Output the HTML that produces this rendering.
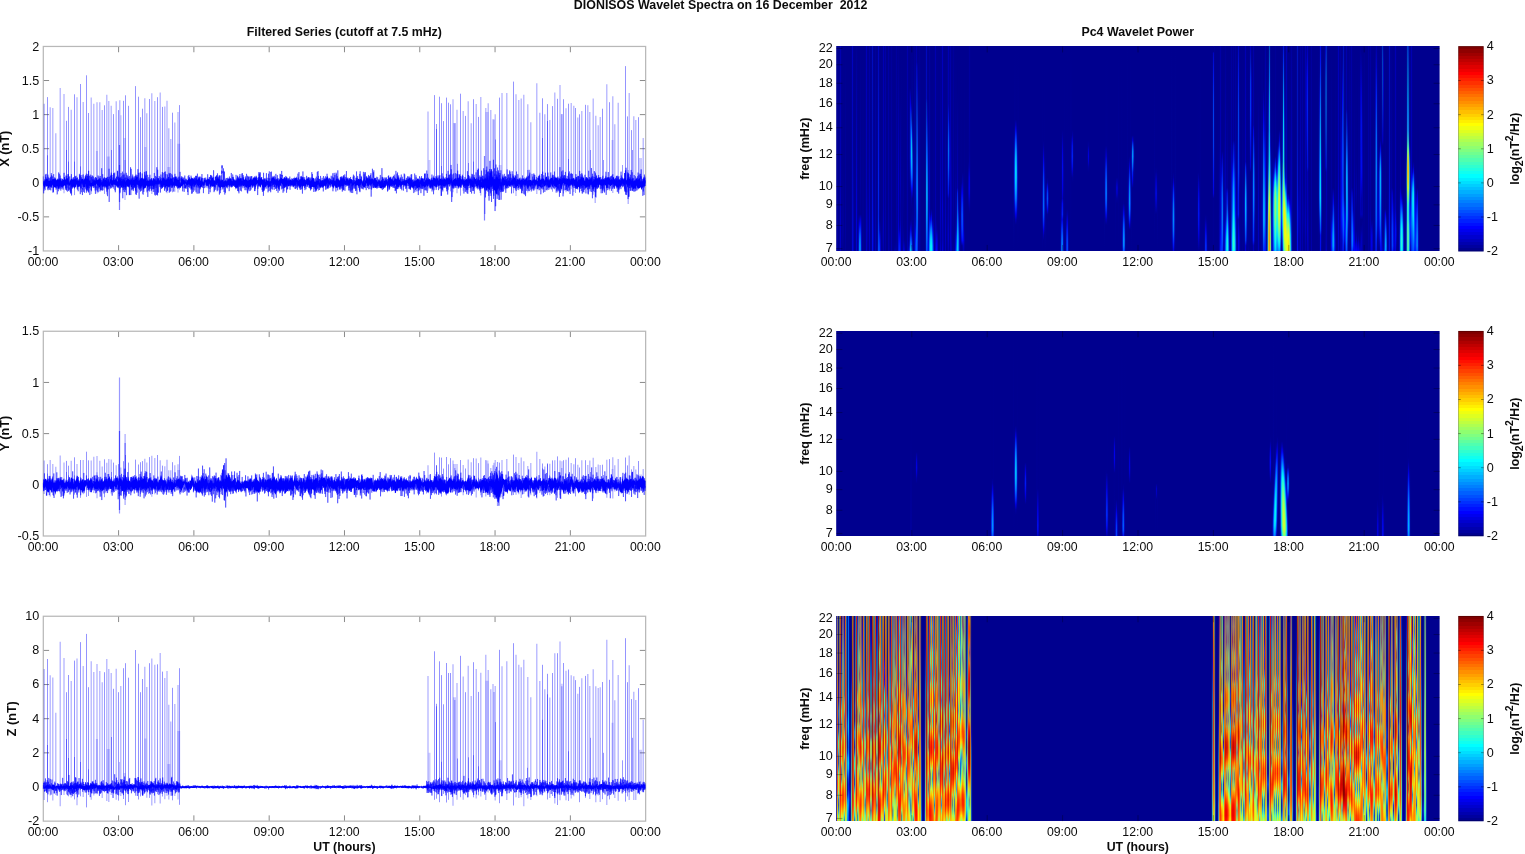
<!DOCTYPE html>
<html lang="en"><head><meta charset="utf-8"><title>DIONISOS Wavelet Spectra on 16 December 2012</title>
<style>html,body{margin:0;padding:0;background:#fff}body{width:1525px;height:854px;position:relative;overflow:hidden}</style></head>
<body>
<style>.sp{position:absolute;left:836px;width:604px;height:205px;overflow:hidden}.sp i{position:absolute;top:0;width:1px;height:205px}</style><svg width="1525" height="854" style="position:absolute;left:0;top:0"><rect x="836.2" y="46" width="603.4" height="205" fill="#00008f"/><rect x="836.2" y="331" width="603.4" height="205" fill="#00008f"/><rect x="836.2" y="616" width="603.4" height="205" fill="#00008f"/></svg><div class="sp" style="top:46px"><i style="left:1px;background:linear-gradient(#000092,#0000a6)"></i><i style="left:3px;background:linear-gradient(#000093,#000094 79.5%,#00009e)"></i><i style="left:4px;background:linear-gradient(#0000b0,#0000b4 69.2%,#0000c9 92.3%,#0000c2)"></i><i style="left:5px;background:linear-gradient(#000093,#000095)"></i><i style="left:6px;background:linear-gradient(#00008f,#000090 59%,#00009d 92.3%,#000094)"></i><i style="left:7px;background:linear-gradient(#00008f,#000090 59%,#00009c 89.7%,#000090)"></i><i style="left:9px;background:linear-gradient(#00008f,#00009f 89.7%,#009)"></i><i style="left:15px;background:linear-gradient(#000094,#000197)"></i><i style="left:16px;background:linear-gradient(#0003bd,#0008c0 74.4%,#0008d8)"></i><i style="left:17px;background:linear-gradient(#000094,#000194 48.7%,#0001bc)"></i><i style="left:18px;background:linear-gradient(#00008f,#000093)"></i><i style="left:19px;background:linear-gradient(#000090,#000096)"></i><i style="left:20px;background:linear-gradient(#000094,#0000d7 84.6%,#00c)"></i><i style="left:21px;background:linear-gradient(#000090,#00019b)"></i><i style="left:22px;background:linear-gradient(#00008f,#00008f 82.1%,#0000b1 87.2%,#0009c6 92.3%,#0019c7)"></i><i style="left:23px;background:linear-gradient(#00008f,#000090 82.1%,#0000b9 84.6%,#0001f3 87.2%,#0057fa 92.3%,#0075fa 94.9%,#0086fa 97.4%,#0088fa)"></i><i style="left:24px;background:linear-gradient(#00008f,#00009d 66.7%,#000094 82.1%,#0000d3 84.6%,#000af7 87.2%,#0056f9 92.3%,#006ffa 94.9%,#007ffa 97.4%,#0081fa)"></i><i style="left:25px;background:linear-gradient(#00008f,#000090 82.1%,#0000a5 84.6%,#0008c2 92.3%,#0011c7)"></i><i style="left:26px;background:linear-gradient(#00008f,#000095)"></i><i style="left:27px;background:linear-gradient(#00008f,#000096)"></i><i style="left:29px;background:linear-gradient(#000094,#000095)"></i><i style="left:30px;background:linear-gradient(#0000b8,#0000ba 76.9%,#0000c6)"></i><i style="left:31px;background:linear-gradient(#000094,#000095 66.7%,#0000ad 89.7%,#00009e)"></i><i style="left:32px;background:linear-gradient(#000092,#00009b 89.7%,#000096)"></i><i style="left:33px;background:linear-gradient(#0000a3,#0000af 53.8%,#0000c9 89.7%,#0000c1)"></i><i style="left:34px;background:linear-gradient(#000092,#000095)"></i><i style="left:35px;background:linear-gradient(#000194,#000299)"></i><i style="left:36px;background:linear-gradient(#000cbd,#000fbd 46.2%,#0010e5 87.2%,#000eea)"></i><i style="left:37px;background:linear-gradient(#000194,#000297 66.7%,#0002a3 79.5%,#0002bb 92.3%,#0002b3)"></i><i style="left:38px;background:linear-gradient(#000091,#000096)"></i><i style="left:39px;background:linear-gradient(#00009a,#0000b4)"></i><i style="left:40px;background:linear-gradient(#000091,#000095)"></i><i style="left:41px;background:linear-gradient(#000094,#000799 94.9%,#0008a9)"></i><i style="left:42px;background:linear-gradient(#0004bd,#000cbd 15.4%,#0018eb 56.4%,#0023ec 66.7%,#0021eb 82.1%,#0051f7)"></i><i style="left:43px;background:linear-gradient(#000094,#00049f 66.7%,#000499 84.6%,#0005c4 89.7%,#0013e7 92.3%,#0023fa 94.9%,#0037fb 97.4%,#0040fb)"></i><i style="left:44px;background:linear-gradient(#00008f,#00008f 84.6%,#00009d 89.7%,#0003c8 94.9%,#0006d3)"></i><i style="left:45px;background:linear-gradient(#00008f,#000090 82.1%,#000097)"></i><i style="left:46px;background:linear-gradient(#000093,#000093 79.5%,#0000a2 92.3%,#009)"></i><i style="left:47px;background:linear-gradient(#0000b3,#0000b3 76.9%,#0000c0 87.2%,#0000ad)"></i><i style="left:48px;background:linear-gradient(#000096,#000094)"></i><i style="left:49px;background:linear-gradient(#0000a5,#00a 87.2%,#0000a1)"></i><i style="left:52px;background:linear-gradient(#0000a3,#0000ac)"></i><i style="left:53px;background:linear-gradient(#000092,#000092 82.1%,#00009e)"></i><i style="left:54px;background:linear-gradient(#000091,#000094)"></i><i style="left:55px;background:linear-gradient(#00009a,#0000af)"></i><i style="left:56px;background:linear-gradient(#000091,#000093)"></i><i style="left:57px;background:linear-gradient(#00008f,#000091)"></i><i style="left:58px;background:linear-gradient(#00008f,#00008f 94.9%,#000094 97.4%,#0000a3)"></i><i style="left:59px;background:linear-gradient(#000091,#000090 94.9%,#000097 97.4%,#0000a9)"></i><i style="left:60px;background:linear-gradient(#00009d,#0000a4 79.5%,#009 94.9%,#0000a3)"></i><i style="left:61px;background:linear-gradient(#000091,#00029a)"></i><i style="left:62px;background:linear-gradient(#000093,#0000a8 33.3%,#0000c8 64.1%,#0000c7 82.1%,#0000d7 89.7%,#0015e8)"></i><i style="left:63px;background:linear-gradient(#000090,#00009b 87.2%,#0000af 89.7%,#0000df 92.3%,#0008fb 94.9%,#001dfb 97.4%,#0026fb)"></i><i style="left:64px;background:linear-gradient(#00008f,#000090 25.6%,#0000b5 66.7%,#0000a5 79.5%,#0000af 84.6%,#0003e2 94.9%,#000de2)"></i><i style="left:65px;background:linear-gradient(#00008f,#000198)"></i><i style="left:66px;background:linear-gradient(#00008f,#000090 51.3%,#00009e)"></i><i style="left:67px;background:linear-gradient(#00008f,#000090 51.3%,#00009a 71.8%,#000091 87.2%,#0000a4 94.9%,#0000d2)"></i><i style="left:68px;background:linear-gradient(#00008f,#000091 92.3%,#000094 94.9%,#0000c3)"></i><i style="left:69px;background:linear-gradient(#00008f,#00008f 92.3%,#009)"></i><i style="left:70px;background:linear-gradient(#000092,#000094)"></i><i style="left:71px;background:linear-gradient(#0000ab,#0000a7 87.2%,#0000b5)"></i><i style="left:72px;background:linear-gradient(#000092,#000092 89.7%,#000096 94.9%,#0001a3 97.4%,#0004be)"></i><i style="left:73px;background:linear-gradient(#00008f,#00008f 20.5%,#00009c 23.1%,#0000a0 28.2%,#00059c 38.5%,#0005a4 53.8%,#000091 69.2%,#00008f 84.6%,#000097 89.7%,#0009ba 94.9%,#0018c8 97.4%,#0033e7)"></i><i style="left:74px;background:linear-gradient(#00008f,#00008f 20.5%,#0000df 28.2%,#0022e5 33.3%,#0033e6 38.5%,#003ceb 43.6%,#003df6 53.8%,#0036f6 56.4%,#0022e1 61.5%,#0006bb 66.7%,#000095 71.8%,#000090 84.6%,#00a 87.2%,#0004db 89.7%,#0026f4 92.3%,#00bdfd)"></i><i style="left:75px;background:linear-gradient(#00008f,#000095 25.6%,#0000a1 28.2%,#0002c2 30.8%,#0035c6 35.9%,#0048e4 38.5%,#0069f6 41%,#00a9f9 46.2%,#00bffa 51.3%,#00bdfc 53.8%,#00a1fd 59%,#0066fb 64.1%,#0010f2 69.2%,#0000c8 71.8%,#0000a4 74.4%,#000090 79.5%,#000096 84.6%,#0000c2 89.7%,#0018e0 92.3%,#0042f7 94.9%,#00b0fa)"></i><i style="left:76px;background:linear-gradient(#00008f,#000594 35.9%,#000bb1 41%,#000fc6 43.6%,#0049c7 51.3%,#0055e5 56.4%,#0048f3 61.5%,#0038f3 64.1%,#0008e4 69.2%,#000092 74.4%,#000297 92.3%,#000ec7 97.4%,#0028cc)"></i><i style="left:77px;background:linear-gradient(#000090,#000092 35.9%,#00069c 61.5%,#000092 74.4%,#000399)"></i><i style="left:78px;background:linear-gradient(#000097,#0000ab 66.7%,#0000a7 82.1%,#0000bd 92.3%,#0005c0)"></i><i style="left:79px;background:linear-gradient(#000093,#000799 53.8%,#0009ac 66.7%,#00079d 82.1%,#0008b5 87.2%,#000cf8 92.3%,#0031f9 97.4%,#0035f9)"></i><i style="left:80px;background:linear-gradient(#0000ab,#0000ad 7.69%,#0006bf 10.3%,#003ec7 46.2%,#0045d0 51.3%,#0051f6 61.5%,#005ff7 66.7%,#005df6 71.8%,#004ef1 79.5%,#0049f6 84.6%,#0065ff 94.9%,#0063ff)"></i><i style="left:81px;background:linear-gradient(#000092,#000093 7.69%,#0001a7 10.3%,#0005c2 20.5%,#0020c3 30.8%,#0044f0 48.7%,#0062f4 59%,#0077f6 71.8%,#0070f6 79.5%,#0030f5)"></i><i style="left:82px;background:linear-gradient(#000090,#000b9b 64.1%,#000cab 76.9%,#00099b 87.2%,#0004a0)"></i><i style="left:83px;background:linear-gradient(#000095,#0000a6)"></i><i style="left:84px;background:linear-gradient(#000090,#000097)"></i><i style="left:89px;background:linear-gradient(#000194,#000194 25.6%,#001099 71.8%,#000ea4 84.6%,#0008a1)"></i><i style="left:90px;background:linear-gradient(#0009bd,#000abd 25.6%,#0024be 28.2%,#002dc3 33.3%,#0049f0 46.2%,#0088f5 61.5%,#009ef5 71.8%,#0094f6 82.1%,#004ef6)"></i><i style="left:91px;background:linear-gradient(#000194,#000194 25.6%,#0005c0 35.9%,#0022c6 43.6%,#004cf5 56.4%,#0074f5 66.7%,#0080f6 74.4%,#0077f5 79.5%,#002cfb)"></i><i style="left:92px;background:linear-gradient(#000091,#000092 25.6%,#000ca6 74.4%,#000ba4 87.2%,#0011da 94.9%,#0012e5 97.4%,#0011e3)"></i><i style="left:93px;background:linear-gradient(#00009c,#0000ac 46.2%,#0000c4 69.2%,#0000c1 79.5%,#00d 82.1%,#000beb 84.6%,#0021f5 87.2%,#0079fb 94.9%,#008afc 97.4%,#008ffb)"></i><i style="left:94px;background:linear-gradient(#000091,#000095 79.5%,#00009e 82.1%,#0002e0 84.6%,#03f 87.2%,#0078ff 89.7%,#00afff 92.3%,#00d6ff 94.9%,#02ebfd 97.4%,#05eefa)"></i><i style="left:95px;background:linear-gradient(#00008f,#00008f 79.5%,#0000c2 82.1%,#000bf2 84.6%,#0082fe 89.7%,#00b5ff 92.3%,#00dcff 94.9%,#05effa 97.4%,#07f2f8)"></i><i style="left:96px;background:linear-gradient(#00008f,#000090 79.5%,#00019c 84.6%,#0007cb 87.2%,#0023f4 89.7%,#007dfc 94.9%,#0096fd 97.4%,#019efe)"></i><i style="left:97px;background:linear-gradient(#00008f,#000096 82.1%,#00009d 84.6%,#0002c3 89.7%,#0009d4 92.3%,#0024e4 97.4%,#0029ed)"></i><i style="left:98px;background:linear-gradient(#000093,#000093 82.1%,#00039f)"></i><i style="left:99px;background:linear-gradient(#0000af,#0000ad 84.6%,#0000b7 92.3%,#0001c4 97.4%,#0004d4)"></i><i style="left:100px;background:linear-gradient(#000093,#000093 84.6%,#0000a8 89.7%,#0000e3 94.9%,#000af8)"></i><i style="left:101px;background:linear-gradient(#000091,#000091 87.2%,#009 89.7%,#0000c5 94.9%,#0001d6)"></i><i style="left:102px;background:linear-gradient(#000090,#000090 87.2%,#000096)"></i><i style="left:103px;background:linear-gradient(#00008f,#000095)"></i><i style="left:104px;background:linear-gradient(#00008f,#0000a1 41%,#0000c1 76.9%,#0000b3 94.9%,#0000c1)"></i><i style="left:105px;background:linear-gradient(#000094,#00009c)"></i><i style="left:106px;background:linear-gradient(#00b,#00b 66.7%,#0000cf 79.5%,#0000ba 89.7%,#0000ba 94.9%,#0000d5)"></i><i style="left:107px;background:linear-gradient(#000094,#000094 69.2%,#0000ac)"></i><i style="left:108px;background:linear-gradient(#00008f,#000097)"></i><i style="left:109px;background:linear-gradient(#00008f,#000091 25.6%,#0000c2 92.3%,#00b)"></i><i style="left:110px;background:linear-gradient(#00008f,#000095)"></i><i style="left:111px;background:linear-gradient(#000093,#000799 41%,#000baf 51.3%,#000ab6 59%,#0002aa 71.8%,#000093 74.4%,#0000a9 92.3%,#00009e)"></i><i style="left:112px;background:linear-gradient(#0000b2,#0000b3 28.2%,#0017e4 35.9%,#0027ec 38.5%,#005bf1 46.2%,#0069f2 51.3%,#005af3 59%,#001bed 69.2%,#0011e5 71.8%,#0000b3 74.4%,#0000b5 84.6%,#0000c6 92.3%,#0000c5 94.9%,#0000b4)"></i><i style="left:113px;background:linear-gradient(#000096,#00039d 35.9%,#0008c7 43.6%,#0019cc 51.3%,#000dcc 59%,#0007bb 64.1%,#00039e 69.2%,#000098 74.4%,#000098)"></i><i style="left:114px;background:linear-gradient(#0000a7,#0000c0 59%,#0000be 87.2%,#0000c6 92.3%,#0000bc)"></i><i style="left:115px;background:linear-gradient(#000092,#000094 41%,#0000b3 76.9%,#0000a7 92.3%,#0000b5)"></i><i style="left:116px;background:linear-gradient(#000091,#000095)"></i><i style="left:117px;background:linear-gradient(#00009a,#0000a1 79.5%,#000091 94.9%,#00009d)"></i><i style="left:118px;background:linear-gradient(#000091,#000091 87.2%,#000199)"></i><i style="left:119px;background:linear-gradient(#00008f,#000097 61.5%,#0000a4 74.4%,#00009b 84.6%,#0001a4 89.7%,#0008d7 97.4%,#0012e2)"></i><i style="left:120px;background:linear-gradient(#00008f,#000095 69.2%,#000aa5 82.1%,#000ebf 87.2%,#0018ca 89.7%,#003ffa 94.9%,#0072fd)"></i><i style="left:121px;background:linear-gradient(#00008f,#00008f 23.1%,#0000b2 69.2%,#001ceb 71.8%,#004af0 79.5%,#00adfd 92.3%,#00c8ff 97.4%,#0cf)"></i><i style="left:122px;background:linear-gradient(#00008f,#000093 69.2%,#00059d 74.4%,#0008c1 79.5%,#0041f6 87.2%,#0074f9 92.3%,#0081fa 94.9%,#0082fa)"></i><i style="left:123px;background:linear-gradient(#00008f,#000090 74.4%,#000398 84.6%,#000ccb 94.9%,#000cc4)"></i><i style="left:124px;background:linear-gradient(#00008f,#000090 66.7%,#000499 84.6%,#0002a3 89.7%,#000094)"></i><i style="left:125px;background:linear-gradient(#00008f,#000091 64.1%,#000097 66.7%,#0000d6 71.8%,#000be8 74.4%,#002ef5 82.1%,#0028f5 87.2%,#000feb 92.3%,#0002d9 94.9%,#000091 97.4%,#000090)"></i><i style="left:126px;background:linear-gradient(#00008f,#00008f 61.5%,#0000b0 66.7%,#00e 71.8%,#002cf7 76.9%,#0047f9 82.1%,#004af9 84.6%,#003bfc 89.7%,#000ffa 94.9%,#0000a4 97.4%,#000098)"></i><i style="left:127px;background:linear-gradient(#00008f,#00008f 61.5%,#0008c3 84.6%,#0007e2 92.3%,#0002e5 94.9%,#0000c0 97.4%,#0000ae)"></i><i style="left:128px;background:linear-gradient(#00008f,#000094 84.6%,#000097 89.7%,#0000ab 94.9%,#000098)"></i><i style="left:131px;background:linear-gradient(#00008f,#00008f)"></i><i style="left:132px;background:linear-gradient(#000091,#000092 56.4%,#0000b5 64.1%,#0000be 69.2%,#0000b9 71.8%,#000091 79.5%,#00008f)"></i><i style="left:133px;background:linear-gradient(#00009d,#0000a2 33.3%,#00009a 51.3%,#0000ab 59%,#0000da 64.1%,#0000e4 69.2%,#0000db 71.8%,#0000ac 76.9%,#00008f 82.1%,#00008f)"></i><i style="left:134px;background:linear-gradient(#000091,#000091 51.3%,#000098 69.2%,#00008f 82.1%,#00008f)"></i><i style="left:177px;background:linear-gradient(#00008f,#00008f 41%,#000599 64.1%,#00008f)"></i><i style="left:178px;background:linear-gradient(#00008f,#000093 38.5%,#0004a2 43.6%,#000ec7 48.7%,#0021c7 51.3%,#003ce0 56.4%,#0046f1 64.1%,#003aec 69.2%,#001fdb 74.4%,#000cce 76.9%,#0004b9 79.5%,#000093 84.6%,#00008f)"></i><i style="left:179px;background:linear-gradient(#00008f,#000091 35.9%,#0000b4 38.5%,#0006e2 41%,#0027f4 43.6%,#0077fa 48.7%,#00b2fb 53.8%,#00d0fe 59%,#00d4fe 61.5%,#00c5fe 66.7%,#0099fd 71.8%,#0079fc 74.4%,#0025f8 79.5%,#0000e9 82.1%,#0000b2 84.6%,#00008f 87.2%,#00008f)"></i><i style="left:180px;background:linear-gradient(#00008f,#000090 35.9%,#0000a5 38.5%,#0001c7 41%,#0032f5 46.2%,#0079f8 51.3%,#0093f9 53.8%,#00b2fa 59%,#00b7fa 61.5%,#00b5fa 64.1%,#009afa 69.2%,#0063f9 74.4%,#0016f3 79.5%,#0000d7 82.1%,#0000a4 84.6%,#00008f 87.2%,#00008f)"></i><i style="left:181px;background:linear-gradient(#00008f,#000091 38.5%,#000599 46.2%,#0014c7 56.4%,#0023c7 64.1%,#000fc7 71.8%,#0002a0 79.5%,#000091 84.6%,#00008f)"></i><i style="left:182px;background:linear-gradient(#00008f,#000094 56.4%,#00008f)"></i><i style="left:205px;background:linear-gradient(#00008f,#00008f)"></i><i style="left:206px;background:linear-gradient(#00008f,#000091 48.7%,#000499 61.5%,#000aba 71.8%,#000bc3 79.5%,#0007b5 84.6%,#000098 89.7%,#00008f)"></i><i style="left:207px;background:linear-gradient(#00008f,#00008f 46.2%,#00009b 48.7%,#0000cf 53.8%,#0006e4 56.4%,#0014ee 59%,#003af1 64.1%,#0056f3 69.2%,#0067f6 76.9%,#0064f6 79.5%,#0056f5 82.1%,#001df1 87.2%,#0000e2 89.7%,#0000af 92.3%,#00008f 94.9%,#00008f)"></i><i style="left:208px;background:linear-gradient(#00008f,#000091 48.7%,#00009b 53.8%,#0004c2 61.5%,#0022cb 71.8%,#0027d6 79.5%,#0003c4 87.2%,#000093 92.3%,#00008f)"></i><i style="left:209px;background:linear-gradient(#00008f,#00008f 51.3%,#00039b 76.9%,#00008f)"></i><i style="left:210px;background:linear-gradient(#00008f,#00008f 64.1%,#000092 66.7%,#0007c5 71.8%,#000ec7 74.4%,#0006c5 76.9%,#000091 82.1%,#00008f)"></i><i style="left:211px;background:linear-gradient(#00008f,#00008f 64.1%,#0000a7 66.7%,#000dee 69.2%,#003ef3 71.8%,#004ef4 74.4%,#003af3 76.9%,#0004ee 79.5%,#00009b 82.1%,#00008f 84.6%,#00008f)"></i><i style="left:212px;background:linear-gradient(#00008f,#00008f 64.1%,#000092 66.7%,#00019f 69.2%,#0007b8 71.8%,#0008c1 74.4%,#0006b9 76.9%,#000091 82.1%,#00008f)"></i><i style="left:213px;background:linear-gradient(#00008f,#00008f)"></i><i style="left:224px;background:linear-gradient(#00008f,#00008f 74.4%,#00089b 94.9%,#000aa6)"></i><i style="left:225px;background:linear-gradient(#00008f,#00008f 41%,#000199 59%,#000095 74.4%,#0001b3 76.9%,#0008c9 82.1%,#0001c9 84.6%,#0029f1 89.7%,#0056f5 94.9%,#0062f6 97.4%,#0064f6)"></i><i style="left:226px;background:linear-gradient(#00008f,#00008f 41%,#00009c 43.6%,#0000d9 51.3%,#000aec 59%,#0000e2 69.2%,#0000bf 74.4%,#000aef 76.9%,#0022f2 82.1%,#0006dd 84.6%,#001cf3 87.2%,#0059f7 92.3%,#006df9 94.9%,#0079f9 97.4%,#007afa)"></i><i style="left:227px;background:linear-gradient(#00008f,#00008f 41%,#000096 48.7%,#0001af 61.5%,#0000a7 69.2%,#000095 74.4%,#0001a5 76.9%,#0004a7 82.1%,#000197 84.6%,#0006a2 89.7%,#000bba 94.9%,#000cc3)"></i><i style="left:228px;background:linear-gradient(#00008f,#000094)"></i><i style="left:229px;background:linear-gradient(#00008f,#00008f 79.5%,#000399)"></i><i style="left:230px;background:linear-gradient(#00008f,#000090 79.5%,#00009c 82.1%,#0001c7 87.2%,#000ed7 89.7%,#0023eb 94.9%,#0026f0)"></i><i style="left:231px;background:linear-gradient(#00008f,#000090 79.5%,#0000a6 82.1%,#00c 84.6%,#0009e4 87.2%,#0018f2 89.7%,#003df6 94.9%,#0046f7 97.4%,#0043f7)"></i><i style="left:232px;background:linear-gradient(#00008f,#000090 79.5%,#000399 89.7%,#0006aa 94.9%,#0007b0)"></i><i style="left:234px;background:linear-gradient(#00008f,#000094 51.3%,#00008f)"></i><i style="left:235px;background:linear-gradient(#00008f,#000092 43.6%,#0002bf 48.7%,#000ac7 53.8%,#0005c7 56.4%,#0001bb 59%,#000090 64.1%,#00008f)"></i><i style="left:236px;background:linear-gradient(#00008f,#00008f 41%,#0000a7 43.6%,#0002cf 46.2%,#0013e3 48.7%,#0021f0 53.8%,#0019ed 56.4%,#000be0 59%,#0000c0 61.5%,#000098 64.1%,#00008f 66.7%,#00008f)"></i><i style="left:237px;background:linear-gradient(#00008f,#00008f 41%,#000499 53.8%,#00008f 66.7%,#00008f)"></i><i style="left:251px;background:linear-gradient(#00008f,#00008f 46.2%,#00009a 53.8%,#00008f 61.5%,#00008f)"></i><i style="left:252px;background:linear-gradient(#00008f,#00008f 46.2%,#00009e 48.7%,#00c 51.3%,#00d 53.8%,#0000cd 56.4%,#00009e 59%,#00008f 61.5%,#00008f)"></i><i style="left:253px;background:linear-gradient(#00008f,#00008f 46.2%,#000098 53.8%,#00008f 61.5%,#00008f)"></i><i style="left:268px;background:linear-gradient(#00008f,#00008f 48.7%,#000699 66.7%,#00008f)"></i><i style="left:269px;background:linear-gradient(#00008f,#000090 48.7%,#0000b7 53.8%,#0009c5 56.4%,#002ae0 61.5%,#0040f5 66.7%,#004ff5 71.8%,#0047f5 74.4%,#0034f3 76.9%,#0006cf 82.1%,#00a 84.6%,#00008f 87.2%,#00008f)"></i><i style="left:270px;background:linear-gradient(#00008f,#000091 48.7%,#0000c6 53.8%,#0024ec 59%,#0061f5 66.7%,#006ef6 71.8%,#0065f6 74.4%,#004ef5 76.9%,#002cf3 79.5%,#000ce2 82.1%,#0000b4 84.6%,#00008f 87.2%,#00008f)"></i><i style="left:271px;background:linear-gradient(#00008f,#000090 48.7%,#000a99 66.7%,#000ba4 71.8%,#00008f 87.2%,#00008f)"></i><i style="left:279px;background:linear-gradient(#00008f,#00008f 64.1%,#000095 69.2%,#00008f)"></i><i style="left:280px;background:linear-gradient(#00008f,#00008f 64.1%,#0001cb 69.2%,#0000c0 71.8%,#00009a 74.4%,#00008f 76.9%,#00008f)"></i><i style="left:281px;background:linear-gradient(#00008f,#00008f 64.1%,#0000c6 69.2%,#00b 71.8%,#009 74.4%,#00008f 76.9%,#00008f)"></i><i style="left:282px;background:linear-gradient(#00008f,#000095 69.2%,#00008f)"></i><i style="left:285px;background:linear-gradient(#00008f,#000093)"></i><i style="left:286px;background:linear-gradient(#00008f,#000090 76.9%,#0005a1 84.6%,#000cc0 89.7%,#0011c7 92.3%,#0017c7 94.9%,#0015c7 97.4%,#0009ba)"></i><i style="left:287px;background:linear-gradient(#00008f,#00008f 74.4%,#000096 76.9%,#0000c2 79.5%,#000de8 82.1%,#0056f7 87.2%,#0072f9 89.7%,#008ffa 94.9%,#0086fa 97.4%,#0054f8)"></i><i style="left:288px;background:linear-gradient(#00008f,#000090 76.9%,#0002c6 82.1%,#002fee 87.2%,#005af5 92.3%,#0064f5 94.9%,#005df5 97.4%,#002ef4)"></i><i style="left:289px;background:linear-gradient(#00008f,#00008f 76.9%,#000999 94.9%,#000499)"></i><i style="left:291px;background:linear-gradient(#00008f,#000194 71.8%,#00008f)"></i><i style="left:292px;background:linear-gradient(#00008f,#00008f 53.8%,#000399 61.5%,#000dc6 69.2%,#0017c7 71.8%,#0020c7 76.9%,#000ac5 82.1%,#000097 87.2%,#00008f 89.7%,#00008f)"></i><i style="left:293px;background:linear-gradient(#00008f,#00008f 53.8%,#0000ac 56.4%,#0000dc 59%,#001aee 61.5%,#005df3 66.7%,#0075f6 69.2%,#0091f7 74.4%,#0092f8 76.9%,#0082f7 79.5%,#005ef6 82.1%,#002af2 84.6%,#0000d6 87.2%,#00008f 89.7%,#00008f)"></i><i style="left:294px;background:linear-gradient(#00008f,#000093 53.8%,#0000a3 59%,#0009c8 64.1%,#001cc7 66.7%,#0035d8 71.8%,#003ce0 76.9%,#0034dd 79.5%,#0005c7 84.6%,#0000a6 87.2%,#00008f 89.7%,#00008f)"></i><i style="left:295px;background:linear-gradient(#00008f,#00008f 43.6%,#000899 48.7%,#0010ba 53.8%,#000ebc 56.4%,#0002a6 64.1%,#000396 69.2%,#00008f)"></i><i style="left:296px;background:linear-gradient(#00008f,#00008f 43.6%,#0003d5 46.2%,#004cf0 48.7%,#0085f4 51.3%,#0093f6 53.8%,#0081f5 56.4%,#005df3 59%,#0028ef 61.5%,#000ded 64.1%,#0000cd 66.7%,#000094 69.2%,#00008f 71.8%,#00008f)"></i><i style="left:297px;background:linear-gradient(#00008f,#00008f 43.6%,#0000ad 46.2%,#0043de 51.3%,#0047e1 53.8%,#0035d0 56.4%,#0019c7 59%,#0004b1 61.5%,#000090 69.2%,#00008f)"></i><i style="left:298px;background:linear-gradient(#00008f,#00008f 43.6%,#000697 53.8%,#00008f 66.7%,#00008f)"></i><i style="left:318px;background:linear-gradient(#00008f,#000195 71.8%,#00008f)"></i><i style="left:319px;background:linear-gradient(#00008f,#00008f 59%,#000094 61.5%,#0000be 66.7%,#0006cd 71.8%,#0001ca 74.4%,#00008f 82.1%,#00008f)"></i><i style="left:320px;background:linear-gradient(#00008f,#00008f 59%,#000098 61.5%,#0000c7 66.7%,#0009d6 71.8%,#0004d2 74.4%,#00008f 82.1%,#00008f)"></i><i style="left:321px;background:linear-gradient(#00008f,#00008f 59%,#000197 71.8%,#00008f)"></i><i style="left:335px;background:linear-gradient(#00008f,#000396 84.6%,#000090)"></i><i style="left:336px;background:linear-gradient(#00008f,#000091 64.1%,#000096 66.7%,#000cc7 74.4%,#0026c9 79.5%,#002ed3 84.6%,#0023cf 89.7%,#0006c7 94.9%,#0000a1)"></i><i style="left:337px;background:linear-gradient(#00008f,#00008f 61.5%,#00009e 64.1%,#0000ce 66.7%,#000fee 69.2%,#0034f2 71.8%,#006df5 76.9%,#0087f6 82.1%,#0088f7 84.6%,#0071f6 89.7%,#0059f5 92.3%,#0015f1 97.4%,#0000d7)"></i><i style="left:338px;background:linear-gradient(#00008f,#000091 64.1%,#000096 66.7%,#000ac7 74.4%,#0024c7 79.5%,#002bd0 84.6%,#0021cc 89.7%,#0006c5 94.9%,#00009f)"></i><i style="left:339px;background:linear-gradient(#00008f,#000395 84.6%,#000090)"></i><i style="left:361px;background:linear-gradient(#00008f,#000090 61.5%,#000299 82.1%,#000090)"></i><i style="left:362px;background:linear-gradient(#00008f,#000090 61.5%,#0004dd 71.8%,#0010eb 76.9%,#0013ef 82.1%,#000cea 87.2%,#0000d6 92.3%,#000092)"></i><i style="left:363px;background:linear-gradient(#00008f,#000091 64.1%,#0001c0 74.4%,#0005c8 82.1%,#0001bd 89.7%,#000090)"></i><i style="left:364px;background:linear-gradient(#00008f,#000095 84.6%,#00008f)"></i><i style="left:368px;background:linear-gradient(#00008f,#00008f 82.1%,#0004a3)"></i><i style="left:369px;background:linear-gradient(#00008f,#00008f 82.1%,#00009e 84.6%,#0003dd 89.7%,#0010ec 92.3%,#0029f4 97.4%,#0027f4)"></i><i style="left:370px;background:linear-gradient(#00008f,#00008f 82.1%,#000096 84.6%,#0000c1 89.7%,#0009d5 92.3%,#0019e6 97.4%,#0018e6)"></i><i style="left:371px;background:linear-gradient(#00008f,#00008f 82.1%,#000298)"></i><i style="left:376px;background:linear-gradient(#000094,#000799 35.9%,#000299 64.1%,#000098 71.8%,#000090 74.4%,#000090)"></i><i style="left:377px;background:linear-gradient(#0000ba,#0018e8 15.4%,#0035eb 25.6%,#0042eb 35.9%,#0039ec 48.7%,#0010eb 64.1%,#0003dc 71.8%,#000094 74.4%,#000094)"></i><i style="left:378px;background:linear-gradient(#000094,#0005a0 53.8%,#000098 71.8%,#000090 74.4%,#000090)"></i><i style="left:382px;background:linear-gradient(#00008f,#000093)"></i><i style="left:383px;background:linear-gradient(#000092,#000093 46.2%,#0003bc)"></i><i style="left:384px;background:linear-gradient(#0000a4,#0000b3 53.8%,#0004cb 74.4%,#0005c3 82.1%,#0005ce 87.2%,#0004ea 92.3%,#0009f6 94.9%,#001ef9)"></i><i style="left:385px;background:linear-gradient(#000092,#000093 51.3%,#009 53.8%,#0003c4 61.5%,#002be3 71.8%,#0037e4 84.6%,#0030fc 92.3%,#0031ff)"></i><i style="left:386px;background:linear-gradient(#00008f,#00008f 51.3%,#0000b7 53.8%,#0025f0 64.1%,#004cf2 69.2%,#0068f5 74.4%,#007af6 82.1%,#006df8 89.7%,#0051f9 94.9%,#0029f7)"></i><i style="left:387px;background:linear-gradient(#00008f,#000090 51.3%,#00089d 69.2%,#000cb8 76.9%,#000cc2 87.2%,#0008bf 94.9%,#0004ae)"></i><i style="left:388px;background:linear-gradient(#000090,#000094 43.6%,#0000af 84.6%,#0008ca)"></i><i style="left:389px;background:linear-gradient(#000097,#0000b6 71.8%,#0003b1 79.5%,#0006bc 84.6%,#0014f8 89.7%,#004cf9 94.9%,#005bf9 97.4%,#0060fa)"></i><i style="left:390px;background:linear-gradient(#000090,#000094 53.8%,#0000a0 69.2%,#0003c7 71.8%,#0026ca 79.5%,#0036d4 82.1%,#0048ef 84.6%,#006afc 87.2%,#01b2fe 92.3%,#01cafe 94.9%,#04d6fb)"></i><i style="left:391px;background:linear-gradient(#00008f,#000090 25.6%,#0000a2 69.2%,#0011d2 71.8%,#0029ec 76.9%,#0cf 89.7%,#0deff2 94.9%,#16f1e9 97.4%,#11f1ee)"></i><i style="left:392px;background:linear-gradient(#00008f,#000091 69.2%,#0007a0 79.5%,#0013dc 84.6%,#0045f5 89.7%,#0177f6 94.9%,#0284f5 97.4%,#0284f6)"></i><i style="left:393px;background:linear-gradient(#00008f,#000090 79.5%,#000398 87.2%,#000cb5)"></i><i style="left:394px;background:linear-gradient(#000091,#000395 82.1%,#00059c)"></i><i style="left:395px;background:linear-gradient(#00009d,#0000ab 46.2%,#0000c2 61.5%,#0022c9 82.1%,#0044ec 94.9%,#0045f1)"></i><i style="left:396px;background:linear-gradient(#000092,#000095 46.2%,#0004ba 56.4%,#000af3 61.5%,#003efa 69.2%,#0069fa 79.5%,#04cbf9 92.3%,#07d7f7 94.9%,#04d6fb)"></i><i style="left:397px;background:linear-gradient(#00009b,#0000a4 46.2%,#0010c1 48.7%,#002af1 56.4%,#005afc 61.5%,#009aff 69.2%,#00ceff 79.5%,#0ef3f1 87.2%,#30fccf 94.9%,#33fccc 97.4%,#23fbdc)"></i><i style="left:398px;background:linear-gradient(#000092,#000094 46.2%,#0002b2 48.7%,#0005c8 53.8%,#001fce 59%,#0039f3 64.1%,#0048fb 66.7%,#0087ff 79.5%,#08d4f7 89.7%,#15eaea 94.9%,#17eee8 97.4%,#0ee8f1)"></i><i style="left:399px;background:linear-gradient(#00009e,#0000a3 46.2%,#0003b0 59%,#0006d4 66.7%,#000df3 79.5%,#0018f7 82.1%,#0278f5 94.9%,#0280f6 97.4%,#017cf7)"></i><i style="left:400px;background:linear-gradient(#000091,#000096 61.5%,#00009a 71.8%,#0001b0 82.1%,#0009ad 92.3%,#000bb4)"></i><i style="left:401px;background:linear-gradient(#000094,#00079b 41%,#0007af 56.4%,#0002bf 82.1%,#0000a0 84.6%,#00009e)"></i><i style="left:402px;background:linear-gradient(#0005bd,#001deb 17.9%,#003bec 30.8%,#0041ed 41%,#003cf2 61.5%,#001cee 71.8%,#0016e8 76.9%,#0014ee 82.1%,#0000b8 84.6%,#0000e6 92.3%,#0000eb 94.9%,#0000e3)"></i><i style="left:403px;background:linear-gradient(#000094,#000599 25.6%,#0007aa 35.9%,#0007aa 48.7%,#0007bf 61.5%,#000399 71.8%,#00029d 82.1%,#000094 84.6%,#000096 87.2%,#0000c1 94.9%,#0000b7)"></i><i style="left:404px;background:linear-gradient(#00008f,#000093)"></i><i style="left:406px;background:linear-gradient(#00008f,#009 79.5%,#000091 94.9%,#000097)"></i><i style="left:407px;background:linear-gradient(#00008f,#000095 79.5%,#000090)"></i><i style="left:408px;background:linear-gradient(#000093,#000094 56.4%,#000c99 66.7%,#0012bc 74.4%,#0012c5 79.5%,#000eba 87.2%,#000699 94.9%,#000097)"></i><i style="left:409px;background:linear-gradient(#0000b3,#0000b9 56.4%,#0020e9 59%,#0087f3 69.2%,#00a7f8 74.4%,#00adf9 76.9%,#00abf9 79.5%,#0095f9 84.6%,#0038f1 94.9%,#0000d4 97.4%,#0000d3)"></i><i style="left:410px;background:linear-gradient(#000093,#000094 56.4%,#0006c2 61.5%,#002bc7 66.7%,#0048e3 71.8%,#0054f2 79.5%,#0048f1 84.6%,#02d 92.3%,#0012ce 94.9%,#0000a1 97.4%,#00009c)"></i><i style="left:411px;background:linear-gradient(#00008f,#000090 56.4%,#00079a 79.5%,#000092)"></i><i style="left:412px;background:linear-gradient(#00008f,#000094 89.7%,#000096 97.4%,#0000a0)"></i><i style="left:413px;background:linear-gradient(#000093,#00049a 41%,#000096 59%,#000090 61.5%,#000092)"></i><i style="left:414px;background:linear-gradient(#0000b2,#0001bd 2.56%,#0017be 7.69%,#0031e3 17.9%,#0033f0 30.8%,#0028ef 38.5%,#0000d6 56.4%,#0000cb 59%,#00008f 61.5%,#000092)"></i><i style="left:415px;background:linear-gradient(#000093,#000298 7.69%,#0005bb 15.4%,#0006c6 20.5%,#0006c7 33.3%,#000091 61.5%,#000090)"></i><i style="left:416px;background:linear-gradient(#000092,#000097 38.5%,#00099a 53.8%,#000eb8 66.7%,#000dc0 74.4%,#0003b5 94.9%,#000097 97.4%,#000095)"></i><i style="left:417px;background:linear-gradient(#0000a7,#00a 38.5%,#0006dc 41%,#000ce9 43.6%,#006cf2 59%,#007df5 64.1%,#0084f7 69.2%,#007ff8 74.4%,#006ef6 79.5%,#001ff1 94.9%,#00b 97.4%,#0000ba)"></i><i style="left:418px;background:linear-gradient(#000092,#000092 38.5%,#000199 43.6%,#000ec7 53.8%,#001ac7 56.4%,#002bd7 61.5%,#0036e7 71.8%,#0027dc 79.5%,#000ac7 87.2%,#0003b5 94.9%,#000094 97.4%,#000094)"></i><i style="left:419px;background:linear-gradient(#00008f,#00008f 43.6%,#000498 71.8%,#00008f)"></i><i style="left:421px;background:linear-gradient(#00008f,#000094)"></i><i style="left:422px;background:linear-gradient(#00008f,#000090 23.1%,#0000bf 79.5%,#0000b9)"></i><i style="left:423px;background:linear-gradient(#00008f,#000094)"></i><i style="left:424px;background:linear-gradient(#00008f,#000091 64.1%,#00009e 87.2%,#000093)"></i><i style="left:425px;background:linear-gradient(#00008f,#00009e 64.1%,#0000a9 79.5%,#00009e 94.9%,#0000a2)"></i><i style="left:426px;background:linear-gradient(#00008f,#009 35.9%,#000d9c 64.1%,#0010be 74.4%,#0011c9 82.1%,#0009af 94.9%,#0005ad)"></i><i style="left:427px;background:linear-gradient(#00008f,#00008f 20.5%,#0004e0 35.9%,#001ff0 43.6%,#0071f5 61.5%,#0095f8 71.8%,#00a5fa 79.5%,#00a4fa 84.6%,#009bf9 87.2%,#0075f8 92.3%,#002cf7)"></i><i style="left:428px;background:linear-gradient(#000092,#000097 28.2%,#0003cb 41%,#000ccc 43.6%,#0036fd 56.4%,#008eff 74.4%,#009cff 79.5%,#0097ff 84.6%,#008aff 87.2%,#002eff 97.4%,#0020ff)"></i><i style="left:429px;background:linear-gradient(#0000a5,#0000b3 38.5%,#0007ee 61.5%,#002ff5 76.9%,#0038f5 84.6%,#0010f6)"></i><i style="left:430px;background:linear-gradient(#000092,#000299 71.8%,#000aa7)"></i><i style="left:431px;background:linear-gradient(#00008f,#000394 41%,#061394 71.8%,#081599 74.4%,#0c17ba 79.5%,#124cb5 89.7%,#1363ba)"></i><i style="left:432px;background:linear-gradient(#000894,#000c99 15.4%,#0214c5 28.2%,#0227c5 35.9%,#0129c6 41%,#0238c6 43.6%,#0147c6 51.3%,#025bc5 56.4%,#0778e3 61.5%,#128ae3 64.1%,#6be78d 76.9%,#9de35d 82.1%,#a9da51 84.6%,#c1c939 92.3%,#c7ca33)"></i><i style="left:433px;background:linear-gradient(#0047bd,#0055c2 5.13%,#0066e6 12.8%,#1098e0 25.6%,#13a4de 33.3%,#0aa0e7 41%,#0ecde8 53.8%,#14dae3 56.4%,#3de3bf 61.5%,#87ef78 69.2%,#c5f63a 74.4%,#d6ee29 76.9%,#e3e21c 79.5%,#e9bf16 84.6%,#eca713 89.7%,#f0990f 94.9%,#f19e0e)"></i><i style="left:434px;background:linear-gradient(#000894,#0111a3 41%,#0114c5 48.7%,#0c78e9 66.7%,#0e8ce7 69.2%,#1c9ad9 71.8%,#46bbaf 79.5%,#65d694 87.2%,#6cde8d 89.7%,#84dd76 94.9%,#8ddf6d)"></i><i style="left:435px;background:linear-gradient(#00008f,#000095 48.7%,#000d9e 69.2%,#051499 79.5%,#0919be 89.7%,#0d1fbf)"></i><i style="left:436px;background:linear-gradient(#00008f,#00008f 28.2%,#00009a 53.8%,#0000a6 61.5%,#000bc7 71.8%,#001ac7 76.9%,#0021d0 84.6%,#0007c9)"></i><i style="left:437px;background:linear-gradient(#00008f,#000094 53.8%,#0004b4 61.5%,#000bdf 64.1%,#0028f8 66.7%,#0579f5 71.8%,#0791f3 74.4%,#08a1f2 79.5%,#07a0f3 82.1%,#048ff7 87.2%,#0047fa)"></i><i style="left:438px;background:linear-gradient(#000090,#000091 53.8%,#0001a7 56.4%,#0009c9 59%,#0034e7 61.5%,#0074fc 64.1%,#03bbfc 66.7%,#1fdde0 69.2%,#36f3c9 71.8%,#4df5b2 74.4%,#53f7ac 79.5%,#4bf7b4 82.1%,#2bf5d4 87.2%,#02cefd 94.9%,#009fff)"></i><i style="left:439px;background:linear-gradient(#000098,#000098 53.8%,#000bd4 56.4%,#0032f1 59%,#00c7ff 64.1%,#1df1e2 66.7%,#4efab1 69.2%,#72fe8d 71.8%,#8f7 74.4%,#8dff72 76.9%,#8aff75 79.5%,#73ff8c 84.6%,#4afcb5 89.7%,#16f6e9 94.9%,#02ebfd 97.4%,#00ceff)"></i><i style="left:440px;background:linear-gradient(#000090,#000090 48.7%,#000093 53.8%,#0007a9 59%,#0017e7 61.5%,#0058ff 64.1%,#03a3fc 66.7%,#0bdbf4 69.2%,#23f2dc 71.8%,#33fecc 74.4%,#3effc1 76.9%,#3affc5 82.1%,#1efbe1 87.2%,#11f1ee 89.7%,#05e1fa 92.3%,#0090ff)"></i><i style="left:441px;background:linear-gradient(#00008f,#00008f 46.2%,#000093 48.7%,#0002a1 51.3%,#000dcb 56.4%,#033cf9 61.5%,#056ffa 64.1%,#0cccf3 69.2%,#16e9e9 71.8%,#2efed1 76.9%,#35ffca 82.1%,#11f2ee 89.7%,#06def9 92.3%,#07f)"></i><i style="left:442px;background:linear-gradient(#00008f,#00008f 41%,#000198 46.2%,#0004bb 48.7%,#001fe0 51.3%,#004af8 53.8%,#03bff9 59%,#38f1c7 64.1%,#5ff6a0 66.7%,#9bfd64 71.8%,#aefe51 74.4%,#beff41 79.5%,#b8ff47 82.1%,#8cff73 87.2%,#3cfcc3 92.3%,#11f2ee 94.9%,#0cf 97.4%,#0096ff)"></i><i style="left:443px;background:linear-gradient(#00008f,#00008f 41%,#0006dd 46.2%,#0029ef 48.7%,#00cefa 56.4%,#1ae9e1 59%,#6cf393 64.1%,#aff950 69.2%,#d7fb28 74.4%,#def921 79.5%,#dafd25 82.1%,#aefc51 87.2%,#89fb76 89.7%,#2bf5d4 94.9%,#00e5ff 97.4%,#00aafe)"></i><i style="left:444px;background:linear-gradient(#00008f,#00008f 41%,#0004a0 48.7%,#000ab6 51.3%,#0016c7 53.8%,#034dc8 59%,#0b7dea 64.1%,#169bdf 66.7%,#28add1 69.2%,#40c7bf 74.4%,#48d7b7 79.5%,#3fd5c0 84.6%,#0eb1ec 92.3%,#0066f5 97.4%,#003dec)"></i><i style="left:445px;background:linear-gradient(#00008f,#000298 51.3%,#011ba3 66.7%,#0523e1 71.8%,#0726f8 74.4%,#0843f7 79.5%,#0844f7 82.1%,#042df7 87.2%,#0220eb 89.7%,#0014b2 94.9%,#000da1 97.4%,#00079e)"></i><i style="left:446px;background:linear-gradient(#000296,#001399 30.8%,#0117c5 43.6%,#0333c4 56.4%,#064ec1 59%,#0968e8 64.1%,#0b85ea 66.7%,#0da2ec 69.2%,#19b0e3 71.8%,#2bc5d4 79.5%,#28c3d7 82.1%,#10aaef 87.2%,#0b6eef 92.3%,#0750e9 94.9%,#0225c5)"></i><i style="left:447px;background:linear-gradient(#0011ce,#002beb 7.69%,#007bec 20.5%,#00c2f2 35.9%,#0dd5e7 46.2%,#1ddad8 56.4%,#36dfbf 59%,#51e7ad 64.1%,#63ef9c 66.7%,#bcfb43 76.9%,#c7fb38 79.5%,#c8f937 82.1%,#93f56c 89.7%,#34e5c8 97.4%,#1ccfdd)"></i><i style="left:448px;background:linear-gradient(#000296,#000a99 15.4%,#0013c6 30.8%,#0137c6 43.6%,#034fc4 56.4%,#0662c1 59%,#076fdd 61.5%,#0991ed 64.1%,#34e5cb 69.2%,#63f99c 71.8%,#caff35 76.9%,#ecfc13 79.5%,#f7f008 82.1%,#f7ee08 87.2%,#f4f90b 89.7%,#e3ff1c 92.3%,#c4ff3b 94.9%,#74fc8b)"></i><i style="left:449px;background:linear-gradient(#000094,#000899 59%,#000ea9 64.1%,#0213ee 66.7%,#0460f9 69.2%,#09b7f6 71.8%,#26efd9 74.4%,#9efd61 79.5%,#c8fd37 82.1%,#e4fc1b 84.6%,#f5fb0a 89.7%,#f3ff0c 92.3%,#e4ff1b 94.9%,#afff50)"></i><i style="left:450px;background:linear-gradient(#0000b8,#00b 56.4%,#0006c7 64.1%,#000fd6 66.7%,#0025e2 69.2%,#004bf5 71.8%,#09c1f6 76.9%,#28e8d7 79.5%,#51fdae 82.1%,#82ff7d 84.6%,#c6ff39 89.7%,#daff25 92.3%,#e3ff1c 94.9%,#d9fe26)"></i><i style="left:451px;background:linear-gradient(#000094,#000095 61.5%,#000699 71.8%,#000cd1 74.4%,#0042ff 76.9%,#039dfc 79.5%,#08eef7 82.1%,#41ffbe 84.6%,#80ff7f 87.2%,#b2ff4d 89.7%,#d9ff26 92.3%,#f1fc0e 94.9%,#f9f106)"></i><i style="left:452px;background:linear-gradient(#00008f,#00008f 71.8%,#0000e1 74.4%,#004afc 76.9%,#00a8ff 79.5%,#0af5f5 82.1%,#8dff72 87.2%,#c3ff3c 89.7%,#ecff13 92.3%,#fade05 97.4%,#fbda04)"></i><i style="left:453px;background:linear-gradient(#00008f,#000093 71.8%,#0000ac 74.4%,#0014e1 76.9%,#0052fd 79.5%,#01a2fe 82.1%,#16d7e9 84.6%,#3af4c5 87.2%,#6cf793 89.7%,#93fb6c 92.3%,#aefa51 94.9%,#bff940 97.4%,#c5f93a)"></i><i style="left:454px;background:linear-gradient(#000091,#000094 35.9%,#0000ac 69.2%,#0000b8 74.4%,#0001c9 76.9%,#000bec 79.5%,#002bfa 82.1%,#0581f5 87.2%,#0ec4ee 92.3%,#28d9d5 97.4%,#2dded0)"></i><i style="left:455px;background:linear-gradient(#00009f,#0000b9 69.2%,#0001c6 79.5%,#001bc7 87.2%,#0031d4 92.3%,#0344e4)"></i><i style="left:456px;background:linear-gradient(#000091,#000598)"></i><i style="left:460px;background:linear-gradient(#000294,#000299)"></i><i style="left:461px;background:linear-gradient(#0011bd,#0013bd 46.2%,#0015e3 79.5%,#000eec)"></i><i style="left:462px;background:linear-gradient(#000294,#000299 66.7%,#0002bc 82.1%,#0002b7 87.2%,#0002a3 94.9%,#0002ad)"></i><i style="left:463px;background:linear-gradient(#000091,#000093 38.5%,#0000a8 69.2%,#0000b8 82.1%,#0000a4 94.9%,#0000a8)"></i><i style="left:464px;background:linear-gradient(#00009c,#0000b2 51.3%,#0000b9)"></i><i style="left:465px;background:linear-gradient(#000093,#000097)"></i><i style="left:466px;background:linear-gradient(#0000a0,#0000ae 82.1%,#00a)"></i><i style="left:467px;background:linear-gradient(#000091,#000092 66.7%,#0000a4 82.1%,#000093 94.9%,#000096)"></i><i style="left:468px;background:linear-gradient(#000093,#000094 71.8%,#00009e 84.6%,#000092)"></i><i style="left:469px;background:linear-gradient(#0000b1,#0000b6 28.2%,#0000b1 74.4%,#0000be 87.2%,#0000a8)"></i><i style="left:470px;background:linear-gradient(#000097,#00009e 5.13%,#0001c4 15.4%,#0003cb 28.2%,#0003bb 41%,#00029c 53.8%,#000096)"></i><i style="left:471px;background:linear-gradient(#0000b7,#0000b9 2.56%,#000bed 15.4%,#001ff0 28.2%,#0017ee 43.6%,#000ed8 59%,#0000b7 61.5%,#0000ba 82.1%,#0000c7 89.7%,#0000b5)"></i><i style="left:472px;background:linear-gradient(#000094,#000299 46.2%,#0002a2 59%,#000096 61.5%,#0000ab)"></i><i style="left:475px;background:linear-gradient(#00009e,#0000a4 84.6%,#0000ac)"></i><i style="left:482px;background:linear-gradient(#00008f,#000899 64.1%,#00008f)"></i><i style="left:483px;background:linear-gradient(#000197,#000599 12.8%,#000dc7 28.2%,#0038c9 43.6%,#0057f3 61.5%,#006cf5 71.8%,#0068f5 74.4%,#0047ee 79.5%,#0021ca 84.6%,#000cc7 87.2%,#0008b7 89.7%,#000299 92.3%,#000199)"></i><i style="left:484px;background:linear-gradient(#000bd2,#0015eb 7.69%,#0075f0 30.8%,#00a8f2 46.2%,#00c9fa 61.5%,#02d3f8 71.8%,#00d1fa 74.4%,#00c3fa 76.9%,#0098f7 82.1%,#0049f3 89.7%,#0010ed 92.3%,#000ceb)"></i><i style="left:485px;background:linear-gradient(#000197,#019 43.6%,#0019c7 61.5%,#002cc7 74.4%,#0027c7 79.5%,#000ec7 87.2%,#0008c1 89.7%,#0002a8 92.3%,#00019c)"></i><i style="left:486px;background:linear-gradient(#00008f,#000090)"></i><i style="left:488px;background:linear-gradient(#000094,#000594 25.6%,#000091)"></i><i style="left:489px;background:linear-gradient(#0004bc,#0009c2 2.56%,#0030c2 15.4%,#003ac2 25.6%,#002dc2 38.5%,#0003c0 56.4%,#0002ba 59%,#000093 61.5%,#00009b 92.3%,#0000a5)"></i><i style="left:490px;background:linear-gradient(#0024c1,#0045c2 15.4%,#004bc2 28.2%,#003cc2 41%,#0015c1 59%,#0000b1 61.5%,#0000ad 94.9%,#00b)"></i><i style="left:491px;background:linear-gradient(#000494,#000094)"></i><i style="left:494px;background:linear-gradient(#00008f,#000093 74.4%,#0001ad 92.3%,#0000a5)"></i><i style="left:495px;background:linear-gradient(#00008f,#0000a1 61.5%,#00009d 76.9%,#0002a7 82.1%,#0003b5 84.6%,#0008ec 89.7%,#0010f6 92.3%,#0016f7 97.4%,#000bf2)"></i><i style="left:496px;background:linear-gradient(#00008f,#000091 69.2%,#0008c9 79.5%,#001aca 82.1%,#003afb 87.2%,#0069ff 92.3%,#0074ff 94.9%,#0071ff 97.4%,#0052fe)"></i><i style="left:497px;background:linear-gradient(#00008f,#00008f 69.2%,#0001d8 74.4%,#000fed 76.9%,#002df2 79.5%,#007bfb 87.2%,#009dfd 92.3%,#00a6fe 94.9%,#00a2ff 97.4%,#007dfe)"></i><i style="left:498px;background:linear-gradient(#00008f,#000091 69.2%,#00029d 76.9%,#000dc9 84.6%,#0038f3 94.9%,#0038f8 97.4%,#0026ee)"></i><i style="left:499px;background:linear-gradient(#00008f,#00009d 74.4%,#0003ac 89.7%,#0004c3 97.4%,#0003c0)"></i><i style="left:500px;background:linear-gradient(#00008f,#000091 71.8%,#00009c 82.1%,#000094)"></i><i style="left:501px;background:linear-gradient(#000094,#000096 74.4%,#0000a3 82.1%,#000095)"></i><i style="left:502px;background:linear-gradient(#0000b9,#0000bd 59%,#0001da 87.2%,#0000d5 92.3%,#0000c2)"></i><i style="left:503px;background:linear-gradient(#000095,#000098)"></i><i style="left:504px;background:linear-gradient(#00009b,#0001c4 84.6%,#0000b2)"></i><i style="left:505px;background:linear-gradient(#000091,#00039c 33.3%,#0006db 53.8%,#0005e7 69.2%,#0009f9 76.9%,#0010f9 82.1%,#000bf9 84.6%,#0006f0 87.2%,#0002ba 94.9%,#0001b8 97.4%,#0001c1)"></i><i style="left:506px;background:linear-gradient(#000294,#000295 5.13%,#0002a3 10.3%,#0003f0 25.6%,#0024f1 35.9%,#0033f4 43.6%,#0040fa 56.4%,#0033fa 69.2%,#0048ff 79.5%,#0049ff 82.1%,#0033fe 87.2%,#0015d6 94.9%,#000eda)"></i><i style="left:507px;background:linear-gradient(#000fbd,#002fc7 43.6%,#0032d9 48.7%,#0035df 53.8%,#0033d0 64.1%,#0032d3 66.7%,#0033e9 71.8%,#0039f5 74.4%,#0057fc 79.5%,#0065ff 84.6%,#0057fe 89.7%,#0033f7 94.9%,#001def 97.4%,#0016dd)"></i><i style="left:508px;background:linear-gradient(#000294,#000599 71.8%,#00069d 74.4%,#0009dc 79.5%,#0010ef 82.1%,#0019fe 87.2%,#000bf4 92.3%,#0008d5 94.9%,#0005a8 97.4%,#00039f)"></i><i style="left:509px;background:linear-gradient(#000093,#000093 30.8%,#000e99 56.4%,#0011b1 64.1%,#0011a3 74.4%,#0010aa 76.9%,#0013ef 84.6%,#0029ff 89.7%,#002efe 92.3%,#0029fa 94.9%,#0012de)"></i><i style="left:510px;background:linear-gradient(#0000ad,#0000af 30.8%,#0014be 33.3%,#002dc9 41%,#004aef 48.7%,#0095f6 59%,#00abf7 66.7%,#0090ff 89.7%,#007cfc 94.9%,#0057f9)"></i><i style="left:511px;background:linear-gradient(#000093,#000093 30.8%,#0004bb 38.5%,#0032ca 48.7%,#0054f2 56.4%,#0078f5 64.1%,#0089f7 74.4%,#0081f9 82.1%,#0075f9 84.6%,#004ef6 89.7%,#002ad5 97.4%,#0021d4)"></i><i style="left:512px;background:linear-gradient(#000090,#000095 38.5%,#000d9c 71.8%,#000db7 76.9%,#000cc4 82.1%,#000bc0 84.6%,#0007a1 89.7%,#00059a 92.3%,#000397)"></i><i style="left:513px;background:linear-gradient(#000097,#00009d 69.2%,#0000a5 84.6%,#000095)"></i><i style="left:514px;background:linear-gradient(#000093,#000399)"></i><i style="left:515px;background:linear-gradient(#0000a6,#0000a6 69.2%,#0005c2 71.8%,#0034f2 87.2%,#0042f5 92.3%,#0043f5 94.9%,#003af5 97.4%,#0024e6)"></i><i style="left:516px;background:linear-gradient(#000092,#000092 69.2%,#0001bc 71.8%,#001cec 79.5%,#0059fd 87.2%,#0073ff 92.3%,#0075ff 94.9%,#0068ff 97.4%,#0034fa)"></i><i style="left:517px;background:linear-gradient(#00008f,#000093 69.2%,#00039c 79.5%,#000ce8 87.2%,#001ff9 92.3%,#0020fd 94.9%,#0018fb 97.4%,#0006db)"></i><i style="left:518px;background:linear-gradient(#00008f,#000090 20.5%,#00009e 56.4%,#0000b2 71.8%,#0000ae 82.1%,#0000bc 87.2%,#0001f5 97.4%,#0001f6)"></i><i style="left:519px;background:linear-gradient(#00008f,#000095 89.7%,#0000a3 94.9%,#0000d2 97.4%,#0000f3)"></i><i style="left:520px;background:linear-gradient(#00008f,#000093 56.4%,#0000a6 71.8%,#000092 79.5%,#00008f 87.2%,#000092 89.7%,#0000a6 92.3%,#0000fb)"></i><i style="left:521px;background:linear-gradient(#00008f,#000090 89.7%,#009 94.9%,#0000e8)"></i><i style="left:522px;background:linear-gradient(#00008f,#00009b 71.8%,#00008f 87.2%,#00009b 92.3%,#0000eb)"></i><i style="left:523px;background:linear-gradient(#000090,#000096 69.2%,#000090 89.7%,#000095 94.9%,#0000ac 97.4%,#00c)"></i><i style="left:524px;background:linear-gradient(#000091,#0001c3 25.6%,#000bc6 43.6%,#0004c9 66.7%,#0000b4 76.9%,#0000b2 82.1%,#00008f 84.6%,#00008f 87.2%,#0000a6 94.9%,#0000c4)"></i><i style="left:525px;background:linear-gradient(#000090,#000090 2.56%,#0000b5 15.4%,#0002d2 23.1%,#000ee6 38.5%,#000be5 48.7%,#000cee 59%,#0005e9 64.1%,#0000df 66.7%,#00a 74.4%,#0000a8 79.5%,#0000b7 82.1%,#00008f 84.6%,#000090 87.2%,#00009b 89.7%,#0000b2 92.3%,#0000be 94.9%,#0000c1 97.4%,#0000b7)"></i><i style="left:526px;background:linear-gradient(#00008f,#000198 28.2%,#0001a8 38.5%,#0001bc 61.5%,#0000ab 74.4%,#0000b0 82.1%,#00008f 84.6%,#0000a4 92.3%,#0000a9)"></i><i style="left:527px;background:linear-gradient(#000090,#000093)"></i><i style="left:528px;background:linear-gradient(#000094,#000097 79.5%,#000090 94.9%,#000095)"></i><i style="left:532px;background:linear-gradient(#0000a0,#0000a6 82.1%,#00009f)"></i><i style="left:533px;background:linear-gradient(#000093,#000095)"></i><i style="left:534px;background:linear-gradient(#0000a0,#0000a4 61.5%,#00009c 76.9%,#0000b9 92.3%,#0000b6)"></i><i style="left:535px;background:linear-gradient(#000091,#000092 84.6%,#0000a3 87.2%,#0000c7 89.7%,#0000de 92.3%,#0000e8 94.9%,#0000e6 97.4%,#0000d9)"></i><i style="left:536px;background:linear-gradient(#00008f,#00008f 82.1%,#000091 84.6%,#0000c1 92.3%,#0000c7 97.4%,#0000bf)"></i><i style="left:537px;background:linear-gradient(#00008f,#000094)"></i><i style="left:538px;background:linear-gradient(#00008f,#000296)"></i><i style="left:539px;background:linear-gradient(#000092,#0008c7 28.2%,#002ac7 46.2%,#003ac7 64.1%,#0031d6 82.1%,#0011d2)"></i><i style="left:540px;background:linear-gradient(#0000a4,#0003c7 10.3%,#0020ed 23.1%,#0064f2 43.6%,#007ef5 61.5%,#0077f5 69.2%,#005bf8 84.6%,#0045f6 89.7%,#0023f2 94.9%,#0015df)"></i><i style="left:541px;background:linear-gradient(#000092,#000899 35.9%,#000dc2 59%,#000cc3 74.4%,#000ad7 84.6%,#0009d0 87.2%,#00049c 94.9%,#000298)"></i><i style="left:542px;background:linear-gradient(#00008f,#000092 48.7%,#00049b 59%,#0006b0 66.7%,#0004ca 84.6%,#0002c1 89.7%,#000092)"></i><i style="left:543px;background:linear-gradient(#00008f,#000091 46.2%,#000096 48.7%,#0003a9 51.3%,#0008c6 53.8%,#0023c7 56.4%,#0044e6 61.5%,#0048f0 66.7%,#0039f9 79.5%,#0024f2 87.2%,#0007e0 92.3%,#0001a9 97.4%,#000098)"></i><i style="left:544px;background:linear-gradient(#00008f,#00008f 43.6%,#00009e 46.2%,#0000cd 48.7%,#0019ed 51.3%,#0076f5 56.4%,#0096f7 59%,#00aaf8 61.5%,#00b0f9 64.1%,#00a7fa 71.8%,#0081fa 82.1%,#0063f9 87.2%,#0023f7 94.9%,#000df4 97.4%,#0003e5)"></i><i style="left:545px;background:linear-gradient(#000594,#000096 48.7%,#0003a0 51.3%,#000dc5 56.4%,#0028c7 61.5%,#0030c7 69.2%,#0015c7 87.2%,#000ae1 94.9%,#0000e5)"></i><i style="left:546px;background:linear-gradient(#002fbe,#003ec1 7.69%,#003bc2 17.9%,#002bc2 28.2%,#0003bf 43.6%,#0000ba 46.2%,#00008f 48.7%,#000196 92.3%,#0000c2)"></i><i style="left:547px;background:linear-gradient(#000598,#0007b6 7.69%,#0007c2 15.4%,#0004bd 30.8%,#00009f 46.2%,#00008f 48.7%,#000294 92.3%,#00049b 97.4%,#0004ae)"></i><i style="left:548px;background:linear-gradient(#000090,#000090 79.5%,#0000ac 82.1%,#0007c1 87.2%,#002cca 94.9%,#0037ef)"></i><i style="left:549px;background:linear-gradient(#00008f,#000097 79.5%,#0004e1 82.1%,#001ef1 84.6%,#0066f8 89.7%,#0099fa 94.9%,#00a4fd 97.4%,#009afe)"></i><i style="left:550px;background:linear-gradient(#00008f,#000090 79.5%,#000098 82.1%,#000fd0 87.2%,#003df5 92.3%,#0055f5 94.9%,#0062f5 97.4%,#0056f5)"></i><i style="left:551px;background:linear-gradient(#00008f,#000091 82.1%,#00089e)"></i><i style="left:552px;background:linear-gradient(#000194,#000297 69.2%,#0001b7)"></i><i style="left:553px;background:linear-gradient(#000bbd,#000ebd 46.2%,#0010eb 89.7%,#000ce0)"></i><i style="left:554px;background:linear-gradient(#000195,#00029d)"></i><i style="left:555px;background:linear-gradient(#000093,#0000a5 69.2%,#0000b8 71.8%,#0002c7 79.5%,#000dc8 84.6%,#0016d4 89.7%,#0015c7 97.4%,#0009c7)"></i><i style="left:556px;background:linear-gradient(#000090,#000095 69.2%,#0000c3 71.8%,#000df1 79.5%,#0035f8 87.2%,#0044f9 92.3%,#0043f8 97.4%,#0027f5)"></i><i style="left:557px;background:linear-gradient(#00008f,#000090 69.2%,#000098 74.4%,#0009db 87.2%,#000fe4 97.4%,#0004cf)"></i><i style="left:558px;background:linear-gradient(#000094,#000093 69.2%,#00009f 76.9%,#0002cc 94.9%,#0001cd 97.4%,#0000c1)"></i><i style="left:559px;background:linear-gradient(#0000b4,#0000b3 74.4%,#0000bf 79.5%,#0004e4 84.6%,#000cf3 89.7%,#0008f1 94.9%,#0000d5)"></i><i style="left:560px;background:linear-gradient(#000094,#000095 79.5%,#0000a2 84.6%,#0001c0 89.7%,#0001c0 92.3%,#000097)"></i><i style="left:561px;background:linear-gradient(#00008f,#00008f)"></i><i style="left:562px;background:linear-gradient(#00008f,#000094)"></i><i style="left:563px;background:linear-gradient(#00008f,#000092 69.2%,#000b9c 84.6%,#0011bc 92.3%,#0011c4)"></i><i style="left:564px;background:linear-gradient(#00008f,#000090 33.3%,#00a 69.2%,#0000d5 71.8%,#0007e7 74.4%,#0019f3 76.9%,#0073f5 84.6%,#01a2f7 89.7%,#04b8f6 94.9%,#04baf6 97.4%,#02b1f8)"></i><i style="left:565px;background:linear-gradient(#00008f,#000092 69.2%,#0000a2 71.8%,#0001da 74.4%,#001ffb 76.9%,#008dff 82.1%,#00e1ff 87.2%,#0bf3f4 89.7%,#24f7db 94.9%,#22f8dd 97.4%,#12f6ed)"></i><i style="left:566px;background:linear-gradient(#00008f,#000091 71.8%,#0000a5 74.4%,#0003d2 76.9%,#0024ee 79.5%,#0053f6 82.1%,#00a7fa 87.2%,#01c4f9 89.7%,#0dd7ee 94.9%,#02cef9)"></i><i style="left:567px;background:linear-gradient(#00008f,#000091 74.4%,#0008a1 82.1%,#0012c7 87.2%,#0023c7 89.7%,#0135d1 94.9%,#0030d2)"></i><i style="left:568px;background:linear-gradient(#00008f,#000396)"></i><i style="left:569px;background:linear-gradient(#00008f,#000695)"></i><i style="left:570px;background:linear-gradient(#000694,#010b98 33.3%,#0a1790 51.3%,#0f16af 53.8%,#1345b4 59%,#1454b3 64.1%,#1351b4 66.7%,#0628c1 76.9%,#0534c2 84.6%,#0847bf 89.7%,#064ac2)"></i><i style="left:571px;background:linear-gradient(#003bc2,#005dc2 15.4%,#0071dc 25.6%,#0974e9 33.3%,#1386e2 41%,#2dabc8 46.2%,#44c9b1 48.7%,#65e890 51.3%,#9ae15f 53.8%,#b5d145 56.4%,#c7c833 59%,#cdc82d 61.5%,#c0dc3a 66.7%,#aded4d 69.2%,#5ceb9d 74.4%,#3ceabe 76.9%,#2fe8cb 79.5%,#35eac5 84.6%,#48edb2 87.2%,#51eda9 89.7%,#50eeaa 94.9%,#40eeba)"></i><i style="left:572px;background:linear-gradient(#0020c2,#004ac2 12.8%,#006ac5 25.6%,#0474dd 33.3%,#0e7be7 41%,#2db1c8 46.2%,#46d6b3 48.7%,#7deb7e 51.3%,#b1e24c 53.8%,#cdd332 56.4%,#dfcb20 59%,#e5ca1a 61.5%,#d3e02c 66.7%,#bcf543 69.2%,#2eedd1 76.9%,#23e1dc 79.5%,#24e4db 84.6%,#35f1ca 87.2%,#4cf4b3 92.3%,#4df4b2 97.4%,#45f2ba)"></i><i style="left:573px;background:linear-gradient(#000394,#041295 46.2%,#0715b5 48.7%,#0d2fcc 51.3%,#1574e0 56.4%,#208cd5 59%,#2a93cb 61.5%,#2996cb 64.1%,#138ee2 69.2%,#044ef6 76.9%,#0348fa 79.5%,#0357fc 84.6%,#056ffa 87.2%,#0783f7 92.3%,#0881f1 97.4%,#0776ee)"></i><i style="left:574px;background:linear-gradient(#000093,#000098 48.7%,#010d9f 59%,#0011a4 71.8%,#0010b2 74.4%,#0014f3 79.5%,#001fff 82.1%,#002bff 84.6%,#0030ff 87.2%,#001afe 92.3%,#0012eb 94.9%,#000ea4)"></i><i style="left:575px;background:linear-gradient(#0000b2,#0000bc 56.4%,#0000da 61.5%,#0002f1 64.1%,#004ef5 71.8%,#005ef7 74.4%,#006dff 82.1%,#0063ff 87.2%,#0023f5)"></i><i style="left:576px;background:linear-gradient(#000093,#000094 56.4%,#00009a 59%,#0001bc 61.5%,#001ef2 64.1%,#005eff 66.7%,#09f 69.2%,#01bffe 71.8%,#01d0fe 74.4%,#01d1fe 76.9%,#00bfff 82.1%,#0071ff 92.3%,#0048ff)"></i><i style="left:577px;background:linear-gradient(#00008f,#00008f 56.4%,#0000b5 59%,#000cee 61.5%,#008efa 66.7%,#00c1fc 69.2%,#07dcf6 71.8%,#0de4f1 74.4%,#04dffb 82.1%,#00d6ff 84.6%,#009cff 92.3%,#0051ff)"></i><i style="left:578px;background:linear-gradient(#00008f,#00008f 56.4%,#000199 61.5%,#0012c9 66.7%,#013ce4 71.8%,#0149fb 79.5%,#005aff 87.2%,#0054ff 92.3%,#0049ff 94.9%,#001eff)"></i><i style="left:579px;background:linear-gradient(#00008f,#00008f 61.5%,#0003a1 69.2%,#000cfc 84.6%,#002bff 94.9%,#002aff 97.4%,#001aff)"></i><i style="left:580px;background:linear-gradient(#00008f,#000091 69.2%,#00009c 71.8%,#0002e4 76.9%,#0024fd 82.1%,#0047ff 87.2%,#006aff 94.9%,#006cff 97.4%,#0053ff)"></i><i style="left:581px;background:linear-gradient(#00008f,#00008f 69.2%,#0000c5 71.8%,#0000e2 74.4%,#000ef2 76.9%,#0052f7 84.6%,#0078fa 92.3%,#007bfa 97.4%,#005ff8)"></i><i style="left:582px;background:linear-gradient(#00008f,#00008f 69.2%,#00069e 82.1%,#000cc3 92.3%,#000cc5 97.4%,#000ab8)"></i><i style="left:583px;background:linear-gradient(#00008f,#000093)"></i></div><div class="sp" style="top:331px"><i style="left:74px;background:linear-gradient(#00008f,#00008f 51.3%,#00009c)"></i><i style="left:75px;background:linear-gradient(#00008f,#000090 53.8%,#00009b)"></i><i style="left:79px;background:linear-gradient(#00008f,#00008f 59%,#000098 66.7%,#00008f 74.4%,#00008f)"></i><i style="left:80px;background:linear-gradient(#00008f,#00008f 59%,#0000d9 64.1%,#0002e0 66.7%,#0000d0 69.2%,#0000a7 71.8%,#00008f 74.4%,#00008f)"></i><i style="left:81px;background:linear-gradient(#00008f,#00008f 59%,#0000ab 66.7%,#000092 71.8%,#00008f 74.4%,#00008f)"></i><i style="left:154px;background:linear-gradient(#00008f,#000090 76.9%,#000297)"></i><i style="left:155px;background:linear-gradient(#00008f,#00008f 71.8%,#000098 76.9%,#0005c1 82.1%,#0033ec 92.3%,#0033f0 97.4%,#001add)"></i><i style="left:156px;background:linear-gradient(#00008f,#00008f 71.8%,#0000a3 74.4%,#0000d0 76.9%,#000bf1 79.5%,#0068fb 87.2%,#008afe 92.3%,#0090ff 94.9%,#0088fe 97.4%,#0056fb)"></i><i style="left:157px;background:linear-gradient(#00008f,#000092 74.4%,#0001ba 79.5%,#000acf 82.1%,#002beb 87.2%,#0036f5 89.7%,#004df5 94.9%,#0047f5 97.4%,#0023ec)"></i><i style="left:158px;background:linear-gradient(#00008f,#00008f 74.4%,#000398)"></i><i style="left:177px;background:linear-gradient(#00008f,#000094 61.5%,#00008f)"></i><i style="left:178px;background:linear-gradient(#00008f,#00008f 46.2%,#000399 53.8%,#0010c7 61.5%,#002ac7 69.2%,#0029c7 71.8%,#0013c7 76.9%,#0009be 79.5%,#000098 84.6%,#000091 87.2%,#00008f)"></i><i style="left:179px;background:linear-gradient(#00008f,#00008f 46.2%,#0000a8 48.7%,#0004da 51.3%,#0022f2 53.8%,#0074f8 59%,#0092fa 61.5%,#00b6fa 66.7%,#00bafa 69.2%,#00b3fa 71.8%,#00a0fa 74.4%,#0081fa 76.9%,#0027f5 82.1%,#0000de 84.6%,#00009e 87.2%,#00008f 89.7%,#00008f)"></i><i style="left:180px;background:linear-gradient(#00008f,#00008f 46.2%,#00009d 48.7%,#0000bd 51.3%,#002eec 56.4%,#004df5 59%,#0083f6 64.1%,#0095f8 69.2%,#008ff8 71.8%,#007ef7 74.4%,#0062f6 76.9%,#003bf5 79.5%,#0017e8 82.1%,#0000c5 84.6%,#000098 87.2%,#00008f 89.7%,#00008f)"></i><i style="left:181px;background:linear-gradient(#00008f,#000091 48.7%,#000a99 61.5%,#000eac 66.7%,#000eb2 71.8%,#000599 79.5%,#000090 87.2%,#00008f)"></i><i style="left:188px;background:linear-gradient(#00008f,#00008f 64.1%,#0003b5 74.4%,#0002b1 76.9%,#000094 82.1%,#00008f 84.6%,#00008f)"></i><i style="left:189px;background:linear-gradient(#00008f,#00008f 64.1%,#0000e8 69.2%,#0014ef 71.8%,#001bf0 74.4%,#0000e5 79.5%,#00008f 84.6%,#00008f)"></i><i style="left:190px;background:linear-gradient(#00008f,#00008f 64.1%,#0003a9 74.4%,#00008f 84.6%,#00008f)"></i><i style="left:200px;background:linear-gradient(#00008f,#000094)"></i><i style="left:201px;background:linear-gradient(#00008f,#000092 76.9%,#0000da 87.2%,#000ce9 94.9%,#0008e6 97.4%,#0000c0)"></i><i style="left:202px;background:linear-gradient(#00008f,#000090 76.9%,#0001ce 92.3%,#0004d1 94.9%,#0001cd 97.4%,#0000ac)"></i><i style="left:203px;background:linear-gradient(#00008f,#000092)"></i><i style="left:269px;background:linear-gradient(#00008f,#00008f 66.7%,#00049b 89.7%,#000091)"></i><i style="left:270px;background:linear-gradient(#00008f,#00008f 66.7%,#000093 69.2%,#0001d6 76.9%,#000ce2 79.5%,#0025f3 87.2%,#0028f3 89.7%,#0010ec 94.9%,#0000d5 97.4%,#0000a3)"></i><i style="left:271px;background:linear-gradient(#00008f,#000090 69.2%,#0003ca 79.5%,#0014dc 84.6%,#001ae3 89.7%,#0009d7 94.9%,#00009d)"></i><i style="left:272px;background:linear-gradient(#00008f,#00008f 69.2%,#000298 89.7%,#000091)"></i><i style="left:277px;background:linear-gradient(#00008f,#00008f 51.3%,#0000a0 61.5%,#000090 69.2%,#00008f)"></i><i style="left:278px;background:linear-gradient(#00008f,#00008f 51.3%,#0000d3 56.4%,#0001e7 59%,#0002e9 61.5%,#0000dc 64.1%,#0000bc 66.7%,#000090 69.2%,#000195)"></i><i style="left:279px;background:linear-gradient(#00008f,#00008f 51.3%,#009 61.5%,#000090 69.2%,#00008f 82.1%,#00009c 87.2%,#0001b0 89.7%,#0006c7 94.9%,#000dc8)"></i><i style="left:280px;background:linear-gradient(#00008f,#00008f 82.1%,#0000a9 84.6%,#0000d2 87.2%,#0009ef 89.7%,#0036f4 94.9%,#0042f5 97.4%,#0040f5)"></i><i style="left:281px;background:linear-gradient(#00008f,#00008f 82.1%,#000097 87.2%,#0001ab 89.7%,#0006c3 94.9%,#0009c7)"></i><i style="left:282px;background:linear-gradient(#00008f,#000094)"></i><i style="left:285px;background:linear-gradient(#00008f,#000094)"></i><i style="left:286px;background:linear-gradient(#00008f,#000091 76.9%,#0003c7 84.6%,#001eda 89.7%,#002ae6 94.9%,#0023e2 97.4%,#0001c1)"></i><i style="left:287px;background:linear-gradient(#00008f,#00008f 74.4%,#00009c 76.9%,#0005e5 82.1%,#001af1 84.6%,#0048f5 89.7%,#005bf8 94.9%,#004ff7 97.4%,#000bf0)"></i><i style="left:288px;background:linear-gradient(#00008f,#000091 76.9%,#000199 82.1%,#0008b8 89.7%,#000ac4 94.9%,#0008c0 97.4%,#0001a2)"></i><i style="left:289px;background:linear-gradient(#00008f,#000090)"></i><i style="left:292px;background:linear-gradient(#00008f,#00008f 56.4%,#000098 66.7%,#00008f 74.4%,#00008f)"></i><i style="left:293px;background:linear-gradient(#00008f,#00008f 56.4%,#0000ca 61.5%,#0000dc 64.1%,#0000de 66.7%,#0000cf 69.2%,#00008f 74.4%,#00008f)"></i><i style="left:294px;background:linear-gradient(#00008f,#00008f 56.4%,#0000a4 66.7%,#00008f 74.4%,#00008f)"></i><i style="left:319px;background:linear-gradient(#00008f,#00008f 74.4%,#000095 76.9%,#00008f)"></i><i style="left:320px;background:linear-gradient(#00008f,#00008f 74.4%,#0000c5 76.9%,#00b 79.5%,#00008f 82.1%,#00008f)"></i><i style="left:321px;background:linear-gradient(#00008f,#00008f 74.4%,#000095 76.9%,#00008f)"></i><i style="left:433px;background:linear-gradient(#00008f,#000090 53.8%,#000094 56.4%,#0001b2 61.5%,#0001b6 64.1%,#0001b2 66.7%,#000093 71.8%,#00008f 74.4%,#00008f)"></i><i style="left:434px;background:linear-gradient(#00008f,#00008f 51.3%,#000098 53.8%,#0000dc 59%,#000ceb 64.1%,#0007e6 66.7%,#0000d6 69.2%,#00008f 74.4%,#00008f)"></i><i style="left:435px;background:linear-gradient(#00008f,#00008f 51.3%,#000199 64.1%,#00008f 74.4%,#000092)"></i><i style="left:436px;background:linear-gradient(#00008f,#000090 79.5%,#000599 89.7%,#000ab1 94.9%,#0009b5 97.4%,#0006af)"></i><i style="left:437px;background:linear-gradient(#00008f,#000195 74.4%,#00079b 79.5%,#000cb7 82.1%,#0018c7 84.6%,#0044f4 89.7%,#0063f6 92.3%,#006ef8 94.9%,#0063f8 97.4%,#0042f7)"></i><i style="left:438px;background:linear-gradient(#00008f,#000090 61.5%,#000499 69.2%,#0009b5 71.8%,#0018c9 74.4%,#0034e6 76.9%,#0057f5 79.5%,#0081f8 82.1%,#00c0fc 87.2%,#01e0fe 92.3%,#00d7ff 94.9%,#00b5ff 97.4%,#007cff)"></i><i style="left:439px;background:linear-gradient(#00008f,#00008f 53.8%,#00029e 61.5%,#0006bc 64.1%,#0035f5 69.2%,#008cfa 74.4%,#00caff 79.5%,#00edff 84.6%,#03f0fc 87.2%,#02e5fd 92.3%,#00c7ff 94.9%,#0094fc 97.4%,#0050f9)"></i><i style="left:440px;background:linear-gradient(#00008f,#000091 53.8%,#0000a6 56.4%,#0000cf 59%,#0010f1 61.5%,#0059fc 66.7%,#0090fe 71.8%,#00a2fe 74.4%,#00b1fc 79.5%,#00a8fa 84.6%,#0089f8 89.7%,#0071f7 92.3%,#0047f5 94.9%,#0023de 97.4%,#0007bb)"></i><i style="left:441px;background:linear-gradient(#00008f,#00008f 51.3%,#00009d 53.8%,#00d 59%,#000de9 61.5%,#0026f1 66.7%,#0032ef 71.8%,#0031e5 76.9%,#001cc9 84.6%,#000fc7 87.2%,#000699 94.9%,#000093)"></i><i style="left:442px;background:linear-gradient(#00008f,#00008f 51.3%,#000499 69.2%,#00008f)"></i><i style="left:443px;background:linear-gradient(#00008f,#00008f 56.4%,#000599 82.1%,#000093)"></i><i style="left:444px;background:linear-gradient(#00008f,#00008f 53.8%,#00009a 59%,#000ece 66.7%,#001dd8 69.2%,#0035e8 74.4%,#0244f0 82.1%,#0244ee 87.2%,#0133e0 94.9%,#000bba)"></i><i style="left:445px;background:linear-gradient(#00008f,#00008f 53.8%,#0000b0 56.4%,#0000e4 59%,#001ff7 61.5%,#0073fb 66.7%,#02b4fb 71.8%,#05caf9 74.4%,#1fdee0 82.1%,#24dfdb 87.2%,#17cfe6 94.9%,#09b8f2 97.4%,#037cf6)"></i><i style="left:446px;background:linear-gradient(#00008f,#00008f 53.8%,#0000b3 56.4%,#0003f1 59%,#0039fd 61.5%,#00abff 66.7%,#00dcff 69.2%,#0ff8f0 71.8%,#4ffcb0 76.9%,#67fd98 79.5%,#79fd86 82.1%,#8dfd72 87.2%,#8afd75 92.3%,#81fc7e 94.9%,#61fa9e 97.4%,#24f2db)"></i><i style="left:447px;background:linear-gradient(#00008f,#00008f 53.8%,#000093 56.4%,#0000ae 59%,#000de1 61.5%,#003df8 64.1%,#0bf 69.2%,#08ecf7 71.8%,#2dfad2 74.4%,#79ff86 79.5%,#97ff68 82.1%,#aeff51 84.6%,#caff35 89.7%,#cbff34 94.9%,#b0ff4f 97.4%,#72ff8d)"></i><i style="left:448px;background:linear-gradient(#00008f,#00008f 56.4%,#000197 61.5%,#0005b1 64.1%,#0017d7 66.7%,#0041f5 69.2%,#04bdf8 74.4%,#18e2e7 76.9%,#39f5c6 79.5%,#82fd7d 84.6%,#b4ff4b 89.7%,#c3ff3c 92.3%,#cbff34 94.9%,#baff45 97.4%,#85ff7a)"></i><i style="left:449px;background:linear-gradient(#00008f,#00008f 61.5%,#00059e 69.2%,#000cc0 71.8%,#002be2 74.4%,#0256f8 76.9%,#09c1f5 82.1%,#35f1ca 87.2%,#55f6aa 89.7%,#81fc7e 94.9%,#7bfd84 97.4%,#53fbac)"></i><i style="left:450px;background:linear-gradient(#00008f,#000092 66.7%,#00099e 71.8%,#0011ea 79.5%,#0240eb 84.6%,#046bf2 87.2%,#0abbf0 92.3%,#17cfe6 94.9%,#19d6e5 97.4%,#08ccf6)"></i><i style="left:451px;background:linear-gradient(#00008f,#00008f 64.1%,#0000a7 66.7%,#001fe6 69.2%,#0059f5 71.8%,#0073f7 74.4%,#005efa 76.9%,#0022fc 79.5%,#0002ce 82.1%,#000599 84.6%,#0009a4 87.2%,#000ebd 89.7%,#0133e0 94.9%,#013ceb 97.4%,#0035ea)"></i><i style="left:452px;background:linear-gradient(#00008f,#00008f 64.1%,#0000a9 66.7%,#0021ea 69.2%,#005ff5 71.8%,#0076f6 74.4%,#005cf5 76.9%,#001dec 79.5%,#00a 82.1%,#00008f 84.6%,#000498)"></i><i style="left:453px;background:linear-gradient(#00008f,#00008f 64.1%,#000ca0 74.4%,#00008f 84.6%,#00008f)"></i><i style="left:540px;background:linear-gradient(#00008f,#00008f 82.1%,#000097)"></i><i style="left:541px;background:linear-gradient(#00008f,#00008f 82.1%,#0000a1 87.2%,#0000d6 94.9%,#0000dc)"></i><i style="left:542px;background:linear-gradient(#00008f,#000090 84.6%,#0000b4 94.9%,#0000b8)"></i><i style="left:543px;background:linear-gradient(#00008f,#000093)"></i><i style="left:545px;background:linear-gradient(#00008f,#00008f 79.5%,#000199)"></i><i style="left:546px;background:linear-gradient(#00008f,#00008f 79.5%,#0000a8 84.6%,#0000d3 89.7%,#0004df 92.3%,#000ae9)"></i><i style="left:547px;background:linear-gradient(#00008f,#000091 82.1%,#0001ce 94.9%,#0003d3)"></i><i style="left:548px;background:linear-gradient(#00008f,#00008f 82.1%,#000096)"></i><i style="left:570px;background:linear-gradient(#00008f,#00008f 69.2%,#000397)"></i><i style="left:571px;background:linear-gradient(#00008f,#000091 64.1%,#000098 69.2%,#0008bf 76.9%,#002dd7 87.2%,#003ce9 94.9%,#003ae9 97.4%,#0029dd)"></i><i style="left:572px;background:linear-gradient(#00008f,#00008f 61.5%,#00009b 64.1%,#0000e0 69.2%,#0011f0 71.8%,#0074f9 82.1%,#009ffd 89.7%,#00abfe 94.9%,#00a5fe 97.4%,#0081fc)"></i><i style="left:573px;background:linear-gradient(#00008f,#000091 64.1%,#000098 66.7%,#0002bc 71.8%,#0008c7 74.4%,#003cf2 84.6%,#0056f5 89.7%,#0065f5 94.9%,#0061f5 97.4%,#0042f5)"></i><i style="left:574px;background:linear-gradient(#00008f,#00008f 64.1%,#000699)"></i></div><div class="sp" style="top:616px"><i style="left:1px;background:linear-gradient(#7c7075,#d07419 35.9%,#cb5c1b 46.2%,#d25417 59%,#d95214 64.1%,#e76313 71.8%,#e96016 74.4%,#f64f08 82.1%,#f45e0b 84.6%,#e5b115 92.3%,#e5bf1a 94.9%,#eac715 97.4%,#f1c50e)"></i><i style="left:2px;background:linear-gradient(#15178a,#1f1481 28.2%,#201382 30.8%,#211599 35.9%,#211591 38.5%,#2115a4 41%,#203caf 43.6%,#215cd0 46.2%,#215ac7 48.7%,#203daf 51.3%,#202daf 53.8%,#2158ae 56.4%,#32abcb 59%,#50d4ad 61.5%,#4fd2ae 64.1%,#2f9ecf 66.7%,#255aac 69.2%,#255bac 71.8%,#319ace 74.4%,#5ee3a1 76.9%,#9ee460 79.5%,#b6e349 82.1%,#9fe560 84.6%,#58dfa7 87.2%,#287ac6 89.7%,#265eab 92.3%,#2789d8 94.9%,#4ef1b1 97.4%,#95f66a)"></i><i style="left:3px;background:linear-gradient(#617064,#7d6d48 12.8%,#7c5848 23.1%,#7c4e5d 28.2%,#7c4775 30.8%,#7c5877 33.3%,#7c5b77 38.5%,#7b6679 41%,#7b837a 43.6%,#828f76 46.2%,#7b7f7a 53.8%,#859271 56.4%,#ad904e 59%,#c78c33 61.5%,#c88b31 64.1%,#979060 69.2%,#939965 71.8%,#afa04f 74.4%,#d1a22d 76.9%,#ed9b10 79.5%,#f59308 82.1%,#f2970b 84.6%,#b7a147 89.7%,#a4ad56 92.3%,#abbf54 94.9%,#c3d23c 97.4%,#dcd923)"></i><i style="left:4px;background:linear-gradient(#c15416,#bb2c1d 30.8%,#b5241a 48.7%,#c22217 59%,#c22207 64.1%,#d5250d 69.2%,#d83315 71.8%,#dc3417 74.4%,#e6360b 82.1%,#f22102 87.2%,#fa2705 89.7%,#f84407 92.3%,#f58e0a 97.4%,#ecad13)"></i><i style="left:5px;background:linear-gradient(#200f81,#201184 7.69%,#1f12a9 15.4%,#2136ad 25.6%,#2469a9 33.3%,#2466a9 38.5%,#2876a6 41%,#4d97ad 43.6%,#68c892 46.2%,#6ccb8d 48.7%,#5d9f9d 51.3%,#457688 53.8%,#41768c 56.4%,#629199 59%,#a3da56 61.5%,#d8c420 64.1%,#e3bd16 66.7%,#d1cd2b 69.2%,#8de070 71.8%,#658898 74.4%,#527c7e 76.9%,#617b82 79.5%,#98e166 82.1%,#efc00e 84.6%,#fe8a00 87.2%,#ff7e00 89.7%,#ff9700 92.3%,#fdd002 94.9%,#caf035 97.4%,#65f49a)"></i><i style="left:6px;background:linear-gradient(#744981,#768c84 20.5%,#908b6a 28.2%,#a98951 33.3%,#ac884e 38.5%,#bc853e 41%,#d78326 43.6%,#e68912 46.2%,#e88812 48.7%,#cb882f 53.8%,#cb892f 56.4%,#e68319 59%,#ed5903 64.1%,#f35702 66.7%,#fa6f05 69.2%,#f0a20f 71.8%,#ceab31 74.4%,#bdb13d 76.9%,#cfab2d 79.5%,#f49f0b 82.1%,#fd6702 84.6%,#ff4000 87.2%,#ff4300 89.7%,#ff6400 92.3%,#ffa300 94.9%,#e9e416 97.4%,#9cff63)"></i><i style="left:7px;background:linear-gradient(#744982,#759085 20.5%,#9d8d5d 30.8%,#a58b55 35.9%,#df881c 43.6%,#e18718 46.2%,#d88025 48.7%,#c98431 51.3%,#ca8830 53.8%,#e28c1d 56.4%,#f37b0a 59%,#f06304 61.5%,#ee5b03 64.1%,#f26606 66.7%,#f18a0e 69.2%,#d29d28 71.8%,#c0ac3a 74.4%,#cdb132 76.9%,#f1b10e 79.5%,#f50 84.6%,#ff3a00 87.2%,#ff4900 89.7%,#ff7600 92.3%,#f7bf08 94.9%,#bae745 97.4%,#65f295)"></i><i style="left:8px;background:linear-gradient(#22108f,#2214af 7.69%,#2671ab 30.8%,#2776aa 35.9%,#3b7897 38.5%,#5899a6 41%,#6bbf93 43.6%,#6bb993 46.2%,#5a7ea4 48.7%,#487789 51.3%,#4f7781 53.8%,#70aa8f 56.4%,#a9dc55 59%,#d5cb28 61.5%,#dec61f 64.1%,#c9d636 66.7%,#7dd282 69.2%,#597d78 71.8%,#508082 74.4%,#669b99 76.9%,#9ee761 79.5%,#e8d117 82.1%,#ffa700 84.6%,#ff8500 87.2%,#ff9300 89.7%,#ffcb00 92.3%,#baf045 94.9%,#4bd6b4 97.4%,#1e88b3)"></i><i style="left:9px;background:linear-gradient(#d15a20,#d8411d 28.2%,#dd2d1d 41%,#dc2b1d 48.7%,#df311b 56.4%,#ec2c0f 64.1%,#e64a19 69.2%,#e26118 74.4%,#e96916 79.5%,#f64609 87.2%,#f85607 89.7%,#f97906 92.3%,#f1ac0e 94.9%,#e3dc1c 97.4%,#caed30)"></i><i style="left:10px;background:linear-gradient(#1761b0,#1771b0 5.13%,#646c63 33.3%,#6c6c61 35.9%,#746b70 38.5%,#7a6b71 41%,#7e6a6e 43.6%,#7f6975 46.2%,#7f907a 51.3%,#7f9b7c 53.8%,#7f9075 61.5%,#80b07d 66.7%,#90c86f 71.8%,#86c879 76.9%,#80c075 82.1%,#86bc6f 84.6%,#99b660 87.2%,#b2d24d 92.3%,#ade552 94.9%,#9af365 97.4%,#7af385)"></i><i style="left:11px;background:linear-gradient(#00149e,#081b96 33.3%,#091c9a 35.9%,#0a1da9 38.5%,#0b1b97 43.6%,#0b1b98 46.2%,#0b1fb0 48.7%,#0b3fd4 53.8%,#0b30c7 56.4%,#0b20a8 59%,#0b1d98 61.5%,#0b1d98 64.1%,#0b28db 66.7%,#0d72f2 69.2%,#0d93f2 71.8%,#0d82f2 74.4%,#0c43f3 76.9%,#0b1db4 79.5%,#0b1898 82.1%,#0c1897 84.6%,#0e1dc1 87.2%,#1077ef 89.7%,#11b6ee 92.3%,#11b9ee 94.9%,#0b85f4)"></i><i style="left:12px;background:linear-gradient(#0061eb,#0083eb 30.8%,#009ced 38.5%,#008eeb 43.6%,#0091ec 46.2%,#00b6f2 51.3%,#00bcf3 53.8%,#00b0f3 56.4%,#0075ee 61.5%,#006fec 64.1%,#008cf4 66.7%,#00bcfa 69.2%,#00d3fa 71.8%,#00befa 74.4%,#0047ee 79.5%,#001feb 82.1%,#02e 84.6%,#0088fc 89.7%,#0094fa 92.3%,#0056f5 97.4%,#0047f7)"></i><i style="left:13px;background:linear-gradient(#000b99,#001099 43.6%,#0012aa 48.7%,#0014ab 53.8%,#0010bd 59%,#000ca1 64.1%,#000fab 66.7%,#0019c7 69.2%,#002fc7 71.8%,#0023c7 74.4%,#000eb2 76.9%,#000899 79.5%,#00039b 82.1%,#0004b9 84.6%,#0017d6 87.2%,#0025e1 89.7%,#000baa 94.9%,#00089a 97.4%,#0007b0)"></i><i style="left:14px;background:linear-gradient(#00008f,#000093 28.2%,#060b97 59%,#0a1290 82.1%,#0b14a0 84.6%,#0b17bc 87.2%,#0b19c7 89.7%,#0b17b2 92.3%,#0a1491 94.9%,#091391 97.4%,#0814a2)"></i><i style="left:15px;background:linear-gradient(#100b84,#110883 20.5%,#1106a3 28.2%,#110eb0 30.8%,#1144b0 38.5%,#136aae 46.2%,#306991 53.8%,#4769a3 59%,#506a9f 64.1%,#669989 71.8%,#67938a 79.5%,#7cc37a 87.2%,#7dc87a 92.3%,#67b78e 97.4%,#61c095)"></i><i style="left:16px;background:linear-gradient(#9f6d21,#ab6c16 5.13%,#a83e1d 30.8%,#b51b0f 56.4%,#ba1b0e 71.8%,#d42b0d 82.1%,#d4250b 87.2%,#e4320c 92.3%,#f2430d 94.9%,#e81)"></i><i style="left:17px;background:linear-gradient(#793349,#7a2775 10.3%,#796b75 30.8%,#8f6c55 38.5%,#a76b37 43.6%,#a86a31 48.7%,#c36d17 56.4%,#cc6613 66.7%,#cb5a14 71.8%,#e36812 82.1%,#e06217 84.6%,#ea4f0a 89.7%,#f3550a 92.3%,#e9a016 97.4%,#d7b123)"></i><i style="left:18px;background:linear-gradient(#0b0f8e,#191686 38.5%,#1b1687 41%,#1c199d 43.6%,#1c1896 46.2%,#1c1685 48.7%,#1d1788 51.3%,#1e36be 53.8%,#2075dc 56.4%,#2068dc 59%,#202faf 61.5%,#201aa6 64.1%,#204db9 66.7%,#26bcd6 69.2%,#41dbbb 71.8%,#3bd3c1 74.4%,#2494da 76.9%,#2247af 79.5%,#2240af 82.1%,#269cd8 84.6%,#6ae894 87.2%,#a4e75a 89.7%,#a1e85e 92.3%,#65ef9a 94.9%,#2ec3d1 97.4%,#1e6bb4)"></i><i style="left:19px;background:linear-gradient(#1662b0,#176aaf 2.56%,#79694b 35.9%,#7a6356 38.5%,#7a6275 41%,#7a7778 43.6%,#7a7277 46.2%,#7a6075 48.7%,#7a6a76 51.3%,#79917c 53.8%,#80a577 56.4%,#80a377 59%,#7b8279 64.1%,#7ca47c 66.7%,#a0ae5c 69.2%,#b7ab46 71.8%,#b3ac49 74.4%,#7eac7a 79.5%,#7fab79 82.1%,#a7aa56 84.6%,#d5a627 87.2%,#eda511 89.7%,#e7b418 92.3%,#c5d23a 94.9%,#95f16a 97.4%,#65d295)"></i><i style="left:20px;background:linear-gradient(#ca2024,#c7171a 25.6%,#bc1715 35.9%,#b21f18 41%,#b51615 48.7%,#a72511 56.4%,#aa230e 59%,#cc2317 66.7%,#d51d10 69.2%,#dd250e 76.9%,#e41b03 87.2%,#f71f01 89.7%,#fa4105 92.3%,#e2b218 97.4%,#dbdb1f)"></i><i style="left:21px;background:linear-gradient(#2223af,#2179ae 20.5%,#4c7882 33.3%,#607785 35.9%,#77ac83 38.5%,#83c376 41%,#7fa87a 43.6%,#73785a 46.2%,#6f795d 48.7%,#7c7852 51.3%,#8dc06b 53.8%,#bbbe3c 56.4%,#dcac1b 59%,#ddac1b 61.5%,#bbc03f 64.1%,#91ad6a 66.7%,#80794f 69.2%,#897b4c 71.8%,#90ca6d 74.4%,#cbc132 76.9%,#f3b00b 79.5%,#fd9500 82.1%,#fd7c00 84.6%,#fc7500 87.2%,#fe9800 89.7%,#ddca22 92.3%,#7bd784 94.9%,#418f91 97.4%,#2b94a6)"></i><i style="left:22px;background:linear-gradient(#747081,#74ab86 17.9%,#7bae7f 20.5%,#90a168 28.2%,#9ba85f 33.3%,#d19f2e 38.5%,#dd9e22 41%,#d3a02c 43.6%,#b6a644 46.2%,#a6a554 48.7%,#b4a345 51.3%,#d5aa2a 53.8%,#f58f0a 56.4%,#fc6b03 59%,#fc6303 61.5%,#f87e07 64.1%,#e39f1c 66.7%,#beb23c 69.2%,#b5c545 71.8%,#c6d439 74.4%,#e4ca1b 76.9%,#f2b208 79.5%,#f49e0b 82.1%,#ff8000 87.2%,#ff9000 89.7%,#fabd05 92.3%,#c1d33e 94.9%,#8de36d 97.4%,#78e882)"></i><i style="left:23px;background:linear-gradient(#806c52,#816a79 2.56%,#82797d 5.13%,#82697d 7.69%,#826655 10.3%,#826550 12.8%,#84747b 15.4%,#86a679 17.9%,#88b977 20.5%,#89ac76 23.1%,#898076 25.6%,#885b63 28.2%,#8a6075 30.8%,#8daf72 33.3%,#c1b03d 35.9%,#e4a31a 38.5%,#ea9f13 41%,#d2a72b 43.6%,#96b868 46.2%,#8d6671 48.7%,#8e5e5d 51.3%,#94b06b 53.8%,#e4a01b 56.4%,#fd6d00 59%,#fc4400 61.5%,#fc4000 64.1%,#fb5c02 66.7%,#f89206 69.2%,#e4c61b 71.8%,#a8df57 74.4%,#90a86f 76.9%,#8e8643 79.5%,#91af6e 82.1%,#cccf33 84.6%,#ff9e00 87.2%,#ff6c00 89.7%,#ff5f00 92.3%,#fa6f05 94.9%,#f3ae0c)"></i><i style="left:24px;background:linear-gradient(#808176,#958369 5.13%,#9b7f5f 12.8%,#c4883b 20.5%,#b87e45 28.2%,#c07e3f 30.8%,#d48728 33.3%,#e78011 35.9%,#e76c0d 38.5%,#e8660b 41%,#e86f0b 43.6%,#e6840f 46.2%,#d87e22 48.7%,#d57d26 51.3%,#e68718 53.8%,#ef6a0a 56.4%,#ec4404 59%,#e72900 61.5%,#e31e00 64.1%,#e82700 66.7%,#f54300 69.2%,#fb7104 71.8%,#ebaa14 74.4%,#bcb743 76.9%,#a2be58 79.5%,#babe45 82.1%,#f8b007 84.6%,#ff6400 87.2%,#ff3800 89.7%,#ff2c00 92.3%,#ff3e00 94.9%,#fb8d04)"></i><i style="left:25px;background:linear-gradient(#744c59,#77447e 7.69%,#764783 10.3%,#7b7a7f 25.6%,#7b947f 30.8%,#7f9c7a 33.3%,#859474 38.5%,#969062 41%,#b28e4b 43.6%,#c69238 46.2%,#c79438 48.7%,#a89652 53.8%,#a89251 56.4%,#c68637 59%,#ee830e 61.5%,#f16a05 64.1%,#f56504 66.7%,#f78007 69.2%,#dea121 71.8%,#96c164 76.9%,#9ec65d 79.5%,#c7c838 82.1%,#fab405 84.6%,#ff7c00 87.2%,#ff6400 89.7%,#ff6700 92.3%,#ff8700 94.9%,#f9ba06 97.4%,#c8da37)"></i><i style="left:26px;background:linear-gradient(#221185,#220fab 7.69%,#2216af 10.3%,#225daf 28.2%,#237cae 33.3%,#237aae 38.5%,#337a9e 41%,#5387ac 43.6%,#6ab595 46.2%,#6db692 48.7%,#608d9f 51.3%,#4b7a86 53.8%,#457b8c 56.4%,#607c9f 59%,#91de6e 61.5%,#cfcf2f 64.1%,#dacb24 66.7%,#c3e03c 69.2%,#78d787 71.8%,#58828f 74.4%,#4c8485 76.9%,#5d837c 79.5%,#7cda83 82.1%,#cfe230 84.6%,#fbc904 87.2%,#ffb500 89.7%,#fb0 92.3%,#fbdf04 94.9%,#c7f438 97.4%,#59fba6)"></i><i style="left:27px;background:linear-gradient(#d16620,#da421b 38.5%,#e1321e 43.6%,#e32f1c 51.3%,#e0401a 56.4%,#e33c1c 59%,#ed320e 64.1%,#f0370f 66.7%,#e5651a 71.8%,#e26f1b 74.4%,#f66809 87.2%,#f28a0d 92.3%,#efcd10 97.4%,#e3f21c)"></i><i style="left:28px;background:linear-gradient(#175cb0,#1972ae 7.69%,#61716b 33.3%,#6e7363 41%,#7d837d 43.6%,#809e7c 46.2%,#80997b 48.7%,#807d7a 51.3%,#7d7770 53.8%,#819479 56.4%,#85c27a 59%,#9dc461 61.5%,#9dc261 64.1%,#85bb7a 66.7%,#829678 69.2%,#829d78 71.8%,#85ca7a 74.4%,#9edc61 76.9%,#c2d13d 79.5%,#d4c92b 82.1%,#cdcb32 84.6%,#a7d858 87.2%,#86c677 89.7%,#78ae82 92.3%,#78dc87 94.9%,#92f96d 97.4%,#a4fe5b)"></i><i style="left:29px;background:linear-gradient(#12148a,#181583 20.5%,#191489 23.1%,#1b19ae 30.8%,#1c30ad 33.3%,#1c3dac 38.5%,#1c4dac 41%,#1d6daf 43.6%,#277cc0 46.2%,#1e6eae 53.8%,#2f7a9e 56.4%,#53a5a8 59%,#6cd08e 61.5%,#6cce8e 64.1%,#5595a7 66.7%,#3a7b95 69.2%,#387d99 71.8%,#5091ae 74.4%,#6fd88f 76.9%,#a3e75b 79.5%,#bdde40 82.1%,#b4e048 84.6%,#80df7d 87.2%,#5b818e 89.7%,#44828d 92.3%,#4c9db3 94.9%,#61ef9e 97.4%,#86f979)"></i><i style="left:30px;background:linear-gradient(#b17229,#c46e13 10.3%,#bd4c1d 30.8%,#b8361a 46.2%,#b83a1d 51.3%,#c5290f 64.1%,#d94719 71.8%,#dd461d 74.4%,#e63a0a 79.5%,#e42d07 82.1%,#e22b07 84.6%,#ee420e 89.7%,#ec8f13 94.9%,#e7c618)"></i><i style="left:31px;background:linear-gradient(#7f694b,#845846 10.3%,#855063 15.4%,#86486f 20.5%,#887171 30.8%,#87686f 35.9%,#878374 38.5%,#a48d57 41%,#bd863e 43.6%,#bb843f 46.2%,#877f72 51.3%,#898673 53.8%,#bb8640 56.4%,#ee790a 59%,#ef6200 61.5%,#f15d00 64.1%,#f97502 66.7%,#d1902c 69.2%,#9d9c61 71.8%,#8d9d70 74.4%,#b49c4a 76.9%,#f38d0b 79.5%,#fd5400 82.1%,#f93300 84.6%,#fb2c00 87.2%,#ff4e00 89.7%,#f5c10a 94.9%,#c1de3e 97.4%,#87e978)"></i><i style="left:32px;background:linear-gradient(#447686,#867349 25.6%,#88695c 30.8%,#886446 33.3%,#876046 35.9%,#876174 38.5%,#8a9c71 41%,#96a864 43.6%,#91a668 46.2%,#888571 48.7%,#864d61 51.3%,#874c74 53.8%,#8ca46e 56.4%,#d29327 59%,#f48303 61.5%,#f77d00 64.1%,#e58d14 66.7%,#aca551 69.2%,#8c7b72 71.8%,#8b6060 74.4%,#8fa46f 76.9%,#d8a226 79.5%,#fc7000 82.1%,#fa3f00 84.6%,#fb3500 87.2%,#fe5700 89.7%,#ff9500 92.3%,#e7cf18 94.9%,#a6f459 97.4%,#6ab495)"></i><i style="left:33px;background:linear-gradient(#c3361d,#c1231a 28.2%,#be1519 38.5%,#b01c19 46.2%,#bb1217 53.8%,#bb1c15 56.4%,#b32009 64.1%,#d42414 69.2%,#e52813 74.4%,#e53018 76.9%,#e6280d 79.5%,#d51702 84.6%,#dd1703 87.2%,#f02b09 89.7%,#f2530d 92.3%,#ec840e 94.9%,#e6af19 97.4%,#e1c71e)"></i><i style="left:34px;background:linear-gradient(#150592,#150bb3 7.69%,#1473b5 30.8%,#367493 35.9%,#49747e 43.6%,#60748f 46.2%,#719b88 48.7%,#719389 51.3%,#667475 53.8%,#627465 56.4%,#767883 59%,#84c974 61.5%,#a0c758 64.1%,#9bcb5e 66.7%,#88be74 69.2%,#737670 71.8%,#6f7665 74.4%,#84b27b 76.9%,#a3d05a 79.5%,#d4b728 82.1%,#e8ab13 84.6%,#ddb21f 87.2%,#a4d25a 89.7%,#7b9a84 92.3%,#607f75 94.9%,#60b49f 97.4%,#70fa8f)"></i><i style="left:35px;background:linear-gradient(#120584,#120586 2.56%,#1109b5 12.8%,#1164b5 30.8%,#1574b1 33.3%,#29749d 35.9%,#337493 41%,#3f7486 43.6%,#59748e 46.2%,#6c978b 48.7%,#6d908a 51.3%,#617474 53.8%,#5d7468 56.4%,#707485 59%,#82c874 61.5%,#9bc75a 64.1%,#97c75e 66.7%,#83ba74 69.2%,#7a7473 71.8%,#767468 74.4%,#86b176 76.9%,#9fcf5c 79.5%,#d0b72a 82.1%,#e4aa14 84.6%,#daaf1f 87.2%,#a4c957 89.7%,#88a376 92.3%,#787a82 94.9%,#79c086 97.4%,#8df272)"></i><i style="left:36px;background:linear-gradient(#ac3c14,#a92618 12.8%,#a8171d 28.2%,#a5131a 38.5%,#9d1a16 51.3%,#a31815 59%,#9f1d09 64.1%,#a91c0b 69.2%,#c81912 74.4%,#cb2017 76.9%,#c82311 79.5%,#c61f06 82.1%,#bf1603 87.2%,#d51809 89.7%,#f2380d 94.9%,#f0820f)"></i><i style="left:37px;background:linear-gradient(#79794e,#825245 17.9%,#83484f 23.1%,#84435a 25.6%,#843f70 28.2%,#855a72 30.8%,#856474 33.3%,#844e6f 38.5%,#846773 41%,#928766 43.6%,#b57f42 46.2%,#bb7b3c 48.7%,#837974 53.8%,#847370 56.4%,#a58053 59%,#dc7815 61.5%,#e56401 64.1%,#e45a00 66.7%,#ec6a02 69.2%,#de811b 71.8%,#ac8e4f 74.4%,#8a906f 76.9%,#a58f56 79.5%,#e68513 82.1%,#f45400 84.6%,#ec3500 87.2%,#f53200 89.7%,#fd4500 92.3%,#ff7000 94.9%,#fea601 97.4%,#d8cc27)"></i><i style="left:38px;background:linear-gradient(#397a92,#6a7461 17.9%,#807150 28.2%,#896b73 33.3%,#896956 35.9%,#896846 38.5%,#896269 41%,#899c72 43.6%,#9aab61 46.2%,#9fa85c 48.7%,#8ba070 51.3%,#895c74 53.8%,#895a52 56.4%,#8c9770 59%,#c79d33 61.5%,#f28b06 64.1%,#fa8500 66.7%,#ee980e 69.2%,#bfb140 71.8%,#8fa270 74.4%,#8b6a56 76.9%,#8e8f71 79.5%,#c7b038 82.1%,#fe8b00 84.6%,#fd5c00 87.2%,#fe5d00 89.7%,#ff7800 92.3%,#ffa400 94.9%,#f4d20b 97.4%,#c0f23f)"></i><i style="left:39px;background:linear-gradient(#ce421d,#cb2517 38.5%,#c21e19 48.7%,#d21b15 56.4%,#d02318 59%,#c9230a 64.1%,#d5200c 66.7%,#e63f19 74.4%,#f52f0a 82.1%,#f22d08 87.2%,#f2400d 89.7%,#f49d0b 97.4%,#f5b20a)"></i><i style="left:40px;background:linear-gradient(#16098d,#160cb2 7.69%,#1615b5 10.3%,#1b6eb0 30.8%,#2576a5 33.3%,#2d769d 38.5%,#397591 41%,#54758f 43.6%,#668d95 46.2%,#668395 48.7%,#597375 51.3%,#52747b 53.8%,#637685 56.4%,#81c67b 59%,#9dd25e 61.5%,#9cd15f 64.1%,#85bb77 66.7%,#6b7665 69.2%,#687869 71.8%,#7bbd84 74.4%,#a2e05d 76.9%,#c7ce38 79.5%,#d8c227 82.1%,#d3c32b 84.6%,#aed250 87.2%,#7eab81 89.7%,#63806e 92.3%,#66a799 94.9%,#9def62 97.4%,#def121)"></i><i style="left:41px;background:linear-gradient(#111ab1,#116db4 17.9%,#6d7455 41%,#7a7977 43.6%,#7c9578 46.2%,#7c8e78 48.7%,#7b6a72 51.3%,#7a685b 53.8%,#7c7f76 56.4%,#83b471 59%,#aba648 61.5%,#aca447 64.1%,#83ae70 66.7%,#7d7b72 69.2%,#7e8273 71.8%,#82bb76 74.4%,#b2b446 76.9%,#d2a827 79.5%,#e1a218 82.1%,#dda41c 84.6%,#bfae3a 87.2%,#85b875 89.7%,#829673 92.3%,#8ebb6e 94.9%,#ccb830 97.4%,#f3b20b)"></i><i style="left:42px;background:linear-gradient(#a30e20,#96151c 12.8%,#94211d 17.9%,#92211b 23.1%,#901617 28.2%,#8d1e15 33.3%,#911808 41%,#861f13 46.2%,#841617 48.7%,#861112 51.3%,#8d1a0c 56.4%,#8d1207 61.5%,#89130b 66.7%,#95110b 69.2%,#a82313 74.4%,#b6180a 79.5%,#ba1c0e 82.1%,#c42006 84.6%,#cc100b 92.3%,#d2130a 94.9%,#ef1501)"></i><i style="left:43px;background:linear-gradient(#56757d,#648795 2.56%,#6e9d8a 5.13%,#718b87 7.69%,#71736c 10.3%,#76735f 12.8%,#849973 15.4%,#8ecd69 17.9%,#9bcb5c 20.5%,#8eca69 23.1%,#8e9c69 25.6%,#8e6a55 28.2%,#8d6e69 30.8%,#97b35e 33.3%,#d99a1c 35.9%,#f58400 38.5%,#f47800 41%,#e9890b 43.6%,#ac9b48 46.2%,#8b5069 48.7%,#8c4841 51.3%,#979d5d 53.8%,#f18103 56.4%,#ec3700 59%,#da1400 61.5%,#d10700 64.1%,#d80e00 66.7%,#ed2c00 69.2%,#f67700 71.8%,#b6a641 74.4%,#8e5f6a 76.9%,#8c5f3f 79.5%,#8e866b 82.1%,#d8a421 84.6%,#f95700 87.2%,#f61d00 89.7%,#eb0800 92.3%,#e70400 94.9%,#ed0900 97.4%,#f81900)"></i><i style="left:44px;background:linear-gradient(#d68220,#de741c 23.1%,#e36217 33.3%,#ef3d0b 41%,#f0440f 43.6%,#e76118 48.7%,#e56a15 53.8%,#ef530b 56.4%,#f22d0d 59%,#ed1709 61.5%,#e11304 64.1%,#eb1303 66.7%,#f82f06 69.2%,#e7b115 74.4%,#cfd42b 76.9%,#bddc38 79.5%,#d1de2e 82.1%,#f6b709 84.6%,#ff6a00 87.2%,#ff3c00 89.7%,#fd2e00 92.3%,#fd3b00 94.9%,#f17c0d)"></i><i style="left:45px;background:linear-gradient(#2248aa,#247aaa 17.9%,#65796c 41%,#789b87 43.6%,#84c27b 46.2%,#82c27d 48.7%,#759e8a 51.3%,#667f6b 53.8%,#677d6a 56.4%,#858d7a 59%,#abc553 61.5%,#dcaf21 64.1%,#e4ae1a 66.7%,#c7c538 69.2%,#8bda74 71.8%,#5f8986 74.4%,#3e8d93 76.9%,#408d91 79.5%,#67db98 82.1%,#cfec30 84.6%,#ffba00 87.2%,#ff8f00 89.7%,#ff8f00 92.3%,#ffb900 94.9%,#d9e026 97.4%,#7ef381)"></i><i style="left:46px;background:linear-gradient(#7d754d,#7d5c4e 15.4%,#7f4c78 25.6%,#817875 33.3%,#826c74 38.5%,#837f73 41%,#949267 43.6%,#ab9250 46.2%,#ad914e 48.7%,#8d8c68 53.8%,#878a6f 56.4%,#a98652 59%,#db8320 61.5%,#f77604 64.1%,#f97803 66.7%,#ec9211 69.2%,#c5a239 71.8%,#a59f56 74.4%,#9f9d5a 76.9%,#b49545 79.5%,#d59429 82.1%,#f88705 84.6%,#fd6000 87.2%,#fe5400 89.7%,#ff6500 92.3%,#ff9d00 94.9%,#e6dd19 97.4%,#96fe69)"></i><i style="left:47px;background:linear-gradient(#c37417,#c35714 15.4%,#c14921 23.1%,#be4122 30.8%,#ba4321 38.5%,#bb381e 48.7%,#ba3d1f 51.3%,#ce2608 59%,#d42d05 64.1%,#d03b11 66.7%,#da4d1c 71.8%,#e35017 74.4%,#ee430a 76.9%,#ec1e03 82.1%,#ed1900 87.2%,#f72c00 89.7%,#fa5105 92.3%,#eb8f14 94.9%,#dec221 97.4%,#b9df46)"></i><i style="left:48px;background:linear-gradient(#2a1777,#2a1176 17.9%,#2a1097 20.5%,#2a10ce 23.1%,#2a26d1 25.6%,#290dcd 30.8%,#2927d1 33.3%,#288cd1 35.9%,#32d9c7 38.5%,#57d8a1 41%,#41d8b7 43.6%,#27a1d1 46.2%,#285bd1 48.7%,#28aad1 51.3%,#7bd67d 53.8%,#d6d422 56.4%,#f7c700 59%,#f8cb00 61.5%,#cbd52f 64.1%,#5fd99c 66.7%,#2c8fd1 69.2%,#2da1d1 71.8%,#79db85 74.4%,#ebd713 76.9%,#fd9900 79.5%,#fc6b00 82.1%,#fd5f00 84.6%,#fd7100 87.2%,#fead00 89.7%,#d6e429 92.3%,#49efb6 94.9%,#2b5bd4 97.4%,#273dd4)"></i><i style="left:49px;background:linear-gradient(#d0741b,#d45a13 17.9%,#d04722 30.8%,#cb481d 41%,#cc4922 51.3%,#db2c04 59%,#e03005 61.5%,#e4410d 64.1%,#dd6a22 69.2%,#e06a1f 71.8%,#f64303 76.9%,#f52f00 79.5%,#f62501 82.1%,#fb2704 84.6%,#f74308 87.2%,#f1ab0e 92.3%,#e4d81b 94.9%,#ced231 97.4%,#cad334)"></i><i style="left:50px;background:linear-gradient(#617466,#7b724b 12.8%,#7e6748 20.5%,#7e5e55 25.6%,#7e5a62 28.2%,#7e5779 30.8%,#7e5d7a 35.9%,#7d6b7a 38.5%,#7d9c7d 43.6%,#7d9b7b 46.2%,#7e8a7a 48.7%,#7e847a 51.3%,#7da07a 53.8%,#a99852 56.4%,#c2953a 59%,#be983e 61.5%,#80ac7a 66.7%,#81b379 69.2%,#a4b75b 71.8%,#cfae30 74.4%,#eba113 76.9%,#f59a09 79.5%,#eb9e13 82.1%,#cda732 84.6%,#a5b155 87.2%,#87ca73 89.7%,#99dc66 92.3%,#bbed44 94.9%,#d5ee2a 97.4%,#e2ef1d)"></i><i style="left:51px;background:linear-gradient(#181784,#20147e 25.6%,#201383 28.2%,#2012a0 30.8%,#2012af 33.3%,#1f14af 35.9%,#1f28af 38.5%,#1f4faf 41%,#1f69c4 43.6%,#1f6ab8 46.2%,#1f57af 48.7%,#1e52af 51.3%,#1f74af 53.8%,#42aaba 56.4%,#5acfa2 59%,#57c7a5 61.5%,#3d8bbf 64.1%,#227ead 66.7%,#2a7fa5 69.2%,#4fa0ae 71.8%,#75e589 74.4%,#abe353 76.9%,#bae344 79.5%,#9ee561 82.1%,#60d29f 84.6%,#3b8297 87.2%,#3186a1 89.7%,#519eae 92.3%,#7af085 94.9%,#b5f14a 97.4%,#cdf332)"></i><i style="left:52px;background:linear-gradient(#9f7042,#c86f18 20.5%,#be4a1f 43.6%,#c04416 48.7%,#c5401a 56.4%,#d93f12 71.8%,#ee480e 79.5%,#ec6213 84.6%,#ed6a12 92.3%,#f78208 97.4%,#fa9905)"></i><i style="left:53px;background:linear-gradient(#79544d,#7a4c4e 5.13%,#7c417a 15.4%,#7d6a7a 28.2%,#7d8b7a 33.3%,#829275 35.9%,#7d8c7a 41%,#898a6e 43.6%,#c78434 48.7%,#d28429 51.3%,#c88333 53.8%,#b08247 56.4%,#a48552 59%,#bd833e 61.5%,#e2891a 64.1%,#f67a06 66.7%,#f86d04 69.2%,#f87204 71.8%,#f58d08 74.4%,#d0942e 76.9%,#b39947 79.5%,#ba9e40 82.1%,#dfa820 84.6%,#fb9404 87.2%,#ff7c00 92.3%,#ff8600 94.9%,#fe9f01 97.4%,#f9c506)"></i><i style="left:54px;background:linear-gradient(#220f7c,#220cac 10.3%,#2253af 28.2%,#2478ac 33.3%,#3279a1 35.9%,#31789e 38.5%,#2a78a6 41%,#34789c 43.6%,#547ca9 46.2%,#71bb8c 48.7%,#7dcb7f 51.3%,#75b187 53.8%,#5e767b 56.4%,#507780 59%,#637795 61.5%,#86dc79 64.1%,#c7d338 66.7%,#dbc624 69.2%,#d5ca29 71.8%,#b4dd4b 74.4%,#79ab85 76.9%,#607b71 79.5%,#677d6c 82.1%,#88e577 84.6%,#dcd323 87.2%,#fbc604 89.7%,#ffbc00 92.3%,#ffc900 94.9%,#f7e608 97.4%,#ccf633)"></i><i style="left:55px;background:linear-gradient(#d34d1d,#d43f1f 10.3%,#cf2f1c 41%,#d32518 46.2%,#cd2716 51.3%,#d32510 56.4%,#e23319 64.1%,#eb2a0d 66.7%,#ec280f 69.2%,#f03508 74.4%,#ee390c 79.5%,#f2510d 84.6%,#fa5005 87.2%,#f85d07 89.7%,#f18a09 94.9%,#e9dd16)"></i><i style="left:56px;background:linear-gradient(#34779e,#817a4f 30.8%,#8e8a70 33.3%,#8fad6e 35.9%,#90ae6d 38.5%,#8f8c6e 41%,#8e6f42 43.6%,#8e6d41 46.2%,#90886c 48.7%,#b0ad4c 51.3%,#d79f24 53.8%,#dfa01d 56.4%,#d0ab2d 59%,#a8b956 61.5%,#918b6d 64.1%,#8f6942 66.7%,#92796d 69.2%,#c1b33d 71.8%,#fe9c00 74.4%,#ff7900 76.9%,#ff7300 79.5%,#ff8100 82.1%,#ff9c00 84.6%,#f3b60c 87.2%,#c2cd3d 89.7%,#8cce73 92.3%,#708761 94.9%,#5d8c7d 97.4%,#63e19c)"></i><i style="left:57px;background:linear-gradient(#765584,#7da17d 23.1%,#869f74 28.2%,#ba9b45 35.9%,#c09a3f 38.5%,#b39347 43.6%,#b78e43 46.2%,#d1892e 48.7%,#f4870b 51.3%,#fa7605 53.8%,#f67b09 56.4%,#f1920e 59%,#e0a31f 61.5%,#c6a439 64.1%,#b79f43 66.7%,#cd9732 69.2%,#f88a07 71.8%,#ff5d00 74.4%,#ff4b00 76.9%,#f50 79.5%,#fd7402 82.1%,#f2c60d 87.2%,#c9e536 89.7%,#92fb6d 92.3%,#73cc87 94.9%,#70d78b 97.4%,#97fa68)"></i><i style="left:58px;background:linear-gradient(#80597a,#80697a 7.69%,#808780 12.8%,#80887b 20.5%,#809580 23.1%,#8da172 25.6%,#a89f57 30.8%,#a49a5b 33.3%,#95946a 35.9%,#969369 38.5%,#b4974b 41%,#dc9223 43.6%,#f68709 46.2%,#fb7504 48.7%,#fd7602 51.3%,#ec8513 53.8%,#bb9144 56.4%,#a1985e 59%,#bba544 61.5%,#eaa215 64.1%,#f88607 66.7%,#ff4000 71.8%,#fe3000 74.4%,#ff3e00 76.9%,#ff6e00 79.5%,#e6ab19 82.1%,#98c767 84.6%,#8bbf74 87.2%,#8bee74 89.7%,#aff950 92.3%,#def921 97.4%,#f5ec0a)"></i><i style="left:59px;background:linear-gradient(#846a4d,#86604b 7.69%,#876277 12.8%,#885f76 15.4%,#89544f 20.5%,#895375 23.1%,#8b8573 25.6%,#8d9f71 28.2%,#8ea370 30.8%,#8d8a71 33.3%,#8b5872 35.9%,#8b5172 38.5%,#8e946f 41%,#c2983b 43.6%,#e88e15 46.2%,#f68406 48.7%,#ef810d 51.3%,#c98933 53.8%,#8e856f 56.4%,#8c5d72 59%,#90a36f 61.5%,#d8a027 64.1%,#ff8e00 66.7%,#fe5e00 69.2%,#fd3b00 71.8%,#fa3000 74.4%,#fd3e00 76.9%,#fe7200 79.5%,#d5a72a 82.1%,#8ca773 84.6%,#8b8274 87.2%,#8bd274 89.7%,#acf153 92.3%,#e2f51d 97.4%,#fbe204)"></i><i style="left:60px;background:linear-gradient(#a17453,#cb7b25 20.5%,#d6821c 28.2%,#d66419 38.5%,#d66a1a 41%,#d9650e 46.2%,#db4308 53.8%,#dd400c 56.4%,#e4430e 59%,#ef6f10 64.1%,#f17109 66.7%,#ed600d 69.2%,#eb2e00 74.4%,#ee2400 76.9%,#f62a00 79.5%,#fb3d04 82.1%,#f45b0b 84.6%,#f47a0b 87.2%,#efb710 89.7%,#d1db2e 92.3%,#a8e552 94.9%,#a3eb57 97.4%,#c6ec39)"></i><i style="left:61px;background:linear-gradient(#2720aa,#2a6ba5 17.9%,#2d75ac 20.5%,#3b7494 28.2%,#477386 30.8%,#5f989b 33.3%,#74c885 35.9%,#7ccf7c 38.5%,#74a883 41%,#637168 43.6%,#5f716d 46.2%,#77b282 48.7%,#b8ce3f 51.3%,#dfb417 53.8%,#eca909 56.4%,#e1ac14 59%,#b8bd3e 61.5%,#8f9f69 64.1%,#7a7253 66.7%,#86ad76 69.2%,#d6c226 71.8%,#fb9500 74.4%,#fc6f00 76.9%,#fe6400 79.5%,#ff6c00 82.1%,#ff8300 84.6%,#ffa800 87.2%,#d6cd29 89.7%,#88d077 92.3%,#5e8473 94.9%,#508781 97.4%,#6ae295)"></i><i style="left:62px;background:linear-gradient(#cb2329,#cb2820 17.9%,#c61f22 28.2%,#c32a0f 35.9%,#bb200e 41%,#c21e0b 43.6%,#c72210 46.2%,#c22a1c 48.7%,#be2b15 51.3%,#b82101 56.4%,#ae1507 61.5%,#c70e09 66.7%,#d6190d 69.2%,#f02502 74.4%,#ea2711 79.5%,#f3310c 82.1%,#ff2b00 84.6%,#fd1e00 87.2%,#f1300d 92.3%,#ee420c 94.9%,#ef7710)"></i><i style="left:63px;background:linear-gradient(#2d78d1,#35a8c9 2.56%,#41babd 5.13%,#41b2bc 7.69%,#3b9bc2 10.3%,#409cbe 12.8%,#54c3a9 15.4%,#81d47d 17.9%,#9fd45e 20.5%,#96d368 23.1%,#6bd392 25.6%,#5eb79f 28.2%,#67c795 30.8%,#b4d247 33.3%,#f2ba07 35.9%,#f68d00 38.5%,#f68600 41%,#f7aa00 43.6%,#d3cd27 46.2%,#7cd27f 48.7%,#76c085 51.3%,#c4cb33 53.8%,#f48600 56.4%,#f03300 59%,#ef0a00 61.5%,#f00700 64.1%,#f71900 66.7%,#fb4000 69.2%,#fd7d00 71.8%,#e9c215 74.4%,#7ed881 76.9%,#61979e 79.5%,#93d96c 82.1%,#ffb400 84.6%,#ff5000 87.2%,#f20 89.7%,#ff1300 92.3%,#ff1f00 94.9%,#ff4c00)"></i><i style="left:64px;background:linear-gradient(#d13f29,#d33827 12.8%,#e0341a 20.5%,#dd2b1d 30.8%,#e52713 33.3%,#e4200e 35.9%,#d3230b 41%,#e7220e 46.2%,#e22c18 48.7%,#e42c11 53.8%,#c41702 59%,#bb1202 61.5%,#c11305 64.1%,#d4150b 66.7%,#ed1808 69.2%,#f2350b 71.8%,#f25e0d 74.4%,#ed7012 76.9%,#f3640c 82.1%,#ff4300 84.6%,#ff1e00 87.2%,#ff1900 89.7%,#fd2902 92.3%,#f54c0a 94.9%,#ec840e)"></i><i style="left:65px;background:linear-gradient(#2245af,#2276af 12.8%,#5f7672 33.3%,#73757c 35.9%,#88b373 38.5%,#91c96a 41%,#8eb16d 43.6%,#7e745a 46.2%,#74755d 48.7%,#81765f 51.3%,#95c369 53.8%,#c2b738 56.4%,#e3a315 59%,#e89d0f 61.5%,#caac2d 64.1%,#93ae69 66.7%,#86764b 69.2%,#857966 71.8%,#9ee061 74.4%,#d8cd27 76.9%,#fabd05 79.5%,#ff9e00 82.1%,#ff8300 84.6%,#ff7600 87.2%,#ff8f00 89.7%,#eebe11 92.3%,#9ce963 94.9%,#5d877a 97.4%,#458b8c)"></i><i style="left:66px;background:linear-gradient(#744e86,#747986 10.3%,#7c927e 20.5%,#938f67 25.6%,#a28a58 33.3%,#d68628 38.5%,#e18916 41%,#d07e27 46.2%,#c98130 48.7%,#d1832b 51.3%,#e78918 53.8%,#f05f03 59%,#ef5702 61.5%,#ef6305 64.1%,#f27e0c 66.7%,#d98220 69.2%,#e0881d 71.8%,#f4920b 74.4%,#fc7603 79.5%,#f76708 84.6%,#fb6504 87.2%,#ff7a00 89.7%,#fda202 92.3%,#d7c928 94.9%,#9cd45f 97.4%,#84e476)"></i><i style="left:67px;background:linear-gradient(#804e7a,#80537a 2.56%,#807880 7.69%,#808280 10.3%,#80787e 15.4%,#808180 17.9%,#8a9275 20.5%,#9f9460 23.1%,#a99356 25.6%,#94886b 33.3%,#a85 35.9%,#d58429 38.5%,#f28105 41%,#f17003 43.6%,#f17305 46.2%,#ef830e 48.7%,#cd8832 51.3%,#b78348 53.8%,#c2803d 56.4%,#e88113 59%,#f35f00 61.5%,#f03e00 64.1%,#f23100 66.7%,#f63503 69.2%,#fd4802 71.8%,#fc8f03 76.9%,#dea321 79.5%,#b8a247 82.1%,#a9a752 84.6%,#ccb033 87.2%,#fda902 89.7%,#f80 92.3%,#fc8203 94.9%,#f4a20b)"></i><i style="left:68px;background:linear-gradient(#806052,#805f52 2.56%,#805f6e 5.13%,#806f80 7.69%,#807980 10.3%,#806980 12.8%,#805c75 15.4%,#80607f 17.9%,#828c7d 20.5%,#85ac7a 23.1%,#87b478 25.6%,#87a478 28.2%,#876678 33.3%,#898b76 35.9%,#a6ae59 38.5%,#daa224 41%,#f2970c 43.6%,#f1960d 46.2%,#d49f2b 48.7%,#95ad6a 51.3%,#8c7373 53.8%,#8d8172 56.4%,#b1b44e 59%,#fc9a02 61.5%,#fd5800 64.1%,#fd3a00 66.7%,#fe4100 69.2%,#ff6800 71.8%,#fca103 74.4%,#dbcc24 76.9%,#98e667 79.5%,#889077 82.1%,#878c57 84.6%,#93e56c 87.2%,#eccb13 89.7%,#ff9b00 92.3%,#ff8600 94.9%,#ff8f00 97.4%,#fca703)"></i><i style="left:69px;background:linear-gradient(#746d7c,#75947f 15.4%,#8f9969 25.6%,#a89152 33.3%,#ae954c 38.5%,#e89217 46.2%,#e5971a 48.7%,#b89c42 53.8%,#b5a145 56.4%,#cca433 59%,#ed9612 61.5%,#f86a07 64.1%,#fb5803 66.7%,#fa6605 69.2%,#f0970f 71.8%,#b4c546 76.9%,#b5d34a 79.5%,#c9d636 82.1%,#e5d216 84.6%,#fda702 89.7%,#ff9600 92.3%,#ffa200 94.9%,#fac705 97.4%,#d3e32c)"></i><i style="left:70px;background:linear-gradient(#1f1683,#221980 17.9%,#23188a 23.1%,#2417a6 28.2%,#263da9 33.3%,#2632a9 38.5%,#2749a7 41%,#2992d3 43.6%,#46c4b5 46.2%,#4ac4b1 48.7%,#3494c7 51.3%,#276ba7 53.8%,#2864a8 56.4%,#2f85cf 59%,#5fdf9e 61.5%,#bbdb41 64.1%,#e0d51b 66.7%,#cfdb2d 69.2%,#73e18a 71.8%,#3f7db1 74.4%,#2c80a5 76.9%,#458bba 79.5%,#67e698 82.1%,#b0ec4f 84.6%,#e8e517 87.2%,#fdd502 89.7%,#ffc700 92.3%,#fddb02 94.9%,#d4f02b 97.4%,#71f78e)"></i><i style="left:71px;background:linear-gradient(#c17425,#d06f13 10.3%,#c9451b 35.9%,#c4451f 43.6%,#c63b15 48.7%,#c63b19 51.3%,#d13e1f 59%,#d3451d 61.5%,#df2d03 66.7%,#de2c05 69.2%,#db380f 71.8%,#e84912 76.9%,#e96b16 82.1%,#eb6d14 84.6%,#f1630e 87.2%,#f76d08 92.3%,#fc8003 94.9%,#f0c40f)"></i><i style="left:72px;background:linear-gradient(#827f4e,#8a7546 10.3%,#8a7161 12.8%,#896d5e 15.4%,#896946 17.9%,#8a614d 23.1%,#8c7a71 25.6%,#8d9870 28.2%,#8e9a6f 30.8%,#8d7b70 33.3%,#8c4e5b 35.9%,#8c4d54 38.5%,#8e846f 41%,#b29d4a 43.6%,#dd8f1e 46.2%,#ec860f 48.7%,#e18a1a 51.3%,#b69946 53.8%,#90786d 56.4%,#8e4958 59%,#8f8c6e 61.5%,#d49429 64.1%,#fc7200 66.7%,#fc4c00 69.2%,#fd4500 71.8%,#fe5300 74.4%,#ff7500 76.9%,#fca503 79.5%,#c5bc3a 82.1%,#8cb373 84.6%,#897f76 87.2%,#86b179 89.7%,#a9cd56 92.3%,#dacd25 94.9%,#fbcf04 97.4%,#ffc300)"></i><i style="left:73px;background:linear-gradient(#7f817b,#808a76 7.69%,#809f78 12.8%,#81a979 20.5%,#adab52 30.8%,#9aa062 35.9%,#999e63 38.5%,#b0a04d 41%,#f09a0f 46.2%,#f98606 48.7%,#fc8403 51.3%,#ed8e12 53.8%,#c99236 56.4%,#b2974a 59%,#c1a73e 61.5%,#eea911 64.1%,#fa8805 66.7%,#f96806 69.2%,#f95c06 71.8%,#fb6404 74.4%,#fc7f03 76.9%,#fcac03 79.5%,#d7d228 82.1%,#8df072 84.6%,#69b796 87.2%,#50b9af 89.7%,#57f0a3 92.3%,#daf925 97.4%,#f7e708)"></i><i style="left:74px;background:linear-gradient(#75ae8a,#74a489 2.56%,#748588 5.13%,#776b60 7.69%,#7e7354 12.8%,#7f707f 15.4%,#80b580 17.9%,#90c96f 20.5%,#a5c25a 23.1%,#a7bc58 25.6%,#83ba77 30.8%,#7f917d 35.9%,#81747e 38.5%,#856267 41%,#885f70 43.6%,#8cac73 46.2%,#d0a92f 48.7%,#ff9000 51.3%,#fe6c01 53.8%,#fa6505 56.4%,#f87507 59%,#f89507 61.5%,#eab315 64.1%,#c6ae39 66.7%,#b5aa45 69.2%,#bca941 71.8%,#d9be26 76.9%,#decb21 79.5%,#d0de2f 82.1%,#acf853 84.6%,#66ef99 87.2%,#43a0bc 89.7%,#348f9d 92.3%,#428eb6 94.9%,#60e89f 97.4%,#a5fd5a)"></i><i style="left:75px;background:linear-gradient(#2993d6,#2179cd 2.56%,#227cc4 5.13%,#3b80ba 7.69%,#79b381 12.8%,#8aca75 15.4%,#8de872 20.5%,#86dd79 23.1%,#73b88c 25.6%,#5c8594 28.2%,#4d8584 30.8%,#54827d 33.3%,#6b7f74 35.9%,#83847c 38.5%,#8b8c72 41%,#8b9773 43.6%,#94bb6b 46.2%,#d3ab2b 48.7%,#fe9800 51.3%,#fe7600 53.8%,#fe7000 56.4%,#fe8400 59%,#f2aa0d 61.5%,#b4cf4b 64.1%,#81917e 66.7%,#63876f 69.2%,#688981 71.8%,#80dc7f 74.4%,#aeee51 76.9%,#c5df3a 79.5%,#c7db38 82.1%,#b6dd49 84.6%,#97de68 87.2%,#85ca7a 89.7%,#7ba87f 92.3%,#68a196 94.9%,#5adba5 97.4%,#72ff8d)"></i><i style="left:76px;background:linear-gradient(#c58e30,#dc8219 15.4%,#d6701f 30.8%,#dd5d22 41%,#df5720 46.2%,#e04a12 51.3%,#df4714 56.4%,#f94405 61.5%,#e87d17 66.7%,#d9a321 69.2%,#dbaa22 74.4%,#e0a31f 76.9%,#f5850a 82.1%,#f5730a 87.2%,#f4830b 89.7%,#f3a30c 92.3%,#ebd914 94.9%,#bbfb44 97.4%,#84f27b)"></i><i style="left:77px;background:linear-gradient(#221a82,#27187c 12.8%,#29178b 20.5%,#2a19a6 25.6%,#2b33a5 30.8%,#2c2ba4 35.9%,#2c4cc6 38.5%,#2bb0d1 41%,#3fcfbd 43.6%,#3cc7c0 46.2%,#2c94d1 48.7%,#2c59a3 51.3%,#2b5fad 53.8%,#42c4b9 56.4%,#a2d958 59%,#dcd81e 61.5%,#dbda20 64.1%,#a5df57 66.7%,#3ce6c2 69.2%,#2e6fd1 71.8%,#2e59b9 74.4%,#34b6cb 76.9%,#7fe980 79.5%,#dce423 82.1%,#ffc600 84.6%,#ffa200 87.2%,#ffa800 89.7%,#ffd000 92.3%,#cced33 94.9%,#57f4a8 97.4%,#2480db)"></i><i style="left:78px;background:linear-gradient(#7d6e73,#9e6d4e 12.8%,#b0773f 20.5%,#be6d31 28.2%,#d37716 35.9%,#cf6916 43.6%,#ce6a22 48.7%,#d36f1c 53.8%,#d66414 56.4%,#d23703 61.5%,#d33503 64.1%,#d6410a 66.7%,#dc5815 69.2%,#e86d17 71.8%,#e2901a 74.4%,#dd9f22 76.9%,#f07c0f 82.1%,#fd5b02 84.6%,#ff3b00 87.2%,#ff3700 89.7%,#f40 92.3%,#e1a61e)"></i><i style="left:79px;background:linear-gradient(#834b4e,#855878 2.56%,#876d76 5.13%,#885975 7.69%,#884058 10.3%,#893e50 12.8%,#8b6271 15.4%,#8e996f 17.9%,#9f9d5d 20.5%,#939b69 23.1%,#8f6e6c 25.6%,#8f3265 28.2%,#914b6b 30.8%,#a29159 33.3%,#e18519 35.9%,#f97000 38.5%,#f56700 41%,#f07608 43.6%,#b98341 46.2%,#925669 48.7%,#933969 51.3%,#a78c53 53.8%,#f97200 56.4%,#e63500 59%,#d91500 61.5%,#d70c00 64.1%,#e11500 66.7%,#f53100 69.2%,#fd7600 71.8%,#ccac33 74.4%,#968969 76.9%,#93643e 79.5%,#94af6b 82.1%,#eca213 84.6%,#ff5a00 87.2%,#ff2800 89.7%,#fe0d00 92.3%,#fe0800 94.9%,#ff1700 97.4%,#fe3901)"></i><i style="left:80px;background:linear-gradient(#977451,#ab7743 5.13%,#b0733b 12.8%,#d48018 20.5%,#c67724 28.2%,#cb7a1e 30.8%,#d17515 33.3%,#d54608 38.5%,#d44006 41%,#d64c07 43.6%,#d67613 48.7%,#d77411 51.3%,#d7650c 53.8%,#db4100 56.4%,#d31f00 59%,#cb0d01 61.5%,#c80c02 64.1%,#d50d02 66.7%,#e31f00 69.2%,#f56606 74.4%,#eb8a14 76.9%,#d39527 79.5%,#dba624 82.1%,#f99506 84.6%,#fb5a04 87.2%,#fd2e02 89.7%,#fc1000 92.3%,#f50a00 94.9%,#fc0b00 97.4%,#ff2300)"></i><i style="left:81px;background:linear-gradient(#77444f,#79387a 10.3%,#7d7f75 33.3%,#867d6d 35.9%,#ac734d 41%,#a17e57 48.7%,#cd822d 53.8%,#da8218 56.4%,#da7f15 59%,#c96c28 64.1%,#d16e26 66.7%,#e67e15 69.2%,#f0770d 71.8%,#f57c0a 74.4%,#f3920c 76.9%,#e8aa17 79.5%,#d2b12d 82.1%,#c3aa3a 84.6%,#c69c34 87.2%,#d99926 89.7%,#ef8b10 92.3%,#f97205 94.9%,#ff6c00 97.4%,#ff7c00)"></i><i style="left:82px;background:linear-gradient(#191386,#211882 33.3%,#23188c 35.9%,#2625ab 38.5%,#2740c5 41%,#2738b4 43.6%,#261aab 46.2%,#2619ab 48.7%,#274abb 51.3%,#2aacd4 53.8%,#42d3ba 56.4%,#3ed0be 59%,#2c89d2 61.5%,#2b31a6 64.1%,#2c48ba 66.7%,#3ecdc1 69.2%,#85e17a 71.8%,#a5e15a 74.4%,#98e467 76.9%,#6ee891 79.5%,#3fc8c0 82.1%,#2a6ec2 84.6%,#2a4ea7 87.2%,#2c92d3 89.7%,#70ed8f 92.3%,#d1e92e 94.9%,#fee801 97.4%,#ffea00)"></i><i style="left:83px;background:linear-gradient(#827d6e,#d7771d 35.9%,#d85c19 56.4%,#e47118 66.7%,#f35a0c 74.4%,#f2640d 76.9%,#e88c17 82.1%,#e5ba1a 89.7%,#ecb913 92.3%,#f7aa08 94.9%,#fca603 97.4%,#fcb503)"></i><i style="left:84px;background:linear-gradient(#765d52,#775752 5.13%,#7a4d7b 15.4%,#7f9675 38.5%,#b9823e 56.4%,#c79433 66.7%,#d48f26 74.4%,#cdc02d 89.7%,#cfc72f 97.4%,#c8d136)"></i><i style="left:85px;background:linear-gradient(#0b0989,#100e8b 51.3%,#120eb1 59%,#153fb2 74.4%,#145db3 92.3%,#1470dc 97.4%,#136dd7)"></i><i style="left:86px;background:linear-gradient(#00008f,#000094 59%,#000a98)"></i><i style="left:87px;background:linear-gradient(#00008f,#000194)"></i><i style="left:88px;background:linear-gradient(#00008f,#000a94 33.3%,#0b138e 79.5%,#0b1490 82.1%,#0b15ad 87.2%,#0c15b2 92.3%,#0d29ba 97.4%,#0c21bb)"></i><i style="left:89px;background:linear-gradient(#130783,#130683 5.13%,#1208b0 15.4%,#123fb0 28.2%,#125fb0 33.3%,#1569ad 35.9%,#49697c 48.7%,#616c8d 56.4%,#779c78 66.7%,#7fc479 87.2%,#8ec76b 94.9%,#91cf69 97.4%,#87da73)"></i><i style="left:90px;background:linear-gradient(#b64715,#b32f18 15.4%,#ab1619 43.6%,#a91712 53.8%,#b21c19 61.5%,#ba1c0b 71.8%,#d92610 79.5%,#e23114 84.6%,#f5350a 94.9%,#f5480a 97.4%,#f46b0b)"></i><i style="left:91px;background:linear-gradient(#6e6f59,#7a6f4e 5.13%,#7b554d 20.5%,#7b457a 30.8%,#808278 38.5%,#807c75 41%,#7f6b75 43.6%,#7f7275 46.2%,#8c896d 48.7%,#b28646 51.3%,#c48434 53.8%,#be863a 56.4%,#838b72 61.5%,#988a5f 64.1%,#cf882a 66.7%,#f47604 69.2%,#f36a03 71.8%,#f67504 74.4%,#e68c15 76.9%,#a69952 82.1%,#a09e58 84.6%,#c1a03d 87.2%,#f19d0d 89.7%,#fe7800 92.3%,#ff5f00 94.9%,#f60 97.4%,#ff8f00)"></i><i style="left:92px;background:linear-gradient(#20109d,#2110a9 2.56%,#216dad 28.2%,#2670a9 30.8%,#4a7485 35.9%,#587698 38.5%,#587580 41%,#4f737f 43.6%,#52747d 46.2%,#697c93 48.7%,#84c277 51.3%,#8ed76d 53.8%,#8dcc6e 56.4%,#7d8c7d 59%,#6f775d 61.5%,#7e766c 64.1%,#95cc65 66.7%,#d2b628 69.2%,#e3b119 71.8%,#dabd25 74.4%,#b3d84c 76.9%,#7fbe80 79.5%,#63806e 82.1%,#618170 84.6%,#81b97e 87.2%,#c9d336 89.7%,#ffaf00 92.3%,#fe8300 94.9%,#ff8100 97.4%,#ffa800)"></i><i style="left:93px;background:linear-gradient(#c32,#cb2b21 12.8%,#cc3320 20.5%,#ca2420 30.8%,#cb2a1c 33.3%,#ca1e0e 41%,#cc2217 46.2%,#cc181b 48.7%,#c61f14 51.3%,#c02a17 53.8%,#c8270e 56.4%,#ca190d 59%,#c70f0b 64.1%,#c51a0b 66.7%,#e12404 71.8%,#ed2a0f 74.4%,#e35617 79.5%,#e57215 84.6%,#f1610e 87.2%,#f94406 89.7%,#fd2300 92.3%,#f71600 94.9%,#fb1900 97.4%,#ff3600)"></i><i style="left:94px;background:linear-gradient(#337c9e,#427ebd 2.56%,#4c93b2 5.13%,#4f84af 7.69%,#4e7992 10.3%,#537889 12.8%,#61929d 15.4%,#72c58c 17.9%,#7cd981 20.5%,#7dce81 23.1%,#76a188 25.6%,#717580 28.2%,#798185 30.8%,#8fd56e 33.3%,#cdc32f 35.9%,#efae0d 38.5%,#f3a908 41%,#d9b723 43.6%,#9dce60 46.2%,#907b6c 48.7%,#917643 51.3%,#92be69 53.8%,#e2ab18 56.4%,#fb6a00 59%,#fa3500 61.5%,#f92100 64.1%,#fa2b00 66.7%,#fa5c00 69.2%,#efac0e 71.8%,#96d669 74.4%,#85834c 76.9%,#75865d 79.5%,#799886 82.1%,#a8f057 84.6%,#f6c809 87.2%,#f70 89.7%,#ff3600 92.3%,#fe1500 94.9%,#ff1000 97.4%,#ff2700)"></i><i style="left:95px;background:linear-gradient(#d29528,#d5992a 5.13%,#d58c26 12.8%,#da9725 17.9%,#dd9322 23.1%,#d98325 28.2%,#e3871c 33.3%,#fd5c02 38.5%,#fe5601 41%,#f76508 43.6%,#e88317 46.2%,#de9621 48.7%,#de9d1d 51.3%,#e69319 53.8%,#fb6b04 56.4%,#ff3400 59%,#fb1100 61.5%,#f40b00 64.1%,#fe1000 66.7%,#ff3f00 69.2%,#fd9102 71.8%,#e7e618 74.4%,#b1eb49 76.9%,#92e866 79.5%,#abf154 82.1%,#e5f71a 84.6%,#febc01 87.2%,#ff7f00 89.7%,#ff4e00 92.3%,#ff3200 94.9%,#ff2a00 97.4%,#ff3a00)"></i><i style="left:96px;background:linear-gradient(#2e41d1,#2e75d1 2.56%,#2e93d1 5.13%,#2e8cd1 7.69%,#2e73d1 10.3%,#2e78d1 12.8%,#37e2c8 17.9%,#53e2ac 20.5%,#4be2b4 23.1%,#30d5cf 25.6%,#2eb2d1 28.2%,#2ec9d1 30.8%,#6cdf93 33.3%,#c2db3d 35.9%,#f5d90a 38.5%,#fcd803 41%,#d9da26 43.6%,#3cdbc3 48.7%,#39cbc6 51.3%,#80de7e 53.8%,#f1d90e 56.4%,#ff8e00 59%,#ff5a00 61.5%,#fe4700 64.1%,#ff5000 66.7%,#ff8000 69.2%,#fad805 71.8%,#88ea77 74.4%,#43a2bc 76.9%,#3187bc 79.5%,#44cdbb 82.1%,#9cf263 84.6%,#fded02 87.2%,#ffab00 89.7%,#ff7b00 92.3%,#ff5c00 94.9%,#ff4a00 97.4%,#ff4d00)"></i><i style="left:97px;background:linear-gradient(#d15829,#d15d29 5.13%,#d15429 12.8%,#d25a2a 17.9%,#d65724 20.5%,#d44c29 28.2%,#d64f29 30.8%,#ed3712 38.5%,#ec360e 41%,#e64419 46.2%,#e43718 51.3%,#fa3405 56.4%,#ed2110 64.1%,#ff2c00 69.2%,#fe3b01 71.8%,#eb5314 76.9%,#e96214 79.5%,#f3940c 84.6%,#f69f09 87.2%,#eca213 89.7%,#e89912 92.3%,#ea9315 94.9%,#ff7000)"></i><i style="left:98px;background:linear-gradient(#293ca7,#2c75a5 15.4%,#2f7ab6 17.9%,#33799d 20.5%,#3a7795 25.6%,#4777a7 28.2%,#5baca1 30.8%,#6bc992 33.3%,#6dc08f 35.9%,#61869a 38.5%,#567279 41%,#627a9a 43.6%,#85d977 46.2%,#cdd02f 48.7%,#e5c016 51.3%,#eabc11 53.8%,#d9c522 56.4%,#9cd660 59%,#6a7992 61.5%,#687092 64.1%,#aed64f 66.7%,#fcb401 69.2%,#fd8400 71.8%,#fe7700 74.4%,#ff7f00 76.9%,#ff9200 79.5%,#ffb400 82.1%,#f2db0d 84.6%,#aee751 87.2%,#4ec4b1 89.7%,#2e7fa3 92.3%,#43b6bc 94.9%,#b6e949 97.4%,#ffc700)"></i><i style="left:99px;background:linear-gradient(#af7739,#c97a1d 12.8%,#cc7a1d 20.5%,#cd6319 28.2%,#cb631b 33.3%,#d0580f 41%,#cc5517 46.2%,#d23e10 48.7%,#d23409 51.3%,#d7460b 59%,#d54410 64.1%,#dc4209 66.7%,#e63000 69.2%,#eb2a00 71.8%,#f12e0b 76.9%,#f43a09 79.5%,#f96f06 84.6%,#ec8e13 89.7%,#e89912 92.3%,#eaa215 94.9%,#f79308 97.4%,#ff7900)"></i><i style="left:100px;background:linear-gradient(#8c7544,#8f6e6f 5.13%,#90653f 10.3%,#91613e 12.8%,#925c61 15.4%,#93966a 17.9%,#94ab69 20.5%,#949869 23.1%,#945669 25.6%,#934d3c 28.2%,#94483b 30.8%,#949369 33.3%,#cb9631 35.9%,#eb8c11 38.5%,#f0890c 41%,#da8d22 43.6%,#a0955c 46.2%,#933561 48.7%,#92343b 51.3%,#959166 53.8%,#ec8210 56.4%,#fc5300 59%,#f73400 61.5%,#f32700 64.1%,#f42800 66.7%,#fc3f00 69.2%,#fd8100 71.8%,#bca142 74.4%,#8f786f 76.9%,#8e5b57 79.5%,#91a56e 82.1%,#d6bc29 84.6%,#ff8f00 87.2%,#ff6200 89.7%,#ff4b00 92.3%,#ff4600 97.4%,#ff5200)"></i><i style="left:101px;background:linear-gradient(#b19544,#d18f27 15.4%,#e29618 20.5%,#de8a1a 28.2%,#e88617 33.3%,#f25d0d 38.5%,#f2590d 41%,#f0630f 43.6%,#e98815 48.7%,#e38f17 51.3%,#e88a17 53.8%,#f4430b 59%,#f22906 61.5%,#ef1d02 64.1%,#f32001 66.7%,#fd3902 69.2%,#f77e08 71.8%,#e0c21f 74.4%,#a7ce56 76.9%,#95d567 79.5%,#bbd744 82.1%,#f7be08 84.6%,#ff7a00 87.2%,#f50 89.7%,#ff4700 92.3%,#ff4e00 94.9%,#fd6102 97.4%,#f88107)"></i><i style="left:102px;background:linear-gradient(#538079,#858147 23.1%,#857e4e 25.6%,#887d72 30.8%,#898672 33.3%,#8a6b70 38.5%,#8b8270 41%,#8bac74 43.6%,#94c06b 46.2%,#95c56a 48.7%,#8abb75 51.3%,#8b8d74 53.8%,#8b8070 56.4%,#8bb174 59%,#c3a63b 61.5%,#ea9814 64.1%,#f69608 66.7%,#e5a61a 69.2%,#b0c94f 71.8%,#8abd75 74.4%,#71887e 76.9%,#72b68d 79.5%,#9bf164 82.1%,#dfd320 84.6%,#ffaf00 87.2%,#ff9600 89.7%,#ff9600 92.3%,#ffae00 94.9%,#eecd11 97.4%,#baed45)"></i><i style="left:103px;background:linear-gradient(#1e65ae,#1f76ad 5.13%,#587573 23.1%,#71745f 30.8%,#7a7562 33.3%,#7c7352 35.9%,#857550 41%,#889674 43.6%,#87b373 46.2%,#86b373 48.7%,#849a74 51.3%,#856274 53.8%,#876352 56.4%,#899274 59%,#a5bb58 61.5%,#d5ab28 64.1%,#e4a318 66.7%,#d3a828 69.2%,#a1b65a 71.8%,#889774 74.4%,#867774 76.9%,#88a176 79.5%,#a6c159 82.1%,#dcb723 84.6%,#ffac00 87.2%,#ff9f00 89.7%,#ffa700 92.3%,#ffc400 94.9%,#e5df1a 97.4%,#a1f65e)"></i><i style="left:104px;background:linear-gradient(#d12624,#ce2024 20.5%,#cb2217 35.9%,#cc181b 41%,#c6201d 43.6%,#bf2915 46.2%,#b5200b 51.3%,#cc1f0a 56.4%,#d42515 59%,#d5261a 61.5%,#da2204 69.2%,#d21c09 71.8%,#dd120b 76.9%,#f61f09 82.1%,#fc3503 84.6%,#e87917 92.3%,#ee9711 94.9%,#f8a407 97.4%,#f5b00a)"></i><i style="left:105px;background:linear-gradient(#2b1ca3,#2b36a3 5.13%,#2a40a3 10.3%,#2a4ea3 12.8%,#2a5fcd 15.4%,#2a78d1 17.9%,#2a6ad1 20.5%,#2968af 23.1%,#296fb7 25.6%,#3c8ebe 28.2%,#57c6a3 30.8%,#75d483 33.3%,#6bd48d 35.9%,#55aba4 38.5%,#4671b3 41%,#569ea2 43.6%,#a0d355 46.2%,#e7bc0c 48.7%,#f19d00 51.3%,#f3a100 53.8%,#e6c011 56.4%,#a1d358 59%,#5f9f9b 61.5%,#5c949e 64.1%,#b1d348 66.7%,#f79d00 69.2%,#f55800 71.8%,#f63d00 74.4%,#f93d00 76.9%,#fc4c00 79.5%,#fe6f00 82.1%,#ffac00 84.6%,#c8db37 87.2%,#4fb6b0 89.7%,#2e86d1 92.3%,#62e99d 94.9%,#dbea24 97.4%,#ffd000)"></i><i style="left:106px;background:linear-gradient(#c16619,#bc431e 25.6%,#bc371f 41%,#bf3414 46.2%,#c42108 48.7%,#bd1d05 51.3%,#be1e07 53.8%,#ca280c 56.4%,#cc421b 61.5%,#d04016 64.1%,#d73708 66.7%,#d81b00 69.2%,#cb1400 71.8%,#cc1301 74.4%,#e51809 79.5%,#fa3e05 84.6%,#f95b06 87.2%,#ec7513 89.7%,#ee9011 94.9%,#fb8d04 97.4%,#fe8f01)"></i><i style="left:107px;background:linear-gradient(#757654,#7c744d 5.13%,#7c5e4d 17.9%,#7f4d72 28.2%,#837e75 35.9%,#836b73 41%,#847672 43.6%,#8e926c 46.2%,#b58944 48.7%,#c18438 51.3%,#b28747 53.8%,#908c69 56.4%,#868a71 59%,#959a68 61.5%,#c89734 64.1%,#f68506 66.7%,#f96702 69.2%,#f76e03 71.8%,#e78712 74.4%,#bf913d 76.9%,#9f9759 79.5%,#a39f59 82.1%,#cba934 84.6%,#fca203 87.2%,#f80 89.7%,#ff7f00 92.3%,#ff8b00 94.9%,#ffa900 97.4%,#f2cd0d)"></i><i style="left:108px;background:linear-gradient(#2232ab,#2271aa 17.9%,#416f8f 28.2%,#5b7374 33.3%,#657580 35.9%,#65746a 38.5%,#63736c 41%,#6c7462 43.6%,#819279 46.2%,#8bc26f 48.7%,#8cca6d 51.3%,#8cb56f 53.8%,#81776a 56.4%,#7b7655 59%,#898273 61.5%,#98c262 64.1%,#d4ab25 66.7%,#eba00f 69.2%,#e3ab19 71.8%,#b9c846 74.4%,#89ad76 76.9%,#727e5f 79.5%,#7d7e65 82.1%,#99d466 84.6%,#e8b217 87.2%,#fe9400 89.7%,#ff8200 92.3%,#ff9300 94.9%,#ffc200 97.4%,#e0ef1f)"></i><i style="left:109px;background:linear-gradient(#d12924,#d5191b 28.2%,#ce1713 41%,#b52717 48.7%,#b82517 51.3%,#d51711 56.4%,#d81a14 59%,#d12014 61.5%,#c42105 66.7%,#ca2104 69.2%,#ec2d13 74.4%,#e64814 76.9%,#e75415 82.1%,#f2420d 84.6%,#f82003 87.2%,#f61800 89.7%,#fe1900 92.3%,#ff4000 94.9%,#fb7b04 97.4%,#edba12)"></i><i style="left:110px;background:linear-gradient(#224daa,#2270aa 10.3%,#56717b 28.2%,#63746e 30.8%,#6c756d 33.3%,#6e7461 35.9%,#6e7361 38.5%,#787557 41%,#8a9e71 43.6%,#8cbe6e 46.2%,#8cbf6e 48.7%,#8a9e70 51.3%,#887448 53.8%,#867749 56.4%,#8d9370 59%,#acba50 61.5%,#dfa21b 64.1%,#ef9809 66.7%,#e0a11a 69.2%,#a6bd57 71.8%,#8e8971 74.4%,#817f50 76.9%,#868279 79.5%,#9ada65 82.1%,#e8b617 84.6%,#ff7800 87.2%,#fe5700 89.7%,#ff5f00 92.3%,#f90 94.9%,#dbdb24 97.4%,#72ec8d)"></i><i style="left:111px;background:linear-gradient(#7b6c50,#7e5b51 12.8%,#80536c 17.9%,#815076 23.1%,#836375 28.2%,#847773 30.8%,#858173 33.3%,#857572 38.5%,#868771 41%,#9f915c 43.6%,#bc8a3e 46.2%,#c18839 48.7%,#ad8b4e 51.3%,#8c926b 53.8%,#88946f 56.4%,#ad914f 59%,#df851c 61.5%,#f36c03 64.1%,#f25f01 66.7%,#f97003 69.2%,#d99625 71.8%,#a4a95b 74.4%,#8ab470 76.9%,#a0b25f 79.5%,#d2aa2d 82.1%,#fc8402 84.6%,#fd4900 87.2%,#fd3400 89.7%,#fe4200 92.3%,#ff7c00 94.9%,#edcb12 97.4%,#9ffb60)"></i><i style="left:112px;background:linear-gradient(#b3722d,#c96e14 12.8%,#c04e22 33.3%,#bf4722 41%,#bc4920 43.6%,#c13d15 48.7%,#c24622 53.8%,#c94a1e 59%,#d52801 64.1%,#d52100 66.7%,#df2d01 69.2%,#e5470d 71.8%,#df6720 74.4%,#dd7622 76.9%,#df7a20 79.5%,#f15d0e 82.1%,#f83b00 84.6%,#ee1e00 87.2%,#ef1800 89.7%,#f92300 92.3%,#ff5100 94.9%,#fa9a05 97.4%,#e3e61c)"></i><i style="left:113px;background:linear-gradient(#1f1780,#271577 23.1%,#27147d 25.6%,#281393 28.2%,#2726c1 30.8%,#2638d1 33.3%,#2717a3 38.5%,#2639cf 41%,#25b8d1 43.6%,#53d9a2 46.2%,#62d893 48.7%,#2fd1c6 51.3%,#2667d1 53.8%,#2746d1 56.4%,#2ec8ca 59%,#9dd75a 61.5%,#e9d30d 64.1%,#f6c100 66.7%,#f0d207 69.2%,#a3d856 71.8%,#2bcfd1 74.4%,#2b61d1 76.9%,#2cc0d1 79.5%,#a3dc5a 82.1%,#fdc600 84.6%,#fc8100 87.2%,#fd6d00 89.7%,#fe7b00 92.3%,#ffb100 94.9%,#deea21 97.4%,#6ff790)"></i><i style="left:114px;background:linear-gradient(#7b6c61,#b8731d 25.6%,#b95d19 38.5%,#b75a20 41%,#b4591e 43.6%,#b74710 48.7%,#b14816 51.3%,#bc4817 56.4%,#c05218 59%,#d43101 66.7%,#d43201 69.2%,#c74517 74.4%,#cd4017 76.9%,#d24a17 79.5%,#e4470a 82.1%,#f13c00 84.6%,#f22f01 87.2%,#f62e05 89.7%,#f84107 92.3%,#f99e06 97.4%,#efc910)"></i><i style="left:115px;background:linear-gradient(#80306d,#813676 2.56%,#824075 5.13%,#834374 10.3%,#857176 17.9%,#866674 23.1%,#876c74 25.6%,#8e7e6e 28.2%,#a8824e 30.8%,#b88139 33.3%,#b4813b 35.9%,#95775e 41%,#a3794b 43.6%,#c87c1c 46.2%,#d96701 48.7%,#d65100 51.3%,#d95500 53.8%,#e16d02 56.4%,#d27d1b 59%,#b8763b 61.5%,#ba7338 64.1%,#db7b11 66.7%,#e65500 69.2%,#e13000 71.8%,#e01f00 74.4%,#e41e00 76.9%,#ec2600 79.5%,#f53d00 82.1%,#fd6401 84.6%,#eb8c13 87.2%,#c1913b 89.7%,#b29e48 92.3%,#bfb540 94.9%,#dcc923 97.4%,#fdd002)"></i><i style="left:116px;background:linear-gradient(#84654b,#87594a 10.3%,#875757 12.8%,#885b76 15.4%,#896976 17.9%,#895b75 20.5%,#894d68 23.1%,#8a4b6f 25.6%,#8d9d70 30.8%,#9da15f 33.3%,#949f68 35.9%,#8d7e70 38.5%,#8b4e72 41%,#8d716f 43.6%,#b0944a 46.2%,#eb7f0e 48.7%,#f56600 51.3%,#f76900 53.8%,#e78413 56.4%,#ab9d52 59%,#906c6e 61.5%,#91626d 64.1%,#abab52 66.7%,#fc8800 69.2%,#f93e00 71.8%,#ee2500 74.4%,#f02200 76.9%,#fb2d00 79.5%,#fe5c00 82.1%,#faa805 84.6%,#abd654 87.2%,#7b8b6d 89.7%,#5e8f73 92.3%,#64ca9b 94.9%,#a8fa57 97.4%,#efea10)"></i><i style="left:117px;background:linear-gradient(#a17951,#d17a20 23.1%,#d6791c 30.8%,#d76314 46.2%,#d73b02 51.3%,#d93d02 53.8%,#e26616 59%,#e58215 64.1%,#eb7a14 66.7%,#f44e03 69.2%,#e82600 71.8%,#e01300 74.4%,#e31400 76.9%,#ef2500 79.5%,#ff4500 82.1%,#f88007 84.6%,#e5bd1a 87.2%,#98e45d 92.3%,#92ee69 94.9%,#bdf842 97.4%,#f9e406)"></i><i style="left:118px;background:linear-gradient(#2752aa,#2a7ba6 12.8%,#367a9a 15.4%,#3f7a9c 17.9%,#437a8d 20.5%,#4c7984 25.6%,#587888 28.2%,#69a595 30.8%,#76c288 33.3%,#77b487 35.9%,#6f748c 38.5%,#6b7465 41%,#777265 43.6%,#8fd16d 46.2%,#cdc22d 48.7%,#e7b513 51.3%,#e4ba16 53.8%,#c7cf36 56.4%,#89cc75 59%,#7a7657 61.5%,#7e7653 64.1%,#96c469 66.7%,#e6b317 69.2%,#fb7700 71.8%,#fb5300 74.4%,#fc5900 76.9%,#fd8000 79.5%,#ffc500 82.1%,#c5ec3a 84.6%,#66e999 87.2%,#488fa2 89.7%,#3f8f92 92.3%,#4b8e8d 94.9%,#6dee92 97.4%,#dff120)"></i><i style="left:119px;background:linear-gradient(#d15627,#d15929 10.3%,#d25028 15.4%,#da5020 25.6%,#dc4823 35.9%,#ed320d 41%,#f0270b 43.6%,#ef3007 48.7%,#e53e16 53.8%,#e74d18 56.4%,#ed5212 59%,#f12409 64.1%,#f01f0b 66.7%,#f11500 71.8%,#f71b00 74.4%,#ff3600 76.9%,#e2bf1d 84.6%,#ded821 87.2%,#e8cb15 89.7%,#ec990f 94.9%,#ef9210 97.4%,#fb8604)"></i><i style="left:120px;background:linear-gradient(#2e22c4,#2e26c6 2.56%,#2e4ad1 5.13%,#2e7dd1 7.69%,#2e91d1 10.3%,#2e6cd1 15.4%,#2e83d1 17.9%,#2fc2d0 20.5%,#4fd9b0 23.1%,#62d89d 25.6%,#4fd8b0 28.2%,#3bc4c4 30.8%,#31b0ce 33.3%,#4ad0b4 35.9%,#a9d455 38.5%,#f0d30e 41%,#febd00 43.6%,#fdbe00 46.2%,#ead213 48.7%,#9ad263 51.3%,#48c9b5 53.8%,#58cda5 56.4%,#c9d532 59%,#faa100 61.5%,#fa6100 64.1%,#fb4000 66.7%,#fc3a00 69.2%,#fd4f00 71.8%,#fe8200 74.4%,#fdd802 76.9%,#8ae275 79.5%,#2ebdd1 82.1%,#31a3ce 84.6%,#6ae995 87.2%,#dde322 89.7%,#fa0 92.3%,#ff7500 94.9%,#ff5b00 97.4%,#f50)"></i><i style="left:121px;background:linear-gradient(#d1442c,#d5422a 23.1%,#da3f25 28.2%,#eb2e0c 38.5%,#e02a12 43.6%,#e12713 46.2%,#ea2f0f 51.3%,#e02c14 53.8%,#d51600 64.1%,#df1a00 66.7%,#ed2410 71.8%,#ec410e 74.4%,#ed6e12 76.9%,#e58f1a 79.5%,#e5931a 82.1%,#ff2500 92.3%,#ff1e00 94.9%,#ff2b00 97.4%,#ff4500)"></i><i style="left:122px;background:linear-gradient(#2ba6d4,#2ca5d3 2.56%,#2c8dd3 5.13%,#2c89d3 7.69%,#2cb7d3 10.3%,#3ae7c5 12.8%,#5de7a2 15.4%,#5ce7a3 17.9%,#3ce3c3 20.5%,#2ec9d1 23.1%,#2ed0d1 25.6%,#59e5a6 28.2%,#a9e356 30.8%,#e2e11d 33.3%,#f0da0e 35.9%,#e2df1c 38.5%,#a6e157 41%,#5dd4a0 43.6%,#53b6ab 46.2%,#73e48c 48.7%,#dce023 51.3%,#feaa00 53.8%,#fd6d00 56.4%,#fc4c00 59%,#fa4d00 61.5%,#fa7000 64.1%,#fbb900 66.7%,#b7e646 69.2%,#679d97 71.8%,#4d8485 74.4%,#53b5ac 76.9%,#84f37b 79.5%,#e0f31f 82.1%,#fb0 84.6%,#ff6b00 87.2%,#ff3800 89.7%,#ff1f00 92.3%,#ff2700 94.9%,#ff4b00 97.4%,#ff8400)"></i><i style="left:123px;background:linear-gradient(#b9c841,#c0c33a 7.69%,#d2cf2d 15.4%,#cfc82b 23.1%,#d8c727 28.2%,#f1a90e 35.9%,#d3d027 46.2%,#dccd22 48.7%,#ebb414 51.3%,#fb8504 53.8%,#ff5c00 56.4%,#ff4b00 59%,#ff5a00 61.5%,#fa8105 64.1%,#efbb10 66.7%,#d7ef28 69.2%,#a1e75d 71.8%,#7ee377 74.4%,#7fe97b 76.9%,#a0f55f 79.5%,#d9f926 82.1%,#fbca04 84.6%,#ff8100 87.2%,#ff5300 89.7%,#ff4000 92.3%,#ff5300 94.9%,#f80 97.4%,#f8d307)"></i><i style="left:124px;background:linear-gradient(#2081b5,#2291af 10.3%,#2c96d3 12.8%,#33b4cc 15.4%,#35adca 17.9%,#3091be 20.5%,#2d92a5 23.1%,#3291a0 25.6%,#3f96c0 28.2%,#55deaa 30.8%,#76f589 33.3%,#82f47d 35.9%,#5ef6a1 38.5%,#43cabc 41%,#3192b9 43.6%,#34939d 46.2%,#4b91ac 48.7%,#6fef90 51.3%,#d9ea26 53.8%,#ffc900 56.4%,#ffb700 59%,#fed901 61.5%,#c4f23b 64.1%,#5ef2a1 66.7%,#1bc8e4 69.2%,#156de3 71.8%,#126abf 74.4%,#1774ba 76.9%,#20a5df 79.5%,#5ffea0 82.1%,#dbf424 84.6%,#ffb000 87.2%,#ff7800 89.7%,#ff6700 92.3%,#ff8600 94.9%,#ffd200 97.4%,#b4fb4b)"></i><i style="left:125px;background:linear-gradient(#73c586,#74c584 2.56%,#74e686 7.69%,#7fea7b 10.3%,#81ea7e 12.8%,#79ea86 15.4%,#76dc89 17.9%,#76d888 20.5%,#7de67d 23.1%,#98e862 25.6%,#bde942 30.8%,#bee741 33.3%,#a6e959 35.9%,#7cef83 38.5%,#75db8a 41%,#73ec8a 43.6%,#a4ea56 46.2%,#d1de2d 48.7%,#efcd10 51.3%,#fba404 53.8%,#ff9000 56.4%,#ffa100 59%,#f2d60d 61.5%,#a1f85e 64.1%,#54bfab 66.7%,#378dc8 69.2%,#32aacc 71.8%,#3bdebf 74.4%,#6aec90 76.9%,#e4f21b 82.1%,#fbb904 84.6%,#ff7900 87.2%,#ff5900 89.7%,#ff5c00 92.3%,#ff8d00 94.9%,#ffed00 97.4%,#81fe7e)"></i><i style="left:126px;background:linear-gradient(#7f5776,#7f5568 2.56%,#806080 5.13%,#808f80 7.69%,#81ab7e 10.3%,#81ae7e 12.8%,#80967f 15.4%,#806f80 17.9%,#806b80 20.5%,#80977f 23.1%,#96b269 25.6%,#b6b349 28.2%,#caae35 30.8%,#c7aa38 33.3%,#a8ac57 35.9%,#879c78 38.5%,#83897c 41%,#7fb080 43.6%,#e6a419 48.7%,#fc7f03 51.3%,#ff5600 53.8%,#fc4900 56.4%,#ff5900 59%,#fe9201 61.5%,#c0af3f 64.1%,#86b879 66.7%,#7eac81 69.2%,#78cc87 71.8%,#95d76a 74.4%,#bfd540 76.9%,#edca12 79.5%,#fd9b02 82.1%,#ff3100 87.2%,#ff1f00 89.7%,#ff2a00 92.3%,#ff5b00 94.9%,#ffb100 97.4%,#d1f62e)"></i><i style="left:127px;background:linear-gradient(#80737e,#806f7d 2.56%,#805b80 5.13%,#805880 7.69%,#80a37f 12.8%,#82b47d 15.4%,#82ad7d 17.9%,#807c80 23.1%,#82827d 25.6%,#87ab78 28.2%,#b7aa48 30.8%,#d8a427 33.3%,#dea121 35.9%,#cda232 38.5%,#81a57e 43.6%,#85917a 46.2%,#9ba764 48.7%,#e0951f 51.3%,#ff6e00 53.8%,#fc4900 56.4%,#fd4000 59%,#ff5600 61.5%,#edb412 66.7%,#b8c747 69.2%,#80ce7f 71.8%,#83a67c 74.4%,#86c679 76.9%,#b5d44a 79.5%,#f3bd0c 82.1%,#ff7e00 84.6%,#ff4100 87.2%,#ff2600 89.7%,#ff2600 92.3%,#ff4a00 94.9%,#ff8b00 97.4%,#fbdb04)"></i><i style="left:128px;background:linear-gradient(#7ca47e,#7d997d 7.69%,#84c176 12.8%,#92c268 15.4%,#93c169 17.9%,#7fb37e 23.1%,#7fb67f 25.6%,#94be6b 28.2%,#d6b629 33.3%,#dfb420 35.9%,#d4b62b 38.5%,#91c16e 43.6%,#80c080 46.2%,#99c366 48.7%,#d3b82c 51.3%,#f49a0b 53.8%,#f67108 56.4%,#f76508 59%,#f67709 61.5%,#eec711 66.7%,#c2d73d 69.2%,#88e677 71.8%,#82c87d 74.4%,#7ad985 76.9%,#96fa69 79.5%,#d8ed27 82.1%,#f7bd08 84.6%,#fa7e05 87.2%,#fb6104 89.7%,#fc5f03 92.3%,#fa7c05 94.9%,#f7b308 97.4%,#ecf513)"></i><i style="left:129px;background:linear-gradient(#577871,#6b7b5e 15.4%,#767c7f 28.2%,#7e9577 35.9%,#76b27f 43.6%,#74b381 46.2%,#85bc70 53.8%,#9caf5e 56.4%,#a1ad5b 59%,#83c572 64.1%,#9ad865 69.2%,#96e369 71.8%,#87e578 74.4%,#68e18e 76.9%,#67dc8e 79.5%,#7ae77b 82.1%,#a2db58 84.6%,#bccb43 87.2%,#c8c837 89.7%,#c9cc36 92.3%,#bed941 94.9%,#a2e85d 97.4%,#62e898)"></i><i style="left:130px;background:linear-gradient(#080e91,#15208e 53.8%,#1a23be 56.4%,#1b2ac9 59%,#19238b 61.5%,#17248c 64.1%,#18279c 66.7%,#1c63e3 69.2%,#1c79e3 71.8%,#1945e6 74.4%,#152a95 76.9%,#132691 82.1%,#1638bb 84.6%,#197ce6 87.2%,#1bbbe4 89.7%,#1acfe5 92.3%,#18b6e7 94.9%,#1367ec 97.4%,#0b27c7)"></i><i style="left:131px;background:linear-gradient(#1726b0,#1771b0 23.1%,#256da3 28.2%,#3d6b89 33.3%,#4c707b 41%,#4e7679 48.7%,#577274 51.3%,#6a768b 53.8%,#7b9e7f 56.4%,#7da67c 59%,#799275 64.1%,#79a977 66.7%,#85b974 69.2%,#8cbe6f 71.8%,#7fc57f 74.4%,#7db879 76.9%,#6a9f8b 79.5%,#5b979a 82.1%,#52aea8 84.6%,#4ed6b1 87.2%,#4aefb5 89.7%,#46f7b9 92.3%,#3be9c4 94.9%,#2698d4)"></i><i style="left:132px;background:linear-gradient(#df7a1a,#e75d12 5.13%,#e75712 7.69%,#e75d12 10.3%,#dd7a1c 15.4%,#dd7b1c 20.5%,#e66813 23.1%,#e73510 28.2%,#e6230f 30.8%,#e41f0e 33.3%,#ea210d 35.9%,#eb380d 38.5%,#e77e13 43.6%,#e39317 46.2%,#e39317 48.7%,#ed710c 51.3%,#ef3f0e 53.8%,#ec190c 56.4%,#bb110b 61.5%,#b0100b 64.1%,#ac130b 66.7%,#b2140a 69.2%,#c8140a 71.8%,#e1200b 74.4%,#f2400c 76.9%,#f1790e 79.5%,#efbe10 82.1%,#cdea32 84.6%,#8af875 87.2%,#66d798 89.7%,#5bdca4 92.3%,#63fd9c 94.9%,#a8f557)"></i><i style="left:133px;background:linear-gradient(#a07d54,#e37b0e 2.56%,#e75b06 5.13%,#e65007 7.69%,#e65e08 10.3%,#d9791a 12.8%,#927a65 15.4%,#864874 17.9%,#917b67 20.5%,#e27a11 23.1%,#e2450b 25.6%,#dc230b 28.2%,#d50f0b 30.8%,#d10f0b 33.3%,#d51a0b 35.9%,#db3a0b 38.5%,#e66e0b 41%,#b58246 43.6%,#8d6272 46.2%,#93866c 48.7%,#e8800f 51.3%,#e44006 53.8%,#d90e04 56.4%,#af0c03 59%,#930b02 61.5%,#8f0b01 64.1%,#900b00 69.2%,#a50c00 71.8%,#ca0e01 74.4%,#f31902 76.9%,#fd4f02 79.5%,#fc9c03 82.1%,#cfcd30 84.6%,#89d776 87.2%,#7d9177 89.7%,#71a78e 92.3%,#7f8 94.9%,#bdff42 97.4%,#e3f61c)"></i><i style="left:134px;background:linear-gradient(#765950,#7e5549 2.56%,#7e494d 7.69%,#75447b 15.4%,#734281 17.9%,#7e5876 23.1%,#7d5c75 28.2%,#7e8775 38.5%,#849171 43.6%,#858d70 46.2%,#8e8f67 48.7%,#a28a52 51.3%,#bc7139 56.4%,#ca6c21 61.5%,#d46f12 66.7%,#dd7013 71.8%,#d98520 76.9%,#ceaa2c 82.1%,#b7c943 87.2%,#a8dd52 92.3%,#a6ec54 94.9%,#b1ee49)"></i><i style="left:135px;background:linear-gradient(#0b0989,#0f0e8a 51.3%,#110d95 53.8%,#130cab 56.4%,#1419b3 59%,#153cb1 64.1%,#164eb0 69.2%,#1245b5 89.7%,#1157bb)"></i><i style="left:136px;background:linear-gradient(#00008f,#000795)"></i><i style="left:375px;background:linear-gradient(#00008f,#091391 87.2%,#06129a)"></i><i style="left:376px;background:linear-gradient(#170c83,#170984 12.8%,#1708b0 23.1%,#166bb0 43.6%,#356c90 53.8%,#4f6ea5 64.1%,#58809d 69.2%,#5b909a 76.9%,#67b38e 87.2%,#4abbac)"></i><i style="left:377px;background:linear-gradient(#d77519,#da5a17 15.4%,#d4431d 35.9%,#d0391a 53.8%,#e74018 69.2%,#eb6f14 87.2%,#eb9214 92.3%,#e5dc1a)"></i><i style="left:378px;background:linear-gradient(#4a747d,#7f7048 25.6%,#7f6c48 28.2%,#7f5e6f 33.3%,#7f6375 35.9%,#7ea075 56.4%,#a0a059 69.2%,#b6b344 87.2%,#b6c545 92.3%,#98e862)"></i><i style="left:379px;background:linear-gradient(#060b8f,#0b0b89 25.6%,#0c118d 59%,#0f11af 69.2%,#1012b8 76.9%,#112bb6 82.1%,#1132b6 87.2%,#1148bb 92.3%,#0f36b8 97.4%,#0e35b9)"></i><i style="left:380px;background:linear-gradient(#00008f,#000394)"></i><i style="left:381px;background:linear-gradient(#00008f,#000094 51.3%,#000a95 69.2%,#030e97)"></i><i style="left:382px;background:linear-gradient(#0b038d,#110b87 41%,#110b8c 43.6%,#130bb1 51.3%,#145bb0 66.7%,#1465b9 69.2%,#1567bc 71.8%,#1664b4 76.9%,#176fc6 82.1%,#1773c2 84.6%,#1f73c2 87.2%,#2875cd 89.7%,#3289c3 92.3%,#3184c4 97.4%,#318bc4)"></i><i style="left:383px;background:linear-gradient(#752771,#76257c 2.56%,#7c7075 25.6%,#807371 28.2%,#b06d2a 43.6%,#cd7214 56.4%,#c75413 69.2%,#e76814 79.5%,#e87414 84.6%,#eb7b14 94.9%,#eb9114)"></i><i style="left:384px;background:linear-gradient(#857759,#c38218 23.1%,#c27410 33.3%,#bf6211 38.5%,#c24306 43.6%,#c34205 46.2%,#c0560d 51.3%,#c65708 56.4%,#c8500a 59%,#ca2100 64.1%,#c61200 66.7%,#c51000 69.2%,#d21600 71.8%,#e54d05 76.9%,#e46111 79.5%,#e86b12 84.6%,#ea6e15 87.2%,#f5680a 89.7%,#ff3e00 94.9%,#ff3500 97.4%,#ff3d00)"></i><i style="left:385px;background:linear-gradient(#52857c,#5c8672 5.13%,#67867e 10.3%,#6a8664 12.8%,#71865c 17.9%,#78867d 20.5%,#7eb97d 23.1%,#82c579 25.6%,#83a778 28.2%,#82844b 30.8%,#80844d 33.3%,#87835c 35.9%,#8ed96c 38.5%,#c6cc34 41%,#ddc21c 43.6%,#dac320 46.2%,#b9cf41 48.7%,#90bb69 51.3%,#848149 53.8%,#81814d 56.4%,#99e761 59%,#e6cb14 61.5%,#f89502 64.1%,#f96700 66.7%,#f95600 69.2%,#fa6d00 71.8%,#fbad00 74.4%,#cfea2e 76.9%,#5bd7a3 79.5%,#2588af 82.1%,#207cb3 84.6%,#37d3c8 87.2%,#a1f05e 89.7%,#fee001 92.3%,#ff9800 94.9%,#ff7400 97.4%,#ff7300)"></i><i style="left:386px;background:linear-gradient(#6fa481,#70af80 5.13%,#9cb259 25.6%,#aaaa46 33.3%,#caa530 41%,#caa22b 43.6%,#d1a92d 48.7%,#d4b726 53.8%,#c6c139 59%,#cab32f 61.5%,#e89b17 66.7%,#f3800c 69.2%,#f5890a 71.8%,#f0b40f 74.4%,#d3df2c 76.9%,#a4ed5b 79.5%,#69dd8c 82.1%,#53dca2 84.6%,#6ceb92 87.2%,#aafd55 89.7%,#ebee14 92.3%,#fdc502 94.9%,#ffb000 97.4%,#fec201)"></i><i style="left:387px;background:linear-gradient(#17148d,#211d83 33.3%,#231d93 35.9%,#251ebb 38.5%,#261ba9 41%,#261b7f 43.6%,#261b88 46.2%,#2935d2 48.7%,#2b8dd3 51.3%,#2bafd2 53.8%,#2ba2d3 56.4%,#295cd4 59%,#291d9c 61.5%,#2a29d3 64.1%,#2de1d0 66.7%,#8ee36f 69.2%,#9fe45f 71.8%,#73ea8c 74.4%,#2cdcd3 76.9%,#276dd8 79.5%,#212ab0 82.1%,#1f2fb2 84.6%,#235eda 87.2%,#34e4cb 89.7%,#a4ef5b 92.3%,#f1e90e 94.9%,#ffdb00 97.4%,#f4ec0b)"></i><i style="left:388px;background:linear-gradient(#732b81,#7a7d79 25.6%,#8c7967 30.8%,#aa7146 35.9%,#b46f36 41%,#b37036 43.6%,#c4772f 48.7%,#d68117 53.8%,#d26811 61.5%,#d06617 66.7%,#dd5b0c 69.2%,#e9600a 71.8%,#f0750f 74.4%,#e5961a 76.9%,#d99926 79.5%,#d69724 82.1%,#de971c 84.6%,#e98616 89.7%,#fb5402 94.9%,#fd5000 97.4%,#fe6b01)"></i><i style="left:389px;background:linear-gradient(#796f7f,#927964 5.13%,#927762 12.8%,#c2822d 20.5%,#bf832f 23.1%,#ab7d42 28.2%,#b47e38 30.8%,#d18218 33.3%,#db6908 35.9%,#d85204 38.5%,#d74d04 41%,#da5c05 43.6%,#da770b 46.2%,#cb7f1c 48.7%,#ca7c1d 51.3%,#da7808 53.8%,#de5000 56.4%,#d72a00 59%,#d11100 61.5%,#cb0c00 64.1%,#d20b00 66.7%,#dd1f00 69.2%,#f87a07 74.4%,#d69129 76.9%,#c49b38 79.5%,#d1a62e 82.1%,#f9a106 84.6%,#ff3700 89.7%,#fa1100 92.3%,#ec0700 94.9%,#ec0600 97.4%,#ff1000)"></i><i style="left:390px;background:linear-gradient(#7f3f7b,#80647e 2.56%,#82777c 5.13%,#826b7c 7.69%,#814c7d 10.3%,#814a7c 12.8%,#8d9e70 17.9%,#a39b5a 20.5%,#9a9a64 23.1%,#888675 25.6%,#865f77 28.2%,#887075 30.8%,#aa9252 33.3%,#e78515 35.9%,#fa6e00 38.5%,#f76800 41%,#f47e06 43.6%,#bf8d3d 46.2%,#8c7970 48.7%,#8b6471 51.3%,#ae944e 53.8%,#fb7800 56.4%,#ec3900 59%,#de1700 61.5%,#d90b00 64.1%,#e11200 66.7%,#f53000 69.2%,#fd8200 71.8%,#bbba44 74.4%,#8a9175 76.9%,#867e58 79.5%,#8bc174 82.1%,#d0cc2f 84.6%,#ff9600 87.2%,#ff4e00 89.7%,#fe1800 92.3%,#f50200 94.9%,#f20200 97.4%,#f10)"></i><i style="left:391px;background:linear-gradient(#805f7c,#808480 5.13%,#80787e 10.3%,#807b7e 12.8%,#868f79 15.4%,#9c9663 17.9%,#aa9655 20.5%,#a99456 23.1%,#94846b 28.2%,#9d8762 30.8%,#be8d41 33.3%,#e88715 35.9%,#f37a03 38.5%,#f07403 41%,#f28507 43.6%,#b08a4f 48.7%,#aa8955 51.3%,#cc9033 53.8%,#f67905 56.4%,#ec4c00 59%,#e12d00 61.5%,#dd2100 64.1%,#e42800 66.7%,#f54500 69.2%,#fc8b03 71.8%,#c5bb3a 74.4%,#8fc070 76.9%,#82c774 79.5%,#9bcd64 82.1%,#cacc35 84.6%,#faad05 87.2%,#ff3a00 92.3%,#fe1a00 94.9%,#fe1600 97.4%,#f30)"></i><i style="left:392px;background:linear-gradient(#80705e,#80737f 2.56%,#808480 5.13%,#807b80 7.69%,#806d74 10.3%,#806d74 12.8%,#808a7f 15.4%,#83b17c 17.9%,#84c27b 20.5%,#84b97b 23.1%,#82767d 28.2%,#83857c 30.8%,#86bf79 33.3%,#b3c44b 35.9%,#d5ba29 38.5%,#d8b826 41%,#bec240 43.6%,#89cc76 46.2%,#888e77 48.7%,#897d76 51.3%,#8ebf71 53.8%,#d0be2f 56.4%,#f7a606 59%,#f47d08 61.5%,#f56b06 64.1%,#f97203 66.7%,#fd9a01 69.2%,#decc21 71.8%,#8fe870 74.4%,#789487 76.9%,#62936f 79.5%,#5aa5a5 82.1%,#64f59b 84.6%,#c2f73d 87.2%,#f9d506 89.7%,#fe8c01 92.3%,#ff5e00 94.9%,#f50 97.4%,#ff7800)"></i><i style="left:393px;background:linear-gradient(#74656c,#746581 5.13%,#749581 20.5%,#74a581 30.8%,#74b381 33.3%,#80ba7a 35.9%,#92b668 38.5%,#90b56a 41%,#7bc07f 46.2%,#a2bc5d 51.3%,#b8c247 56.4%,#a1b459 61.5%,#aeb14c 64.1%,#d2b72d 66.7%,#eabf15 69.2%,#e2cf1d 71.8%,#c3e33c 74.4%,#a4e85b 76.9%,#7ae980 79.5%,#5ae3a0 82.1%,#57e5a3 84.6%,#78f483 87.2%,#b8f447 89.7%,#edd712 92.3%,#feb101 94.9%,#ffa800 97.4%,#fdd302)"></i><i style="left:394px;background:linear-gradient(#181589,#201d82 33.3%,#201cad 35.9%,#2135b2 38.5%,#2130ad 41%,#201cae 43.6%,#2027ae 46.2%,#224eb8 48.7%,#248ad7 51.3%,#29b7d3 53.8%,#2cb3cf 56.4%,#2473d5 59%,#225aab 61.5%,#2472aa 64.1%,#4fd0ac 66.7%,#8be671 69.2%,#8ee86f 71.8%,#65eb9a 74.4%,#43cbbc 76.9%,#2690d9 79.5%,#2078b1 82.1%,#2072b2 84.6%,#258ab9 87.2%,#58dea7 89.7%,#c5ea3a 92.3%,#f8d206 94.9%,#ffc700 97.4%,#eee411)"></i><i style="left:395px;background:linear-gradient(#7b6d6e,#9d6c49 12.8%,#b07636 20.5%,#bd6c26 28.2%,#c97316 33.3%,#c85e12 38.5%,#c95c13 43.6%,#c15322 51.3%,#c95016 56.4%,#c23c12 64.1%,#d43d0c 69.2%,#e1480c 71.8%,#dd7322 79.5%,#dd831d 82.1%,#e38517 84.6%,#ed6612 89.7%,#f84806 92.3%,#f93601 94.9%,#fd3600 97.4%,#fd5702)"></i><i style="left:396px;background:linear-gradient(#82425a,#855479 2.56%,#866877 5.13%,#875676 7.69%,#883768 10.3%,#893563 12.8%,#8b6172 15.4%,#8d9470 17.9%,#a1945c 20.5%,#979266 23.1%,#8f6f6e 25.6%,#8f3a6e 28.2%,#90536c 30.8%,#a88954 33.3%,#e47b16 35.9%,#f16d00 38.5%,#ee6800 41%,#ec7909 43.6%,#bd7e3e 46.2%,#91676b 48.7%,#90586c 51.3%,#b57c47 53.8%,#f27100 56.4%,#e53900 59%,#da1800 61.5%,#d50c00 64.1%,#db1200 66.7%,#ea2d00 69.2%,#fd6700 71.8%,#ca9735 74.4%,#8e9571 76.9%,#8b8374 79.5%,#8fb770 82.1%,#d4b62b 84.6%,#ff8900 87.2%,#ff4300 89.7%,#fc0f00 92.3%,#eb0400 94.9%,#eb0400 97.4%,#ff0c00)"></i><i style="left:397px;background:linear-gradient(#927964,#a97d56 5.13%,#ae724a 12.8%,#d58727 20.5%,#d38529 23.1%,#c37133 28.2%,#c97431 30.8%,#df8418 33.3%,#e96807 35.9%,#e75100 38.5%,#e64c00 41%,#e85c04 43.6%,#e67a11 46.2%,#d1782e 48.7%,#c97a31 51.3%,#e98314 53.8%,#ee5601 56.4%,#de2400 59%,#d10600 61.5%,#c60300 64.1%,#d50400 66.7%,#ea2100 69.2%,#ff6000 71.8%,#e0ad1f 74.4%,#9bbf64 76.9%,#81cb79 79.5%,#a1d25e 82.1%,#e5c31a 84.6%,#ff7c00 87.2%,#ff3700 89.7%,#fb0a00 92.3%,#ee0100 94.9%,#ee0100 97.4%,#ff0700)"></i><i style="left:398px;background:linear-gradient(#865f4b,#895b71 2.56%,#8a6c74 5.13%,#8b5573 7.69%,#8b5346 10.3%,#8c5045 12.8%,#8e5b70 15.4%,#91986d 17.9%,#93ac6b 20.5%,#939d6b 23.1%,#91656d 25.6%,#904340 28.2%,#914163 30.8%,#949c69 33.3%,#d58f26 35.9%,#f87f02 38.5%,#fa7b00 41%,#e1861b 43.6%,#a49959 46.2%,#93486b 48.7%,#92453e 51.3%,#949969 53.8%,#ef840b 56.4%,#f13e00 59%,#e11b00 61.5%,#dd1200 64.1%,#e71c00 66.7%,#fc3b00 69.2%,#ff9000 71.8%,#b3c34c 74.4%,#8d8271 76.9%,#7d8a54 79.5%,#8cb573 82.1%,#ced131 84.6%,#ff8e00 87.2%,#ff4900 89.7%,#ff2000 92.3%,#fc1200 94.9%,#fd1100 97.4%,#ff1d00)"></i><i style="left:399px;background:linear-gradient(#a77a4e,#b97a40 5.13%,#bf7635 12.8%,#dc821e 20.5%,#d37520 28.2%,#dd7c17 33.3%,#e15009 38.5%,#df4e0b 41%,#e17916 48.7%,#e3760b 51.3%,#e16a0c 53.8%,#e22800 59%,#dd1603 61.5%,#dc140a 64.1%,#e41d0b 66.7%,#f33608 69.2%,#fc5f03 71.8%,#f78608 74.4%,#ee9011 76.9%,#e69114 79.5%,#f0960f 82.1%,#fa8805 84.6%,#ff6900 87.2%,#fd5802 89.7%,#f3470b 94.9%,#f95406)"></i><i style="left:400px;background:linear-gradient(#846b48,#866246 5.13%,#865a53 10.3%,#865752 12.8%,#88535d 15.4%,#895475 17.9%,#8a6875 20.5%,#8a6a75 23.1%,#895776 28.2%,#896e75 30.8%,#8a9974 33.3%,#9f9e5e 35.9%,#a79755 38.5%,#8e996f 41%,#897a74 43.6%,#8a7874 46.2%,#90a46f 48.7%,#cb9732 51.3%,#f68707 53.8%,#fb6f00 56.4%,#fb7300 59%,#dc821f 61.5%,#989165 64.1%,#898774 66.7%,#aba054 69.2%,#e3a01c 71.8%,#ff9700 74.4%,#fe6a01 79.5%,#ff6100 82.1%,#ff6700 84.6%,#ff8200 87.2%,#edb412 89.7%,#a0cc5f 92.3%,#8b9b74 94.9%,#8bbe74 97.4%,#c0d73f)"></i><i style="left:401px;background:linear-gradient(#876f44,#895843 12.8%,#895349 15.4%,#894f6a 17.9%,#895c74 20.5%,#895e74 23.1%,#884374 28.2%,#885d74 30.8%,#888b74 33.3%,#999862 35.9%,#a1945a 38.5%,#889573 41%,#886a74 43.6%,#886974 46.2%,#8d996f 48.7%,#cb8630 51.3%,#f47605 53.8%,#f16400 56.4%,#f46b00 59%,#da7e21 61.5%,#8c9470 64.1%,#8a7574 66.7%,#9fa560 69.2%,#e0a01f 71.8%,#ff9000 74.4%,#fe5300 79.5%,#fe4100 82.1%,#fd4200 84.6%,#fd5c00 87.2%,#f79b07 89.7%,#a9bd56 92.3%,#8b9574 94.9%,#8bb874 97.4%,#bae045)"></i><i style="left:402px;background:linear-gradient(#c27f27,#d17b13 10.3%,#d26d12 23.1%,#d16217 28.2%,#d1480c 35.9%,#cb5816 41%,#ce5916 48.7%,#d12300 53.8%,#c71200 56.4%,#c71100 59%,#d61503 61.5%,#e73d0b 66.7%,#f06f0f 71.8%,#f17709 74.4%,#f1690e 76.9%,#f45406 79.5%,#ee1800 84.6%,#ef1000 87.2%,#fc1b01 89.7%,#f46e0b 97.4%,#f87e07)"></i><i style="left:403px;background:linear-gradient(#878576,#877c6f 2.56%,#877c48 5.13%,#887b48 7.69%,#887859 10.3%,#89ab74 12.8%,#89c974 15.4%,#89c074 17.9%,#898b74 20.5%,#897246 23.1%,#897146 25.6%,#8a9c73 28.2%,#a7c855 30.8%,#d4bb28 33.3%,#e0b51c 35.9%,#cabb31 38.5%,#90ca6c 41%,#8b706a 43.6%,#8e7241 46.2%,#91906b 48.7%,#cfb22c 51.3%,#fa8200 53.8%,#f95600 56.4%,#f64e03 59%,#f56206 61.5%,#f58807 64.1%,#f9ba05 66.7%,#ced431 69.2%,#93c36c 71.8%,#808552 74.4%,#838e7c 76.9%,#cae234 79.5%,#fead00 82.1%,#fc7201 84.6%,#f95604 87.2%,#f65909 89.7%,#f5670a 92.3%,#fc9c03)"></i><i style="left:404px;background:linear-gradient(#757e85,#78977f 10.3%,#7ab67f 17.9%,#7db578 25.6%,#88b972 28.2%,#b3b84c 33.3%,#b7b448 35.9%,#93bd67 41%,#99b660 43.6%,#d2b42d 48.7%,#f2ab0d 51.3%,#fa9905 53.8%,#f49b0b 56.4%,#baa840 61.5%,#b3b647 64.1%,#cac935 66.7%,#e6cd19 69.2%,#f1cd0e 71.8%,#f1be0e 76.9%,#ffba00 82.1%,#f5c20a 84.6%,#9fca5b 89.7%,#8fd46b 92.3%,#9fde60 94.9%,#bee941 97.4%,#e2e81d)"></i><i style="left:405px;background:linear-gradient(#3081a2,#72825f 28.2%,#7f9080 30.8%,#8baf74 33.3%,#8ea171 35.9%,#887f51 38.5%,#85804d 41%,#8d8044 43.6%,#91ab6e 46.2%,#a5c659 48.7%,#c8b936 51.3%,#cfb62f 53.8%,#b7c248 56.4%,#93b16c 59%,#8f7f42 61.5%,#8f7c42 64.1%,#92c86d 66.7%,#cdc332 69.2%,#edbc12 71.8%,#fbb804 74.4%,#ffb000 76.9%,#ffa700 79.5%,#ffb300 82.1%,#dfc820 84.6%,#94ee6b 87.2%,#5f8f73 89.7%,#3e9493 92.3%,#45adba 94.9%,#70fe8f 97.4%,#c8fc37)"></i><i style="left:406px;background:linear-gradient(#d3801d,#d8641d 17.9%,#dc4e19 41%,#de3a18 51.3%,#e0501a 59%,#e5571a 66.7%,#ec5e0e 74.4%,#f75908 82.1%,#f56c0a 84.6%,#cde529 92.3%,#b7e943 94.9%,#c6f435 97.4%,#e2ef1d)"></i><i style="left:407px;background:linear-gradient(#170d83,#170b86 7.69%,#1713b5 20.5%,#1733b5 28.2%,#1966b4 35.9%,#1a67b2 41%,#1b71b1 43.6%,#2f789f 46.2%,#467ab8 48.7%,#4978b1 51.3%,#3a7892 53.8%,#31789b 56.4%,#417a94 59%,#5dada2 61.5%,#6fd790 64.1%,#71d88e 66.7%,#62a99d 69.2%,#4c7b85 71.8%,#4b7b84 74.4%,#629e9d 76.9%,#7eea81 79.5%,#b3e84c 82.1%,#bce943 84.6%,#96f069 87.2%,#57d2a8 89.7%,#2a92ac 92.3%,#1d82b4 94.9%,#238fb7 97.4%,#47d6b8)"></i><i style="left:408px;background:linear-gradient(#140683,#140684 2.56%,#140bb2 12.8%,#134eb5 28.2%,#1370b5 33.3%,#2273a6 35.9%,#387390 43.6%,#4d748a 46.2%,#5f8399 48.7%,#618097 51.3%,#587478 53.8%,#557473 56.4%,#66748c 59%,#7fbc7a 61.5%,#81d577 64.1%,#82d576 66.7%,#82ba79 69.2%,#717583 71.8%,#6b7675 74.4%,#7baa84 76.9%,#93dd6b 79.5%,#bccb41 82.1%,#c7c335 84.6%,#b7c846 87.2%,#8cd572 89.7%,#6d958d 94.9%,#63a698 97.4%,#66e099)"></i><i style="left:409px;background:linear-gradient(#bd4218,#b7181b 38.5%,#aa1c1a 51.3%,#bb1616 56.4%,#b91b19 59%,#b6210b 66.7%,#d52012 71.8%,#d92b17 74.4%,#df2f15 79.5%,#e42005 84.6%,#e51d07 87.2%,#f33c0c 92.3%,#f15c0e 94.9%,#eaac15)"></i><i style="left:410px;background:linear-gradient(#577a73,#817848 15.4%,#856443 25.6%,#865f4d 28.2%,#865a72 30.8%,#876473 33.3%,#87496d 38.5%,#866173 41%,#869374 43.6%,#9b9b5e 46.2%,#a19757 48.7%,#869a72 51.3%,#867074 53.8%,#866d71 56.4%,#8a9b70 59%,#c49035 61.5%,#ed820b 64.1%,#f77701 66.7%,#f38607 69.2%,#c89a34 71.8%,#8aa974 74.4%,#8a8573 76.9%,#90aa6d 79.5%,#d29e2b 82.1%,#fb8702 84.6%,#fd6400 87.2%,#fe6200 89.7%,#ff7200 92.3%,#ff9700 94.9%,#f4c70b 97.4%,#c1e83e)"></i><i style="left:411px;background:linear-gradient(#377e95,#627b6a 15.4%,#7d7751 28.2%,#8a756e 33.3%,#8b7246 38.5%,#8a6b68 41%,#8a9f74 43.6%,#90b76d 46.2%,#96b367 48.7%,#89a374 51.3%,#8a6474 53.8%,#8b6a59 56.4%,#8ba374 59%,#b2b84c 61.5%,#e3a21a 64.1%,#f69607 66.7%,#eb9b13 69.2%,#bbaf43 71.8%,#8ba574 74.4%,#8b716b 76.9%,#8caa73 79.5%,#b4d24b 82.1%,#efbf10 84.6%,#ffa100 87.2%,#ff9800 89.7%,#ffa100 92.3%,#ffbd00 94.9%,#eadc15 97.4%,#aef551)"></i><i style="left:412px;background:linear-gradient(#d46720,#d94e1f 20.5%,#db521f 28.2%,#d9451f 35.9%,#d84520 41%,#de330c 48.7%,#dd4f22 59%,#df4f1f 61.5%,#ee2c01 66.7%,#ed1e02 69.2%,#f22207 71.8%,#f4370b 74.4%,#f1700e 79.5%,#ed8112 82.1%,#e88817 84.6%,#e88117 87.2%,#f0990f 92.3%,#fc9903 94.9%,#fd9d02 97.4%,#f7b008)"></i><i style="left:413px;background:linear-gradient(#2e189e,#2e19a3 5.13%,#2e22a3 7.69%,#2e4dd1 12.8%,#2e53d1 15.4%,#2e43c8 17.9%,#2e41bf 20.5%,#2e5dd1 23.1%,#2ea1d1 25.6%,#2fcbd0 28.2%,#39d4c5 30.8%,#2fc2cf 33.3%,#2e87d1 35.9%,#2e82d1 38.5%,#3ad2c4 41%,#95db69 43.6%,#d9d823 46.2%,#f1d60c 48.7%,#d7d726 51.3%,#8fdb70 53.8%,#35d0ca 56.4%,#2e96d1 59%,#30ddcf 61.5%,#b2dd4c 64.1%,#fdb700 66.7%,#fd7800 69.2%,#fe6d00 71.8%,#ff8900 74.4%,#ffbd00 76.9%,#ece813 79.5%,#a4ed5b 82.1%,#3eeec1 84.6%,#2d81d2 87.2%,#2d99d2 89.7%,#75f08a 92.3%,#e7ee18 94.9%,#ffcd00 97.4%,#ffc100)"></i><i style="left:414px;background:linear-gradient(#d18423,#d17827 20.5%,#d28028 28.2%,#d56e25 35.9%,#d67424 41%,#ec5313 46.2%,#f04d0f 48.7%,#ee5311 51.3%,#d87e22 56.4%,#d68c24 59%,#d78f24 61.5%,#e97c16 64.1%,#f85807 66.7%,#fb3b04 69.2%,#fa3f05 71.8%,#eba80f 79.5%,#d9e326 84.6%,#dcde23 89.7%,#eed611 92.3%,#fcc003 94.9%,#feb901 97.4%,#f9cb06)"></i><i style="left:415px;background:linear-gradient(#1e2dae,#2267aa 17.9%,#267da7 28.2%,#477d8a 35.9%,#437b8e 41%,#4e7b83 43.6%,#668099 46.2%,#7cbc83 48.7%,#82c87d 51.3%,#72a88d 53.8%,#588179 56.4%,#4b8386 59%,#5a8584 61.5%,#7ecf81 64.1%,#b9d746 66.7%,#d7c528 69.2%,#cdcb32 71.8%,#9be764 74.4%,#6a9395 76.9%,#4f8882 79.5%,#4d8d84 82.1%,#61d19e 84.6%,#96f669 87.2%,#d1f52e 89.7%,#f2e90d 92.3%,#fce003 94.9%,#f3e90c 97.4%,#c2f63d)"></i><i style="left:416px;background:linear-gradient(#547377,#7c774e 17.9%,#7d6c4d 25.6%,#7e6850 28.2%,#7f6169 30.8%,#806a77 33.3%,#817676 35.9%,#806477 41%,#816f76 43.6%,#849378 46.2%,#95a366 48.7%,#a19f5a 51.3%,#919e6a 53.8%,#829275 56.4%,#828b76 59%,#84a176 61.5%,#aea54f 64.1%,#db9921 66.7%,#f28f0a 69.2%,#eb9311 71.8%,#c8a535 74.4%,#95af6a 76.9%,#84ac76 79.5%,#88be72 82.1%,#dbb324 87.2%,#f9ad06 89.7%,#fe9a01 92.3%,#ff9800 94.9%,#feae01 97.4%,#e8d317)"></i><i style="left:417px;background:linear-gradient(#cb5c18,#cb4219 17.9%,#c02819 48.7%,#c22619 53.8%,#cf3119 61.5%,#df2608 71.8%,#e84116 76.9%,#e4521b 79.5%,#e25f18 82.1%,#fa4e05 92.3%,#fc5703 94.9%,#fd6c02 97.4%,#fa9305)"></i><i style="left:418px;background:linear-gradient(#1c1481,#1d1380 7.69%,#1f12ab 17.9%,#2047ad 30.8%,#2071af 35.9%,#267ba8 38.5%,#2478ab 43.6%,#2b78a3 46.2%,#447b99 48.7%,#60a99b 51.3%,#6cbe8f 53.8%,#63a699 56.4%,#527c87 59%,#4a7a85 61.5%,#577c78 64.1%,#72b38a 66.7%,#a0e15c 69.2%,#c1d33b 71.8%,#bdd940 74.4%,#88e676 76.9%,#649d9b 79.5%,#518380 82.1%,#5a8177 84.6%,#75bc8a 87.2%,#9fed60 89.7%,#cadf35 92.3%,#e2da1d 94.9%,#e9dd16 97.4%,#deed21)"></i><i style="left:419px;background:linear-gradient(#4a797d,#727b5d 23.1%,#7e7d6e 30.8%,#7f7e7b 33.3%,#7f987b 35.9%,#7fa67b 38.5%,#7ea17c 41%,#7e907c 43.6%,#819279 46.2%,#84af78 48.7%,#97bc68 51.3%,#a6bb59 53.8%,#94c66b 56.4%,#85bd76 59%,#81a879 61.5%,#82ba78 64.1%,#91de6e 66.7%,#c8c937 69.2%,#e3b81c 71.8%,#e1b81e 74.4%,#c2c63d 76.9%,#95d46a 79.5%,#78c582 84.6%,#73ef8c 87.2%,#91ff6e 89.7%,#bcfd43 92.3%,#dcfb23 94.9%,#e6f819 97.4%,#dcfe23)"></i><i style="left:420px;background:linear-gradient(#85a570,#b1a644 17.9%,#bea438 25.6%,#dda422 33.3%,#dfa420 35.9%,#d1a429 41%,#d7a223 43.6%,#e8a117 46.2%,#f26e0d 51.3%,#f36e0c 53.8%,#ee8a11 56.4%,#e6b319 59%,#cab930 61.5%,#c6bf34 64.1%,#e2bf1d 66.7%,#f69109 69.2%,#fd6b02 71.8%,#fc5d03 74.4%,#fa6805 76.9%,#f5840a 79.5%,#eadc15 84.6%,#bcf243 87.2%,#8ff46c 89.7%,#87f473 92.3%,#d3f82c 97.4%,#edf812)"></i><i style="left:421px;background:linear-gradient(#2550ac,#2c79a5 12.8%,#42788f 17.9%,#4a7886 23.1%,#5d7875 28.2%,#6f988e 30.8%,#7db77f 33.3%,#80a97c 35.9%,#79776f 38.5%,#757859 41%,#80784c 43.6%,#91c169 46.2%,#bbc03e 48.7%,#d8b121 51.3%,#d8af21 53.8%,#bbbc3e 56.4%,#91b369 59%,#8f793e 61.5%,#8f7a3f 64.1%,#93bc69 66.7%,#d8b524 69.2%,#fd9600 71.8%,#fe7500 74.4%,#fe7000 76.9%,#fd7d00 79.5%,#fd9f00 82.1%,#dcba21 84.6%,#95d569 87.2%,#7d8462 89.7%,#63886f 92.3%,#68b897 94.9%,#a1f75e 97.4%,#e2f71d)"></i><i style="left:422px;background:linear-gradient(#d12124,#d2171f 20.5%,#c91e1a 33.3%,#c61716 38.5%,#b82817 46.2%,#bc1e0b 51.3%,#c12512 59%,#d01d09 64.1%,#dc270e 69.2%,#e51b0b 71.8%,#e61d0b 76.9%,#ec1f00 82.1%,#f11e04 84.6%,#f3290b 87.2%,#f2450a 89.7%,#eb9814 94.9%,#e9b816 97.4%,#ebc314)"></i><i style="left:423px;background:linear-gradient(#2234ae,#2372ae 15.4%,#567679 30.8%,#5e7570 35.9%,#6f7566 38.5%,#85a677 41%,#8fc76b 43.6%,#8ec16b 46.2%,#8d936c 48.7%,#80744b 51.3%,#867446 53.8%,#8fb56a 56.4%,#bfb73b 59%,#ddaa1d 61.5%,#e3a818 64.1%,#d4b128 66.7%,#a4c559 69.2%,#91766c 71.8%,#897746 74.4%,#93aa6b 76.9%,#d5b428 79.5%,#fd8f00 82.1%,#fe6f00 84.6%,#ff6e00 87.2%,#ff9100 89.7%,#fec401 92.3%,#d9e726 94.9%,#89f576 97.4%,#55acaa)"></i><i style="left:424px;background:linear-gradient(#743c7b,#743d86 2.56%,#786d82 15.4%,#80927a 28.2%,#8e8f6b 30.8%,#958c63 35.9%,#d88924 43.6%,#d88621 46.2%,#bb7b3c 51.3%,#c27b35 53.8%,#df821c 56.4%,#f27906 59%,#f46a03 61.5%,#f76703 64.1%,#fa7204 66.7%,#f28d0d 69.2%,#d18b2d 71.8%,#c48d36 74.4%,#de8e20 76.9%,#fa7604 79.5%,#ff5400 82.1%,#ff4900 84.6%,#ff5200 87.2%,#fe7501 89.7%,#f1d20e 94.9%,#c2ec3d 97.4%,#88f577)"></i><i style="left:425px;background:linear-gradient(#747485,#747d86 2.56%,#a67e52 17.9%,#b38143 25.6%,#d48820 33.3%,#d2801b 41%,#db800e 43.6%,#dc770e 46.2%,#dd5709 51.3%,#df5709 53.8%,#e26f0d 59%,#eb700e 66.7%,#f56205 69.2%,#f53e05 74.4%,#f93900 79.5%,#fd4700 82.1%,#fa6605 84.6%,#ed8612 87.2%,#cfae2b 92.3%,#c7cc38 94.9%,#c9e736 97.4%,#d6f429)"></i><i style="left:426px;background:linear-gradient(#217fb0,#2584ac 2.56%,#518280 17.9%,#66806b 28.2%,#759d89 30.8%,#81bc7c 33.3%,#82ac7b 35.9%,#797f69 38.5%,#6f8061 41%,#787f58 43.6%,#91c86c 46.2%,#bfc73e 48.7%,#dcb420 51.3%,#dbb622 53.8%,#bbcb41 56.4%,#89c274 59%,#698267 61.5%,#64846c 64.1%,#82cd7c 66.7%,#d4ce2b 69.2%,#ffa600 71.8%,#fe7800 74.4%,#fe6c00 76.9%,#fe7c00 79.5%,#ffb300 82.1%,#d1ea2e 84.6%,#57dea8 87.2%,#237ab1 89.7%,#1d6ab4 92.3%,#1daae2 94.9%,#46fdb9 97.4%,#a0fe5f)"></i><i style="left:427px;background:linear-gradient(#c89928,#d39620 7.69%,#d78221 25.6%,#d97f21 43.6%,#e1781e 46.2%,#f94806 51.3%,#f94b06 53.8%,#e0901f 59%,#d9a521 61.5%,#d9b021 64.1%,#e0ab1f 66.7%,#f5820a 69.2%,#ff5400 71.8%,#ff3500 74.4%,#ff3200 76.9%,#ff4900 79.5%,#ff7d00 82.1%,#f2c40d 84.6%,#c6f439 87.2%,#78e67d 89.7%,#52e3a3 92.3%,#5beba4 94.9%,#8afe75 97.4%,#cbff34)"></i><i style="left:428px;background:linear-gradient(#2d1877,#2e178c 5.13%,#2e1593 10.3%,#2e16a3 12.8%,#2e2dc3 15.4%,#2e3ad1 17.9%,#2e38ca 20.5%,#2e32b8 23.1%,#2d39bf 25.6%,#2d67d1 28.2%,#2db5d1 30.8%,#3dd1c1 33.3%,#3bc9c3 35.9%,#2d9cd1 38.5%,#2d61cf 41%,#2d93d1 43.6%,#5adba4 46.2%,#bad743 48.7%,#ead412 51.3%,#e9d513 53.8%,#b6d947 56.4%,#5bd7a3 59%,#3a82c5 61.5%,#3a7dc2 64.1%,#5fd8a0 66.7%,#d3dd2c 69.2%,#fead00 71.8%,#fe7b00 74.4%,#fe7000 76.9%,#ff8700 79.5%,#ffc600 82.1%,#bbe944 84.6%,#56d5a9 87.2%,#288da9 89.7%,#2085b1 92.3%,#2491da 94.9%,#49f1b6 97.4%,#a7fb58)"></i><i style="left:429px;background:linear-gradient(#d3541d,#d7411e 12.8%,#d6391e 25.6%,#d43f1e 30.8%,#d13022 41%,#d03322 43.6%,#d1351d 46.2%,#d9260d 51.3%,#da270e 53.8%,#d73c1d 59%,#da3a21 61.5%,#e2441c 66.7%,#ed3b0d 69.2%,#ef2109 74.4%,#f22108 76.9%,#f92a06 79.5%,#f16a0e 84.6%,#e4851b 87.2%,#df9b1b 89.7%,#e5d31a 97.4%,#eed711)"></i><i style="left:430px;background:linear-gradient(#28719f,#756c51 30.8%,#7d6c52 33.3%,#7e6274 38.5%,#7e7b75 46.2%,#7d8375 51.3%,#7e9975 56.4%,#7fa975 64.1%,#99a561 69.2%,#97a05f 74.4%,#9ea05a 76.9%,#ada34d 79.5%,#b3ab4b 82.1%,#8fd067 89.7%,#a4df59 94.9%,#a7e658 97.4%,#9eea60)"></i><i style="left:431px;background:linear-gradient(#020b93,#0a0b8a 30.8%,#0b128e 64.1%,#0e17bd 69.2%,#0e12b0 71.8%,#0e1294 74.4%,#0f12ab 76.9%,#1133c5 79.5%,#1147e0 82.1%,#1031bd 84.6%,#0e15ac 87.2%,#0d15a0 89.7%,#0e24be 92.3%,#104adb 94.9%,#1058ee 97.4%,#0f51e3)"></i><i style="left:432px;background:linear-gradient(#000894,#0a0b8a 35.9%,#0b118e 64.1%,#0c12aa 66.7%,#0d13bb 69.2%,#0c138f 74.4%,#0d129f 76.9%,#1247e2 82.1%,#1139bf 84.6%,#1017ba 87.2%,#0f12b6 89.7%,#102dbc 92.3%,#104adb 94.9%,#1053ec 97.4%,#0e48df)"></i><i style="left:433px;background:linear-gradient(#1749b0,#1666b0 7.69%,#6d6954 35.9%,#785f75 43.6%,#796c75 46.2%,#787575 51.3%,#778d75 56.4%,#799b75 64.1%,#87a66f 69.2%,#7faa73 74.4%,#b29947 82.1%,#b29a44 84.6%,#aa9d4e 87.2%,#a4a956 89.7%,#aac653 94.9%,#9ae663)"></i><i style="left:434px;background:linear-gradient(#ce1124,#bb1717 28.2%,#b21716 35.9%,#a82015 41%,#a81815 51.3%,#a02216 53.8%,#a0210f 56.4%,#a7210d 61.5%,#bd2416 66.7%,#d71e12 71.8%,#d52717 74.4%,#d5230c 76.9%,#ca1805 82.1%,#e11b07 87.2%,#f82b07 89.7%,#e3b817)"></i><i style="left:435px;background:linear-gradient(#2241af,#2475ac 12.8%,#657467 33.3%,#787481 35.9%,#8dbc6b 38.5%,#8ec969 41%,#8eb569 43.6%,#897463 46.2%,#817449 48.7%,#8d735b 51.3%,#97be5e 53.8%,#d3a421 56.4%,#e9990b 59%,#e59c11 61.5%,#c6ac32 64.1%,#92b469 66.7%,#91753d 69.2%,#90753f 71.8%,#95c867 74.4%,#eaa511 76.9%,#f96b00 79.5%,#f94800 82.1%,#fb4700 84.6%,#fc6100 87.2%,#ff9e00 89.7%,#d6cd29 92.3%,#88e077 94.9%,#5e8c74 97.4%,#428e8f)"></i><i style="left:436px;background:linear-gradient(#745b86,#788882 12.8%,#b28147 30.8%,#cb802f 35.9%,#db881b 38.5%,#e28912 41%,#d37f1d 48.7%,#de7d10 51.3%,#e35904 56.4%,#e85102 59%,#ed5806 61.5%,#f46c0a 64.1%,#f1910e 66.7%,#de8f1c 69.2%,#e38817 71.8%,#f3780b 74.4%,#f65102 76.9%,#f33400 79.5%,#f52800 82.1%,#fe3000 84.6%,#fd5002 87.2%,#efcc10 92.3%,#b6eb49 94.9%,#7df47d 97.4%,#6ee58c)"></i><i style="left:437px;background:linear-gradient(#7a4880,#808a7c 17.9%,#878e73 25.6%,#be8b40 33.3%,#c2873d 35.9%,#b48145 41%,#bf7f3d 43.6%,#d78625 46.2%,#ed8109 48.7%,#ec6d04 51.3%,#e96703 53.8%,#e97306 56.4%,#e08016 59%,#d07d28 61.5%,#cd872d 64.1%,#e0971f 66.7%,#f88c07 69.2%,#fc4200 74.4%,#f53300 76.9%,#f53400 79.5%,#fd4b00 82.1%,#fa7d05 84.6%,#dda022 87.2%,#b4b546 89.7%,#9dd05d 92.3%,#98e967 94.9%,#a1fe5e 97.4%,#bbfd44)"></i><i style="left:438px;background:linear-gradient(#567d7b,#76825c 15.4%,#7a8364 17.9%,#7e8353 20.5%,#86834c 25.6%,#8c835c 28.2%,#8fa570 30.8%,#91b86e 33.3%,#91ab6e 35.9%,#90746f 38.5%,#907b42 41%,#917458 43.6%,#94b96b 46.2%,#c6b138 48.7%,#e2a11a 51.3%,#e3a119 53.8%,#c5b438 56.4%,#95b86a 59%,#908441 61.5%,#8c8645 64.1%,#94ca6b 66.7%,#d4bf2b 69.2%,#ff9a00 71.8%,#ff6800 74.4%,#fe5800 76.9%,#fe6a00 79.5%,#ffa500 82.1%,#d1e22e 84.6%,#6fce90 87.2%,#3f9192 89.7%,#3093a1 92.3%,#3cabc3 94.9%,#53f7ac 97.4%,#95ff6a)"></i><i style="left:439px;background:linear-gradient(#a58f50,#ce9327 20.5%,#df9220 30.8%,#df851f 38.5%,#de8d17 41%,#e37d1c 46.2%,#f1610e 48.7%,#f15206 51.3%,#f35407 53.8%,#f06e0f 56.4%,#e3921c 59%,#dfa716 61.5%,#dbae19 64.1%,#e2aa1d 66.7%,#f3870c 69.2%,#ff5900 71.8%,#ff3500 74.4%,#ff2f00 76.9%,#ff4800 79.5%,#fe8301 82.1%,#efca10 84.6%,#bfe540 87.2%,#8ee767 89.7%,#72e583 92.3%,#71e88b 94.9%,#86fa79 97.4%,#b5ff4a)"></i><i style="left:440px;background:linear-gradient(#281aa9,#2a32a8 5.13%,#2b3ea7 10.3%,#2c58a6 15.4%,#2c62ac 17.9%,#2d6ba4 25.6%,#2e7ab6 28.2%,#42a0bd 30.8%,#53bbac 33.3%,#53aeac 35.9%,#447ab6 38.5%,#397c99 41%,#467ba1 43.6%,#68c597 46.2%,#b5d94a 48.7%,#decc20 51.3%,#dccd22 53.8%,#abdb54 56.4%,#66ba99 59%,#47828a 61.5%,#44838d 64.1%,#62be9d 66.7%,#bfe140 69.2%,#ffb800 71.8%,#ff7c00 74.4%,#ff7000 76.9%,#ff8f00 79.5%,#f5d20a 82.1%,#9aef65 84.6%,#48beb7 87.2%,#268bab 89.7%,#2078b2 92.3%,#1e80c9 94.9%,#2bdad4 97.4%,#78ff87)"></i><i style="left:441px;background:linear-gradient(#d16624,#d85627 30.8%,#d84b24 38.5%,#d6501f 41%,#e04b1f 46.2%,#f0390f 48.7%,#f32b07 51.3%,#f52d08 53.8%,#df5d20 59%,#d96a1c 61.5%,#df7620 66.7%,#f3610c 69.2%,#ff3c00 71.8%,#ff1e00 74.4%,#ff1d00 76.9%,#ff3600 79.5%,#fd6902 82.1%,#eda012 84.6%,#d9c726 87.2%,#cfe626 89.7%,#b2e243 92.3%,#a3e55a 94.9%,#acfa53 97.4%,#d6ff29)"></i><i style="left:442px;background:linear-gradient(#263bab,#2b7aa7 17.9%,#2d7ea4 23.1%,#407d95 28.2%,#559aaa 30.8%,#65b79a 33.3%,#66a999 35.9%,#5a7a95 38.5%,#4f7b82 41%,#5b7a7d 43.6%,#7ac285 46.2%,#bdd742 48.7%,#dac324 51.3%,#d9c325 53.8%,#b9da46 56.4%,#78bc87 59%,#587f79 61.5%,#55807d 64.1%,#74c68b 66.7%,#cfd930 69.2%,#ffb100 71.8%,#ff8100 74.4%,#ff7800 76.9%,#ff8e00 79.5%,#fbc704 82.1%,#bdec42 84.6%,#5ad6a5 87.2%,#2a8fa8 89.7%,#247cad 92.3%,#2393dc 94.9%,#40f3bf 97.4%,#9afe65)"></i><i style="left:443px;background:linear-gradient(#968e5e,#bb903a 15.4%,#cc8d2d 25.6%,#df8e20 30.8%,#e3861c 35.9%,#e08b1a 41%,#e57a1a 46.2%,#eb5a0f 51.3%,#ed5a0d 53.8%,#ef6b10 56.4%,#e29618 61.5%,#e49b16 64.1%,#e99216 66.7%,#f57a0a 69.2%,#f85007 74.4%,#f95006 76.9%,#fb5e04 79.5%,#fc7e03 82.1%,#f4a90b 84.6%,#decb21 87.2%,#b9d941 89.7%,#a6e754 92.3%,#a5f25a 94.9%,#b7fd48 97.4%,#d8f927)"></i><i style="left:444px;background:linear-gradient(#657662,#7c714b 15.4%,#7e6177 28.2%,#809c75 43.6%,#7f9b75 48.7%,#979960 53.8%,#9a9e5e 56.4%,#8ab36b 61.5%,#afad4e 66.7%,#baa745 69.2%,#aba14c 74.4%,#aea24a 76.9%,#ccb533 82.1%,#c8c237 84.6%,#b4cd4a 87.2%,#95df64 89.7%,#7be77a 92.3%,#78e880 94.9%,#a2f45d)"></i><i style="left:445px;background:linear-gradient(#090b8b,#0b098e 28.2%,#0c1892 51.3%,#0e1ba5 53.8%,#0f1caa 56.4%,#0d1d91 59%,#0d1d92 61.5%,#101ea4 64.1%,#143bd6 66.7%,#164de4 69.2%,#131d9d 74.4%,#151da9 76.9%,#1952d8 79.5%,#1da5e2 82.1%,#1da3e2 84.6%,#1957dd 87.2%,#1322b4 89.7%,#0f2295 92.3%,#0e22b8 94.9%,#114dd5 97.4%,#159dea)"></i><i style="left:446px;background:linear-gradient(#0a0b8d,#130b83 30.8%,#130b8a 33.3%,#1209ab 38.5%,#122cb0 43.6%,#1237b0 48.7%,#1166b6 53.8%,#146dbc 56.4%,#126ab0 59%,#1269b0 61.5%,#1e6eb3 64.1%,#3281c7 66.7%,#3b90c0 69.2%,#3672c1 71.8%,#2e6d97 74.4%,#386d9e 76.9%,#519aa8 79.5%,#65cb97 82.1%,#67cd95 84.6%,#5ba9a2 87.2%,#4575b4 89.7%,#3573a8 92.3%,#3376be 94.9%,#3c9ec0 97.4%,#4bceb4)"></i><i style="left:447px;background:linear-gradient(#696c76,#ba7415 30.8%,#b85d13 38.5%,#b54e13 48.7%,#af3913 56.4%,#c44513 64.1%,#cc4313 69.2%,#cd2e0e 82.1%,#e13d0f 87.2%,#ed5712 89.7%,#e39a1b 94.9%,#e4ab1b 97.4%,#eab015)"></i><i style="left:448px;background:linear-gradient(#7a397e,#7e7d73 17.9%,#8e7f62 23.1%,#917e59 28.2%,#c3841f 35.9%,#c78317 38.5%,#b2782d 43.6%,#b2772b 46.2%,#c77d15 48.7%,#ce6506 51.3%,#cc4a01 53.8%,#cc4100 56.4%,#d24b01 59%,#d77a13 64.1%,#cc751f 66.7%,#dd7a12 69.2%,#e56105 71.8%,#dd2400 76.9%,#da1500 79.5%,#dc1400 82.1%,#e62400 84.6%,#f64400 87.2%,#fa8705 89.7%,#cfae30 92.3%,#a4bf56 94.9%,#a6c956 97.4%,#c9d336)"></i><i style="left:449px;background:linear-gradient(#5e7572,#867a49 17.9%,#89775b 20.5%,#8a7258 23.1%,#8a6e44 25.6%,#8b6347 30.8%,#8d8b6d 33.3%,#8fb06b 35.9%,#91af68 38.5%,#8e8e6b 41%,#8d524b 43.6%,#8d523f 46.2%,#8f8c6a 48.7%,#c59532 51.3%,#ef8307 53.8%,#f67700 56.4%,#ef8708 59%,#c19c39 61.5%,#928069 64.1%,#92593e 66.7%,#948869 69.2%,#d1a22b 71.8%,#fb7800 74.4%,#f94600 76.9%,#f92c00 79.5%,#fa2e00 82.1%,#fc4d00 84.6%,#fe8b00 87.2%,#d0c82f 89.7%,#8cbd73 92.3%,#6a8a67 94.9%,#628e82 97.4%,#73f68c)"></i><i style="left:450px;background:linear-gradient(#cc5c18,#cc4319 17.9%,#c0361d 38.5%,#c81c10 56.4%,#e1341a 69.2%,#e32d0e 74.4%,#de230b 79.5%,#e3260b 82.1%,#ed310c 84.6%,#f24a0d 87.2%,#ec7513 89.7%,#e5951a 92.3%,#dfe120)"></i><i style="left:451px;background:linear-gradient(#160983,#150883 7.69%,#1506b0 17.9%,#1530b0 28.2%,#1469b0 38.5%,#406a83 51.3%,#566b9a 56.4%,#576a93 61.5%,#629293 66.7%,#639091 69.2%,#648190 71.8%,#6b8c88 74.4%,#78af7c 76.9%,#7dc57e 79.5%,#7ec47c 82.1%,#7bb57a 84.6%,#71a684 87.2%,#64d89b 94.9%,#5bd3a3 97.4%,#4ec1a9)"></i><i style="left:452px;background:linear-gradient(#00008f,#050b94 51.3%,#08199b 66.7%,#091795 74.4%,#0b1ea0 76.9%,#0d2be0 79.5%,#0d22d3 82.1%,#0b1f94 84.6%,#0a1d95 87.2%,#0a1e98 89.7%,#0c24db 92.3%,#0c3af3 94.9%,#0a31ed 97.4%,#0720b6)"></i><i style="left:453px;background:linear-gradient(#0b038e,#110b87 41%,#120b8b 43.6%,#130b9d 46.2%,#140bad 51.3%,#152fb0 56.4%,#1633b0 61.5%,#164bb0 64.1%,#165dc8 66.7%,#165cba 69.2%,#1750b0 71.8%,#1753b0 74.4%,#1769c9 76.9%,#2183dc 79.5%,#237cd9 82.1%,#1772b9 84.6%,#176eb0 87.2%,#1e75c5 89.7%,#3194cc 92.3%,#37a9c8 94.9%,#30a4ce 97.4%,#1d8ada)"></i><i style="left:454px;background:linear-gradient(#742b80,#7b7c78 25.6%,#a6744a 35.9%,#ba712f 43.6%,#d57312 56.4%,#db6614 66.7%,#e96a16 82.1%,#eb8c14 92.3%,#ebb414 97.4%,#ddc922)"></i><i style="left:455px;background:linear-gradient(#706c7e,#b07534 25.6%,#c87015 35.9%,#c45213 53.8%,#d14912 66.7%,#ea4d12 82.1%,#ee5811 87.2%,#ee7411 92.3%,#ee8711 94.9%,#eabe15)"></i><i style="left:456px;background:linear-gradient(#0b0b8e,#140b83 33.3%,#140aa6 38.5%,#1410b0 41%,#1339b0 48.7%,#146cb0 61.5%,#396fbb 79.5%,#4789ae 84.6%,#488cad 89.7%,#4aa5ac 94.9%,#3796be)"></i><i style="left:457px;background:linear-gradient(#00008f,#000093 38.5%,#000b94 61.5%,#030f96)"></i><i style="left:458px;background:linear-gradient(#00008f,#000092)"></i><i style="left:459px;background:linear-gradient(#00008f,#000b94 33.3%,#0b128e 71.8%,#0b1395 76.9%,#0c14b2 82.1%,#0d14b8 84.6%,#0c15a6 89.7%,#0b17b8 94.9%,#0a16a8)"></i><i style="left:460px;background:linear-gradient(#120683,#120586 5.13%,#1104ad 12.8%,#110db0 15.4%,#1145b0 28.2%,#1165b0 33.3%,#45697c 46.2%,#646989 53.8%,#71837c 59%,#79a575 71.8%,#78b177 79.5%,#85b36f 84.6%,#7cd77e 94.9%,#6fd288)"></i><i style="left:461px;background:linear-gradient(#ad4014,#a92618 15.4%,#a8161d 30.8%,#a4191a 41%,#a30f18 46.2%,#a01918 48.7%,#a2160d 56.4%,#a91d17 64.1%,#b31517 66.7%,#b51f17 69.2%,#b91f0d 71.8%,#ac160b 79.5%,#c1170a 84.6%,#d51b0a 87.2%,#ea310d 89.7%,#e85117 92.3%,#e78618 97.4%,#ea9515)"></i><i style="left:462px;background:linear-gradient(#847148,#855446 15.4%,#855051 17.9%,#854e74 20.5%,#864974 23.1%,#864353 25.6%,#863f46 28.2%,#873970 30.8%,#8a7c6e 33.3%,#9e8c59 35.9%,#a58851 38.5%,#8a826c 41%,#883f6f 43.6%,#872a6f 46.2%,#8b836a 48.7%,#d8721a 51.3%,#e56100 53.8%,#e25500 56.4%,#e96400 59%,#d8761e 61.5%,#8c846b 64.1%,#8b366e 66.7%,#8e886b 69.2%,#e97a0f 71.8%,#ee4500 74.4%,#e22700 76.9%,#de1900 79.5%,#e11800 82.1%,#eb2500 84.6%,#fb4600 87.2%,#f0980e 89.7%,#91ba6e 92.3%,#8c7a53 94.9%,#8cad73 97.4%,#b6e049)"></i><i style="left:463px;background:linear-gradient(#7f3379,#815276 7.69%,#846274 15.4%,#857c77 20.5%,#8b7a6a 28.2%,#99795e 30.8%,#c68024 35.9%,#cb7f1d 38.5%,#a97746 43.6%,#a77347 46.2%,#c37b22 48.7%,#d66503 51.3%,#d24900 53.8%,#d44200 56.4%,#de5000 59%,#e76e03 61.5%,#cf7b26 64.1%,#bb713f 66.7%,#d37923 69.2%,#ed6002 71.8%,#e63800 74.4%,#e32300 76.9%,#e81900 82.1%,#ef2300 84.6%,#fa3a00 87.2%,#fd7e02 89.7%,#c6a939 92.3%,#90bb6b 94.9%,#98d067 97.4%,#cada35)"></i><i style="left:464px;background:linear-gradient(#706c74,#bd7419 30.8%,#be6019 38.5%,#bf6113 41%,#ba5d1d 46.2%,#b84b11 51.3%,#b34915 53.8%,#c04817 59%,#c75517 61.5%,#dc3f05 69.2%,#d83f07 74.4%,#d14b14 76.9%,#d74d17 82.1%,#f33d00 87.2%,#fe4000 89.7%,#f47c0b 94.9%,#f5b60a)"></i><i style="left:465px;background:linear-gradient(#191788,#281676 30.8%,#2817c7 33.3%,#273cd1 35.9%,#271ccf 38.5%,#27128d 41%,#2812c3 43.6%,#278cd1 46.2%,#35dcc2 48.7%,#5ada9c 51.3%,#37dbbe 53.8%,#257ed1 56.4%,#2727d1 59%,#28a6d1 61.5%,#73db87 64.1%,#c0d93a 66.7%,#e5d815 69.2%,#e4d816 71.8%,#b6d944 74.4%,#48ddb3 76.9%,#2c69d1 79.5%,#2ca2d1 82.1%,#99dc65 84.6%,#fed600 87.2%,#ffb300 89.7%,#ffb600 92.3%,#fdeb02 97.4%,#d6f129)"></i><i style="left:466px;background:linear-gradient(#8b6f5b,#b57131 17.9%,#c96f18 30.8%,#c66720 33.3%,#c75d1d 38.5%,#c75f17 41%,#c25c22 46.2%,#c54c13 51.3%,#c24d15 53.8%,#cf4d17 59%,#d35919 61.5%,#e44208 69.2%,#e94203 71.8%,#e25514 76.9%,#e85817 82.1%,#ff4800 87.2%,#fd5602 89.7%,#f66f09 92.3%,#f4c60b)"></i><i style="left:467px;background:linear-gradient(#81504a,#824d51 2.56%,#844671 7.69%,#854673 12.8%,#864e72 15.4%,#876e76 20.5%,#896a70 28.2%,#897a74 30.8%,#959067 33.3%,#b18c4b 35.9%,#b98943 38.5%,#a88b55 41%,#8b8871 43.6%,#8a8372 46.2%,#e17b13 51.3%,#ec6c01 53.8%,#f06400 56.4%,#f77001 59%,#e78316 61.5%,#b28d4b 64.1%,#9a8863 66.7%,#be8a3e 69.2%,#f68307 71.8%,#fd5e00 74.4%,#fe4700 76.9%,#ff3600 82.1%,#ff4000 84.6%,#ff6400 87.2%,#eda512 89.7%,#a3c05c 92.3%,#88be72 94.9%,#8edc71 97.4%,#b5ea4a)"></i><i style="left:468px;background:linear-gradient(#807a4b,#897844 5.13%,#896546 15.4%,#896252 17.9%,#895f70 20.5%,#895b72 23.1%,#89534e 28.2%,#895174 30.8%,#8a8b73 33.3%,#8ea86e 35.9%,#96a266 38.5%,#8b9071 41%,#885a74 43.6%,#884c74 46.2%,#8d936f 48.7%,#c99132 51.3%,#ef840a 53.8%,#fa7a00 56.4%,#f37f07 59%,#ce8c2e 61.5%,#8d9270 64.1%,#8c5672 66.7%,#919e6e 69.2%,#d7a528 71.8%,#ff8900 74.4%,#fe5e00 76.9%,#fd4100 79.5%,#fd3400 82.1%,#fd3f00 84.6%,#fe6c00 87.2%,#dcb123 89.7%,#8ebd71 92.3%,#738c5f 94.9%,#65ae9a 97.4%,#74fd8b)"></i><i style="left:469px;background:linear-gradient(#c5741e,#cf7313 5.13%,#cc5f13 15.4%,#c84722 30.8%,#c04922 41%,#c53e1e 46.2%,#c14722 48.7%,#ca3b12 56.4%,#d53107 59%,#db2e05 61.5%,#e53a10 66.7%,#e55019 69.2%,#e45a1b 71.8%,#e34b15 76.9%,#ec3705 79.5%,#ec2200 82.1%,#ed1800 84.6%,#f61e00 87.2%,#fb4704 89.7%,#ebbe0f 94.9%,#cfeb30 97.4%,#b0f34f)"></i><i style="left:470px;background:linear-gradient(#24177c,#291478 20.5%,#291387 23.1%,#2912a5 25.6%,#291ebf 28.2%,#282acb 30.8%,#2820b7 33.3%,#281fb0 35.9%,#2765d1 38.5%,#2bcccd 41%,#52d9a5 43.6%,#4cd9ac 46.2%,#27bed1 48.7%,#275ad1 51.3%,#2671d1 53.8%,#53d8a5 56.4%,#c3d534 59%,#f4d003 61.5%,#f7d101 64.1%,#d4d727 66.7%,#82da7b 69.2%,#2db5d1 71.8%,#2d6ed1 74.4%,#42d5bc 76.9%,#d0d82d 79.5%,#fba100 82.1%,#fb6e00 84.6%,#fd6200 87.2%,#ff8300 89.7%,#ffc200 92.3%,#cbeb34 94.9%,#58f5a7 97.4%,#288cd7)"></i><i style="left:471px;background:linear-gradient(#9c6f3f,#c26f19 17.9%,#be5c22 30.8%,#bc4c1a 43.6%,#bf491c 53.8%,#c44816 56.4%,#d22e01 61.5%,#d52f01 64.1%,#da5619 71.8%,#e25a15 76.9%,#ef4905 79.5%,#ef2400 84.6%,#f12100 87.2%,#fb2f00 89.7%,#ff4d00 92.3%,#edac12 97.4%,#d6cd29)"></i><i style="left:472px;background:linear-gradient(#784a4d,#7a4351 5.13%,#7c3974 12.8%,#7c7975 33.3%,#808071 35.9%,#b66d3e 48.7%,#b5703c 53.8%,#d7711a 61.5%,#d66e21 66.7%,#d17627 69.2%,#e5881a 74.4%,#e67a15 82.1%,#e77b12 87.2%,#eb8d14 92.3%,#eda312 94.9%,#e9c416 97.4%,#cddb32)"></i><i style="left:473px;background:linear-gradient(#0b0789,#0b0793 17.9%,#0c1693 35.9%,#131790 46.2%,#1617a9 48.7%,#151789 53.8%,#18179d 56.4%,#1e5fe0 61.5%,#1d53cc 64.1%,#1b29b4 66.7%,#1a19b3 69.2%,#1d44b4 71.8%,#208cdf 74.4%,#21bbde 76.9%,#21afde 79.5%,#1f6ecf 82.1%,#1d52b3 84.6%,#1d5db4 87.2%,#1f8fe0 89.7%,#3fd9c0 92.3%,#4ef4b1 94.9%,#43f1bc 97.4%,#1ed0e1)"></i><i style="left:474px;background:linear-gradient(#170b83,#170983 7.69%,#1708ad 17.9%,#172cb0 28.2%,#1664b0 38.5%,#1668b0 41%,#1b6cac 43.6%,#2c6c9b 46.2%,#386ca1 48.7%,#386b90 51.3%,#366b8f 53.8%,#416b87 56.4%,#5481a6 59%,#5fa1a0 61.5%,#5a92a2 64.1%,#4e6f99 66.7%,#4c6d87 69.2%,#5d899d 71.8%,#70c48f 74.4%,#77dc88 76.9%,#71d58e 79.5%,#60a99d 82.1%,#4d7aa2 84.6%,#4d7ca8 87.2%,#5ec0a1 89.7%,#7ef081 92.3%,#9bf364 94.9%,#8ef471 97.4%,#60f29f)"></i><i style="left:475px;background:linear-gradient(#d56d1b,#d9511b 17.9%,#d6331b 48.7%,#d2371a 53.8%,#da361a 59%,#e44817 69.2%,#ee4111 74.4%,#ef4610 76.9%,#ec5613 79.5%,#e3811b 84.6%,#e5951a 89.7%,#f3900c 94.9%,#f3a00c 97.4%,#eec011)"></i><i style="left:476px;background:linear-gradient(#367391,#5c716b 15.4%,#7c7051 30.8%,#7f6e56 33.3%,#7f696c 35.9%,#7f787a 38.5%,#7e8a7a 41%,#7e877a 43.6%,#7e767a 46.2%,#7e757a 48.7%,#80b47d 53.8%,#95b268 56.4%,#91b36d 59%,#80ad7c 61.5%,#809b7a 64.1%,#80a77a 66.7%,#92bb6d 69.2%,#b8b847 71.8%,#ceb231 74.4%,#cdb532 76.9%,#babf45 79.5%,#99c966 82.1%,#80cb7a 84.6%,#80c97a 87.2%,#88da76 89.7%,#d4d52b 94.9%,#e4d81b 97.4%,#e1e61e)"></i><i style="left:477px;background:linear-gradient(#181c87,#1e1c80 15.4%,#211cab 28.2%,#223dad 35.9%,#226baf 41%,#226aaf 43.6%,#225aaf 46.2%,#225aaf 48.7%,#2279af 51.3%,#3a99c5 53.8%,#4cb7b3 56.4%,#46acb9 59%,#2c86ba 61.5%,#2276af 64.1%,#2280af 66.7%,#40a1bf 69.2%,#63e39c 71.8%,#85ed7a 74.4%,#82ee7d 76.9%,#60e79f 79.5%,#3facc0 82.1%,#228baf 84.6%,#2283af 87.2%,#2993ce 89.7%,#4eeab1 92.3%,#8dfa72 94.9%,#b2fa4d 97.4%,#b0fd4f)"></i><i style="left:478px;background:linear-gradient(#b8a338,#d69d1c 20.5%,#db7b1e 41%,#dc7e1e 48.7%,#df7120 53.8%,#e1731e 56.4%,#dd971d 64.1%,#dd9c1d 66.7%,#e79218 74.4%,#e69a19 76.9%,#dcd41e 84.6%,#d5e129 89.7%,#deec21 92.3%,#eaef15 97.4%,#e6fd19)"></i><i style="left:479px;background:linear-gradient(#1472b3,#1b79ac 5.13%,#5b766c 33.3%,#61766a 35.9%,#717484 43.6%,#809c75 53.8%,#80be75 64.1%,#80d876 79.5%,#76e483 84.6%,#6be28d 92.3%,#75e985 97.4%,#6beb8f)"></i><i style="left:480px;background:linear-gradient(#000b94,#0a0c90 43.6%,#0b158e 71.8%,#0b169d 74.4%,#0b1691 79.5%,#0b169c 82.1%,#0a17b2 84.6%,#0a17b9 87.2%,#0917a6 92.3%,#0917bc 94.9%,#0a2fbd 97.4%,#0934bf)"></i><i style="left:481px;background:linear-gradient(#00008f,#00008f 71.8%,#00059a)"></i><i style="left:482px;background:linear-gradient(#000093,#0b128e 71.8%,#0b139f 74.4%,#0c13a1 79.5%,#0e12b2 82.1%,#0f23b8 84.6%,#102bb8 87.2%,#0e14b7 92.3%,#0c2abb)"></i><i style="left:483px;background:linear-gradient(#1303a1,#1202af 2.56%,#120db0 5.13%,#1164b0 25.6%,#1669ab 28.2%,#53696c 41%,#5b6968 43.6%,#706c7c 51.3%,#767b75 53.8%,#769975 64.1%,#79af78 76.9%,#a0a554 87.2%,#88e072)"></i><i style="left:484px;background:linear-gradient(#af221c,#ae1418 20.5%,#9e1315 33.3%,#981b15 41%,#961016 48.7%,#941518 51.3%,#9a1a0b 59%,#9d1e0f 64.1%,#ad1b17 69.2%,#b72213 74.4%,#b51709 82.1%,#c61707 87.2%,#e11d08 89.7%,#f32f0b 92.3%,#ea7815 97.4%,#e89317)"></i><i style="left:485px;background:linear-gradient(#59736f,#837149 15.4%,#866946 20.5%,#86654b 23.1%,#85605a 25.6%,#855b47 28.2%,#845046 33.3%,#836a74 35.9%,#879870 38.5%,#929c65 41%,#879670 43.6%,#836473 46.2%,#823969 48.7%,#836773 51.3%,#a78c4f 53.8%,#e07d15 56.4%,#f57000 59%,#f57700 61.5%,#d68420 64.1%,#98955f 66.7%,#846874 69.2%,#857174 71.8%,#ab994f 74.4%,#f28807 76.9%,#f84f00 79.5%,#f13500 82.1%,#f13200 84.6%,#fa3e00 87.2%,#fd7100 89.7%,#eca713 92.3%,#a6ca59 94.9%,#88a777 97.4%,#798386)"></i><i style="left:486px;background:linear-gradient(#7b6452,#7d5f5e 5.13%,#805a76 10.3%,#846576 17.9%,#868576 25.6%,#878072 30.8%,#888672 33.3%,#89a476 35.9%,#aba254 38.5%,#bd9d41 41%,#b39c4c 43.6%,#939e6c 46.2%,#8b8e73 48.7%,#94a16b 51.3%,#cd9732 53.8%,#fb8703 56.4%,#fe6c00 59%,#fe7600 61.5%,#ed9912 64.1%,#b3b34c 66.7%,#8aac75 69.2%,#8bb274 71.8%,#c1b33e 74.4%,#fe9a01 76.9%,#ff6000 79.5%,#fe4900 82.1%,#fe5000 84.6%,#ff6e00 87.2%,#feab01 89.7%,#e0dc1f 92.3%,#94f96b 94.9%,#6ab295 97.4%,#5e90a1)"></i><i style="left:487px;background:linear-gradient(#747d7c,#7a8477 5.13%,#c77f2e 35.9%,#e17818 41%,#df731b 43.6%,#dd7d1b 51.3%,#e26d17 53.8%,#de5c14 59%,#e36015 61.5%,#e67319 64.1%,#e19219 66.7%,#d79d23 69.2%,#dda122 71.8%,#f46e0b 76.9%,#f65b09 79.5%,#f2620d 82.1%,#ea7915 84.6%,#e2b318 89.7%,#caec35 94.9%,#d1f42e)"></i><i style="left:488px;background:linear-gradient(#171788,#201883 35.9%,#21188a 38.5%,#2325af 41%,#2541c0 43.6%,#253bb7 46.2%,#241aab 48.7%,#25199b 51.3%,#273eb1 53.8%,#29a8d5 56.4%,#40cdbd 59%,#39c2c6 61.5%,#2971d6 64.1%,#2735aa 66.7%,#272faa 69.2%,#2b8cd4 71.8%,#51e9ae 74.4%,#9ae365 76.9%,#b0e24f 79.5%,#89e676 82.1%,#40c3bf 84.6%,#276caa 87.2%,#255dac 89.7%,#2688d9 92.3%,#2fecd0 94.9%,#68fa97 97.4%,#96fb69)"></i><i style="left:489px;background:linear-gradient(#7b664b,#7d5548 10.3%,#7d514d 12.8%,#7d4571 20.5%,#7c6f75 35.9%,#7f8d78 41%,#918a67 43.6%,#907b64 51.3%,#bf843c 56.4%,#cf8a2d 59%,#c99134 61.5%,#b69148 64.1%,#a88d51 66.7%,#b08848 69.2%,#e88914 74.4%,#f1750b 76.9%,#f47409 79.5%,#f1900d 82.1%,#acb64e 87.2%,#9ec85c 89.7%,#aecf51 92.3%,#c6d739 94.9%,#ecd113)"></i><i style="left:490px;background:linear-gradient(#b37432,#ca7619 12.8%,#c76021 28.2%,#c2551c 41%,#ce3509 53.8%,#d04911 59%,#d85319 64.1%,#de5415 66.7%,#e74308 69.2%,#e52200 74.4%,#e51b00 76.9%,#e92000 79.5%,#f53400 82.1%,#fa5e05 84.6%,#e99316 87.2%,#deb721 89.7%,#d8bb25 92.3%,#e4c61b 94.9%,#f7ad08)"></i><i style="left:491px;background:linear-gradient(#292aa6,#2c63a5 15.4%,#2c6bb9 17.9%,#2c6da4 20.5%,#2c72a3 25.6%,#317ac1 28.2%,#47afb5 30.8%,#57caa5 33.3%,#56c0a6 35.9%,#478eb5 38.5%,#3a7695 41%,#4981b3 43.6%,#71db8b 46.2%,#c8d933 48.7%,#e6ce14 51.3%,#e8ce13 53.8%,#ccd92f 56.4%,#75db86 59%,#4a84b3 61.5%,#4983b5 64.1%,#7ede7f 66.7%,#e9dc14 69.2%,#fdad00 71.8%,#fc8600 74.4%,#fc7700 76.9%,#fd7e00 79.5%,#fea400 82.1%,#ece013 84.6%,#74e98b 87.2%,#2e89cd 89.7%,#2d6fba 92.3%,#2bdad4 94.9%,#75f88a 97.4%,#baf645)"></i><i style="left:492px;background:linear-gradient(#d17824,#d56a25 30.8%,#db5924 43.6%,#eb490f 51.3%,#eb4c0f 53.8%,#e66519 59%,#e66b19 64.1%,#e87917 66.7%,#ee7611 69.2%,#ee680c 71.8%,#f05c0f 76.9%,#fc6d03 82.1%,#fd7f02 84.6%,#f0940f 87.2%,#e4da18 92.3%,#c7fc38 94.9%,#a3fe5c 97.4%,#9af062)"></i><i style="left:493px;background:linear-gradient(#2213ad,#2279af 28.2%,#2f7ea3 35.9%,#407d91 38.5%,#5994a6 41%,#69b496 43.6%,#6caf93 46.2%,#637c9c 48.7%,#547a7d 51.3%,#577a7b 53.8%,#72ac8d 56.4%,#a5e159 59%,#ccdc32 61.5%,#cedd30 64.1%,#aee551 66.7%,#78cb87 69.2%,#618170 71.8%,#5d8274 74.4%,#6f8f90 76.9%,#9ee861 79.5%,#e5d61a 82.1%,#ffbf00 84.6%,#ffb100 87.2%,#ffcb00 89.7%,#f0f00f 92.3%,#a3f65c 94.9%,#36efc9 97.4%,#1e73ca)"></i><i style="left:494px;background:linear-gradient(#743f75,#744386 5.13%,#7a9280 28.2%,#839777 30.8%,#8f906a 35.9%,#b88d46 41%,#c48f3b 43.6%,#c4903b 46.2%,#b18b48 51.3%,#bb823e 53.8%,#db7d21 56.4%,#ea770a 59%,#ec6805 61.5%,#f26b05 64.1%,#f68409 66.7%,#dca223 69.2%,#b0af4a 71.8%,#9abb60 74.4%,#b4b94b 76.9%,#e8b417 79.5%,#fc8503 82.1%,#ff5d00 84.6%,#fe4c00 87.2%,#ff5900 89.7%,#fd7302 92.3%,#f59d0a 94.9%,#d2c12d 97.4%,#a1d65c)"></i><i style="left:495px;background:linear-gradient(#80837e,#807980 7.69%,#888777 10.3%,#b38b4c 15.4%,#b38a4c 17.9%,#988667 23.1%,#9c8763 25.6%,#b68a49 28.2%,#dc8722 30.8%,#ed7f0d 33.3%,#ec750b 35.9%,#ec7c0a 38.5%,#e08518 41%,#c38438 43.6%,#ba8143 46.2%,#d1872c 48.7%,#ee7a0a 51.3%,#e63302 56.4%,#e22300 59%,#e22400 61.5%,#eb3700 64.1%,#fb5c00 66.7%,#f69909 69.2%,#b8af47 71.8%,#93b66c 74.4%,#aab955 76.9%,#e7af18 79.5%,#ff7900 82.1%,#ff4000 84.6%,#fa2100 87.2%,#fb1700 89.7%,#ff1900 92.3%,#f30 94.9%,#fc5e03 97.4%,#f79a08)"></i><i style="left:496px;background:linear-gradient(#808e7a,#808b7b 2.56%,#80777c 5.13%,#80707d 7.69%,#83af7c 12.8%,#92b56d 15.4%,#90b56f 17.9%,#84a97b 20.5%,#828c7d 23.1%,#838f7c 25.6%,#88b577 28.2%,#bcb043 30.8%,#da2 33.3%,#e7a617 35.9%,#dca922 38.5%,#b7af47 41%,#87a978 43.6%,#858b7a 46.2%,#8fb970 48.7%,#d9aa25 51.3%,#f87f05 53.8%,#f95203 56.4%,#f84103 59%,#f64d06 61.5%,#f57408 64.1%,#f6af08 66.7%,#c5cd3a 69.2%,#8cc673 71.8%,#899276 74.4%,#8cbf73 76.9%,#b8e147 79.5%,#f5d20a 82.1%,#f76908 87.2%,#fa5005 89.7%,#fd4602 92.3%,#fe5301 94.9%,#fe7401 97.4%,#fda702)"></i><i style="left:497px;background:linear-gradient(#746c53,#74626e 7.69%,#746581 12.8%,#748f81 28.2%,#7d9a78 33.3%,#7fb07a 38.5%,#85b275 41%,#74b184 46.2%,#75b683 48.7%,#b8a947 53.8%,#cda232 56.4%,#c9a036 59%,#b4a04a 61.5%,#9eac5c 64.1%,#9cc05e 66.7%,#a6d159 69.2%,#b4d94b 71.8%,#c2d53d 74.4%,#c6dc39 76.9%,#b1e34e 82.1%,#9cd55e 84.6%,#a3c457 87.2%,#bdc042 89.7%,#ecc513 94.9%,#f0d00f 97.4%,#eae415)"></i><i style="left:498px;background:linear-gradient(#171588,#201c83 35.9%,#211da5 38.5%,#2329ae 41%,#2223ae 43.6%,#221e9f 46.2%,#221d9e 48.7%,#2339ac 51.3%,#268fd6 53.8%,#31c8cc 56.4%,#29bbd5 59%,#2853cc 61.5%,#262aab 64.1%,#2647ac 66.7%,#279dd8 69.2%,#46d9b9 71.8%,#65eb9a 74.4%,#73eb8b 76.9%,#61eb9e 79.5%,#44bfbb 82.1%,#2675ac 84.6%,#2651ab 87.2%,#2895d7 89.7%,#4ff6b0 92.3%,#98f667 94.9%,#b8f747 97.4%,#b9f946)"></i><i style="left:499px;background:linear-gradient(#746580,#777b7e 7.69%,#af7746 28.2%,#d87619 41%,#d6761d 46.2%,#db7416 48.7%,#d05c16 56.4%,#e36817 61.5%,#e17c19 64.1%,#de851c 66.7%,#e27c1d 69.2%,#eb5910 74.4%,#e95211 79.5%,#eb5b14 82.1%,#e89a12 87.2%,#debd21 89.7%,#e0d51f 92.3%,#e8d017 94.9%,#f0d80f)"></i><i style="left:500px;background:linear-gradient(#7d4572,#7e447c 2.56%,#7f5c7a 7.69%,#826b78 15.4%,#848379 20.5%,#868574 28.2%,#879076 30.8%,#be8f40 35.9%,#c78c37 38.5%,#b98b44 41%,#9f885f 43.6%,#9c8862 46.2%,#c18b3d 48.7%,#ef800d 51.3%,#f06701 53.8%,#ef5a00 56.4%,#f76601 59%,#ee8911 61.5%,#b49c4b 64.1%,#979f68 66.7%,#bb9f44 69.2%,#f5910a 71.8%,#ff5f00 74.4%,#fc3c00 76.9%,#fa2d00 79.5%,#fe2f00 82.1%,#ff5100 84.6%,#ff8d00 87.2%,#dcca23 89.7%,#91e46e 92.3%,#8bc372 94.9%,#89e376 97.4%,#b2f24d)"></i><i style="left:501px;background:linear-gradient(#71755b,#877346 10.3%,#876546 17.9%,#876063 20.5%,#875c63 23.1%,#875846 25.6%,#875446 28.2%,#864e60 30.8%,#897e71 33.3%,#8c9f6e 35.9%,#929c68 38.5%,#8b836f 41%,#874072 43.6%,#87376d 46.2%,#8c856e 48.7%,#c78833 51.3%,#ee7909 53.8%,#f76c00 56.4%,#f27605 59%,#c8842f 61.5%,#89836f 64.1%,#884b73 66.7%,#8e8f6f 69.2%,#d3982a 71.8%,#fd7900 74.4%,#fc4700 76.9%,#f52d00 79.5%,#f02900 82.1%,#f53800 84.6%,#fa6700 87.2%,#dca322 89.7%,#8cbe73 92.3%,#898662 94.9%,#79a386 97.4%,#89fb76)"></i><i style="left:502px;background:linear-gradient(#ba4916,#b72c1c 20.5%,#ae2321 38.5%,#b01b1a 46.2%,#b0201d 48.7%,#b31814 53.8%,#b2220d 56.4%,#b42103 59%,#b12005 61.5%,#cc1c0e 66.7%,#d12c15 69.2%,#d43116 71.8%,#d32810 76.9%,#d71a02 79.5%,#c71000 82.1%,#c50c00 84.6%,#d41100 87.2%,#f61f03 89.7%,#ef860e 94.9%,#e3b71c 97.4%,#dcde23)"></i><i style="left:503px;background:linear-gradient(#20127e,#21117d 5.13%,#2310a2 12.8%,#2526a5 20.5%,#2644a4 25.6%,#255eb7 30.8%,#255ca3 33.3%,#255ea3 35.9%,#2e7cc7 38.5%,#53c5a1 41%,#73d782 43.6%,#6bd789 46.2%,#52b1a3 48.7%,#376fa4 51.3%,#3f6fad 53.8%,#79d579 56.4%,#d9c519 59%,#f2af00 61.5%,#f4b400 64.1%,#e0c717 66.7%,#a2d758 69.2%,#5ba5a0 71.8%,#457293 74.4%,#67c492 76.9%,#e5c312 79.5%,#f56c00 82.1%,#f43e00 84.6%,#f73e00 87.2%,#fe6c00 89.7%,#ffb500 92.3%,#d9ea26 94.9%,#78f487 97.4%,#2dc0d2)"></i><i style="left:504px;background:linear-gradient(#7b6c62,#bb791f 28.2%,#bb5615 43.6%,#bc5715 48.7%,#b74a13 53.8%,#cb2c00 61.5%,#d23303 64.1%,#dd550e 69.2%,#df5e12 71.8%,#d64e10 76.9%,#d83102 79.5%,#d21100 82.1%,#d00800 84.6%,#e30d00 87.2%,#fc3100 89.7%,#efa710 94.9%,#e3d41c 97.4%,#c4dc3b)"></i><i style="left:505px;background:linear-gradient(#80316e,#812f76 2.56%,#834875 7.69%,#855772 15.4%,#867576 20.5%,#877271 28.2%,#917868 30.8%,#c27f2c 35.9%,#c87e22 38.5%,#b97c31 41%,#a1754c 43.6%,#9a7454 46.2%,#c07a2a 48.7%,#dd6d01 51.3%,#d54d00 53.8%,#d24200 56.4%,#d74d00 59%,#de6a04 61.5%,#c97725 64.1%,#b87142 66.7%,#c88035 69.2%,#fb7b02 71.8%,#f44b00 74.4%,#e52600 76.9%,#d80b00 79.5%,#d10100 82.1%,#d80b00 84.6%,#ef3000 87.2%,#f98f06 89.7%,#99b866 92.3%,#8bb774 94.9%,#99e566 97.4%,#c2eb3d)"></i><i style="left:506px;background:linear-gradient(#856545,#854846 15.4%,#854460 17.9%,#854d74 20.5%,#854974 23.1%,#853667 25.6%,#853354 28.2%,#864073 30.8%,#897f6f 33.3%,#a28956 35.9%,#ab834c 38.5%,#908167 41%,#864c70 43.6%,#843d71 46.2%,#9c7456 48.7%,#d4720d 51.3%,#d75900 53.8%,#da4f00 56.4%,#ea6300 59%,#d47f24 61.5%,#8f846b 64.1%,#8d3f6f 66.7%,#8e8a6d 69.2%,#e67914 71.8%,#e94a00 74.4%,#d72400 76.9%,#cb0b00 79.5%,#c60200 82.1%,#cd0e00 84.6%,#e13400 87.2%,#e78710 89.7%,#8a9b72 92.3%,#8b7b74 94.9%,#8dd472 97.4%,#b6f449)"></i><i style="left:507px;background:linear-gradient(#b55212,#b9440d 5.13%,#b43915 17.9%,#bf170a 25.6%,#bf1c08 28.2%,#b43117 33.3%,#b62f0f 35.9%,#b72e14 38.5%,#be1b0c 41%,#9d080b 46.2%,#930b01 51.3%,#970a00 53.8%,#aa0c00 56.4%,#c91800 59%,#c43b0f 61.5%,#c94712 64.1%,#cd3f17 66.7%,#cf330e 69.2%,#cc1a02 71.8%,#b00f00 74.4%,#9d0600 76.9%,#8f0100 79.5%,#890100 84.6%,#8b0500 87.2%,#ac0d02 89.7%,#e10f0b 92.3%,#f43f0b 94.9%,#f1dd0e)"></i><i style="left:508px;background:linear-gradient(#855f74,#909c6a 2.56%,#b29743 5.13%,#ad9647 7.69%,#859074 10.3%,#853c74 12.8%,#863a67 15.4%,#859c74 17.9%,#cf922a 20.5%,#ee8106 23.1%,#ee7607 25.6%,#eb8e0e 28.2%,#c39436 30.8%,#8f726a 33.3%,#90343c 35.9%,#8e8f6b 38.5%,#eb8e0e 41%,#ec490b 43.6%,#e91a06 46.2%,#de100b 48.7%,#e30c00 53.8%,#f12a00 56.4%,#f77f03 59%,#928069 61.5%,#93533b 64.1%,#93a969 66.7%,#dec11d 69.2%,#ee900b 71.8%,#eb4c06 74.4%,#e71c08 76.9%,#9b0200 84.6%,#9a0000 87.2%,#c10000 89.7%,#fc0000 92.3%,#ff4d00 94.9%,#ffaf00 97.4%,#c3f53c)"></i><i style="left:509px;background:linear-gradient(#867777,#886f75 2.56%,#8c5e43 5.13%,#8b5c44 7.69%,#885975 10.3%,#899774 12.8%,#8cae6f 15.4%,#88b474 17.9%,#90836c 20.5%,#944f3b 23.1%,#944c3e 25.6%,#939269 28.2%,#bda83e 30.8%,#de9c1d 33.3%,#e8920e 35.9%,#d89f23 38.5%,#b5a547 41%,#946769 43.6%,#94353b 46.2%,#927e69 48.7%,#eb7b0d 51.3%,#f83c00 53.8%,#f52300 56.4%,#f82e00 59%,#ef4a0b 61.5%,#f16e06 64.1%,#f2a80b 66.7%,#dbc724 69.2%,#96cf69 71.8%,#966f3b 74.4%,#96604c 76.9%,#c5a436 79.5%,#f65400 82.1%,#e80e00 84.6%,#cf0000 87.2%,#d90000 89.7%,#fa0000 92.3%,#ff2e00 94.9%,#ff6d00 97.4%,#f8b707)"></i><i style="left:510px;background:linear-gradient(#be7d29,#c4781d 7.69%,#d27912 12.8%,#d06d12 23.1%,#cf6417 28.2%,#d1440a 35.9%,#d0460b 38.5%,#ce5c17 43.6%,#d26212 46.2%,#ce5f16 48.7%,#d33b05 51.3%,#cc1600 53.8%,#be0d00 56.4%,#c10e00 59%,#d41303 61.5%,#ef6c0f 71.8%,#f47d06 74.4%,#f47f08 76.9%,#f96006 79.5%,#f32b00 82.1%,#e30600 84.6%,#ce0700 87.2%,#ee140a 92.3%,#f4330b 94.9%,#f88e07)"></i><i style="left:511px;background:linear-gradient(#866944,#895243 12.8%,#894d51 15.4%,#884972 17.9%,#885e74 20.5%,#886074 23.1%,#884774 28.2%,#886074 30.8%,#878d74 33.3%,#9d935e 35.9%,#a59056 38.5%,#8a9571 41%,#887074 43.6%,#896a74 46.2%,#91966b 48.7%,#d28129 51.3%,#f27200 53.8%,#eb5f00 56.4%,#f06a00 59%,#db7c20 61.5%,#949168 64.1%,#897f74 66.7%,#a0a15e 69.2%,#de9d21 71.8%,#ff9200 74.4%,#fe3000 82.1%,#f92e00 84.6%,#fa4d00 87.2%,#ec950f 89.7%,#9ab164 92.3%,#88a473 94.9%,#87d478 97.4%,#b1e54e)"></i><i style="left:512px;background:linear-gradient(#856a47,#88564d 12.8%,#88525a 15.4%,#895175 17.9%,#896675 20.5%,#8a6874 23.1%,#8a5274 28.2%,#8a6a74 30.8%,#899774 33.3%,#9ea05f 35.9%,#a59b58 38.5%,#8c9b71 41%,#897774 43.6%,#897274 46.2%,#949869 48.7%,#d18d2c 51.3%,#f98002 53.8%,#fa6a00 56.4%,#fb7600 59%,#d78826 61.5%,#8d9b70 64.1%,#8b8274 66.7%,#9faa60 69.2%,#dda422 71.8%,#ff9200 74.4%,#fe4600 79.5%,#fe3000 82.1%,#fd3300 84.6%,#fe5d00 87.2%,#e4b01b 89.7%,#8dc672 92.3%,#738d6d 94.9%,#65c19a 97.4%,#7bfd84)"></i><i style="left:513px;background:linear-gradient(#a2724a,#bd702c 12.8%,#d26f1c 25.6%,#ca5b20 43.6%,#ca5e21 48.7%,#ce4f15 56.4%,#e14106 61.5%,#ea5111 66.7%,#e66919 69.2%,#e5711a 71.8%,#e85f17 76.9%,#f33500 82.1%,#f22400 84.6%,#fa2700 87.2%,#fc5803 89.7%,#e8db13 94.9%,#b9f446 97.4%,#9cee63)"></i><i style="left:514px;background:linear-gradient(#24177e,#2b1577 20.5%,#2b147d 23.1%,#2b16b6 28.2%,#2b23c2 30.8%,#2a18ae 33.3%,#2a15aa 35.9%,#2a53d1 38.5%,#29bed1 41%,#40dbb9 43.6%,#3ddabd 46.2%,#29acd1 48.7%,#2947d1 51.3%,#295fd1 53.8%,#3ddabd 56.4%,#add84d 59%,#e5d614 61.5%,#ecd60e 64.1%,#c7d835 66.7%,#6fdc8f 69.2%,#2e9bd1 71.8%,#2e5cd1 74.4%,#2ed2d1 76.9%,#aedd51 79.5%,#fec100 82.1%,#fd8100 84.6%,#fd6d00 87.2%,#ff8e00 89.7%,#ffd500 92.3%,#b1f04e 94.9%,#41eabe 97.4%,#2364dc)"></i><i style="left:515px;background:linear-gradient(#bf7428,#d17213 10.3%,#ca4a1e 35.9%,#c34b1f 43.6%,#ca4822 53.8%,#cc4c20 56.4%,#db3206 61.5%,#de2f02 64.1%,#df3506 66.7%,#e25c1d 71.8%,#dd7e22 76.9%,#ed6a12 79.5%,#fb4604 82.1%,#f82b00 84.6%,#f51f00 87.2%,#fd2b00 89.7%,#ff5100 92.3%,#f68809 94.9%,#e8c917 97.4%,#bee641)"></i><i style="left:516px;background:linear-gradient(#767b55,#806a4b 15.4%,#82596d 25.6%,#835c75 28.2%,#847274 30.8%,#857c73 33.3%,#856d73 38.5%,#867f71 41%,#8f9e6d 43.6%,#ac9a50 46.2%,#ad9b4f 48.7%,#989e65 51.3%,#879371 53.8%,#878f71 56.4%,#9d985f 59%,#d0902c 61.5%,#f88304 64.1%,#fa7902 66.7%,#f2930c 69.2%,#c2ad3d 71.8%,#8ebb71 74.4%,#88af71 76.9%,#9bb363 79.5%,#ceab31 82.1%,#fa9304 84.6%,#fe6900 87.2%,#ff6000 89.7%,#ff7200 92.3%,#ffa300 94.9%,#e8dd17 97.4%,#93fe6c)"></i><i style="left:517px;background:linear-gradient(#2255ab,#2778a5 12.8%,#527480 28.2%,#66776c 33.3%,#6a7467 38.5%,#76755b 41%,#8aa073 43.6%,#8dbf70 46.2%,#8ebe70 48.7%,#8ca072 51.3%,#7d7a55 53.8%,#787a59 56.4%,#8c9173 59%,#a4c35a 61.5%,#daaa21 64.1%,#e9a011 66.7%,#d6ab25 69.2%,#9cc663 71.8%,#8a9075 74.4%,#74825d 76.9%,#758684 79.5%,#8dec72 82.1%,#dbd624 84.6%,#ffb200 87.2%,#ff9700 89.7%,#ff9b00 92.3%,#ffbf00 94.9%,#ddde22 97.4%,#92f36d)"></i><i style="left:518px;background:linear-gradient(#d14c28,#d84922 23.1%,#da3b20 35.9%,#ec280a 41%,#e7240b 43.6%,#dc471e 56.4%,#f02c0a 61.5%,#de1b04 64.1%,#d21502 66.7%,#da1604 69.2%,#f41d0a 71.8%,#ed740d 76.9%,#e08d1e 79.5%,#dc9923 82.1%,#ff6500 92.3%,#ff6400 94.9%,#f47e0b)"></i><i style="left:519px;background:linear-gradient(#2e19c9,#2e1dcd 2.56%,#2e7ad1 7.69%,#2e8dd1 10.3%,#2e69d1 15.4%,#2e80d1 17.9%,#2ec0d1 20.5%,#4adab5 23.1%,#5dd9a2 25.6%,#4ad9b5 28.2%,#2fccd0 30.8%,#2eafd1 33.3%,#3bd7c4 35.9%,#9fd460 38.5%,#f0d20e 41%,#fbb400 43.6%,#fbb900 46.2%,#dfd21f 48.7%,#81d57e 51.3%,#2ed5d1 53.8%,#3adac5 56.4%,#a8d857 59%,#feb400 61.5%,#f85b00 64.1%,#f42b00 66.7%,#f62700 69.2%,#fc4f00 71.8%,#ff9e00 74.4%,#d9e226 76.9%,#69ea96 79.5%,#2eb9d1 82.1%,#2e98d1 84.6%,#4deab2 87.2%,#cbea34 89.7%,#ffb700 92.3%,#ff7600 94.9%,#ff5300 97.4%,#ff4a00)"></i><i style="left:520px;background:linear-gradient(#d14b28,#d1532e 10.3%,#d1462d 15.4%,#d85427 23.1%,#d3442c 33.3%,#d74828 35.9%,#f42d04 41%,#ea2800 43.6%,#f43008 48.7%,#d5522a 53.8%,#d75a28 56.4%,#ea5015 59%,#fe2b00 61.5%,#e01500 64.1%,#c90a00 66.7%,#cb0900 69.2%,#e71100 71.8%,#ff3700 74.4%,#f5770a 76.9%,#dca723 79.5%,#d1bf2e 82.1%,#d6d929 87.2%,#edc412 89.7%,#fe9501 92.3%,#ff5f00 94.9%,#ff3900 97.4%,#ff2d00)"></i><i style="left:521px;background:linear-gradient(#2e3da3,#2e42a3 2.56%,#2e52c0 5.13%,#2e76d1 7.69%,#2e8ad1 10.3%,#2e66c8 15.4%,#2e75d1 17.9%,#3dabc2 20.5%,#51cfae 23.1%,#59daa6 25.6%,#54caab 28.2%,#418cbe 33.3%,#53b3ac 35.9%,#98d667 38.5%,#e7cd17 41%,#fcb800 43.6%,#f8bc04 46.2%,#d4d42a 48.7%,#72d88d 51.3%,#50a1af 53.8%,#54afab 56.4%,#99db66 59%,#fcbd03 61.5%,#fa6200 64.1%,#f52d00 66.7%,#f62700 69.2%,#fc4e00 71.8%,#ffa000 74.4%,#cae335 76.9%,#53e1ac 79.5%,#2e95d1 82.1%,#2d88d2 84.6%,#40d6bf 87.2%,#8ff570 89.7%,#f7e508 92.3%,#ff8e00 94.9%,#ff4f00 97.4%,#ff3400)"></i><i style="left:522px;background:linear-gradient(#d16924,#d3652a 10.3%,#d45a26 17.9%,#dd6222 25.6%,#da5223 30.8%,#dc4f23 35.9%,#e74d18 38.5%,#f13c08 41%,#f03104 43.6%,#f03305 46.2%,#ef400d 48.7%,#e3521c 51.3%,#dc6222 56.4%,#e86217 59%,#fd3a02 61.5%,#ef1700 64.1%,#da0e00 66.7%,#de0d00 69.2%,#f91800 71.8%,#fd4b02 74.4%,#f2850d 76.9%,#ddaf22 79.5%,#ced62c 84.6%,#d4e42b 87.2%,#e8dc17 89.7%,#fdb002 92.3%,#ff7400 94.9%,#ff4600 97.4%,#f30)"></i><i style="left:523px;background:linear-gradient(#2c6fa5,#2d80a4 5.13%,#4081ae 10.3%,#42808f 12.8%,#4a7f87 17.9%,#5880a7 20.5%,#65b19a 23.1%,#6cbc93 25.6%,#6ba494 28.2%,#677b85 30.8%,#637b6e 33.3%,#707b8f 35.9%,#8cd973 38.5%,#c8cd37 41%,#ddbf21 43.6%,#d6c128 46.2%,#b4d24a 48.7%,#8abb75 51.3%,#707a6a 53.8%,#6d7a87 56.4%,#94df6b 59%,#edb612 61.5%,#fd7600 64.1%,#fb5100 66.7%,#fb5900 69.2%,#fe8800 71.8%,#efc210 74.4%,#bceb43 76.9%,#75d68a 79.5%,#4c8f9a 82.1%,#32909f 84.6%,#48beb7 87.2%,#99f466 89.7%,#f7e108 92.3%,#ff9800 94.9%,#ff6400 97.4%,#ff5000)"></i><i style="left:524px;background:linear-gradient(#c1a939,#d9ad21 15.4%,#db9d24 23.1%,#de9d21 28.2%,#ea9210 33.3%,#ef8910 38.5%,#eb7514 43.6%,#e97816 46.2%,#e88c17 48.7%,#ef8e10 51.3%,#f3680c 59%,#ff3c00 64.1%,#ff3e00 66.7%,#fa5c05 69.2%,#ed8b12 71.8%,#e3ec1c 76.9%,#d9e826 79.5%,#d7c523 84.6%,#f4b20b 89.7%,#fe9601 92.3%,#ff7500 94.9%,#ff5f00 97.4%,#ff5e00)"></i><i style="left:525px;background:linear-gradient(#32a3cd,#359dca 2.56%,#3284c7 5.13%,#3483b9 7.69%,#429dbd 10.3%,#54cfab 12.8%,#60e89f 15.4%,#61e39e 17.9%,#58c3a7 20.5%,#4f97b0 23.1%,#529bad 25.6%,#65d59a 28.2%,#a7e558 30.8%,#dfe320 33.3%,#ecdc13 35.9%,#dee121 38.5%,#a5e15a 41%,#6cbe93 43.6%,#5e9ca1 46.2%,#75e18a 48.7%,#e4df1b 51.3%,#fa0 53.8%,#ff7b00 56.4%,#ff6500 59%,#ff6400 61.5%,#ff7800 64.1%,#ffa900 66.7%,#d5e12a 69.2%,#5bd1a4 71.8%,#2ea7d1 74.4%,#3ff0c0 76.9%,#b1ef4e 79.5%,#fde502 82.1%,#fdac02 84.6%,#fe8601 87.2%,#ff6000 94.9%,#ff6000 97.4%,#ff7300)"></i><i style="left:526px;background:linear-gradient(#d27f28,#d27526 7.69%,#d77823 15.4%,#d56b25 25.6%,#e2691d 30.8%,#ec5813 35.9%,#e95816 38.5%,#dc6822 43.6%,#de6821 46.2%,#e85e17 48.7%,#f84507 51.3%,#fc3003 53.8%,#f92d06 56.4%,#ee3a0c 61.5%,#ed4c0e 64.1%,#f06d0f 66.7%,#f78208 69.2%,#ed8a12 71.8%,#ea8115 76.9%,#ff7900 82.1%,#eb8814 89.7%,#e98d11 92.3%,#ec9013 94.9%,#fc9c03)"></i><i style="left:527px;background:linear-gradient(#2834a9,#2c74aa 17.9%,#2f7da3 25.6%,#3c7ca4 28.2%,#51a0ae 30.8%,#61bd9e 33.3%,#62b09c 35.9%,#5578a4 38.5%,#47798a 41%,#50799f 43.6%,#6dcc91 46.2%,#b5dc49 48.7%,#dccc21 51.3%,#e1c41c 53.8%,#c8d235 56.4%,#81c87e 59%,#63776e 61.5%,#5f7982 64.1%,#7be184 66.7%,#e0de1e 69.2%,#ffc400 71.8%,#ffa600 74.4%,#ff9c00 76.9%,#ffa000 79.5%,#ffba00 82.1%,#eadf15 84.6%,#8ae975 87.2%,#4587b6 89.7%,#33899f 92.3%,#51bbae 94.9%,#9cf363 97.4%,#e7f418)"></i><i style="left:528px;background:linear-gradient(#a77e4e,#c97f2c 15.4%,#de7b1d 28.2%,#dd6f1d 35.9%,#db711b 41%,#da671b 46.2%,#df4d0c 51.3%,#e24a0a 53.8%,#e47b16 61.5%,#e57c16 64.1%,#ec6f13 66.7%,#f75406 69.2%,#fa3f04 74.4%,#f95006 79.5%,#fb6004 82.1%,#fb7a04 84.6%,#f1a00e 87.2%,#bbd33f 92.3%,#bde642 94.9%,#d7f128 97.4%,#f1ee0e)"></i><i style="left:529px;background:linear-gradient(#757552,#7d614e 15.4%,#7f5776 25.6%,#7f7875 35.9%,#7f9475 41%,#7e9275 46.2%,#809573 48.7%,#988c5c 51.3%,#aa8852 53.8%,#a98d54 56.4%,#8fa466 61.5%,#9fa357 64.1%,#cf9b2f 69.2%,#d2992c 71.8%,#b39844 76.9%,#b09e45 79.5%,#c2a73d 82.1%,#d5b62a 84.6%,#e0bf1f 87.2%,#b9e246 92.3%,#a5eb5a 94.9%,#84e671)"></i><i style="left:530px;background:linear-gradient(#10178a,#161488 25.6%,#171d8c 48.7%,#1a1f93 51.3%,#1d28db 53.8%,#1d20d3 56.4%,#1a218a 59%,#1a2392 64.1%,#215ede 66.7%,#25adda 69.2%,#26b2d9 71.8%,#2366dc 74.4%,#1f2296 76.9%,#1f2385 79.5%,#2466db 82.1%,#29e5d6 84.6%,#4cf3b3 87.2%,#35f6ca 89.7%,#23d1dc 92.3%,#1d85e2 94.9%,#1635cc 97.4%,#132b97)"></i><i style="left:531px;background:linear-gradient(#457482,#7f6f48 28.2%,#7e5a75 35.9%,#7e7d75 41%,#7f7875 46.2%,#7e7f75 48.7%,#7d9577 51.3%,#8a9971 56.4%,#7e9c75 59%,#7f9a75 61.5%,#80ae76 64.1%,#b1b14e 69.2%,#b4af4b 71.8%,#91a866 76.9%,#94a861 79.5%,#cbb034 84.6%,#d8b527 87.2%,#b2e34d 92.3%,#8cf073 94.9%,#62e29a 97.4%,#57cc9f)"></i><i style="left:532px;background:linear-gradient(#d6711a,#da481d 28.2%,#d14a22 41%,#d44322 46.2%,#d14822 48.7%,#db350d 53.8%,#df310a 56.4%,#e54916 61.5%,#dd5d22 64.1%,#e35a1c 69.2%,#f74808 74.4%,#f93406 82.1%,#fc3903 84.6%,#fd5302 87.2%,#e3cc1c 92.3%,#c0dc3c 94.9%,#b2f14d 97.4%,#bafc45)"></i><i style="left:533px;background:linear-gradient(#2e1676,#2e1176 12.8%,#2e1181 15.4%,#2d10ba 17.9%,#2d25d1 20.5%,#2d2dd1 23.1%,#2d18d1 25.6%,#2d11d0 28.2%,#2c45d1 30.8%,#2ca4d1 33.3%,#39dac3 35.9%,#44d9b7 38.5%,#2bc3d1 41%,#2c72d1 43.6%,#2d66d1 46.2%,#2cd0d1 48.7%,#96d665 51.3%,#e3d416 53.8%,#f9cb00 56.4%,#ead40f 59%,#9dd75f 61.5%,#2dccd1 64.1%,#2e82d1 66.7%,#3ad9c5 69.2%,#aade55 71.8%,#f9da06 74.4%,#ffac00 76.9%,#f80 79.5%,#f70 82.1%,#ff8000 84.6%,#ffb000 87.2%,#bfe240 89.7%,#35d1ca 92.3%,#2b5ab5 94.9%,#2a91d5 97.4%,#49f9b6)"></i><i style="left:534px;background:linear-gradient(#d8721d,#d75f1c 10.3%,#d8631a 15.4%,#d75923 20.5%,#d64c21 25.6%,#d75016 35.9%,#d3521f 41%,#d9471e 46.2%,#d45122 48.7%,#de2c02 53.8%,#dc1f00 56.4%,#dc2102 59%,#dc300a 61.5%,#de4517 64.1%,#e85717 66.7%,#e4761b 69.2%,#e97516 71.8%,#f16409 74.4%,#f3510c 76.9%,#fe2600 84.6%,#fc2e00 87.2%,#f84e07 89.7%,#e97216 92.3%,#ebc214)"></i><i style="left:535px;background:linear-gradient(#699a96,#6d8e92 2.56%,#6d7e6c 5.13%,#707d61 7.69%,#798186 10.3%,#86c578 12.8%,#90e36f 15.4%,#92dc6d 17.9%,#8dae71 20.5%,#88795c 23.1%,#8c785c 25.6%,#96bf69 28.2%,#c0c83e 30.8%,#e8b315 33.3%,#f4a909 35.9%,#e3ae1a 38.5%,#b1c04d 41%,#969369 43.6%,#957643 46.2%,#96b169 48.7%,#dda820 51.3%,#fc6800 53.8%,#fb3200 56.4%,#fb2000 59%,#fc2e00 61.5%,#fe5600 64.1%,#ff9800 66.7%,#d3cd2c 69.2%,#8ebd71 71.8%,#828250 74.4%,#8f8b70 76.9%,#bece41 79.5%,#ff9800 82.1%,#ff4700 84.6%,#ff1900 87.2%,#ff1600 89.7%,#ff2900 92.3%,#ff8d00)"></i><i style="left:536px;background:linear-gradient(#d88022,#d97421 10.3%,#dc781e 15.4%,#de6619 25.6%,#e0691a 28.2%,#ee490c 35.9%,#ed4a0e 38.5%,#e45e16 43.6%,#e46012 46.2%,#e65c19 48.7%,#f0480f 51.3%,#f4170b 56.4%,#f1140b 59%,#f41c0b 61.5%,#f4310b 64.1%,#f54f0a 66.7%,#e6a219 71.8%,#e2bc18 74.4%,#e3c31b 76.9%,#eab415 79.5%,#fa4c05 84.6%,#fc2d03 87.2%,#fa3405 89.7%,#f0af0f)"></i><i style="left:537px;background:linear-gradient(#1742b0,#1771b0 15.4%,#387190 28.2%,#556d72 35.9%,#5e6d79 38.5%,#5e716c 46.2%,#6c788e 48.7%,#7ca180 51.3%,#80a47d 53.8%,#7f787a 59%,#80cc7f 64.1%,#8ed471 66.7%,#81df7e 69.2%,#72bd8b 71.8%,#5e8b9c 74.4%,#59839b 76.9%,#6ab490 79.5%,#8ee871 82.1%,#c1d03e 84.6%,#d6c229 87.2%,#c2cd3d 89.7%,#97de68 92.3%,#74cb86 94.9%,#64b596 97.4%,#5ec89c)"></i><i style="left:538px;background:linear-gradient(#0b0f93,#0d1892 15.4%,#1a1784 35.9%,#1c1799 38.5%,#1c179d 41%,#1c1790 43.6%,#1d179d 46.2%,#1f2fb1 48.7%,#2053bd 51.3%,#205ac2 53.8%,#2143af 56.4%,#2131af 59%,#2159af 61.5%,#25a5d9 64.1%,#38c0c6 66.7%,#2eb0d1 69.2%,#2177cc 71.8%,#1f5cb2 74.4%,#1e5bb2 76.9%,#207db1 79.5%,#49c2b6 82.1%,#7eea81 84.6%,#a1e95e 87.2%,#76ee89 89.7%,#37c4c8 92.3%,#1f65b3 94.9%,#1b44b7 97.4%,#1a65b9)"></i><i style="left:539px;background:linear-gradient(#745481,#787b7d 12.8%,#a7764e 28.2%,#ce741c 41%,#d77216 48.7%,#d56412 56.4%,#dc6017 64.1%,#e76818 69.2%,#e77d13 74.4%,#e87812 76.9%,#ec5613 82.1%,#f54f0a 87.2%,#f1780e 89.7%,#e9ae16 92.3%,#cccb2e 94.9%,#b4dd46 97.4%,#b1ea49)"></i><i style="left:540px;background:linear-gradient(#744286,#746c86 10.3%,#788b82 20.5%,#a18659 33.3%,#cc852f 38.5%,#d58722 41%,#c37f34 48.7%,#ce7e25 51.3%,#e5870d 53.8%,#ea6204 59%,#ed6404 61.5%,#f07508 64.1%,#ea8514 66.7%,#d58925 69.2%,#d49126 71.8%,#e89a17 74.4%,#f98606 76.9%,#fd3f00 82.1%,#fb3500 84.6%,#ff4200 87.2%,#fe7f01 89.7%,#eac115 92.3%,#b3d94c 94.9%,#90e96a 97.4%,#7eec7c)"></i><i style="left:541px;background:linear-gradient(#2240af,#227daf 17.9%,#4b7c86 33.3%,#5f7b88 35.9%,#75aa89 38.5%,#81c07d 41%,#7ba883 43.6%,#6a7a6c 46.2%,#607b72 48.7%,#6e7a65 51.3%,#8ecc70 53.8%,#c2c83b 56.4%,#ddb820 59%,#d9bd25 61.5%,#b3d84b 64.1%,#7bae84 66.7%,#5a8277 69.2%,#5b8376 71.8%,#7bc784 74.4%,#c8dc37 76.9%,#fdb802 79.5%,#ff8400 82.1%,#ff7400 84.6%,#ff8c00 87.2%,#f3d30c 89.7%,#92f46d 92.3%,#35afca 94.9%,#1970b8 97.4%,#1257bf)"></i><i style="left:542px;background:linear-gradient(#d17122,#d45f21 28.2%,#e04a1f 41%,#d9551c 48.7%,#e34a1c 53.8%,#f53008 59%,#f63809 61.5%,#df7620 66.7%,#d88c1d 69.2%,#d9911c 71.8%,#e08b1f 74.4%,#ef7710 76.9%,#fc5803 79.5%,#ff4000 82.1%,#ff3900 84.6%,#ff4d00 87.2%,#fc8903 89.7%,#e7d018 92.3%,#b2f14d 94.9%,#66dc8f 97.4%,#3bd6ba)"></i><i style="left:543px;background:linear-gradient(#22169e,#221aaf 5.13%,#2560ad 23.1%,#2778aa 33.3%,#387da3 35.9%,#54a0ab 38.5%,#62b69d 41%,#5a9ba5 43.6%,#467d8b 46.2%,#3c7e95 48.7%,#4c7d85 51.3%,#6fb790 53.8%,#abde54 56.4%,#d3ce2b 59%,#d3d12c 61.5%,#9ce063 64.1%,#5ca2a3 66.7%,#398598 69.2%,#43878e 71.8%,#67c198 74.4%,#a6eb59 76.9%,#e3d51c 79.5%,#ffb900 82.1%,#ffa100 84.6%,#ffae00 87.2%,#ecde13 89.7%,#93f56c 92.3%,#2bc8d4 94.9%,#1c4cb6 97.4%,#162fbb)"></i><i style="left:544px;background:linear-gradient(#74697f,#749986 15.4%,#80a17a 20.5%,#939767 28.2%,#9f9f5b 33.3%,#cf9630 38.5%,#db9524 41%,#d3962c 43.6%,#bd9b3d 46.2%,#b09b4a 48.7%,#bb993f 51.3%,#d89f27 53.8%,#f38a0c 56.4%,#fa6c05 59%,#fa6605 61.5%,#e79318 66.7%,#cea22c 69.2%,#c5b535 71.8%,#cac635 74.4%,#e0c61f 76.9%,#f0af0f 79.5%,#fb8504 84.6%,#ff8700 87.2%,#fda802 89.7%,#eac815 92.3%,#c2cf3d 94.9%,#accb4e 97.4%,#a3d257)"></i><i style="left:545px;background:linear-gradient(#806154,#806280 2.56%,#807680 5.13%,#806980 7.69%,#805e69 10.3%,#805d68 12.8%,#81777e 15.4%,#84a27b 17.9%,#86b379 20.5%,#87a978 23.1%,#865a79 28.2%,#876e78 30.8%,#8bae74 33.3%,#c2aa3d 35.9%,#e49f1b 38.5%,#eb9b14 41%,#d7a028 43.6%,#a0ad5f 46.2%,#8c7773 48.7%,#8d6972 51.3%,#9cad63 53.8%,#e99b16 56.4%,#ff7000 59%,#ff4d00 61.5%,#ff4500 64.1%,#fe5601 66.7%,#fc7f03 69.2%,#f0b80f 71.8%,#acd453 74.4%,#8e9f71 76.9%,#8b8274 79.5%,#8dd072 82.1%,#d8c227 84.6%,#ffac00 87.2%,#ff9400 89.7%,#fe8901 92.3%,#f88a07 97.4%,#f79508)"></i><i style="left:546px;background:linear-gradient(#808076,#80997a 5.13%,#80937d 10.3%,#80987d 12.8%,#ad9b52 20.5%,#ac9c53 23.1%,#9b9964 28.2%,#a49a5b 30.8%,#bd9c42 33.3%,#df9520 35.9%,#f18a0e 38.5%,#f2860d 41%,#f58e0a 43.6%,#c3913c 48.7%,#bb9344 51.3%,#cf9d30 53.8%,#f1950e 56.4%,#f4690b 59%,#f44d0b 61.5%,#fc3a03 64.1%,#fe3900 66.7%,#ff4a00 69.2%,#fe7701 71.8%,#e7a818 74.4%,#b0bb4f 76.9%,#89ce76 79.5%,#9ae365 82.1%,#cee031 84.6%,#f3c30c 87.2%,#f4a30b 89.7%,#f68f09 92.3%,#fc8103 94.9%,#ff7b00)"></i><i style="left:547px;background:linear-gradient(#806851,#806550 5.13%,#80625d 7.69%,#80607c 10.3%,#80737f 12.8%,#81737e 15.4%,#855a7a 20.5%,#84727b 23.1%,#83977c 25.6%,#83ae7c 28.2%,#84b37b 30.8%,#86a279 33.3%,#897f76 35.9%,#8b7a74 38.5%,#8caa73 41%,#c3a53c 43.6%,#e29f1d 46.2%,#e79f18 48.7%,#d9a426 51.3%,#b9ad46 53.8%,#8dac72 56.4%,#8b8574 59%,#8fa970 61.5%,#d92 64.1%,#ff7800 66.7%,#ff5900 69.2%,#ff5d00 71.8%,#fd7b02 74.4%,#f8ab07 76.9%,#e0d11f 79.5%,#b4e74b 82.1%,#8ae375 84.6%,#889c77 87.2%,#8bb374 89.7%,#a0e65f 92.3%,#dfd620 94.9%,#ffc000 97.4%,#ff9e00)"></i><i style="left:548px;background:linear-gradient(#805764,#805369 5.13%,#805175 7.69%,#80757f 12.8%,#81767e 15.4%,#83667c 20.5%,#85ad7a 28.2%,#8eac71 30.8%,#87a678 33.3%,#878b78 35.9%,#888777 38.5%,#97a468 41%,#cd9932 43.6%,#ee9011 46.2%,#f78e08 48.7%,#ec9013 51.3%,#cf9830 53.8%,#9fa460 56.4%,#8b9774 59%,#96ae69 61.5%,#dfa220 64.1%,#ff7900 66.7%,#ff5000 69.2%,#ff4c00 71.8%,#ff6200 74.4%,#fcb203 79.5%,#d7c028 82.1%,#a5cf5a 84.6%,#8bb974 87.2%,#8ac275 89.7%,#97fa68 92.3%,#d5f02a 94.9%,#fcda03 97.4%,#feb001)"></i><i style="left:549px;background:linear-gradient(#746d7e,#758980 10.3%,#7d8a78 12.8%,#a48a51 28.2%,#c18034 38.5%,#e57815 46.2%,#e47816 53.8%,#de8c1c 61.5%,#e58415 64.1%,#ea5e15 69.2%,#ea6015 71.8%,#e89912 79.5%,#e0b71f 87.2%,#c5db35 92.3%,#c5dc35 94.9%,#e1d21e)"></i><i style="left:550px;background:linear-gradient(#0b0b8e,#140d86 38.5%,#150c90 41%,#160cad 43.6%,#171eb0 46.2%,#171ab0 51.3%,#1748b5 56.4%,#174ab5 59%,#173bb4 61.5%,#173fb4 64.1%,#1768bf 66.7%,#2992d6 69.2%,#2a8ed5 71.8%,#1773be 74.4%,#175bb5 76.9%,#1769b5 79.5%,#2391dc 82.1%,#37bfc8 84.6%,#36c1c9 87.2%,#1a97e5 89.7%,#146ab8 92.3%,#145eb9 94.9%,#1479c5 97.4%,#2cb4d3)"></i><i style="left:551px;background:linear-gradient(#0b0b89,#0b058e 28.2%,#0e0e91 51.3%,#101096 53.8%,#1115bb 56.4%,#121bba 59%,#1210ae 61.5%,#1311ae 64.1%,#1438b9 66.7%,#1764e8 69.2%,#175ae7 71.8%,#1437b9 74.4%,#1419b9 76.9%,#153ab7 79.5%,#1871e7 82.1%,#27b1d8 84.6%,#2db4d1 87.2%,#188ce7 89.7%,#1662b6 92.3%,#154ab8 94.9%,#1455ba 97.4%,#168ce9)"></i><i style="left:552px;background:linear-gradient(#756d4c,#7a414b 20.5%,#7a3272 28.2%,#777675 43.6%,#857268 46.2%,#8e705f 51.3%,#ad6944 56.4%,#b66934 64.1%,#d17124 69.2%,#d27327 71.8%,#c57631 76.9%,#e17117 82.1%,#dd6315 87.2%,#e18718 92.3%,#caac30 97.4%,#cdbf32)"></i><i style="left:553px;background:linear-gradient(#a93614,#a82418 10.3%,#a8121d 30.8%,#a0161d 38.5%,#99231a 43.6%,#9c1815 51.3%,#9e1e06 61.5%,#aa220c 69.2%,#b8170d 71.8%,#c61d10 76.9%,#c01b00 82.1%,#b51300 84.6%,#b61100 87.2%,#f01e01 92.3%,#f94006 94.9%,#ef6c10 97.4%,#ea8615)"></i><i style="left:554px;background:linear-gradient(#1d1181,#1d1185 2.56%,#1f10a9 10.3%,#1f1cac 12.8%,#223aaa 20.5%,#2470a7 30.8%,#2472a7 33.3%,#2875a3 35.9%,#42749d 38.5%,#63b394 41%,#76d680 43.6%,#77cf7f 46.2%,#68968e 48.7%,#577472 51.3%,#5f756a 53.8%,#81c276 56.4%,#c1c434 59%,#e5ad0f 61.5%,#eca908 64.1%,#d6b720 66.7%,#96d761 69.2%,#777866 71.8%,#6d795f 74.4%,#83a778 76.9%,#c4c836 79.5%,#f89900 82.1%,#f75d00 84.6%,#f74900 87.2%,#fa6500 89.7%,#fd9f00 92.3%,#dcd423 94.9%,#85ef7a 97.4%,#508baf)"></i><i style="left:555px;background:linear-gradient(#74787c,#77827e 5.13%,#bc893e 30.8%,#c18a39 35.9%,#e4861a 41%,#e57c14 46.2%,#e0881a 53.8%,#eb8114 56.4%,#f05003 61.5%,#f34d01 64.1%,#f95d04 66.7%,#f1900e 69.2%,#d8a824 71.8%,#cab130 74.4%,#e1b11e 76.9%,#f89007 79.5%,#ff5b00 82.1%,#ff3800 84.6%,#ff3500 87.2%,#fe5f01 89.7%,#eee111 94.9%,#bafe45 97.4%,#75f48a)"></i><i style="left:556px;background:linear-gradient(#745255,#764b7f 10.3%,#7c9279 33.3%,#849771 35.9%,#998b5b 43.6%,#ac8749 46.2%,#b84 48.7%,#ab8e4a 56.4%,#c0833b 59%,#db8723 61.5%,#e78917 64.1%,#e3911c 66.7%,#b2a944 71.8%,#a9b24c 74.4%,#bcaf43 76.9%,#ddaf22 79.5%,#f28d0d 82.1%,#f77608 84.6%,#f4820b 87.2%,#dfb220 89.7%,#b7bf47 92.3%,#9cdd5c 94.9%,#91f06e 97.4%,#8dfc72)"></i><i style="left:557px;background:linear-gradient(#171183,#17108d 20.5%,#1a1c8a 43.6%,#1f1b90 46.2%,#2326dc 48.7%,#2422db 51.3%,#221a82 53.8%,#211a82 56.4%,#251abb 59%,#2a99d5 61.5%,#2dd6d2 64.1%,#2bc1d4 66.7%,#2760d8 69.2%,#222087 71.8%,#222182 74.4%,#263bd9 76.9%,#2cddd3 79.5%,#87e778 82.1%,#b3e34c 84.6%,#9be564 87.2%,#2de9d2 89.7%,#2633cf 92.3%,#2227a4 94.9%,#2172de 97.4%,#22dedd)"></i><i style="left:558px;background:linear-gradient(#7b604a,#7d4d48 10.3%,#7c3f75 20.5%,#7c5375 28.2%,#7c7a75 35.9%,#7d8674 43.6%,#977b5b 46.2%,#ad714d 48.7%,#b36a46 51.3%,#ac6a42 53.8%,#a96d45 56.4%,#b86d3e 59%,#ce7c2d 61.5%,#da8722 64.1%,#d48f29 66.7%,#c3923c 69.2%,#b39243 71.8%,#b49040 74.4%,#c88936 76.9%,#e48d19 79.5%,#ee6c0d 82.1%,#ef5d08 84.6%,#ed620b 87.2%,#e48a17 89.7%,#d18d2c 92.3%,#c3a036 94.9%,#cad135)"></i><i style="left:559px;background:linear-gradient(#bc7a24,#cf7c12 7.69%,#cb6617 23.1%,#d0470d 30.8%,#c75c17 38.5%,#c75917 43.6%,#cb2706 48.7%,#c21305 51.3%,#b81006 53.8%,#bd1106 56.4%,#cd1405 59%,#d72a02 61.5%,#e0600d 66.7%,#e86f0c 69.2%,#ec6f12 71.8%,#f0650d 74.4%,#f34803 76.9%,#ed2700 79.5%,#dd1000 82.1%,#c90a00 84.6%,#c20900 87.2%,#f51302 92.3%,#fb3c04 94.9%,#fb9c04)"></i><i style="left:560px;background:linear-gradient(#86615f,#866046 2.56%,#876374 5.13%,#88a774 7.69%,#8dc16f 10.3%,#89c073 12.8%,#889974 15.4%,#885b62 17.9%,#885b53 20.5%,#889b74 23.1%,#aabb52 25.6%,#cfb62c 28.2%,#deb01d 30.8%,#d2b129 33.3%,#a4b957 35.9%,#878074 38.5%,#886245 41%,#899373 43.6%,#c5b335 46.2%,#f28908 48.7%,#f35206 51.3%,#f43904 53.8%,#f43d04 56.4%,#f45c06 59%,#f49707 61.5%,#cdc92f 64.1%,#8eb96f 66.7%,#84874c 69.2%,#869179 71.8%,#b2e84d 74.4%,#f6d008 76.9%,#f68807 79.5%,#f74d04 82.1%,#f82201 84.6%,#ee1300 87.2%,#f61a00 89.7%,#fd3701 92.3%,#f6b009 97.4%,#e7ea18)"></i><i style="left:561px;background:linear-gradient(#746260,#746480 7.69%,#747581 12.8%,#747f7d 20.5%,#748c81 23.1%,#7ea477 30.8%,#74b381 38.5%,#7bb275 41%,#7fb576 43.6%,#8ab46b 46.2%,#b39645 51.3%,#c48f38 53.8%,#c39237 56.4%,#a6b24f 61.5%,#a3cd5b 66.7%,#a7d153 69.2%,#a3da5b 74.4%,#acc14b 79.5%,#e1a91e 84.6%,#ec9712 87.2%,#ee9f11 89.7%,#e1ba1e 92.3%,#bfce40 94.9%,#93e167 97.4%,#5be79b)"></i><i style="left:562px;background:linear-gradient(#0b0e90,#0c1893 17.9%,#191c89 48.7%,#1c1ea6 51.3%,#1e3bc2 53.8%,#1e37b8 56.4%,#1d1f9b 59%,#1b2088 61.5%,#1b24a5 64.1%,#1c48e1 66.7%,#1d76e2 69.2%,#1d70e2 71.8%,#1c42d8 74.4%,#1b27a4 76.9%,#1c259c 79.5%,#1f4fb3 82.1%,#27c8d8 84.6%,#58f2a7 87.2%,#63f49c 89.7%,#3ae8c5 92.3%,#1d81e2 94.9%,#152bbc 97.4%,#0e28a0)"></i><i style="left:563px;background:linear-gradient(#1731b0,#186db0 17.9%,#5b6a6c 38.5%,#656976 41%,#6a6977 43.6%,#6c696b 46.2%,#716971 48.7%,#7c807c 51.3%,#7e9c7c 53.8%,#7f9a7b 56.4%,#808578 59%,#808075 61.5%,#80b87f 66.7%,#85c37a 69.2%,#80be7e 74.4%,#80a678 79.5%,#80bf7a 82.1%,#98d467 84.6%,#bdcd42 87.2%,#c2d23d 89.7%,#a8e257 92.3%,#74e48b 94.9%,#5eb59c 97.4%,#55b3a1)"></i><i style="left:564px;background:linear-gradient(#d14824,#d7361e 28.2%,#e21a17 43.6%,#e21718 48.7%,#dd1e18 53.8%,#e82017 59%,#e93216 69.2%,#e86017 82.1%,#f0590f 87.2%,#f0690f 89.7%,#e6ac19 94.9%,#e0e21f)"></i><i style="left:565px;background:linear-gradient(#1721b0,#1759b0 15.4%,#1b6dac 23.1%,#5a696e 41%,#736e82 51.3%,#809175 59%,#80c977 82.1%,#8fcc6b 89.7%,#8bd76f 92.3%,#77df81 94.9%,#61df99)"></i><i style="left:566px;background:linear-gradient(#000394,#0b148e 76.9%,#0d19ba 89.7%,#0b17b2 94.9%,#0817bf)"></i><i style="left:567px;background:linear-gradient(#00008f,#000094)"></i><i style="left:568px;background:linear-gradient(#00008f,#000595)"></i><i style="left:569px;background:linear-gradient(#000093,#0b118e 64.1%,#0b12a0 69.2%,#0c14a8 84.6%,#0e13b8 87.2%,#102eb7 92.3%,#103ab7 97.4%,#1044be)"></i><i style="left:570px;background:linear-gradient(#1202a6,#1204b0 2.56%,#1169af 25.6%,#596965 41%,#706978 48.7%,#747077 51.3%,#759f76 66.7%,#7cb277 79.5%,#86b470 84.6%,#a6aa52 92.3%,#acbc4e)"></i><i style="left:571px;background:linear-gradient(#a91c1b,#a71218 15.4%,#9d1e1d 25.6%,#9a1318 30.8%,#961218 35.9%,#961b14 38.5%,#99170a 43.6%,#8f1a17 51.3%,#901312 53.8%,#911317 56.4%,#941d12 59%,#92140b 69.2%,#9e170b 74.4%,#c42413 79.5%,#e01d11 84.6%,#df2511 87.2%,#e42008 89.7%,#e51607 94.9%,#f62a07)"></i><i style="left:572px;background:linear-gradient(#6b7861,#7c7750 5.13%,#85766e 7.69%,#8c7b6d 10.3%,#907542 12.8%,#906b3b 17.9%,#907769 20.5%,#90a869 23.1%,#90af69 25.6%,#8f9069 28.2%,#8f4e54 30.8%,#8f4e3b 33.3%,#8e4669 35.9%,#a19955 38.5%,#e18414 41%,#f46b00 43.6%,#f26800 46.2%,#da7e19 48.7%,#8b8669 51.3%,#8d373b 53.8%,#8d3869 56.4%,#bd8638 59%,#f56400 61.5%,#e83b00 64.1%,#de2300 66.7%,#da1800 69.2%,#de1b00 71.8%,#eb2f00 74.4%,#f76d00 76.9%,#b8a043 79.5%,#945b3e 82.1%,#95623b 84.6%,#b4af49 87.2%,#fd8300 89.7%,#fc3c00 92.3%,#fb1c00 94.9%,#fb1900 97.4%,#ff2a00)"></i><i style="left:573px;background:linear-gradient(#d69a24,#ea9810 5.13%,#e68b14 15.4%,#f37f0c 20.5%,#f4720b 28.2%,#f3720a 30.8%,#ec7b0e 33.3%,#e87817 35.9%,#ef6d10 38.5%,#fb4902 41%,#f02d00 43.6%,#e82200 46.2%,#e42c03 48.7%,#e4400b 51.3%,#f14f06 53.8%,#f4660b 56.4%,#f97306 59%,#fa6505 61.5%,#ee520f 64.1%,#fc2c00 69.2%,#fd1600 71.8%,#f91a00 74.4%,#f07407 82.1%,#f08206 84.6%,#f57508 87.2%,#ff3900 92.3%,#ff3700 94.9%,#ff5100 97.4%,#fe8901)"></i><i style="left:574px;background:linear-gradient(#6de591,#a7e556 2.56%,#cce431 5.13%,#cde431 7.69%,#81e27c 12.8%,#82e27c 15.4%,#fbd902 20.5%,#fdac00 23.1%,#fd9e00 25.6%,#fdb200 28.2%,#f5d807 30.8%,#b5de48 33.3%,#90de6d 35.9%,#c4dc39 38.5%,#fcab00 41%,#fa4c00 43.6%,#f71000 46.2%,#ec0400 48.7%,#f20d00 51.3%,#fa2e00 53.8%,#fc6800 56.4%,#feb100 59%,#cedc31 61.5%,#72db8d 64.1%,#90d86f 66.7%,#febb00 69.2%,#fc4b00 71.8%,#f80c00 74.4%,#e20400 76.9%,#d70800 79.5%,#da0d00 82.1%,#e80f00 87.2%,#f90e00 89.7%,#ff1a00 92.3%,#ff3f00 94.9%,#ff8200 97.4%,#faeb05)"></i><i style="left:575px;background:linear-gradient(#ce5820,#d65116 5.13%,#cd4d25 12.8%,#d74217 20.5%,#d34818 30.8%,#cd4123 35.9%,#d23f1d 38.5%,#d13a16 41%,#d0240b 43.6%,#be1701 48.7%,#cd1b0a 53.8%,#d02f16 56.4%,#e64f19 61.5%,#e85117 64.1%,#f3440c 66.7%,#fa2800 69.2%,#e61600 71.8%,#d60e00 74.4%,#d10f00 76.9%,#db2105 82.1%,#d92f11 84.6%,#dc3413 87.2%,#e84115 89.7%,#fe5901 94.9%,#ff7100 97.4%,#fea301)"></i><i style="left:576px;background:linear-gradient(#2d1991,#2d1796 5.13%,#2c16a9 7.69%,#2c28ce 10.3%,#2c4fd1 12.8%,#2c55d1 15.4%,#2c3ed1 17.9%,#2c35d1 20.5%,#2c62d1 23.1%,#2ca5d1 25.6%,#2ccfd1 28.2%,#2ee1cf 30.8%,#2cc6d1 33.3%,#2c8cd1 35.9%,#2c88d1 38.5%,#33dac9 41%,#93de68 43.6%,#d6dc23 46.2%,#ecd60c 48.7%,#e1da18 51.3%,#a0da5b 53.8%,#38d5c4 56.4%,#2da4d1 59%,#4ddeb2 61.5%,#bdde42 64.1%,#ffd200 66.7%,#fea100 69.2%,#fc8b00 71.8%,#fb8900 74.4%,#fa9a00 76.9%,#fbc000 79.5%,#d1e12b 82.1%,#65d697 84.6%,#3380b3 87.2%,#3ca7c3 89.7%,#9ce863 92.3%,#f9dd06 94.9%,#ffb000 97.4%,#ffa800)"></i><i style="left:577px;background:linear-gradient(#d1ad27,#d1a029 7.69%,#d5a92a 15.4%,#d39d2c 23.1%,#d5a82a 28.2%,#e4901b 35.9%,#dc9f23 41%,#f87d07 51.3%,#e87817 59%,#ff8000 66.7%,#f98806 69.2%,#e9a316 74.4%,#fad005 82.1%,#ebd914 84.6%,#d8cc24 87.2%,#dccc23 89.7%,#f4c20b 92.3%,#fea301 94.9%,#ff9000 97.4%,#f90)"></i><i style="left:578px;background:linear-gradient(#2e9ad1,#2e98d1 2.56%,#2e7cd1 5.13%,#2e76cf 7.69%,#2ea6d1 10.3%,#43d0bc 12.8%,#51e6ae 15.4%,#52e2ad 17.9%,#3ca4c3 23.1%,#3fa7c0 25.6%,#55d7aa 28.2%,#95e86a 30.8%,#cde632 33.3%,#dde522 35.9%,#c6e639 38.5%,#8ee771 41%,#58cda7 43.6%,#4aadb5 46.2%,#68e097 48.7%,#dbdf24 51.3%,#ffb300 53.8%,#ff8d00 56.4%,#ff8300 59%,#ff8b00 61.5%,#ffa000 64.1%,#ffcb00 66.7%,#cbe734 69.2%,#53e0ac 71.8%,#3396cc 74.4%,#54d3ab 76.9%,#bded42 79.5%,#fbda04 82.1%,#ffb600 84.6%,#fda202 87.2%,#ff8400 94.9%,#ff8300 97.4%,#f90)"></i><i style="left:579px;background:linear-gradient(#d19a24,#d18b24 7.69%,#d58c26 15.4%,#d37c28 25.6%,#d58129 28.2%,#e37b1c 33.3%,#e2731d 38.5%,#d57e2a 46.2%,#e0741f 48.7%,#f25e0d 51.3%,#f74d08 53.8%,#f34b0c 56.4%,#e85e17 61.5%,#eb8714 66.7%,#f1900e 69.2%,#e99a16 71.8%,#ec9a13 76.9%,#fd8c02 82.1%,#f89007 84.6%,#e8b117 89.7%,#e6b614 92.3%,#e8bc17 94.9%,#f8bd07)"></i><i style="left:580px;background:linear-gradient(#2a2179,#2c1f7e 10.3%,#2c1e90 12.8%,#2d1fad 15.4%,#2d2bbb 17.9%,#2e24a4 23.1%,#2e2ba9 25.6%,#2e43cf 28.2%,#2e8dd1 30.8%,#2eb9d1 33.3%,#2eb0d1 35.9%,#2e74d1 38.5%,#2e4ac1 41%,#2e6fd1 43.6%,#35d6ca 46.2%,#7ee381 48.7%,#afe050 51.3%,#b6df49 53.8%,#91e16e 56.4%,#4dd2b2 59%,#2e78d1 61.5%,#2e80d1 64.1%,#4de8b2 66.7%,#b3e84c 69.2%,#e6e919 71.8%,#fae905 74.4%,#fde302 79.5%,#f4ea0b 82.1%,#c2ed3d 84.6%,#5ff2a0 87.2%,#2b81d4 89.7%,#2860a9 92.3%,#27bfd8 94.9%,#6ff990 97.4%,#b7f948)"></i><i style="left:581px;background:linear-gradient(#b2a93e,#d6a520 25.6%,#d89d22 38.5%,#dd9222 46.2%,#ea7b15 51.3%,#ea7e13 53.8%,#dea821 59%,#dcb123 61.5%,#e5a51a 66.7%,#ef9610 69.2%,#f1980e 71.8%,#f1a70e 79.5%,#f2c30d 84.6%,#e9dd16 87.2%,#c7e138 89.7%,#a2f95d 94.9%,#b2fd4d)"></i><i style="left:582px;background:linear-gradient(#1477b8,#1685b6 5.13%,#4f847e 28.2%,#618270 33.3%,#688367 41%,#779888 43.6%,#85c37a 46.2%,#8bc974 48.7%,#87ab78 51.3%,#7d7e6f 53.8%,#76805e 56.4%,#7ba484 59%,#88e977 61.5%,#a9ea56 64.1%,#bbe044 66.7%,#b3e14c 69.2%,#8cee73 71.8%,#7dac82 74.4%,#718278 76.9%,#75a38a 79.5%,#84f57b 82.1%,#c2f13d 84.6%,#deee21 87.2%,#dff720 89.7%,#cdfc32 92.3%,#acfe53 94.9%,#7dff82 97.4%,#4eb)"></i><i style="left:583px;background:linear-gradient(#1981b3,#6a7e62 30.8%,#727d69 33.3%,#747d58 35.9%,#767c56 38.5%,#7e7c64 41%,#899b76 43.6%,#8ab975 46.2%,#8bbe74 48.7%,#8ba674 51.3%,#897773 53.8%,#89786a 56.4%,#89a876 59%,#90d46f 61.5%,#b4c94b 64.1%,#c4c53b 66.7%,#bc4 69.2%,#94de6b 71.8%,#89b576 74.4%,#7d807b 76.9%,#83b07c 79.5%,#97ea68 82.1%,#ccd933 84.6%,#e8cf17 87.2%,#edd412 89.7%,#e6de19 92.3%,#d4ed2b 94.9%,#acfc53 97.4%,#5cfba3)"></i><i style="left:584px;background:linear-gradient(#d1921f,#de511c 48.7%,#e05a1b 59%,#e95616 66.7%,#e2821d 74.4%,#e2921d 79.5%,#ed8812 87.2%,#eea711 92.3%,#e6e319 97.4%,#c7f838)"></i><i style="left:585px;background:linear-gradient(#170f83,#170d83 10.3%,#170cae 20.5%,#1725b0 28.2%,#176bb0 43.6%,#306f97 53.8%,#426f9c 61.5%,#4b70aa 64.1%,#5383a2 66.7%,#5282a3 69.2%,#4b77aa 71.8%,#4779ae 74.4%,#509da5 79.5%,#5ca399 87.2%,#5dc29a 92.3%,#58c9a1 94.9%,#4bc1ad 97.4%,#34acc1)"></i><i style="left:586px;background:linear-gradient(#00008f,#061098 79.5%,#081193 87.2%,#081295 89.7%,#0717c0 94.9%,#0615b3 97.4%,#03109a)"></i><i style="left:587px;background:linear-gradient(#050b90,#0a158f 64.1%,#0a169e 66.7%,#091591 74.4%,#0917bd 79.5%,#0917bd 82.1%,#07169a 87.2%,#0716ad 89.7%,#0624c4 92.3%,#0532d0 94.9%,#0213b8)"></i><i style="left:588px;background:linear-gradient(#367591,#4c7b7c 20.5%,#567d97 30.8%,#59819c 33.3%,#6ab18b 46.2%,#70cc85 56.4%,#6dd088 61.5%,#6de18a 66.7%,#61da94 74.4%,#61e899 79.5%,#4edca8 87.2%,#3ae9c1 94.9%,#2bddcf 97.4%,#16c6e2)"></i><i style="left:589px;background:linear-gradient(#678189,#6eaa82 15.4%,#72d583 35.9%,#92d264 51.3%,#9de65d 69.2%,#8bec6f 82.1%,#7cec7e 87.2%,#52eca8 94.9%,#1fe3db)"></i><i style="left:590px;background:linear-gradient(#0b0d8f,#0e158b 48.7%,#1016b6 61.5%,#1029b7 69.2%,#0d44ba 87.2%,#0840bf 94.9%,#0333c4)"></i><i style="left:591px;background:linear-gradient(#00008f,#000394)"></i></div>
<svg width="1525" height="854" viewBox="0 0 1525 854" style="position:absolute;left:0;top:0;font-family:'Liberation Sans',Arial,sans-serif;font-size:12.6px" fill="#0c0c0c">
<rect x="43.3" y="46.45" width="602.35" height="204.50" fill="none" stroke="#b8b8b8" stroke-width="1.25"/>
<path d="M118.59 46.95v5.3M118.59 250.45v-5.3M193.89 46.95v5.3M193.89 250.45v-5.3M269.18 46.95v5.3M269.18 250.45v-5.3M344.48 46.95v5.3M344.48 250.45v-5.3M419.77 46.95v5.3M419.77 250.45v-5.3M495.06 46.95v5.3M495.06 250.45v-5.3M570.36 46.95v5.3M570.36 250.45v-5.3M43.80 80.53h5.3M645.15 80.53h-5.3M43.80 114.62h5.3M645.15 114.62h-5.3M43.80 148.70h5.3M645.15 148.70h-5.3M43.80 182.78h5.3M645.15 182.78h-5.3M43.80 216.87h5.3M645.15 216.87h-5.3" stroke="#8a8a8a" stroke-width="1" fill="none"/>
<text x="43.00" y="265.65" text-anchor="middle" textLength="30.7" lengthAdjust="spacingAndGlyphs">00:00</text>
<text x="118.29" y="265.65" text-anchor="middle" textLength="30.7" lengthAdjust="spacingAndGlyphs">03:00</text>
<text x="193.59" y="265.65" text-anchor="middle" textLength="30.7" lengthAdjust="spacingAndGlyphs">06:00</text>
<text x="268.88" y="265.65" text-anchor="middle" textLength="30.7" lengthAdjust="spacingAndGlyphs">09:00</text>
<text x="344.18" y="265.65" text-anchor="middle" textLength="30.7" lengthAdjust="spacingAndGlyphs">12:00</text>
<text x="419.47" y="265.65" text-anchor="middle" textLength="30.7" lengthAdjust="spacingAndGlyphs">15:00</text>
<text x="494.76" y="265.65" text-anchor="middle" textLength="30.7" lengthAdjust="spacingAndGlyphs">18:00</text>
<text x="570.06" y="265.65" text-anchor="middle" textLength="30.7" lengthAdjust="spacingAndGlyphs">21:00</text>
<text x="645.35" y="265.65" text-anchor="middle" textLength="30.7" lengthAdjust="spacingAndGlyphs">00:00</text>
<text x="39.20" y="50.65" text-anchor="end">2</text>
<text x="39.20" y="84.73" text-anchor="end">1.5</text>
<text x="39.20" y="118.82" text-anchor="end">1</text>
<text x="39.20" y="152.90" text-anchor="end">0.5</text>
<text x="39.20" y="186.98" text-anchor="end">0</text>
<text x="39.20" y="221.07" text-anchor="end">-0.5</text>
<text x="39.20" y="255.15" text-anchor="end">-1</text>
<text x="8.80" y="148.70" text-anchor="middle" font-weight="bold" transform="rotate(-90 8.80 148.70)">X (nT)</text>
<rect x="43.3" y="331.25" width="602.35" height="204.75" fill="none" stroke="#b8b8b8" stroke-width="1.25"/>
<path d="M118.59 331.75v5.3M118.59 535.50v-5.3M193.89 331.75v5.3M193.89 535.50v-5.3M269.18 331.75v5.3M269.18 535.50v-5.3M344.48 331.75v5.3M344.48 535.50v-5.3M419.77 331.75v5.3M419.77 535.50v-5.3M495.06 331.75v5.3M495.06 535.50v-5.3M570.36 331.75v5.3M570.36 535.50v-5.3M43.80 382.44h5.3M645.15 382.44h-5.3M43.80 433.62h5.3M645.15 433.62h-5.3M43.80 484.81h5.3M645.15 484.81h-5.3" stroke="#8a8a8a" stroke-width="1" fill="none"/>
<text x="43.00" y="550.70" text-anchor="middle" textLength="30.7" lengthAdjust="spacingAndGlyphs">00:00</text>
<text x="118.29" y="550.70" text-anchor="middle" textLength="30.7" lengthAdjust="spacingAndGlyphs">03:00</text>
<text x="193.59" y="550.70" text-anchor="middle" textLength="30.7" lengthAdjust="spacingAndGlyphs">06:00</text>
<text x="268.88" y="550.70" text-anchor="middle" textLength="30.7" lengthAdjust="spacingAndGlyphs">09:00</text>
<text x="344.18" y="550.70" text-anchor="middle" textLength="30.7" lengthAdjust="spacingAndGlyphs">12:00</text>
<text x="419.47" y="550.70" text-anchor="middle" textLength="30.7" lengthAdjust="spacingAndGlyphs">15:00</text>
<text x="494.76" y="550.70" text-anchor="middle" textLength="30.7" lengthAdjust="spacingAndGlyphs">18:00</text>
<text x="570.06" y="550.70" text-anchor="middle" textLength="30.7" lengthAdjust="spacingAndGlyphs">21:00</text>
<text x="645.35" y="550.70" text-anchor="middle" textLength="30.7" lengthAdjust="spacingAndGlyphs">00:00</text>
<text x="39.20" y="335.45" text-anchor="end">1.5</text>
<text x="39.20" y="386.64" text-anchor="end">1</text>
<text x="39.20" y="437.82" text-anchor="end">0.5</text>
<text x="39.20" y="489.01" text-anchor="end">0</text>
<text x="39.20" y="540.20" text-anchor="end">-0.5</text>
<text x="8.70" y="433.62" text-anchor="middle" font-weight="bold" transform="rotate(-90 8.70 433.62)">Y (nT)</text>
<rect x="43.3" y="616.25" width="602.35" height="204.90" fill="none" stroke="#b8b8b8" stroke-width="1.25"/>
<path d="M118.59 616.75v5.3M118.59 820.65v-5.3M193.89 616.75v5.3M193.89 820.65v-5.3M269.18 616.75v5.3M269.18 820.65v-5.3M344.48 616.75v5.3M344.48 820.65v-5.3M419.77 616.75v5.3M419.77 820.65v-5.3M495.06 616.75v5.3M495.06 820.65v-5.3M570.36 616.75v5.3M570.36 820.65v-5.3M43.80 650.40h5.3M645.15 650.40h-5.3M43.80 684.55h5.3M645.15 684.55h-5.3M43.80 718.70h5.3M645.15 718.70h-5.3M43.80 752.85h5.3M645.15 752.85h-5.3M43.80 787.00h5.3M645.15 787.00h-5.3" stroke="#8a8a8a" stroke-width="1" fill="none"/>
<text x="43.00" y="835.85" text-anchor="middle" textLength="30.7" lengthAdjust="spacingAndGlyphs">00:00</text>
<text x="118.29" y="835.85" text-anchor="middle" textLength="30.7" lengthAdjust="spacingAndGlyphs">03:00</text>
<text x="193.59" y="835.85" text-anchor="middle" textLength="30.7" lengthAdjust="spacingAndGlyphs">06:00</text>
<text x="268.88" y="835.85" text-anchor="middle" textLength="30.7" lengthAdjust="spacingAndGlyphs">09:00</text>
<text x="344.18" y="835.85" text-anchor="middle" textLength="30.7" lengthAdjust="spacingAndGlyphs">12:00</text>
<text x="419.47" y="835.85" text-anchor="middle" textLength="30.7" lengthAdjust="spacingAndGlyphs">15:00</text>
<text x="494.76" y="835.85" text-anchor="middle" textLength="30.7" lengthAdjust="spacingAndGlyphs">18:00</text>
<text x="570.06" y="835.85" text-anchor="middle" textLength="30.7" lengthAdjust="spacingAndGlyphs">21:00</text>
<text x="645.35" y="835.85" text-anchor="middle" textLength="30.7" lengthAdjust="spacingAndGlyphs">00:00</text>
<text x="39.20" y="620.15" text-anchor="end">10</text>
<text x="39.20" y="654.30" text-anchor="end">8</text>
<text x="39.20" y="688.45" text-anchor="end">6</text>
<text x="39.20" y="722.60" text-anchor="end">4</text>
<text x="39.20" y="756.75" text-anchor="end">2</text>
<text x="39.20" y="790.90" text-anchor="end">0</text>
<text x="39.20" y="825.05" text-anchor="end">-2</text>
<text x="16.00" y="718.70" text-anchor="middle" font-weight="bold" transform="rotate(-90 16.00 718.70)">Z (nT)</text>
<path transform="matrix(0.5 0 0 0.1 43.3 46.45)" d="M0 1347L1 1347 2 1344 3 1355 4 1339 5 1336 6 1318 7 1328 8 1323 9 1328 10 1343 11 1349 12 1339 13 1349 14 1344 15 1333 16 1347 17 1346 18 1328 19 1325 20 1322 21 1330 22 1329 23 1312 24 1318 25 1344 26 1342 27 1335 28 1344 29 1317 30 1333 31 1333 32 1333 33 1313 34 1326 35 1331 36 1352 37 1346 38 1340 39 1326 40 1336 41 1336 42 1323 43 1319 44 1332 45 1334 46 1318 47 1317 48 1314 49 1322 50 1337 51 1357 52 1362 53 1341 54 1342 55 1326 56 1327 57 1324 58 1333 59 1339 60 1327 61 1328 62 1327 63 1329 64 1321 65 1332 66 1345 67 1326 68 1338 69 1341 70 1341 71 1348 72 1344 73 1361 74 1357 75 1340 76 1326 77 1329 78 1324 79 1324 80 1338 81 1342 82 1329 83 1319 84 1301 85 1314 86 1317 87 1327 88 1319 89 1330 90 1337 91 1319 92 1340 93 1347 94 1339 95 1366 96 1367 97 1364 98 1361 99 1358 100 1349 101 1322 102 1331 103 1351 104 1349 105 1305 106 1312 107 1332 108 1330 109 1341 110 1328 111 1327 112 1330 113 1317 114 1329 115 1341 116 1353 117 1362 118 1355 119 1331 120 1328 121 1318 122 1344 123 1343 124 1338 125 1326 126 1356 127 1342 128 1352 129 1345 130 1333 131 1349 132 1369 133 1340 134 1327 135 1325 136 1336 137 1337 138 1344 139 1333 140 1331 141 1319 142 1341 143 1332 144 1319 145 1338 146 1327 147 1346 148 1346 149 1355 150 1339 151 1284 152 1316 153 1322 154 1327 155 1331 156 1352 157 1345 158 1348 159 1336 160 1355 161 1353 162 1348 163 1343 164 1364 165 1351 166 1339 167 1333 168 1312 169 1329 170 1322 171 1328 172 1337 173 1337 174 1328 175 1340 176 1336 177 1338 178 1342 179 1328 180 1332 181 1332 182 1340 183 1323 184 1331 185 1324 186 1314 187 1296 188 1312 189 1339 190 1350 191 1321 192 1343 193 1307 194 1334 195 1318 196 1310 197 1320 198 1310 199 1328 200 1331 201 1323 202 1315 203 1333 204 1321 205 1317 206 1338 207 1351 208 1328 209 1345 210 1345 211 1336 212 1349 213 1338 214 1336 215 1341 216 1328 217 1330 218 1348 219 1322 220 1315 221 1319 222 1330 223 1328 224 1317 225 1344 226 1347 227 1331 228 1324 229 1343 230 1315 231 1345 232 1350 233 1341 234 1325 235 1358 236 1341 237 1352 238 1339 239 1326 240 1322 241 1308 242 1322 243 1330 244 1328 245 1340 246 1328 247 1327 248 1331 249 1330 250 1327 251 1353 252 1322 253 1338 254 1319 255 1317 256 1321 257 1324 258 1337 259 1350 260 1362 261 1348 262 1313 263 1325 264 1297 265 1305 266 1317 267 1329 268 1336 269 1339 270 1333 271 1337 272 1354 273 1362 274 1373 275 1361 276 1334 277 1304 278 1317 279 1333 280 1337 281 1329 282 1337 283 1347 284 1321 285 1350 286 1360 287 1361 288 1336 289 1338 290 1325 291 1324 292 1310 293 1329 294 1333 295 1329 296 1314 297 1308 298 1319 299 1325 300 1328 301 1318 302 1317 303 1341 304 1349 305 1315 306 1309 307 1334 308 1337 309 1333 310 1312 311 1329 312 1299 313 1310 314 1350 315 1336 316 1330 317 1346 318 1345 319 1359 320 1364 321 1340 322 1332 323 1338 324 1325 325 1345 326 1339 327 1336 328 1334 329 1315 330 1329 331 1328 332 1338 333 1326 334 1338 335 1353 336 1325 337 1310 338 1311 339 1314 340 1329 341 1344 342 1339 343 1340 344 1340 345 1354 346 1322 347 1329 348 1321 349 1312 350 1317 351 1326 352 1339 353 1324 354 1338 355 1354 356 1322 357 1343 358 1333 359 1330 360 1354 361 1351 362 1342 363 1351 364 1341 365 1310 366 1347 367 1350 368 1344 369 1317 370 1318 371 1336 372 1318 373 1322 374 1324 375 1326 376 1325 377 1346 378 1350 379 1328 380 1315 381 1330 382 1329 383 1343 384 1340 385 1340 386 1338 387 1343 388 1348 389 1326 390 1323 391 1311 392 1330 393 1329 394 1315 395 1321 396 1335 397 1349 398 1349 399 1346 400 1335 401 1315 402 1331 403 1336 404 1311 405 1331 406 1332 407 1334 408 1348 409 1349 410 1345 411 1341 412 1333 413 1333 414 1307 415 1330 416 1325 417 1343 418 1335 419 1316 420 1324 421 1311 422 1307 423 1317 424 1310 425 1320 426 1326 427 1328 428 1342 429 1339 430 1323 431 1336 432 1322 433 1342 434 1319 435 1333 436 1311 437 1312 438 1332 439 1327 440 1342 441 1338 442 1316 443 1351 444 1359 445 1336 446 1330 447 1330 448 1342 449 1349 450 1349 451 1348 452 1348 453 1354 454 1345 455 1348 456 1334 457 1323 458 1313 459 1293 460 1297 461 1311 462 1317 463 1331 464 1318 465 1339 466 1343 467 1334 468 1328 469 1334 470 1334 471 1347 472 1325 473 1330 474 1322 475 1310 476 1312 477 1315 478 1328 479 1319 480 1330 481 1310 482 1304 483 1316 484 1332 485 1330 486 1316 487 1297 488 1330 489 1340 490 1348 491 1332 492 1344 493 1344 494 1334 495 1326 496 1349 497 1319 498 1334 499 1348 500 1336 501 1329 502 1335 503 1298 504 1319 505 1315 506 1299 507 1318 508 1331 509 1337 510 1345 511 1347 512 1328 513 1338 514 1334 515 1323 516 1324 517 1287 518 1317 519 1322 520 1339 521 1312 522 1327 523 1331 524 1355 525 1332 526 1324 527 1349 528 1298 529 1326 530 1303 531 1317 532 1337 533 1341 534 1337 535 1350 536 1346 537 1330 538 1319 539 1327 540 1315 541 1312 542 1340 543 1358 544 1348 545 1356 546 1324 547 1347 548 1345 549 1341 550 1348 551 1340 552 1359 553 1367 554 1342 555 1330 556 1352 557 1334 558 1338 559 1339 560 1340 561 1339 562 1306 563 1346 564 1320 565 1328 566 1312 567 1303 568 1293 569 1308 570 1315 571 1338 572 1345 573 1355 574 1332 575 1324 576 1334 577 1358 578 1338 579 1338 580 1326 581 1340 582 1340 583 1348 584 1353 585 1332 586 1319 587 1327 588 1329 589 1315 590 1335 591 1312 592 1336 593 1341 594 1340 595 1321 596 1318 597 1324 598 1321 599 1339 600 1323 601 1314 602 1325 603 1328 604 1352 605 1306 606 1322 607 1321 608 1330 609 1309 610 1344 611 1337 612 1331 613 1317 614 1329 615 1326 616 1325 617 1329 618 1348 619 1365 620 1363 621 1344 622 1329 623 1363 624 1343 625 1354 626 1328 627 1336 628 1339 629 1332 630 1320 631 1329 632 1326 633 1335 634 1329 635 1321 636 1332 637 1338 638 1341 639 1364 640 1342 641 1340 642 1327 643 1373 644 1330 645 1349 646 1316 647 1309 648 1310 649 1317 650 1341 651 1322 652 1326 653 1317 654 1332 655 1327 656 1306 657 1330 658 1315 659 1329 660 1329 661 1341 662 1321 663 1310 664 1323 665 1335 666 1342 667 1332 668 1354 669 1355 670 1348 671 1351 672 1314 673 1340 674 1352 675 1347 676 1334 677 1355 678 1346 679 1346 680 1363 681 1361 682 1347 683 1338 684 1345 685 1327 686 1336 687 1338 688 1355 689 1346 690 1337 691 1316 692 1310 693 1328 694 1311 695 1298 696 1320 697 1332 698 1330 699 1340 700 1347 701 1336 702 1335 703 1323 704 1314 705 1328 706 1320 707 1331 708 1327 709 1314 710 1330 711 1347 712 1340 713 1332 714 1355 715 1347 716 1345 717 1363 718 1338 719 1354 720 1345 721 1341 722 1324 723 1346 724 1343 725 1327 726 1340 727 1331 728 1332 729 1346 730 1322 731 1326 732 1291 733 1317 734 1322 735 1345 736 1368 737 1341 738 1367 739 1371 740 1344 741 1360 742 1353 743 1343 744 1343 745 1347 746 1332 747 1337 748 1322 749 1320 750 1322 751 1339 752 1331 753 1357 754 1347 755 1330 756 1321 757 1312 758 1318 759 1320 760 1341 761 1355 762 1359 763 1348 764 1333 765 1354 766 1320 767 1311 768 1329 769 1335 770 1312 771 1338 772 1327 773 1326 774 1347 775 1330 776 1327 777 1335 778 1341 779 1306 780 1286 781 1315 782 1326 783 1320 784 1317 785 1338 786 1337 787 1321 788 1321 789 1316 790 1336 791 1348 792 1336 793 1325 794 1325 795 1317 796 1325 797 1339 798 1321 799 1336 800 1329 801 1339 802 1313 803 1324 804 1338 805 1323 806 1318 807 1320 808 1321 809 1307 810 1323 811 1300 812 1316 813 1325 814 1335 815 1334 816 1325 817 1327 818 1362 819 1330 820 1338 821 1336 822 1317 823 1329 824 1320 825 1325 826 1327 827 1338 828 1317 829 1321 830 1333 831 1317 832 1310 833 1305 834 1322 835 1321 836 1325 837 1342 838 1298 839 1335 840 1317 841 1348 842 1337 843 1346 844 1329 845 1337 846 1329 847 1322 848 1336 849 1331 850 1329 851 1328 852 1318 853 1342 854 1322 855 1314 856 1340 857 1341 858 1337 859 1351 860 1357 861 1324 862 1311 863 1302 864 1328 865 1326 866 1339 867 1354 868 1325 869 1343 870 1333 871 1322 872 1345 873 1337 874 1325 875 1335 876 1362 877 1329 878 1331 879 1321 880 1333 881 1327 882 1344 883 1285 884 1322 885 1320 886 1334 887 1292 888 1324 889 1280 890 1340 891 1329 892 1295 893 1317 894 1273 895 1261 896 1226 897 1230 898 1314 899 1298 900 1317 901 1336 902 1320 903 1332 904 1302 905 1337 906 1290 907 1307 908 1317 909 1274 910 1326 911 1329 912 1327 913 1318 914 1344 915 1365 916 1359 917 1322 918 1301 919 1274 920 1292 921 1315 922 1328 923 1341 924 1329 925 1342 926 1343 927 1345 928 1350 929 1352 930 1337 931 1339 932 1346 933 1347 934 1348 935 1353 936 1336 937 1314 938 1318 939 1337 940 1328 941 1287 942 1317 943 1308 944 1325 945 1328 946 1350 947 1336 948 1324 949 1337 950 1316 951 1338 952 1314 953 1332 954 1334 955 1346 956 1331 957 1331 958 1342 959 1333 960 1345 961 1312 962 1336 963 1305 964 1316 965 1339 966 1294 967 1312 968 1341 969 1349 970 1337 971 1335 972 1340 973 1326 974 1335 975 1336 976 1341 977 1351 978 1331 979 1342 980 1335 981 1322 982 1323 983 1328 984 1340 985 1333 986 1340 987 1334 988 1346 989 1349 990 1315 991 1320 992 1329 993 1336 994 1335 995 1329 996 1336 997 1316 998 1327 999 1307 1000 1329 1001 1322 1002 1337 1003 1349 1004 1336 1005 1309 1006 1302 1007 1299 1008 1331 1009 1330 1010 1339 1011 1338 1012 1343 1013 1339 1014 1314 1015 1330 1016 1312 1017 1311 1018 1326 1019 1319 1020 1346 1021 1319 1022 1340 1023 1311 1024 1313 1025 1308 1026 1316 1027 1320 1028 1319 1029 1329 1030 1340 1031 1335 1032 1323 1033 1315 1034 1304 1035 1332 1036 1325 1037 1336 1038 1336 1039 1323 1040 1336 1041 1326 1042 1324 1043 1314 1044 1330 1045 1321 1046 1333 1047 1313 1048 1324 1049 1325 1050 1321 1051 1329 1052 1330 1053 1326 1054 1331 1055 1350 1056 1316 1057 1328 1058 1328 1059 1313 1060 1313 1061 1320 1062 1337 1063 1311 1064 1335 1065 1306 1066 1305 1067 1330 1068 1325 1069 1355 1070 1332 1071 1331 1072 1336 1073 1326 1074 1330 1075 1312 1076 1300 1077 1315 1078 1323 1079 1317 1080 1314 1081 1311 1082 1333 1083 1347 1084 1338 1085 1348 1086 1315 1087 1313 1088 1313 1089 1317 1090 1339 1091 1319 1092 1341 1093 1315 1094 1320 1095 1337 1096 1332 1097 1303 1098 1362 1099 1359 1100 1347 1101 1325 1102 1334 1103 1305 1104 1321 1105 1308 1106 1320 1107 1327 1108 1316 1109 1317 1110 1316 1111 1322 1112 1305 1113 1314 1114 1341 1115 1335 1116 1317 1117 1332 1118 1332 1119 1306 1120 1333 1121 1325 1122 1329 1123 1332 1124 1313 1125 1290 1126 1303 1127 1320 1128 1315 1129 1305 1130 1317 1131 1314 1132 1327 1133 1323 1134 1339 1135 1339 1136 1327 1137 1325 1138 1341 1139 1307 1140 1305 1141 1308 1142 1337 1143 1331 1144 1336 1145 1349 1146 1324 1147 1341 1148 1344 1149 1345 1150 1330 1151 1341 1152 1329 1153 1336 1154 1338 1155 1348 1156 1326 1157 1319 1158 1310 1159 1323 1160 1337 1161 1313 1162 1324 1163 1318 1164 1317 1165 1318 1166 1348 1167 1331 1168 1316 1169 1324 1170 1304 1171 1322 1172 1327 1173 1317 1174 1311 1175 1334 1176 1333 1177 1349 1178 1345 1179 1332 1180 1349 1181 1356 1182 1334 1183 1345 1184 1341 1185 1334 1186 1308 1187 1322 1188 1337 1189 1338 1190 1331 1191 1329 1192 1320 1193 1344 1194 1336 1195 1355 1196 1337 1197 1363 1198 1345 1199 1330 1200 1318 1201 1320 1202 1316 1203 1326 1204 1308L1204 1396 1203 1394 1202 1416 1201 1397 1200 1400 1199 1407 1198 1404 1197 1424 1196 1429 1195 1413 1194 1405 1193 1422 1192 1414 1191 1421 1190 1417 1189 1444 1188 1412 1187 1397 1186 1384 1185 1415 1184 1425 1183 1423 1182 1410 1181 1423 1180 1430 1179 1413 1178 1387 1177 1416 1176 1392 1175 1398 1174 1372 1173 1399 1172 1388 1171 1395 1170 1375 1169 1388 1168 1412 1167 1395 1166 1377 1165 1358 1164 1383 1163 1378 1162 1388 1161 1375 1160 1386 1159 1380 1158 1367 1157 1379 1156 1385 1155 1389 1154 1405 1153 1395 1152 1387 1151 1409 1150 1405 1149 1410 1148 1408 1147 1426 1146 1409 1145 1387 1144 1399 1143 1410 1142 1385 1141 1404 1140 1379 1139 1367 1138 1389 1137 1388 1136 1385 1135 1394 1134 1401 1133 1389 1132 1383 1131 1371 1130 1380 1129 1378 1128 1405 1127 1423 1126 1400 1125 1384 1124 1389 1123 1373 1122 1384 1121 1392 1120 1371 1119 1391 1118 1414 1117 1394 1116 1390 1115 1388 1114 1387 1113 1380 1112 1381 1111 1421 1110 1403 1109 1385 1108 1378 1107 1405 1106 1380 1105 1406 1104 1397 1103 1403 1102 1408 1101 1406 1100 1429 1099 1393 1098 1424 1097 1382 1096 1382 1095 1377 1094 1386 1093 1396 1092 1417 1091 1401 1090 1397 1089 1398 1088 1387 1087 1407 1086 1415 1085 1421 1084 1401 1083 1400 1082 1389 1081 1390 1080 1382 1079 1384 1078 1386 1077 1373 1076 1400 1075 1383 1074 1403 1073 1401 1072 1407 1071 1404 1070 1403 1069 1413 1068 1420 1067 1408 1066 1405 1065 1425 1064 1410 1063 1395 1062 1395 1061 1369 1060 1374 1059 1392 1058 1414 1057 1390 1056 1379 1055 1388 1054 1371 1053 1396 1052 1390 1051 1419 1050 1407 1049 1381 1048 1389 1047 1400 1046 1376 1045 1380 1044 1375 1043 1384 1042 1383 1041 1365 1040 1362 1039 1373 1038 1396 1037 1409 1036 1410 1035 1400 1034 1381 1033 1373 1032 1375 1031 1379 1030 1393 1029 1386 1028 1395 1027 1406 1026 1406 1025 1417 1024 1402 1023 1395 1022 1401 1021 1377 1020 1381 1019 1398 1018 1414 1017 1382 1016 1367 1015 1371 1014 1367 1013 1419 1012 1405 1011 1417 1010 1408 1009 1411 1008 1388 1007 1380 1006 1359 1005 1388 1004 1391 1003 1394 1002 1398 1001 1392 1000 1381 999 1367 998 1372 997 1377 996 1391 995 1406 994 1412 993 1401 992 1399 991 1392 990 1402 989 1379 988 1377 987 1393 986 1375 985 1380 984 1384 983 1395 982 1376 981 1368 980 1362 979 1385 978 1386 977 1391 976 1389 975 1404 974 1397 973 1403 972 1387 971 1401 970 1422 969 1407 968 1412 967 1388 966 1374 965 1392 964 1394 963 1371 962 1390 961 1382 960 1378 959 1377 958 1400 957 1409 956 1398 955 1405 954 1384 953 1381 952 1381 951 1380 950 1376 949 1396 948 1396 947 1402 946 1409 945 1391 944 1401 943 1384 942 1378 941 1375 940 1386 939 1378 938 1395 937 1389 936 1378 935 1382 934 1393 933 1400 932 1403 931 1385 930 1397 929 1398 928 1402 927 1390 926 1399 925 1383 924 1378 923 1392 922 1389 921 1387 920 1407 919 1387 918 1387 917 1434 916 1454 915 1416 914 1399 913 1380 912 1371 911 1417 910 1425 909 1438 908 1419 907 1485 906 1476 905 1471 904 1449 903 1440 902 1437 901 1420 900 1417 899 1398 898 1380 897 1394 896 1398 895 1385 894 1382 893 1436 892 1435 891 1428 890 1421 889 1414 888 1416 887 1417 886 1441 885 1436 884 1382 883 1424 882 1445 881 1418 880 1407 879 1413 878 1421 877 1404 876 1412 875 1416 874 1401 873 1416 872 1392 871 1394 870 1389 869 1392 868 1398 867 1393 866 1399 865 1370 864 1373 863 1355 862 1382 861 1374 860 1386 859 1409 858 1406 857 1400 856 1388 855 1394 854 1384 853 1364 852 1392 851 1368 850 1376 849 1375 848 1389 847 1407 846 1387 845 1389 844 1401 843 1396 842 1391 841 1407 840 1377 839 1378 838 1373 837 1371 836 1394 835 1405 834 1411 833 1398 832 1403 831 1401 830 1425 829 1395 828 1397 827 1375 826 1399 825 1400 824 1392 823 1391 822 1391 821 1389 820 1379 819 1389 818 1398 817 1397 816 1361 815 1361 814 1391 813 1371 812 1376 811 1376 810 1384 809 1410 808 1380 807 1375 806 1389 805 1376 804 1407 803 1398 802 1397 801 1400 800 1393 799 1391 798 1387 797 1387 796 1397 795 1389 794 1389 793 1389 792 1394 791 1392 790 1399 789 1377 788 1390 787 1395 786 1403 785 1406 784 1391 783 1392 782 1400 781 1400 780 1386 779 1401 778 1407 777 1387 776 1410 775 1418 774 1400 773 1412 772 1374 771 1380 770 1396 769 1407 768 1396 767 1385 766 1396 765 1407 764 1399 763 1402 762 1416 761 1416 760 1393 759 1401 758 1403 757 1380 756 1392 755 1369 754 1377 753 1415 752 1409 751 1406 750 1408 749 1414 748 1415 747 1403 746 1394 745 1394 744 1393 743 1392 742 1401 741 1410 740 1411 739 1412 738 1403 737 1400 736 1412 735 1418 734 1418 733 1399 732 1385 731 1371 730 1377 729 1368 728 1368 727 1372 726 1386 725 1389 724 1401 723 1394 722 1390 721 1380 720 1378 719 1389 718 1372 717 1397 716 1386 715 1380 714 1391 713 1379 712 1393 711 1409 710 1405 709 1398 708 1415 707 1402 706 1394 705 1387 704 1373 703 1388 702 1401 701 1398 700 1382 699 1371 698 1392 697 1390 696 1387 695 1402 694 1379 693 1417 692 1406 691 1412 690 1384 689 1408 688 1422 687 1382 686 1379 685 1395 684 1397 683 1410 682 1410 681 1428 680 1404 679 1405 678 1406 677 1422 676 1417 675 1415 674 1421 673 1413 672 1391 671 1374 670 1398 669 1389 668 1405 667 1425 666 1409 665 1414 664 1413 663 1418 662 1391 661 1386 660 1382 659 1384 658 1362 657 1377 656 1383 655 1380 654 1395 653 1364 652 1385 651 1404 650 1393 649 1385 648 1389 647 1372 646 1357 645 1395 644 1387 643 1421 642 1404 641 1413 640 1406 639 1387 638 1395 637 1382 636 1359 635 1369 634 1386 633 1387 632 1395 631 1393 630 1406 629 1384 628 1391 627 1394 626 1384 625 1400 624 1394 623 1378 622 1371 621 1384 620 1385 619 1394 618 1394 617 1367 616 1368 615 1366 614 1375 613 1391 612 1388 611 1396 610 1377 609 1392 608 1371 607 1381 606 1380 605 1388 604 1381 603 1379 602 1395 601 1388 600 1405 599 1390 598 1399 597 1389 596 1400 595 1393 594 1422 593 1421 592 1388 591 1410 590 1395 589 1378 588 1412 587 1414 586 1411 585 1411 584 1396 583 1404 582 1385 581 1416 580 1405 579 1399 578 1390 577 1406 576 1377 575 1371 574 1368 573 1376 572 1381 571 1376 570 1377 569 1359 568 1389 567 1393 566 1371 565 1389 564 1393 563 1393 562 1385 561 1401 560 1409 559 1414 558 1397 557 1416 556 1399 555 1422 554 1407 553 1411 552 1393 551 1406 550 1372 549 1386 548 1380 547 1401 546 1406 545 1405 544 1425 543 1416 542 1403 541 1409 540 1407 539 1406 538 1399 537 1408 536 1406 535 1421 534 1419 533 1424 532 1406 531 1383 530 1383 529 1392 528 1382 527 1385 526 1376 525 1380 524 1413 523 1395 522 1388 521 1400 520 1391 519 1422 518 1396 517 1406 516 1387 515 1404 514 1410 513 1413 512 1395 511 1409 510 1389 509 1411 508 1395 507 1358 506 1363 505 1383 504 1397 503 1387 502 1399 501 1389 500 1404 499 1381 498 1401 497 1383 496 1403 495 1369 494 1388 493 1396 492 1373 491 1396 490 1403 489 1390 488 1373 487 1392 486 1392 485 1402 484 1388 483 1396 482 1404 481 1398 480 1393 479 1371 478 1386 477 1372 476 1367 475 1361 474 1394 473 1384 472 1407 471 1404 470 1422 469 1390 468 1389 467 1403 466 1403 465 1386 464 1384 463 1374 462 1368 461 1380 460 1372 459 1377 458 1359 457 1368 456 1413 455 1408 454 1395 453 1401 452 1402 451 1413 450 1410 449 1407 448 1383 447 1377 446 1398 445 1407 444 1401 443 1422 442 1395 441 1407 440 1416 439 1402 438 1405 437 1391 436 1371 435 1402 434 1411 433 1399 432 1389 431 1393 430 1384 429 1364 428 1379 427 1376 426 1380 425 1389 424 1386 423 1379 422 1400 421 1392 420 1382 419 1399 418 1382 417 1382 416 1387 415 1398 414 1402 413 1407 412 1400 411 1427 410 1407 409 1412 408 1391 407 1407 406 1405 405 1404 404 1408 403 1378 402 1388 401 1394 400 1404 399 1379 398 1392 397 1387 396 1403 395 1403 394 1380 393 1377 392 1393 391 1382 390 1409 389 1410 388 1414 387 1410 386 1419 385 1410 384 1435 383 1385 382 1391 381 1398 380 1390 379 1381 378 1404 377 1415 376 1401 375 1394 374 1375 373 1401 372 1388 371 1409 370 1382 369 1389 368 1406 367 1415 366 1406 365 1385 364 1400 363 1406 362 1408 361 1405 360 1403 359 1411 358 1407 357 1402 356 1402 355 1419 354 1418 353 1403 352 1412 351 1412 350 1394 349 1389 348 1363 347 1374 346 1388 345 1380 344 1369 343 1402 342 1402 341 1410 340 1391 339 1408 338 1400 337 1391 336 1415 335 1401 334 1411 333 1384 332 1368 331 1379 330 1408 329 1401 328 1386 327 1399 326 1382 325 1371 324 1351 323 1374 322 1389 321 1396 320 1389 319 1378 318 1378 317 1397 316 1411 315 1403 314 1413 313 1382 312 1392 311 1402 310 1396 309 1419 308 1389 307 1364 306 1375 305 1380 304 1387 303 1415 302 1389 301 1369 300 1400 299 1392 298 1389 297 1428 296 1428 295 1398 294 1390 293 1400 292 1379 291 1388 290 1374 289 1387 288 1388 287 1381 286 1384 285 1376 284 1364 283 1397 282 1365 281 1379 280 1377 279 1388 278 1387 277 1397 276 1398 275 1407 274 1409 273 1408 272 1418 271 1413 270 1414 269 1409 268 1392 267 1393 266 1415 265 1393 264 1394 263 1377 262 1405 261 1400 260 1383 259 1397 258 1400 257 1390 256 1388 255 1379 254 1404 253 1408 252 1397 251 1396 250 1399 249 1401 248 1397 247 1399 246 1394 245 1400 244 1406 243 1402 242 1383 241 1389 240 1393 239 1400 238 1414 237 1410 236 1397 235 1386 234 1366 233 1372 232 1369 231 1376 230 1374 229 1376 228 1379 227 1378 226 1380 225 1373 224 1386 223 1382 222 1392 221 1406 220 1410 219 1388 218 1396 217 1394 216 1393 215 1388 214 1397 213 1399 212 1400 211 1398 210 1402 209 1419 208 1399 207 1394 206 1390 205 1411 204 1419 203 1419 202 1416 201 1427 200 1433 199 1430 198 1389 197 1395 196 1398 195 1420 194 1405 193 1406 192 1401 191 1388 190 1391 189 1382 188 1377 187 1390 186 1368 185 1399 184 1393 183 1403 182 1398 181 1409 180 1389 179 1382 178 1387 177 1405 176 1405 175 1399 174 1377 173 1387 172 1409 171 1408 170 1401 169 1399 168 1402 167 1412 166 1382 165 1402 164 1405 163 1407 162 1372 161 1390 160 1415 159 1385 158 1391 157 1407 156 1416 155 1394 154 1388 153 1381 152 1385 151 1397 150 1408 149 1412 148 1404 147 1394 146 1392 145 1388 144 1383 143 1378 142 1381 141 1376 140 1374 139 1397 138 1383 137 1390 136 1385 135 1371 134 1369 133 1398 132 1389 131 1388 130 1402 129 1391 128 1407 127 1406 126 1410 125 1402 124 1394 123 1397 122 1424 121 1385 120 1410 119 1399 118 1408 117 1397 116 1381 115 1402 114 1386 113 1414 112 1407 111 1407 110 1391 109 1389 108 1405 107 1375 106 1369 105 1386 104 1389 103 1385 102 1384 101 1401 100 1396 99 1401 98 1396 97 1387 96 1396 95 1409 94 1396 93 1401 92 1390 91 1388 90 1419 89 1411 88 1427 87 1403 86 1404 85 1373 84 1388 83 1407 82 1409 81 1402 80 1400 79 1407 78 1371 77 1376 76 1371 75 1370 74 1392 73 1396 72 1399 71 1405 70 1394 69 1413 68 1390 67 1375 66 1399 65 1414 64 1401 63 1425 62 1417 61 1397 60 1413 59 1419 58 1404 57 1400 56 1408 55 1362 54 1390 53 1387 52 1394 51 1396 50 1375 49 1390 48 1371 47 1376 46 1387 45 1384 44 1403 43 1383 42 1391 41 1394 40 1393 39 1404 38 1405 37 1402 36 1404 35 1414 34 1387 33 1403 32 1436 31 1420 30 1424 29 1409 28 1398 27 1392 26 1394 25 1402 24 1417 23 1400 22 1413 21 1394 20 1395 19 1384 18 1384 17 1415 16 1399 15 1385 14 1414 13 1400 12 1396 11 1404 10 1417 9 1394 8 1396 7 1400 6 1401 5 1385 4 1394 3 1406 2 1412 1 1395 0 1388Z" fill="#0000ff"/>
<path transform="matrix(0.125 0 0 0.1 43.3 46.45)" d="M0 1299l1 75 1 9 1 86 1-105 1 14 1 11 1-41 1-8 1 82 1-11 1-20 1-64 1 5 1 105 1-9 1-106 1-41 1 84 1 36 1-96 1 74 1-58 1-47 1 54 1 31 1-37 1 75 1-24 1 18 1-17 1 13 1-13 1 12 1-28 1 2 1-14 1-64 1 156 1-135 1 71 1 45 1-48 1-12 1-43 1 95 1-58 1 5 1 75 1-20 1-74 1-4 1-16 1 22 1 5 1 12 1-49 1 94 1-33 1-25 1 94 1-137 1 97 1-33 1-99 1 134 1-13 1-100 1 126 1-30 1-43 1 2 1-6 1 10 1-47 1 16 1 20 1 59 1 2 1 63 1-131 1 125 1-134 1-43 1 136 1-19 1-8 1-60 1 76 1-33 1 17 1-12 1-65 1 95 1-44 1-7 1-24 1 81 1-88 1 25 1-16 1 32 1 69 1-32 1-46 1 42 1 16 1-60 1-15 1 84 1-88 1 146 1-4 1-144 1 53 1-49 1-1 1 35 1-46 1 31 1 94 1-97 1 2 1-93 1 163 1-61 1 23 1-14 1-98 1 73 1 41 1-31 1-28 1 84 1-36 1-85 1 31 1 43 1 21 1-15 1 70 1-124 1 29 1 11 1 65 1-26 1-55 1 11 1 34 1-45 1-18 1 70 1-6 1 15 1 17 1-94 1 14 1 6 1 87 1-11 1-54 1 20 1-30 1 43 1-73 1-60 1 1 1-4 1 95 1-53 1 78 1-74 1 75 1 4 1 5 1-65 1 22 1 4 1 65 1-64 1 78 1-143 1 78 1-15 1 14 1 67 1-11 1-59 1-70 1 119 1-18 1-31 1 77 1 10 1-67 1-19 1 19 1-107 1 94 1-28 1-62 1-6 1 170 1-65 1-75 1 127 1-23 1 22 1-1 1-17 1-59 1-52 1-5 1 65 1 89 1-86 1 14 1-35 1 25 1 98 1-127 1 130 1-73 1-51 1-3 1-67 1 213 1-144 1-21 1 55 1-50 1 92 1-90 1 7 1 69 1-16 1-20 1 20 1-78 1 42 1-49 1 4 1 50 1 11 1 30 1-4 1 0 1-49 1 51 1-40 1-4 1 27 1-12 1-68 1-4 1 96 1-24 1 7 1-4 1-74 1 36 1-23 1-20 1 88 1-10 1-9 1-43 1 48 1-31 1-19 1-5 1 32 1 53 1 35 1-120 1 31 1 63 1-18 1-3 1 63 1-97 1 52 1-25 1-50 1 40 1-33 1 9 1 18 1-1 1-87 1 97 1-83 1 117 1-74 1 24 1 42 1 80 1-187 1 125 1-4 1-54 1 4 1-13 1 31 1 79 1-149 1 111 1-71 1-24 1-40 1 92 1 7 1-5 1 107 1-71 1 10 1 7 1-79 1 27 1-100 1 7 1 167 1-97 1 50 1-68 1 18 1-32 1 26 1-18 1 42 1 88 1-51 1-13 1-15 1 20 1-106 1 72 1-59 1 66 1-90 1 134 1-88 1 98 1-93 1-66 1 190 1-49 1-64 1 25 1 66 1-144 1 64 1-69 1 53 1 94 1-45 1-118 1 175 1-57 1-65 1-28 1 12 1 143 1-212 1 130 1-10 1 0 1 13 1 42 1-37 1-87 1 137 1 55 1-149 1 9 1-19 1-45 1 114 1-41 1-16 1-38 1 8 1 98 1 30 1-60 1 71 1-141 1 76 1-1 1 28 1-122 1 60 1 38 1-57 1 39 1-38 1-35 1 82 1-42 1 3 1-35 1 29 1 30 1 37 1-50 1 67 1-85 1 30 1-23 1 49 1 13 1 3 1-89 1 59 1 1 1 67 1-75 1 108 1-168 1 67 1-11 1 57 1-11 1-69 1 33 1-25 1-33 1 24 1 100 1-37 1 8 1-8 1 50 1-1 1-55 1-4 1-53 1 42 1-90 1 169 1-20 1-90 1 30 1 41 1-100 1-15 1-5 1 82 1-18 1-12 1 8 1-43 1 67 1-36 1 102 1-118 1-37 1 69 1-45 1 118 1-59 1 57 1-87 1-12 1 103 1-31 1-12 1-178 1 150 1-12 1-16 1 6 1 31 1 64 1-40 1-124 1 71 1 36 1 54 1-72 1-4 1 36 1-78 1 72 1-20 1-50 1 30 1-44 1 68 1 9 1-45 1 12 1-42 1 35 1 19 1-21 1-7 1 73 1-40 1 8 1-60 1 67 1-67 1 103 1-54 1-52 1 61 1-62 1 139 1-90 1-6 1 13 1 63 1-102 1 167 1-194 1 42 1-39 1 71 1 50 1-33 1-2 1-67 1 61 1-57 1-11 1-95 1 332 1-155 1-97 1 11 1 84 1-19 1-11 1-14 1 41 1 3 1 23 1-38 1-89 1 113 1-86 1-38 1 71 1-92 1 106 1-79 1 75 1 54 1-72 1-62 1 103 1-45 1 61 1-6 1-53 1 25 1-29 1-30 1 98 1-19 1-29 1-93 1 107 1 7 1-38 1-71 1 114 1-12 1-15 1-31 1-66 1 153 1 24 1-86 1-17 1 122 1-71 1-68 1 64 1-43 1 13 1-23 1 10 1 7 1-45 1 83 1-32 1-49 1 83 1-9 1 23 1 9 1-167 1 87 1-82 1 64 1 39 1 24 1-34 1 19 1-55 1 105 1-64 1-20 1 45 1 0 1-44 1-4 1 40 1-6 1 37 1-80 1 50 1 97 1-83 1-66 1 24 1 84 1-110 1 10 1 1 1-55 1 113 1-56 1 51 1-66 1-9 1 37 1-13 1 76 1-68 1 82 1-161 1 51 1 142 1 73 1-232 1 126 1-84 1 108 1-79 1 44 1-75 1 54 1-110 1 137 1-125 1 81 1-30 1 123 1-2 1-141 1 113 1-46 1 0 1 32 1-61 1 85 1-7 1-119 1 95 1-86 1 6 1-61 1 69 1 154 1-79 1-17 1-107 1 57 1 52 1-58 1 50 1-60 1 28 1-60 1 49 1-34 1 56 1-35 1 42 1-39 1 21 1 17 1 14 1-5 1-42 1 150 1-191 1 187 1-110 1 8 1-61 1 28 1 18 1-9 1-61 1-88 1 131 1 147 1-96 1-50 1-116 1 181 1-20 1-57 1 16 1 94 1-124 1 115 1-53 1-77 1 129 1-48 1-99 1 95 1 37 1-19 1-77 1 129 1-52 1 35 1-12 1-115 1 65 1 18 1-43 1 55 1 18 1-104 1 5 1 93 1-83 1-31 1 45 1-3 1 101 1-67 1 108 1-186 1 81 1-93 1 132 1-110 1 181 1-93 1-59 1 11 1 24 1 95 1-175 1 42 1-24 1 0 1 77 1-38 1-117 1 181 1-66 1 51 1-129 1 90 1 67 1-22 1 47 1 56 1 20 1-112 1 23 1-79 1 62 1-66 1-87 1 163 1 1 1-111 1-60 1 148 1 43 1-69 1 5 1-55 1 90 1-41 1 3 1 62 1-1 1-100 1-6 1 72 1-137 1 37 1 30 1-10 1 17 1-20 1-9 1 44 1 123 1-110 1 34 1 20 1-93 1 121 1-131 1 71 1 24 1-15 1-149 1 43 1 80 1-60 1-35 1 118 1-25 1-50 1 21 1 33 1-86 1 49 1-14 1-77 1 89 1-93 1 102 1 23 1-15 1-39 1 14 1 10 1 108 1-23 1-48 1-58 1-37 1 221 1-133 1 18 1-20 1-18 1 61 1 28 1-133 1 9 1 73 1-20 1 31 1 40 1-111 1 69 1 26 1-30 1-112 1 60 1 10 1 7 1-35 1 6 1 91 1-48 1 17 1-36 1 12 1 80 1-130 1 36 1 81 1-116 1 41 1-14 1 18 1-5 1 26 1 43 1-39 1-30 1 5 1-24 1 30 1 87 1-121 1 65 1 26 1-46 1 47 1-78 1 62 1-146 1 115 1 18 1 8 1 77 1-70 1-4 1-24 1 106 1-126 1-70 1 97 1-22 1-29 1 74 1-19 1-93 1 51 1 100 1 32 1-278 1 126 1 145 1-124 1-40 1 42 1 133 1-257 1 89 1 56 1-57 1 57 1 4 1-61 1 141 1-145 1 28 1-16 1-6 1-27 1 4 1 25 1 55 1-45 1 47 1 22 1-61 1 4 1-38 1 152 1-128 1-6 1 29 1-75 1 129 1-67 1 40 1-21 1 64 1-55 1-57 1 40 1-16 1 77 1-159 1 151 1-47 1-32 1 44 1-57 1 34 1-86 1 70 1 4 1 67 1-65 1-27 1 27 1 68 1-19 1-14 1-14 1 82 1-187 1 112 1-11 1 29 1-21 1-114 1 160 1-18 1 29 1-28 1-117 1 123 1-11 1 69 1-75 1-33 1 41 1-5 1-70 1 16 1 37 1 37 1 40 1-165 1 158 1-107 1 40 1 24 1-74 1 77 1-93 1 105 1-71 1-32 1 98 1-141 1 59 1 139 1-163 1-27 1 102 1-3 1-26 1 107 1-97 1-33 1 65 1-73 1-47 1 182 1-12 1-46 1-55 1 10 1 55 1 12 1-14 1-122 1 132 1-18 1-74 1 59 1 37 1-123 1 55 1 53 1-15 1-69 1 66 1-32 1-35 1-3 1 141 1-65 1-7 1-23 1-34 1-16 1 76 1 30 1-59 1 38 1-117 1 69 1 15 1-47 1 81 1-16 1-7 1-39 1-31 1 24 1 2 1 46 1-29 1 30 1-68 1 85 1-25 1-15 1-24 1 68 1-22 1 27 1 22 1-105 1 27 1 79 1-20 1-64 1 49 1 20 1-103 1 80 1-3 1-46 1 66 1-40 1-8 1-30 1 79 1-100 1 41 1-88 1 94 1 39 1 2 1 27 1-54 1 3 1-45 1 38 1 40 1-82 1 65 1-31 1-53 1 8 1 90 1-28 1-60 1 16 1 17 1-13 1 122 1-75 1 44 1-30 1-10 1-33 1-26 1 15 1 20 1 24 1-69 1 43 1 102 1-86 1-28 1 76 1-62 1-63 1 88 1-11 1 0 1 49 1-26 1 29 1-38 1 24 1-85 1 51 1-41 1 91 1-55 1-26 1-9 1 68 1-28 1-10 1 23 1 3 1-47 1 84 1 31 1-65 1-38 1 133 1-189 1 65 1-23 1 66 1-37 1-78 1-5 1 56 1 37 1-7 1-64 1 91 1 13 1-38 1-54 1 100 1-69 1-1 1 12 1 13 1-48 1 15 1 91 1-140 1 54 1 7 1 30 1-2 1 92 1-96 1-33 1-1 1 54 1 72 1-52 1-36 1-66 1 117 1-65 1-22 1 0 1 26 1 83 1-108 1 17 1-16 1 57 1-17 1-77 1 61 1-3 1 29 1-84 1 127 1-50 1-44 1 24 1-47 1 22 1-51 1 84 1-5 1-21 1 106 1-162 1 113 1-102 1-14 1 22 1 40 1 46 1 71 1-137 1 44 1-107 1 110 1-52 1 58 1-44 1 38 1-8 1 97 1-72 1-27 1-64 1 46 1 60 1-113 1 50 1-30 1 80 1 68 1-73 1 12 1-55 1 77 1-30 1 19 1-60 1 45 1-102 1 25 1-3 1 50 1-21 1-27 1 75 1-89 1 55 1-55 1-36 1 25 1 106 1-92 1 61 1 5 1-7 1 40 1-61 1 41 1-76 1 32 1 117 1-61 1 2 1-15 1 2 1-40 1 17 1 45 1-74 1-24 1 44 1-50 1 32 1 43 1-6 1-18 1-25 1 17 1-36 1-8 1 92 1 7 1-43 1-21 1-16 1 10 1 1 1 54 1-45 1 35 1-37 1-18 1 57 1-16 1-94 1 113 1-8 1 21 1 15 1-96 1 69 1-3 1 9 1 78 1-144 1 55 1-21 1-61 1 65 1-12 1-2 1-47 1 116 1-36 1 69 1-95 1-25 1 42 1-95 1 41 1-40 1 71 1-58 1 83 1-36 1 11 1 22 1-86 1 15 1 83 1-65 1 30 1-4 1-28 1 65 1-40 1-7 1 53 1-4 1-84 1 51 1-120 1 16 1 142 1-50 1 111 1-68 1 10 1-6 1 50 1-90 1 5 1 35 1-27 1-38 1-23 1 105 1-107 1 130 1-36 1-18 1-78 1 37 1 0 1-44 1 60 1 32 1-100 1 89 1 52 1 21 1-92 1-87 1 59 1 33 1-54 1 132 1-96 1 45 1-86 1 99 1-75 1 29 1 8 1-33 1 40 1-80 1 85 1 106 1-191 1 8 1 40 1-41 1 33 1 73 1 64 1-48 1-40 1-46 1 105 1-30 1-120 1 107 1 1 1 7 1-161 1 33 1-25 1-60 1 28 1-28 1 74 1-15 1 36 1 10 1 135 1-56 1 16 1 28 1-51 1-148 1 67 1 70 1-20 1-91 1 211 1-119 1-83 1 1 1 52 1 19 1 155 1-75 1-39 1-22 1-2 1 120 1-76 1-34 1 43 1-22 1-31 1 8 1 6 1-25 1-16 1 58 1 28 1-13 1-6 1-17 1 53 1-26 1-19 1-61 1 32 1 25 1-38 1 25 1-3 1-31 1 28 1 7 1-23 1 52 1-25 1 85 1-66 1-80 1 77 1-14 1 18 1 27 1-69 1 25 1-49 1 85 1-39 1 16 1 9 1-65 1 70 1-1 1-126 1 101 1 5 1-25 1 54 1-50 1 56 1-25 1 5 1-80 1 28 1-54 1 6 1 108 1-55 1 43 1 7 1-75 1-10 1 54 1-10 1 3 1 0 1 0 1 49 1-59 1 46 1 18 1-37 1-15 1-22 1 16 1 3 1 43 1-48 1 8 1-4 1 49 1-114 1 43 1 5 1 27 1 17 1-55 1 101 1-37 1-7 1-41 1 41 1-78 1 146 1-154 1 56 1-31 1 76 1-86 1 74 1-32 1 101 1-119 1 26 1 112 1-100 1 11 1-58 1 78 1-46 1-56 1 106 1-128 1 78 1 20 1 54 1 14 1-119 1 64 1 8 1-80 1 16 1 27 1 72 1 19 1-129 1 46 1 11 1-104 1 112 1-39 1-80 1 67 1 58 1 9 1-88 1 106 1-92 1-40 1 82 1-45 1 37 1-57 1 49 1 40 1-44 1 9 1 33 1-18 1 40 1-15 1-61 1 101 1-85 1 10 1 26 1-88 1 32 1 59 1-38 1-33 1 118 1-86 1 22 1-29 1-71 1 117 1-14 1 38 1-61 1-15 1 123 1-158 1-11 1 178 1-43 1-87 1 17 1-49 1 66 1-75 1 131 1-89 1 42 1 2 1 61 1-66 1-80 1 90 1-19 1-16 1 46 1-51 1-12 1 32 1 72 1-144 1 61 1 2 1 8 1 15 1 46 1-68 1-8 1-33 1-23 1 90 1-92 1 61 1-20 1 65 1-56 1 55 1-72 1 86 1-57 1 21 1-36 1 4 1 4 1 35 1-76 1 15 1 77 1-84 1 76 1-40 1 10 1-1 1-39 1 122 1-149 1 147 1-139 1 30 1 87 1-78 1 27 1 34 1-93 1 3 1 28 1-51 1 60 1 18 1-68 1 88 1-69 1-10 1 36 1 6 1-19 1 11 1 44 1 96 1-105 1 42 1-108 1 64 1-34 1-24 1-14 1 93 1-143 1 57 1 14 1 71 1-125 1 54 1-25 1 68 1-110 1 13 1 88 1-103 1 149 1-91 1 11 1-1 1 60 1-13 1-59 1-5 1 51 1 10 1 10 1-75 1 60 1 16 1 53 1-1 1-22 1 42 1-73 1-5 1 38 1-30 1-17 1 81 1-121 1 167 1-231 1 179 1-80 1 22 1-42 1 63 1-68 1 103 1-114 1 52 1-32 1-30 1 105 1-29 1 7 1-31 1-13 1-28 1 27 1 16 1-31 1-24 1 3 1-51 1 126 1-40 1 69 1-30 1-55 1-24 1 70 1-38 1 15 1-18 1 12 1 31 1 74 1-35 1-78 1 21 1-94 1 88 1-45 1 112 1 18 1-96 1-101 1 88 1 48 1-47 1-19 1 13 1 29 1 76 1 3 1-42 1-26 1 86 1-202 1 70 1 66 1-67 1-74 1 100 1 1 1-39 1 112 1-37 1 7 1-63 1 100 1-82 1 32 1-8 1 10 1-75 1 85 1 12 1-55 1 33 1-40 1 21 1-3 1-1 1 61 1 12 1-141 1 111 1-59 1 58 1-36 1 6 1-67 1 66 1 51 1-7 1-65 1-23 1-52 1-2 1 150 1-55 1 48 1-66 1-24 1 118 1-122 1 5 1 47 1 15 1-103 1 83 1 42 1-54 1-41 1 14 1 132 1-33 1-46 1-28 1 1 1 69 1-105 1 22 1 89 1-23 1-40 1 74 1-81 1-7 1 30 1-50 1-61 1 121 1-55 1 46 1-106 1 20 1 63 1 36 1-88 1 56 1 62 1-11 1-46 1-127 1 54 1-14 1 28 1-27 1-1 1 136 1-87 1-1 1 7 1 5 1 118 1-107 1 65 1-98 1 62 1-10 1-9 1 83 1-78 1 43 1-92 1 64 1 28 1-104 1 67 1 29 1-38 1 5 1-20 1 56 1-94 1 34 1-54 1 46 1 63 1-84 1 54 1-15 1 104 1-47 1-110 1 12 1 114 1-81 1 0 1-32 1 83 1 24 1-74 1 36 1-3 1 11 1-76 1 74 1-65 1 12 1 46 1-60 1-10 1 32 1 23 1-40 1 63 1-53 1-41 1 114 1 18 1-99 1 64 1-17 1-24 1 29 1-28 1 42 1-17 1-17 1-24 1 37 1-28 1-9 1 3 1 22 1-49 1 71 1-63 1 2 1 2 1 52 1-55 1 18 1 57 1-29 1 35 1-58 1-35 1 16 1 67 1 1 1-29 1-2 1-36 1 43 1-56 1 64 1-62 1 101 1-37 1-25 1-31 1 9 1 64 1 24 1-63 1 3 1 12 1-15 1 53 1-76 1-19 1 78 1-3 1-82 1 3 1 78 1-1 1 39 1-90 1 12 1 6 1-89 1 98 1-3 1-17 1 20 1-59 1 58 1-13 1-100 1 130 1 28 1-59 1 32 1 2 1-37 1-24 1 94 1-53 1 65 1-103 1 67 1-58 1-39 1 14 1 33 1 84 1-134 1 79 1-42 1 46 1-10 1-66 1 120 1-11 1-38 1-58 1 154 1-164 1 74 1-50 1-82 1 91 1-26 1-10 1 70 1-19 1 14 1-17 1 23 1 10 1 3 1-58 1 84 1-56 1-51 1 112 1 17 1-102 1 62 1-1 1-62 1 16 1 44 1-17 1 51 1-40 1-21 1-26 1-2 1-45 1 72 1-42 1 27 1 55 1-56 1-2 1-16 1 11 1 15 1 42 1-25 1-23 1-13 1-6 1 16 1-11 1-32 1 49 1 28 1 32 1-53 1-22 1 37 1-65 1 82 1-17 1-12 1 47 1-89 1 72 1 18 1 27 1-116 1-13 1 98 1 21 1-43 1-21 1 27 1-55 1 87 1-168 1 89 1-35 1 74 1-69 1-40 1 127 1-45 1-43 1 29 1 61 1-21 1-46 1 12 1 41 1-41 1 105 1-95 1-38 1 1 1 61 1-31 1 1 1 15 1 30 1 25 1-33 1 29 1 33 1-134 1 110 1-31 1 1 1 43 1-83 1 89 1-146 1 133 1-25 1-27 1-1 1-5 1-57 1-11 1-54 1 169 1-109 1 17 1 43 1 43 1-172 1 59 1 135 1-145 1 45 1 10 1-24 1 60 1-20 1-43 1 88 1 9 1 15 1-109 1 86 1-34 1 6 1-51 1 11 1 57 1-106 1 47 1 3 1 37 1-4 1-3 1-14 1-18 1 0 1 30 1-6 1-34 1-19 1 0 1 49 1 49 1-56 1 0 1 3 1-16 1 39 1-24 1 92 1-154 1 65 1 14 1-32 1 30 1 20 1-67 1 34 1 31 1-58 1 10 1 4 1 28 1-55 1 80 1-71 1-30 1 100 1-45 1 81 1-73 1 63 1-15 1-54 1-31 1 21 1 25 1 21 1-29 1-90 1 38 1 103 1-25 1 29 1-77 1 35 1 50 1-55 1 13 1 24 1-29 1-52 1 74 1-23 1 38 1-37 1-65 1 30 1 46 1-5 1-65 1 48 1 13 1-57 1 53 1 11 1-40 1 61 1-31 1 13 1-35 1 10 1-73 1 42 1 25 1-22 1 31 1-19 1-13 1 4 1-40 1 35 1 52 1-39 1 58 1-139 1 180 1-83 1-31 1 70 1-24 1-70 1 109 1-105 1 58 1 6 1-114 1 59 1 18 1 31 1-20 1 16 1-82 1 66 1 40 1-9 1-41 1 68 1-17 1 33 1 25 1-189 1 108 1-97 1 57 1 15 1 71 1-55 1-11 1 57 1-85 1-24 1 39 1 12 1 90 1-200 1 85 1 85 1-2 1-20 1 12 1-41 1 37 1-40 1 22 1-7 1 35 1-52 1-3 1 40 1 36 1-68 1 77 1-42 1-53 1-32 1 64 1-27 1-39 1 101 1-27 1-33 1-48 1 119 1 3 1-110 1-8 1 89 1-34 1-45 1 59 1 80 1-100 1-33 1 101 1-119 1 75 1 64 1-87 1 80 1-133 1 41 1-55 1 148 1-77 1-56 1 9 1 25 1 11 1-12 1-20 1-35 1 165 1-32 1-21 1-38 1-9 1 38 1-16 1-43 1-18 1 97 1-27 1-15 1-114 1 146 1-43 1 12 1 21 1-60 1 45 1 19 1-26 1-9 1 41 1 4 1-84 1 79 1-69 1 49 1 32 1 18 1 19 1-107 1 2 1 50 1 29 1-24 1-30 1-44 1 78 1 46 1-82 1 25 1 24 1 52 1-118 1-36 1 111 1 26 1-45 1-10 1-45 1 24 1 98 1-107 1-1 1 43 1-43 1 83 1-52 1 43 1-59 1-37 1 132 1-97 1-31 1 22 1-58 1 70 1-90 1 83 1 56 1-46 1 25 1-83 1-18 1-6 1 39 1 41 1 22 1 23 1-80 1 87 1-44 1-25 1-13 1 103 1-3 1-9 1-121 1 128 1-13 1-100 1-17 1-61 1 118 1-56 1 166 1-147 1-8 1-4 1 67 1-85 1-6 1 69 1-2 1 14 1-1 1-11 1 45 1 5 1-40 1 10 1-55 1 43 1 30 1 32 1-55 1 31 1 38 1-173 1 182 1-172 1-37 1 111 1 25 1-53 1 72 1-48 1-25 1 90 1-126 1 65 1-9 1-44 1 114 1-5 1-65 1-3 1 26 1-6 1 6 1 29 1 22 1-27 1-41 1-15 1 89 1-154 1-22 1 99 1 50 1-31 1-44 1 40 1-90 1 99 1-66 1 28 1-80 1 85 1-1 1 56 1-26 1 43 1-158 1 103 1 10 1-9 1-15 1-9 1 99 1-132 1 55 1 5 1-70 1 57 1 41 1 2 1-63 1 28 1-3 1 59 1-61 1 36 1 7 1-86 1 39 1 23 1-53 1-36 1 143 1-108 1 30 1 16 1-72 1 26 1 65 1-84 1 70 1-8 1 64 1-67 1-27 1 45 1-18 1-74 1 85 1 27 1-130 1 134 1 100 1-64 1-61 1 54 1-4 1-37 1-17 1 4 1-14 1-68 1-72 1 68 1 31 1 79 1-44 1 60 1-54 1 51 1-104 1-52 1 56 1-75 1 174 1-90 1 45 1-13 1 53 1-43 1 1 1 24 1-74 1 15 1-17 1 71 1 6 1 20 1-84 1-9 1 46 1 33 1-39 1-19 1 0 1 35 1-63 1-8 1 99 1-53 1 10 1 61 1-33 1-37 1-41 1 83 1-14 1-8 1 9 1 35 1-85 1 42 1-27 1-8 1 43 1 21 1-12 1-7 1 12 1-19 1 40 1-35 1 7 1-34 1-11 1-56 1 29 1 20 1 27 1-3 1-15 1 29 1-14 1 48 1-66 1 68 1-21 1 6 1-176 1 136 1-49 1 132 1-110 1 50 1-68 1 72 1 37 1-97 1 38 1 69 1-62 1 42 1-79 1 29 1-12 1 55 1-90 1 73 1-34 1 21 1-13 1 53 1-53 1-12 1 65 1-89 1 76 1-15 1 3 1-75 1 72 1-3 1-34 1 9 1-43 1 67 1 10 1 7 1 1 1-67 1 9 1 37 1-9 1 85 1-124 1 17 1 98 1-59 1-18 1-69 1 52 1-48 1-11 1 36 1 80 1 25 1-55 1-56 1 18 1 93 1-115 1 96 1-30 1-76 1 48 1 33 1 8 1-37 1-9 1 18 1 25 1-48 1-13 1 73 1-67 1 47 1-14 1-42 1 76 1-38 1-62 1 7 1 70 1 17 1-79 1 34 1-1 1 61 1-55 1 55 1-43 1-74 1 19 1-13 1 57 1-14 1 31 1-93 1 98 1 36 1-37 1-69 1 74 1-35 1 97 1-48 1 42 1-12 1-53 1-52 1-79 1 83 1 96 1 7 1 39 1-100 1 55 1-50 1 54 1-155 1 103 1-48 1 47 1-115 1 165 1-87 1-38 1 61 1-48 1 48 1-49 1 47 1-70 1 131 1-92 1 49 1-3 1-40 1 50 1 0 1-50 1 69 1-36 1-49 1 71 1-81 1 95 1-56 1 7 1 67 1-99 1 102 1-129 1-14 1 109 1-36 1 14 1 70 1-34 1-42 1-3 1-56 1 77 1 3 1-53 1-6 1 46 1-20 1 36 1-20 1 76 1-18 1-96 1 56 1 19 1-64 1-68 1 45 1 25 1 18 1-80 1 8 1 61 1 24 1-19 1-17 1 27 1 16 1 4 1 42 1-56 1-23 1 72 1-20 1-84 1 84 1-56 1 72 1 43 1-113 1-13 1 19 1 14 1-65 1 76 1 19 1-42 1-31 1 29 1-27 1-22 1 93 1-26 1 5 1-33 1 84 1-101 1 98 1-73 1 30 1 6 1-47 1 84 1-85 1 44 1 54 1-123 1 118 1-98 1 58 1-2 1-106 1 68 1 27 1-60 1 73 1-112 1 118 1-58 1 55 1-61 1 77 1-40 1-34 1 84 1-46 1-22 1 33 1-5 1-41 1-7 1 98 1-27 1 65 1-98 1-27 1 63 1 9 1-64 1 44 1-122 1 29 1 153 1-117 1 1 1 0 1 32 1 66 1-72 1 28 1-103 1 54 1-33 1 114 1-54 1 9 1 33 1-20 1 58 1-84 1 54 1-54 1-13 1 35 1 25 1-85 1 3 1 69 1-78 1 165 1-121 1-15 1 23 1 70 1-72 1-40 1 27 1 74 1-65 1-70 1 16 1-5 1 63 1-37 1 35 1 2 1 48 1-53 1-48 1 42 1 107 1-132 1 87 1-80 1 59 1-104 1 77 1-53 1 101 1-50 1-12 1 62 1-34 1-1 1-25 1 1 1 65 1-105 1 20 1 48 1-67 1 52 1 16 1 37 1 64 1-141 1-38 1 23 1 0 1-63 1 164 1-106 1-60 1 99 1-100 1 105 1 10 1 52 1-98 1-8 1 10 1 12 1-19 1 33 1 73 1-94 1-12 1-94 1 141 1-28 1 102 1 9 1-36 1-155 1 78 1 4 1 40 1-50 1-34 1 17 1 36 1-12 1-10 1-15 1 16 1 30 1 46 1-63 1 5 1 5 1 12 1 28 1-83 1 65 1-22 1 16 1 32 1-76 1 84 1-57 1 16 1-17 1 42 1-82 1-11 1 23 1 49 1 34 1-139 1 169 1-33 1-66 1-9 1 80 1-79 1 92 1-101 1 14 1 18 1-51 1 35 1 128 1-155 1 27 1-37 1 62 1-51 1 58 1-42 1-26 1 78 1 4 1-37 1-40 1 23 1 11 1-27 1 18 1 65 1-111 1 4 1 14 1 118 1-122 1 93 1-43 1 7 1-68 1 25 1 36 1-18 1 40 1 18 1-65 1-5 1 28 1-61 1-9 1 88 1-28 1-9 1 96 1-126 1 4 1 26 1 19 1 16 1-84 1 96 1-52 1 26 1-63 1-11 1 63 1 6 1 63 1-10 1-69 1-5 1 21 1 61 1-8 1 84 1-124 1 123 1-32 1-45 1-98 1 112 1-92 1-69 1 62 1 7 1 96 1-48 1 64 1-111 1 5 1-45 1 68 1-13 1 58 1-63 1-39 1 35 1-17 1 35 1-22 1 19 1 52 1-42 1-44 1 21 1 25 1 40 1-74 1 53 1-17 1-42 1-23 1 87 1-9 1-59 1 51 1-105 1 34 1 51 1 67 1-107 1 35 1 95 1-32 1-41 1-51 1 156 1-107 1-15 1-115 1 109 1 3 1 12 1-17 1-11 1 36 1-30 1-61 1 93 1-39 1-58 1 120 1-34 1 27 1-68 1-12 1 28 1 26 1 4 1-18 1-82 1 62 1-112 1-37 1 203 1-160 1 29 1 111 1 187 1-117 1-126 1 194 1-226 1 133 1-61 1 46 1-15 1-28 1 66 1-43 1 12 1-56 1 78 1-141 1 18 1 133 1-1 1-34 1-35 1-11 1-3 1-8 1 38 1 44 1-10 1-22 1 17 1-130 1 116 1-67 1 19 1 61 1 20 1-39 1-25 1 25 1-56 1 70 1 0 1-39 1-80 1 53 1-46 1 104 1-69 1 27 1-99 1 138 1-31 1 52 1 19 1-104 1 15 1 74 1-93 1 50 1-6 1-79 1 45 1-15 1-18 1 51 1 26 1-71 1-15 1 137 1-28 1-4 1 2 1-91 1 70 1-3 1-21 1-16 1 26 1-16 1 76 1-64 1 40 1-34 1-53 1 37 1 19 1-59 1-15 1 48 1 53 1-89 1 58 1 38 1-55 1 48 1-2 1 24 1-4 1-68 1 137 1-133 1-12 1 6 1 35 1 48 1-48 1-30 1-31 1 55 1 92 1-54 1 14 1-74 1 12 1 11 1 16 1 75 1-71 1-60 1 93 1-3 1 23 1-45 1-34 1 112 1-116 1 78 1-183 1 147 1-43 1 123 1-159 1 51 1 26 1-106 1 91 1 15 1-105 1 108 1-59 1 61 1 19 1-118 1 52 1-27 1 4 1 35 1-17 1 40 1 0 1-36 1 106 1-86 1 43 1-45 1 52 1-117 1 32 1 65 1-67 1 139 1-25 1-111 1-61 1 94 1-47 1 33 1-74 1 111 1 53 1-40 1-44 1-27 1 67 1-97 1 142 1-92 1 65 1-32 1 7 1-82 1-28 1 190 1-91 1-33 1 60 1-37 1-3 1-43 1 77 1-76 1 46 1-12 1 31 1-24 1-8 1-101 1 65 1 22 1 11 1 39 1-83 1 98 1-16 1-70 1 64 1 20 1-174 1 178 1-33 1 49 1-74 1-45 1-89 1 73 1 39 1 29 1-54 1 56 1-30 1 89 1-88 1 85 1-45 1 65 1-23 1-127 1 56 1 60 1-103 1 162 1-100 1 61 1-96 1-20 1 69 1 4 1 17 1-95 1 42 1-105 1 99 1 9 1 71 1 5 1-111 1 63 1-86 1 30 1 75 1-13 1-88 1 10 1 0 1 103 1-61 1 56 1-186 1 158 1-18 1 17 1 37 1-87 1 67 1-41 1-25 1 30 1 26 1-69 1 44 1 83 1 70 1-64 1-88 1-80 1 130 1-50 1 83 1-134 1-73 1 204 1-74 1-163 1 202 1 31 1-70 1-30 1 52 1-17 1-111 1 193 1-200 1 172 1-145 1-27 1 102 1 53 1 65 1 24 1-203 1 250 1-175 1 38 1-143 1 163 1-199 1 155 1-237 1 259 1 5 1 61 1-221 1 160 1-141 1 139 1 89 1-268 1 6 1 174 1-137 1 285 1-269 1 114 1-64 1 58 1-49 1 47 1 33 1-45 1-42 1-89 1 88 1 109 1-60 1 21 1-274 1 391 1-182 1 151 1-191 1 128 1-67 1 70 1-171 1-43 1 78 1-25 1 50 1 324 1-160 1-153 1 83 1 110 1 72 1-148 1-269 1 286 1-220 1 198 1-164 1 31 1 155 1-19 1-3 1-139 1 218 1-149 1 55 1-219 1 268 1-141 1 14 1-100 1 33 1 204 1-250 1 155 1-62 1 202 1-267 1 93 1-1 1 35 1-108 1 248 1-154 1 52 1-54 1-111 1 167 1-51 1 74 1-137 1 55 1-89 1-48 1 295 1-26 1-88 1-57 1 64 1-97 1 43 1 83 1-85 1 58 1 14 1-62 1 6 1-57 1 117 1 9 1-121 1 48 1-7 1 4 1 69 1-14 1-83 1 10 1 22 1-66 1-43 1 101 1-49 1-24 1 69 1 5 1 53 1-125 1 37 1 16 1 54 1-116 1 169 1-140 1-18 1 63 1 48 1 1 1-92 1 46 1-41 1 66 1 25 1-192 1 182 1-84 1-12 1 47 1-13 1-6 1-64 1 82 1-28 1-54 1 125 1 11 1-65 1 15 1-58 1 9 1 38 1-34 1 43 1-124 1 56 1 62 1-106 1 93 1-31 1 75 1 14 1-128 1 94 1 26 1-10 1-72 1 60 1 23 1 74 1-79 1-46 1 33 1 7 1-137 1 76 1 56 1-51 1 72 1-76 1-47 1 88 1-72 1 82 1 40 1-46 1-4 1-57 1 40 1 45 1-15 1-21 1-27 1 85 1-20 1-33 1 51 1-125 1 68 1 74 1-19 1-119 1 96 1 23 1-87 1-22 1 143 1-96 1-79 1-20 1 59 1 17 1 93 1-96 1 63 1-9 1-49 1 66 1-14 1-104 1 53 1 103 1-39 1 20 1-64 1 62 1-43 1-8 1-20 1 16 1-4 1 12 1 37 1-81 1 40 1 35 1 25 1-63 1-46 1 41 1 71 1-39 1 28 1-34 1-49 1 28 1 12 1 23 1-6 1-27 1 106 1-76 1 79 1-153 1 103 1-92 1 116 1-153 1 41 1 26 1 26 1-2 1 0 1-55 1 13 1-19 1 71 1-10 1 73 1 19 1-114 1 44 1-41 1 15 1 8 1-13 1 111 1-98 1-31 1 21 1-23 1 145 1-170 1 11 1 0 1 19 1-16 1-26 1 78 1-18 1-36 1 105 1-107 1 74 1-15 1 5 1-44 1 69 1-120 1 93 1 9 1-116 1 77 1 74 1-79 1-39 1-28 1 19 1 53 1-135 1 137 1 76 1-166 1 19 1 21 1-59 1 61 1 39 1-18 1 55 1-57 1 58 1 6 1 27 1-69 1-30 1 53 1 63 1-36 1-42 1 9 1 11 1 36 1-154 1 89 1-16 1 13 1 60 1-118 1 91 1-15 1 22 1 40 1-77 1 57 1-52 1-20 1-78 1 170 1-148 1-11 1 108 1-35 1-46 1 105 1-127 1 143 1-89 1 20 1 39 1-5 1-28 1 16 1-3 1 10 1-62 1 26 1 6 1-10 1-1 1-44 1 57 1-6 1 39 1 33 1-28 1-24 1 52 1-112 1 90 1-46 1 35 1-38 1-25 1-31 1 120 1-102 1 75 1-99 1 144 1-33 1-34 1-88 1 78 1-66 1 48 1-24 1 53 1 9 1-19 1 4 1 24 1-3 1 91 1-17 1-47 1-20 1 29 1-148 1 139 1-63 1-24 1 81 1-67 1 31 1 37 1-79 1-9 1-69 1 66 1 88 1-86 1 108 1-49 1 83 1-130 1 31 1-75 1 38 1 54 1-38 1-10 1 64 1-5 1-28 1 90 1 2 1-94 1 15 1 13 1-126 1 93 1-44 1 39 1 14 1 21 1 51 1-72 1 25 1-63 1 74 1 1 1-40 1 76 1-35 1-37 1 14 1 0 1-21 1-4 1-94 1 107 1 29 1-76 1 26 1 24 1-72 1 135 1-85 1 30 1-29 1 1 1-1 1-16 1 57 1-6 1-60 1 38 1 15 1 24 1-39 1 46 1-105 1-44 1 78 1 54 1-75 1 112 1-93 1 31 1-48 1 65 1-32 1-36 1 54 1-80 1 85 1-10 1-83 1 95 1-19 1 39 1 8 1-117 1 52 1 78 1-29 1-30 1-52 1 11 1 17 1 87 1-171 1 137 1-32 1 21 1-76 1 49 1-23 1 41 1 12 1-28 1-18 1-11 1 0 1-1 1 140 1-107 1-16 1-27 1 80 1 42 1 13 1-37 1 28 1-68 1-61 1 109 1-17 1-5 1 24 1-118 1 119 1-104 1 68 1 54 1-51 1 5 1 56 1-34 1-92 1 45 1 135 1-178 1 13 1 7 1-138 1 257 1-107 1-29 1 137 1-135 1 51 1 36 1-118 1 38 1 72 1-42 1 62 1-179 1 175 1-68 1 26 1-101 1 65 1-2 1-28 1 52 1-60 1-49 1-20 1 259 1-146 1-40 1 30 1-52 1 71 1-51 1 104 1 0 1 24 1-108 1 6 1-51 1 63 1-15 1 60 1-103 1 53 1 5 1-95 1 182 1-95 1 17 1-23 1 4 1-19 1 119 1-77 1 42 1-42 1 65 1-90 1 9 1-52 1 149 1-26 1-42 1-4 1 76 1-29 1-25 1-55 1 7 1 26 1-102 1 20 1 36 1 26 1-39 1 41 1-103 1 190 1-63 1-6 1-23 1 57 1 71 1-98 1-104 1 118 1-59 1-5 1 26 1 33 1-18 1-100 1 68 1 12 1 27 1-22 1-83 1 14 1 60 1 1 1-60 1-10 1 51 1 77 1 88 1-68 1-53 1-23 1 27 1 18 1-74 1 50 1 29 1 16 1-83 1 53 1-41 1 7 1 5 1 7 1-18 1 70 1-73 1 40 1 4 1-20 1 14 1-20 1 28 1-110 1 146 1-64 1 29 1 33 1-68 1-46 1 80 1-79 1 116 1-63 1 47 1 14 1-22 1 0 1-45 1-58 1 33 1-36 1 80 1 17 1-86 1-7 1 103 1-32 1-39 1 33 1 56 1-80 1 115 1-210 1 96 1 75 1-100 1-12 1 0 1 50 1 71 1-19 1-128 1 98 1 26 1-17 1 62 1-59 1-34 1 42 1-128 1 150 1-114 1 34 1-56 1 64 1 126 1-46 1-70 1 56 1-109 1 151 1-128 1 60 1-45 1-22 1 141 1-64 1-51 1 16 1 74 1-43 1-21 1 17 1-53 1-51 1 55 1 83 1-15 1-70 1-14 1 72 1-5 1 81 1-164 1 61 1 20 1-53 1 11 1-38 1 93 1-43 1 49 1-42 1 23 1 43 1-20 1-71 1 59 1-31 1 105 1-123 1 131 1-88 1-35 1-114 1 105 1 80 1-28 1-57 1-4 1 48 1-81 1 14 1 107 1-76 1-23 1 123 1-24 1-76 1 29 1-61 1 14 1 57 1-81 1 52 1-35 1-110 1 190 1 50 1-144 1 89 1 2 1-106 1 92 1 129 1-245 1 115 1 42 1-87 1 14 1 71 1-127 1 147 1-99 1 43 1-66 1 6 1 89 1-19 1-156 1 66 1 1 1-7 1 39 1 112 1-69 1-11 1-19 1 145 1-234 1 135 1-92 1 198 1-169 1 75 1-120 1 113 1-120 1 1 1 137 1-7 1-11 1-42 1-19 1 74 1-29 1-20 1-38 1 77 1-64 1-13 1-28 1 100 1-113 1-8 1 57 1 18 1-26 1 48 1-18 1-48 1 60 1-3 1-4 1-17 1-45 1 2 1 117 1-66 1 6 1-49 1-11 1 73 1 5 1 83 1-137 1 8 1 25 1 58 1-55 1 13 1 13 1-22 1 56 1-32 1 72 1-112 1-62 1 145 1-92 1 22 1 18 1-55 1 90 1-68 1 35 1-13 1 75 1-73 1-33 1 21 1 96 1-146 1 35 1 2 1-19 1 59 1-70 1 27 1 34 1-14 1-44 1-72 1 139 1 92 1-134 1 62 1-30 1 10 1-52 1 21 1 52 1-25 1 25 1-31 1-6 1-51 1 111 1-130 1 110 1-74 1-86 1 115 1-60 1 42 1 32 1-78 1 116 1-85 1 35 1-49 1-3 1 18 1 26 1-53 1 110 1-104 1-10 1 80 1-37 1-15 1-40 1 55 1 21 1 8 1 29 1 35 1-147 1 5 1 15 1 63 1-74 1-19 1 75 1-24 1 85 1-77 1-69 1 24 1 11 1 21 1 50 1 24 1-13 1-29 1 9 1-44 1 89 1-86 1 91 1-57 1 2 1-45 1 52 1-7 1-18 1 37 1-75 1 63 1-13 1-41 1 32 1 16 1-48 1 14 1 38 1-80 1 90 1-85 1 15 1 42 1 18 1-46 1 126 1-24 1-137 1 103 1-65 1-13 1 87 1-99 1 122 1-62 1 5 1 101 1-175 1 140 1-17 1-94 1 96 1-66 1 33 1 1 1 20 1-24 1-20 1-17 1 58 1-90 1 53 1-36 1 62 1 31 1-175 1 144 1-106 1 42 1 35 1 21 1-3 1-75 1 85 1-55 1 37 1-1 1 6 1 26 1-74 1-8 1 14 1 59 1-10 1 8 1-67 1 53 1 6 1-36 1-2 1 10 1-38 1 99 1-156 1 139 1 37 1-175 1 184 1-85 1 90 1-212 1 79 1-87 1 137 1 109 1-269 1 31 1 125 1-33 1 55 1 95 1-86 1 59 1-97 1 7 1-50 1-59 1 54 1 67 1 26 1-127 1 246 1-33 1 2 1-231 1 242 1-135 1-96 1 96 1 131 1-140 1 15 1-39 1 78 1-19 1-93 1 63 1 50 1-75 1-17 1-25 1-17 1 162 1-92 1 87 1-77 1-128 1 117 1 2 1 51 1-21 1-46 1-12 1 21 1-89 1 185 1-119 1 118 1-129 1 48 1 49 1-38 1 36 1-62 1 104 1-131 1 9 1 51 1-18 1-51 1-25 1 62 1-4 1 108 1-45 1-45 1 25 1 35 1-55 1-68 1 10 1 140 1-92 1 42 1-69 1 50 1-19 1-9 1 39 1 39 1 12 1-103 1 58 1-16 1-48 1 24 1-40 1 96 1-114 1 49 1-14 1-72 1 74 1 30 1-23 1 6 1-15 1 44 1-49 1-41 1 123 1-87 1 46 1-50 1 60 1-107 1 60 1 57 1-5 1-28 1-60 1 27 1-48 1 100 1-11 1-35 1-100 1 125 1-49 1-5 1 131 1-54 1-32 1 17 1-38 1 2 1 89 1-7 1-6 1 92 1-20 1-107 1 22 1 61 1-53 1-16 1 15 1-88 1 61 1 117 1-160 1-21 1-24 1 53 1 25 1-58 1 37 1 32 1-31 1 57" fill="none" stroke="#0000ff" stroke-width="0.45" stroke-linejoin="bevel" vector-effect="non-scaling-stroke"/>
<path d="M47.5 155.3V182.8M66.5 150.0V182.8M68.5 161.6V182.8M74.5 161.6V182.8M80.5 166.4V182.8M88.5 171.0V182.8M111.5 150.0V182.8M436.5 129.0V182.8M441.5 166.0V182.8M457.5 163.8V182.8M468.5 163.0V182.8M473.5 161.6V182.8M478.5 169.0V182.8M495.5 139.5V182.8M527.5 170.0V182.8M542.5 138.0V182.8M547.5 121.0V182.8M568.5 159.0V182.8M590.5 150.0V182.8M603.5 160.0V182.8M622.5 165.0V182.8M632.5 150.0V182.8" stroke="#0000ff" stroke-opacity="0.4" stroke-width="1" fill="none"/>
<path d="M96.9 151.0V182.8M124.6 138.0V182.8M145.4 147.0V182.8M429.5 160.0V182.8M561.8 114.0V182.8M494.0 119.5V182.8M612.5 140.0V182.8" stroke="#0000ff" stroke-opacity="0.2" stroke-width="2" fill="none"/>
<path d="M108.3 156.4V182.8M168.8 167.0V182.8M178.7 143.7V182.8M500.1 165.0V182.8M454.5 123.0V182.8M487.0 112.0V182.8M640.5 158.0V182.8" stroke="#0000ff" stroke-opacity="0.2" stroke-width="3" fill="none"/>
<path d="M119.5 145.0V210.0" stroke="#0000ff" stroke-opacity="0.5" stroke-width="1.2" fill="none"/>
<path d="M119.5 165.0V202.0" stroke="#0000ff" stroke-opacity="0.5" stroke-width="1.2" fill="none"/>
<path d="M484.5 156.0V220.5" stroke="#0000ff" stroke-opacity="0.5" stroke-width="1.2" fill="none"/>
<path d="M484.8 170.0V214.0" stroke="#0000ff" stroke-opacity="0.4" stroke-width="1.2" fill="none"/>
<path d="M125.0 160.0V200.0" stroke="#0000ff" stroke-opacity="0.3" stroke-width="1.2" fill="none"/>
<path d="M595.2 172.0V203.0" stroke="#0000ff" stroke-opacity="0.35" stroke-width="1.2" fill="none"/>
<path d="M628.2 170.0V204.0" stroke="#0000ff" stroke-opacity="0.35" stroke-width="1.2" fill="none"/>
<path d="M47.5 97.1V189.4M66.5 120.8V191.0M68.5 106.9V187.6M74.5 94.3V195.1M80.5 84.0V189.5M86.5 75.3V190.5M88.5 113.0V193.1M104.5 105.3V193.9M113.5 114.1V188.8M118.5 110.1V188.3M123.5 100.8V191.8M125.5 95.3V192.4M128.5 105.8V187.4M135.5 86.1V191.3M138.5 96.7V187.4M140.5 117.2V191.9M142.5 108.7V193.8M149.5 99.0V191.8M157.5 97.2V192.0M162.5 106.9V188.2M172.5 112.7V192.3M179.5 105.1V189.5M434.5 95.1V190.3M436.5 124.0V187.7M439.5 96.7V188.6M441.5 103.2V188.6M443.5 121.1V186.1M446.5 97.6V191.3M448.5 102.7V189.8M450.5 104.3V191.4M460.5 93.7V195.7M465.5 115.9V188.7M473.5 99.2V189.3M478.5 116.9V187.2M499.5 97.6V191.0M513.5 81.6V193.2M542.5 98.3V189.5M547.5 104.1V189.2M552.5 106.1V191.7M557.5 98.8V192.4M563.5 99.2V193.5M568.5 103.7V191.6M575.5 108.0V193.0M579.5 114.3V192.9M585.5 104.8V188.0M602.5 108.7V190.6M609.5 102.2V190.5M625.5 66.1V194.7M627.5 116.4V186.1M631.5 130.1V188.0M638.5 117.2V189.3" stroke="#0000ff" stroke-opacity="0.42" stroke-width="1" fill="none"/>
<path d="M44.25 103.7V191.0M50.25 107.2V189.8M52.75 108.0V192.8M55.75 133.3V185.3M60.25 87.9V188.7M64.00 94.0V193.2M71.25 109.7V190.6M77.00 97.2V188.8M83.25 101.9V187.7M91.25 97.6V193.9M93.75 103.7V188.1M97.00 102.2V193.4M99.75 102.2V189.0M102.25 109.9V189.6M106.75 94.8V194.4M108.75 100.9V189.6M111.25 105.8V188.0M116.25 101.3V186.9M119.75 100.3V193.5M120.75 115.3V186.3M144.75 98.3V187.5M146.75 113.2V192.5M151.75 93.2V193.9M154.75 100.9V192.0M160.25 92.4V187.5M164.75 106.4V190.8M167.00 100.8V193.2M168.75 128.2V186.9M170.75 139.1V186.2M174.75 122.4V191.7M178.00 112.0V192.6M428.00 111.6V190.6M453.00 99.3V192.2M454.75 123.2V186.6M457.00 109.7V193.3M463.25 111.1V190.7M468.25 101.3V189.8M471.25 123.2V187.0M476.25 104.1V188.7M480.75 96.9V195.4M485.75 108.0V193.7M488.25 103.2V191.5M490.75 110.1V191.7M493.00 119.3V188.1M495.25 114.3V186.8M502.00 92.9V191.8M506.75 92.9V188.1M516.00 94.3V196.0M518.75 100.1V190.2M521.25 98.5V189.8M523.75 94.8V194.3M527.75 104.3V192.6M530.75 122.2V187.7M536.75 83.2V194.1M539.75 112.7V190.1M544.75 114.3V187.0M549.75 120.1V188.8M554.75 92.4V189.6M560.00 85.1V189.6M561.75 114.3V190.7M566.00 108.3V192.3M571.25 103.0V189.2M573.75 105.8V192.0M577.75 117.4V190.1M581.75 110.9V193.4M587.75 105.3V186.8M589.75 111.9V187.5M593.25 98.5V194.8M595.75 115.7V192.5M598.25 125.3V186.9M600.25 117.1V188.4M606.75 84.2V190.4M612.75 96.2V193.1M614.75 124.3V188.6M618.25 102.7V192.5M629.25 93.0V190.8M633.75 116.2V188.8M635.75 119.9V188.2M643.25 138.0V187.0" stroke="#0000ff" stroke-opacity="0.26" stroke-width="1.5" fill="none"/>
<path transform="matrix(0.5 0 0 0.1 43.3 331.25)" d="M0 1476L1 1482 2 1501 3 1485 4 1474 5 1479 6 1479 7 1495 8 1491 9 1461 10 1501 11 1511 12 1483 13 1456 14 1468 15 1500 16 1513 17 1473 18 1476 19 1479 20 1505 21 1517 22 1511 23 1515 24 1514 25 1507 26 1480 27 1502 28 1499 29 1486 30 1460 31 1484 32 1508 33 1472 34 1475 35 1491 36 1483 37 1494 38 1485 39 1493 40 1479 41 1513 42 1520 43 1528 44 1517 45 1479 46 1501 47 1505 48 1509 49 1480 50 1508 51 1498 52 1500 53 1526 54 1502 55 1473 56 1460 57 1465 58 1478 59 1478 60 1518 61 1532 62 1529 63 1491 64 1509 65 1486 66 1477 67 1456 68 1475 69 1457 70 1487 71 1521 72 1516 73 1525 74 1508 75 1496 76 1510 77 1493 78 1481 79 1482 80 1476 81 1523 82 1481 83 1499 84 1490 85 1493 86 1513 87 1481 88 1505 89 1516 90 1513 91 1491 92 1500 93 1483 94 1485 95 1459 96 1490 97 1488 98 1509 99 1520 100 1533 101 1498 102 1500 103 1504 104 1506 105 1466 106 1485 107 1474 108 1493 109 1475 110 1507 111 1495 112 1468 113 1516 114 1518 115 1482 116 1495 117 1482 118 1501 119 1513 120 1492 121 1505 122 1488 123 1480 124 1476 125 1500 126 1449 127 1495 128 1505 129 1479 130 1464 131 1472 132 1457 133 1446 134 1492 135 1500 136 1506 137 1495 138 1494 139 1504 140 1501 141 1497 142 1507 143 1486 144 1507 145 1436 146 1470 147 1464 148 1444 149 1473 150 1471 151 1502 152 1471 153 1475 154 1451 155 1476 156 1472 157 1490 158 1512 159 1501 160 1462 161 1493 162 1484 163 1470 164 1432 165 1442 166 1468 167 1490 168 1505 169 1466 170 1497 171 1493 172 1506 173 1497 174 1506 175 1527 176 1503 177 1516 178 1505 179 1491 180 1493 181 1484 182 1483 183 1488 184 1453 185 1460 186 1443 187 1479 188 1465 189 1510 190 1475 191 1499 192 1485 193 1496 194 1474 195 1517 196 1482 197 1488 198 1487 199 1489 200 1475 201 1476 202 1465 203 1447 204 1467 205 1500 206 1489 207 1522 208 1503 209 1515 210 1484 211 1492 212 1459 213 1477 214 1468 215 1493 216 1481 217 1493 218 1496 219 1491 220 1523 221 1512 222 1502 223 1488 224 1485 225 1483 226 1469 227 1475 228 1507 229 1515 230 1513 231 1510 232 1482 233 1490 234 1460 235 1441 236 1443 237 1459 238 1495 239 1481 240 1500 241 1494 242 1501 243 1486 244 1507 245 1500 246 1506 247 1531 248 1540 249 1487 250 1507 251 1484 252 1515 253 1461 254 1483 255 1458 256 1481 257 1504 258 1511 259 1511 260 1495 261 1524 262 1506 263 1510 264 1520 265 1530 266 1492 267 1483 268 1489 269 1485 270 1467 271 1484 272 1454 273 1498 274 1483 275 1491 276 1490 277 1493 278 1507 279 1481 280 1478 281 1502 282 1506 283 1490 284 1499 285 1518 286 1503 287 1513 288 1514 289 1519 290 1502 291 1505 292 1527 293 1483 294 1498 295 1492 296 1464 297 1429 298 1448 299 1465 300 1477 301 1500 302 1531 303 1498 304 1491 305 1503 306 1513 307 1521 308 1515 309 1489 310 1504 311 1506 312 1494 313 1484 314 1504 315 1479 316 1460 317 1434 318 1452 319 1444 320 1480 321 1457 322 1506 323 1485 324 1479 325 1482 326 1450 327 1438 328 1468 329 1509 330 1539 331 1522 332 1513 333 1476 334 1492 335 1489 336 1496 337 1518 338 1485 339 1522 340 1511 341 1524 342 1516 343 1474 344 1472 345 1466 346 1487 347 1507 348 1482 349 1464 350 1468 351 1458 352 1486 353 1507 354 1498 355 1484 356 1512 357 1490 358 1505 359 1482 360 1473 361 1487 362 1516 363 1472 364 1482 365 1439 366 1436 367 1439 368 1464 369 1413 370 1424 371 1441 372 1451 373 1461 374 1456 375 1500 376 1493 377 1508 378 1501 379 1495 380 1488 381 1479 382 1472 383 1494 384 1530 385 1537 386 1508 387 1514 388 1490 389 1486 390 1485 391 1495 392 1492 393 1504 394 1523 395 1495 396 1524 397 1528 398 1509 399 1538 400 1524 401 1501 402 1503 403 1493 404 1500 405 1499 406 1504 407 1493 408 1505 409 1491 410 1474 411 1512 412 1463 413 1495 414 1470 415 1472 416 1473 417 1514 418 1483 419 1510 420 1498 421 1481 422 1518 423 1484 424 1496 425 1463 426 1461 427 1472 428 1494 429 1479 430 1507 431 1492 432 1513 433 1513 434 1471 435 1466 436 1482 437 1519 438 1475 439 1486 440 1482 441 1471 442 1457 443 1515 444 1486 445 1482 446 1507 447 1495 448 1485 449 1479 450 1474 451 1493 452 1482 453 1461 454 1492 455 1471 456 1497 457 1457 458 1479 459 1478 460 1469 461 1456 462 1450 463 1464 464 1505 465 1487 466 1464 467 1470 468 1519 469 1488 470 1509 471 1504 472 1459 473 1482 474 1459 475 1483 476 1461 477 1484 478 1468 479 1526 480 1494 481 1494 482 1493 483 1506 484 1480 485 1457 486 1508 487 1444 488 1489 489 1458 490 1517 491 1481 492 1497 493 1484 494 1476 495 1436 496 1455 497 1471 498 1465 499 1493 500 1511 501 1485 502 1485 503 1447 504 1475 505 1503 506 1469 507 1499 508 1497 509 1491 510 1517 511 1477 512 1508 513 1468 514 1467 515 1512 516 1483 517 1469 518 1515 519 1475 520 1464 521 1472 522 1477 523 1519 524 1511 525 1500 526 1489 527 1452 528 1455 529 1444 530 1471 531 1482 532 1488 533 1471 534 1479 535 1485 536 1482 537 1452 538 1522 539 1506 540 1490 541 1483 542 1482 543 1487 544 1470 545 1473 546 1471 547 1496 548 1545 549 1477 550 1515 551 1526 552 1485 553 1493 554 1490 555 1481 556 1464 557 1454 558 1476 559 1478 560 1459 561 1464 562 1470 563 1451 564 1465 565 1485 566 1511 567 1489 568 1473 569 1481 570 1450 571 1483 572 1478 573 1490 574 1495 575 1493 576 1469 577 1455 578 1449 579 1487 580 1527 581 1483 582 1485 583 1481 584 1511 585 1500 586 1506 587 1470 588 1494 589 1462 590 1454 591 1479 592 1490 593 1519 594 1497 595 1485 596 1504 597 1469 598 1483 599 1496 600 1506 601 1506 602 1547 603 1539 604 1506 605 1492 606 1477 607 1475 608 1480 609 1467 610 1497 611 1499 612 1496 613 1466 614 1462 615 1476 616 1481 617 1477 618 1472 619 1483 620 1462 621 1485 622 1462 623 1492 624 1468 625 1466 626 1495 627 1493 628 1490 629 1488 630 1506 631 1504 632 1521 633 1518 634 1516 635 1489 636 1510 637 1476 638 1489 639 1481 640 1474 641 1505 642 1477 643 1475 644 1513 645 1505 646 1484 647 1468 648 1454 649 1482 650 1483 651 1469 652 1468 653 1480 654 1456 655 1488 656 1466 657 1468 658 1467 659 1504 660 1548 661 1513 662 1518 663 1482 664 1497 665 1471 666 1497 667 1501 668 1475 669 1468 670 1475 671 1496 672 1484 673 1499 674 1498 675 1509 676 1492 677 1465 678 1480 679 1478 680 1483 681 1500 682 1476 683 1484 684 1480 685 1481 686 1501 687 1516 688 1502 689 1522 690 1490 691 1475 692 1479 693 1479 694 1444 695 1475 696 1486 697 1507 698 1487 699 1471 700 1494 701 1488 702 1494 703 1479 704 1509 705 1496 706 1534 707 1508 708 1474 709 1481 710 1482 711 1494 712 1479 713 1492 714 1460 715 1448 716 1471 717 1466 718 1474 719 1503 720 1490 721 1467 722 1499 723 1517 724 1487 725 1489 726 1490 727 1491 728 1495 729 1487 730 1513 731 1493 732 1484 733 1536 734 1502 735 1506 736 1492 737 1511 738 1470 739 1498 740 1496 741 1487 742 1493 743 1493 744 1487 745 1469 746 1451 747 1484 748 1475 749 1473 750 1494 751 1477 752 1474 753 1457 754 1463 755 1476 756 1501 757 1506 758 1523 759 1505 760 1508 761 1512 762 1489 763 1482 764 1486 765 1511 766 1503 767 1497 768 1492 769 1477 770 1476 771 1494 772 1496 773 1515 774 1478 775 1493 776 1486 777 1496 778 1486 779 1513 780 1501 781 1488 782 1483 783 1507 784 1477 785 1485 786 1458 787 1463 788 1483 789 1495 790 1503 791 1454 792 1478 793 1472 794 1480 795 1458 796 1501 797 1465 798 1519 799 1482 800 1518 801 1516 802 1480 803 1481 804 1515 805 1531 806 1532 807 1502 808 1511 809 1494 810 1475 811 1490 812 1462 813 1470 814 1453 815 1479 816 1491 817 1462 818 1499 819 1489 820 1493 821 1460 822 1500 823 1498 824 1527 825 1511 826 1506 827 1496 828 1491 829 1497 830 1473 831 1502 832 1475 833 1502 834 1492 835 1483 836 1504 837 1508 838 1488 839 1491 840 1483 841 1506 842 1498 843 1518 844 1510 845 1509 846 1511 847 1494 848 1463 849 1492 850 1457 851 1494 852 1498 853 1506 854 1493 855 1514 856 1535 857 1528 858 1507 859 1486 860 1496 861 1488 862 1507 863 1506 864 1510 865 1514 866 1510 867 1483 868 1499 869 1516 870 1517 871 1536 872 1501 873 1508 874 1520 875 1510 876 1510 877 1486 878 1491 879 1485 880 1492 881 1466 882 1468 883 1500 884 1495 885 1510 886 1471 887 1481 888 1472 889 1515 890 1481 891 1523 892 1481 893 1498 894 1489 895 1501 896 1490 897 1494 898 1542 899 1451 900 1453 901 1500 902 1511 903 1497 904 1478 905 1508 906 1408 907 1405 908 1424 909 1443 910 1476 911 1495 912 1516 913 1487 914 1477 915 1490 916 1502 917 1472 918 1487 919 1470 920 1475 921 1476 922 1489 923 1482 924 1474 925 1487 926 1476 927 1514 928 1544 929 1538 930 1517 931 1490 932 1523 933 1514 934 1538 935 1486 936 1495 937 1477 938 1504 939 1504 940 1509 941 1487 942 1496 943 1491 944 1483 945 1482 946 1459 947 1479 948 1483 949 1484 950 1497 951 1507 952 1472 953 1476 954 1483 955 1507 956 1493 957 1495 958 1528 959 1512 960 1462 961 1503 962 1472 963 1470 964 1460 965 1445 966 1467 967 1460 968 1483 969 1498 970 1496 971 1470 972 1498 973 1488 974 1482 975 1473 976 1464 977 1453 978 1505 979 1523 980 1519 981 1487 982 1486 983 1494 984 1490 985 1467 986 1475 987 1496 988 1489 989 1514 990 1482 991 1496 992 1477 993 1485 994 1505 995 1468 996 1502 997 1501 998 1493 999 1491 1000 1466 1001 1484 1002 1468 1003 1495 1004 1493 1005 1512 1006 1500 1007 1513 1008 1520 1009 1498 1010 1498 1011 1468 1012 1470 1013 1433 1014 1462 1015 1480 1016 1468 1017 1505 1018 1489 1019 1470 1020 1509 1021 1470 1022 1460 1023 1467 1024 1476 1025 1462 1026 1475 1027 1520 1028 1506 1029 1520 1030 1495 1031 1476 1032 1501 1033 1520 1034 1524 1035 1498 1036 1513 1037 1528 1038 1506 1039 1508 1040 1536 1041 1518 1042 1471 1043 1497 1044 1494 1045 1498 1046 1472 1047 1517 1048 1493 1049 1536 1050 1519 1051 1521 1052 1514 1053 1491 1054 1474 1055 1489 1056 1462 1057 1462 1058 1496 1059 1471 1060 1484 1061 1514 1062 1526 1063 1498 1064 1499 1065 1508 1066 1469 1067 1486 1068 1482 1069 1500 1070 1508 1071 1509 1072 1518 1073 1495 1074 1505 1075 1484 1076 1527 1077 1517 1078 1512 1079 1492 1080 1496 1081 1520 1082 1470 1083 1491 1084 1486 1085 1497 1086 1504 1087 1512 1088 1506 1089 1523 1090 1538 1091 1492 1092 1515 1093 1509 1094 1489 1095 1510 1096 1502 1097 1510 1098 1509 1099 1503 1100 1498 1101 1501 1102 1475 1103 1470 1104 1495 1105 1494 1106 1503 1107 1495 1108 1481 1109 1480 1110 1485 1111 1513 1112 1491 1113 1510 1114 1509 1115 1497 1116 1494 1117 1472 1118 1479 1119 1465 1120 1484 1121 1490 1122 1501 1123 1490 1124 1513 1125 1501 1126 1515 1127 1510 1128 1511 1129 1516 1130 1511 1131 1488 1132 1479 1133 1524 1134 1461 1135 1469 1136 1463 1137 1462 1138 1503 1139 1502 1140 1523 1141 1509 1142 1494 1143 1531 1144 1481 1145 1467 1146 1449 1147 1507 1148 1525 1149 1523 1150 1525 1151 1521 1152 1478 1153 1525 1154 1508 1155 1497 1156 1534 1157 1510 1158 1492 1159 1464 1160 1504 1161 1503 1162 1486 1163 1481 1164 1484 1165 1453 1166 1465 1167 1481 1168 1480 1169 1475 1170 1478 1171 1509 1172 1490 1173 1482 1174 1482 1175 1476 1176 1474 1177 1512 1178 1495 1179 1487 1180 1490 1181 1491 1182 1495 1183 1496 1184 1482 1185 1529 1186 1499 1187 1486 1188 1489 1189 1500 1190 1480 1191 1495 1192 1466 1193 1484 1194 1483 1195 1457 1196 1476 1197 1471 1198 1447 1199 1446 1200 1481 1201 1487 1202 1477 1203 1498 1204 1489L1204 1570 1203 1547 1202 1571 1201 1573 1200 1580 1199 1575 1198 1568 1197 1596 1196 1571 1195 1559 1194 1554 1193 1585 1192 1575 1191 1581 1190 1573 1189 1578 1188 1569 1187 1573 1186 1536 1185 1542 1184 1535 1183 1527 1182 1534 1181 1544 1180 1586 1179 1569 1178 1569 1177 1555 1176 1548 1175 1563 1174 1559 1173 1570 1172 1588 1171 1591 1170 1589 1169 1601 1168 1597 1167 1582 1166 1594 1165 1586 1164 1611 1163 1571 1162 1572 1161 1571 1160 1576 1159 1574 1158 1618 1157 1624 1156 1613 1155 1599 1154 1623 1153 1577 1152 1580 1151 1564 1150 1542 1149 1562 1148 1576 1147 1589 1146 1558 1145 1571 1144 1577 1143 1569 1142 1584 1141 1582 1140 1557 1139 1561 1138 1550 1137 1535 1136 1536 1135 1575 1134 1576 1133 1555 1132 1588 1131 1570 1130 1581 1129 1540 1128 1579 1127 1552 1126 1579 1125 1626 1124 1624 1123 1608 1122 1591 1121 1606 1120 1590 1119 1586 1118 1552 1117 1555 1116 1549 1115 1576 1114 1569 1113 1592 1112 1594 1111 1595 1110 1581 1109 1570 1108 1564 1107 1592 1106 1593 1105 1591 1104 1614 1103 1587 1102 1580 1101 1559 1100 1560 1099 1553 1098 1562 1097 1571 1096 1577 1095 1600 1094 1616 1093 1607 1092 1578 1091 1579 1090 1579 1089 1591 1088 1573 1087 1597 1086 1589 1085 1596 1084 1581 1083 1608 1082 1573 1081 1602 1080 1610 1079 1609 1078 1612 1077 1580 1076 1617 1075 1587 1074 1568 1073 1599 1072 1610 1071 1612 1070 1607 1069 1583 1068 1585 1067 1567 1066 1564 1065 1557 1064 1561 1063 1579 1062 1579 1061 1614 1060 1591 1059 1611 1058 1572 1057 1523 1056 1547 1055 1559 1054 1551 1053 1612 1052 1621 1051 1602 1050 1601 1049 1601 1048 1609 1047 1578 1046 1560 1045 1592 1044 1595 1043 1594 1042 1581 1041 1619 1040 1630 1039 1585 1038 1589 1037 1558 1036 1584 1035 1564 1034 1552 1033 1558 1032 1538 1031 1572 1030 1570 1029 1570 1028 1597 1027 1587 1026 1550 1025 1579 1024 1568 1023 1552 1022 1586 1021 1578 1020 1559 1019 1582 1018 1583 1017 1585 1016 1586 1015 1600 1014 1586 1013 1554 1012 1566 1011 1531 1010 1532 1009 1547 1008 1577 1007 1582 1006 1593 1005 1589 1004 1605 1003 1563 1002 1535 1001 1584 1000 1591 999 1574 998 1608 997 1572 996 1538 995 1550 994 1547 993 1536 992 1561 991 1596 990 1584 989 1564 988 1592 987 1550 986 1568 985 1558 984 1577 983 1565 982 1586 981 1569 980 1616 979 1601 978 1584 977 1562 976 1553 975 1535 974 1553 973 1536 972 1541 971 1582 970 1586 969 1571 968 1569 967 1594 966 1587 965 1590 964 1605 963 1613 962 1573 961 1568 960 1561 959 1595 958 1593 957 1574 956 1589 955 1614 954 1580 953 1584 952 1581 951 1619 950 1607 949 1615 948 1596 947 1574 946 1539 945 1585 944 1570 943 1569 942 1615 941 1585 940 1605 939 1612 938 1591 937 1556 936 1578 935 1604 934 1598 933 1589 932 1602 931 1574 930 1591 929 1606 928 1629 927 1600 926 1602 925 1600 924 1613 923 1549 922 1561 921 1536 920 1530 919 1549 918 1570 917 1600 916 1629 915 1619 914 1667 913 1653 912 1675 911 1717 910 1712 909 1648 908 1642 907 1666 906 1682 905 1637 904 1635 903 1645 902 1632 901 1599 900 1566 899 1565 898 1582 897 1585 896 1558 895 1561 894 1544 893 1545 892 1588 891 1585 890 1606 889 1615 888 1620 887 1621 886 1601 885 1615 884 1618 883 1579 882 1571 881 1542 880 1563 879 1561 878 1595 877 1585 876 1608 875 1617 874 1602 873 1558 872 1573 871 1573 870 1582 869 1566 868 1574 867 1568 866 1563 865 1568 864 1582 863 1558 862 1541 861 1563 860 1554 859 1538 858 1596 857 1569 856 1589 855 1584 854 1607 853 1627 852 1592 851 1607 850 1584 849 1595 848 1586 847 1579 846 1589 845 1582 844 1585 843 1579 842 1552 841 1545 840 1530 839 1546 838 1565 837 1571 836 1570 835 1563 834 1595 833 1578 832 1584 831 1554 830 1576 829 1580 828 1588 827 1563 826 1581 825 1585 824 1574 823 1580 822 1575 821 1550 820 1584 819 1572 818 1579 817 1596 816 1582 815 1544 814 1556 813 1554 812 1560 811 1604 810 1614 809 1623 808 1624 807 1618 806 1646 805 1633 804 1611 803 1603 802 1584 801 1591 800 1614 799 1606 798 1597 797 1587 796 1631 795 1610 794 1633 793 1611 792 1576 791 1617 790 1585 789 1595 788 1578 787 1562 786 1560 785 1564 784 1558 783 1554 782 1580 781 1592 780 1625 779 1587 778 1575 777 1557 776 1557 775 1562 774 1602 773 1559 772 1593 771 1623 770 1608 769 1595 768 1612 767 1627 766 1587 765 1602 764 1592 763 1563 762 1546 761 1560 760 1564 759 1541 758 1542 757 1549 756 1537 755 1559 754 1570 753 1588 752 1600 751 1588 750 1575 749 1563 748 1573 747 1548 746 1531 745 1526 744 1538 743 1553 742 1564 741 1574 740 1594 739 1578 738 1558 737 1556 736 1558 735 1560 734 1571 733 1556 732 1564 731 1559 730 1553 729 1560 728 1557 727 1569 726 1578 725 1564 724 1601 723 1557 722 1571 721 1575 720 1605 719 1603 718 1596 717 1578 716 1563 715 1551 714 1573 713 1567 712 1560 711 1571 710 1567 709 1564 708 1594 707 1594 706 1589 705 1617 704 1618 703 1563 702 1594 701 1584 700 1601 699 1577 698 1535 697 1569 696 1611 695 1548 694 1551 693 1574 692 1566 691 1573 690 1585 689 1614 688 1590 687 1594 686 1579 685 1586 684 1584 683 1588 682 1577 681 1604 680 1568 679 1566 678 1582 677 1575 676 1612 675 1592 674 1572 673 1583 672 1560 671 1585 670 1560 669 1588 668 1577 667 1597 666 1613 665 1579 664 1571 663 1601 662 1601 661 1599 660 1604 659 1565 658 1566 657 1559 656 1578 655 1565 654 1573 653 1588 652 1576 651 1578 650 1584 649 1573 648 1575 647 1584 646 1583 645 1551 644 1593 643 1577 642 1557 641 1574 640 1588 639 1569 638 1576 637 1576 636 1590 635 1577 634 1592 633 1575 632 1585 631 1577 630 1583 629 1540 628 1565 627 1573 626 1563 625 1564 624 1550 623 1565 622 1589 621 1560 620 1573 619 1564 618 1570 617 1593 616 1574 615 1596 614 1579 613 1593 612 1597 611 1589 610 1563 609 1575 608 1588 607 1571 606 1559 605 1567 604 1577 603 1577 602 1613 601 1580 600 1584 599 1573 598 1588 597 1575 596 1580 595 1540 594 1581 593 1587 592 1563 591 1546 590 1551 589 1568 588 1556 587 1587 586 1596 585 1601 584 1578 583 1597 582 1564 581 1580 580 1587 579 1556 578 1572 577 1570 576 1572 575 1547 574 1560 573 1563 572 1572 571 1552 570 1550 569 1531 568 1525 567 1549 566 1575 565 1551 564 1604 563 1586 562 1555 561 1555 560 1560 559 1544 558 1545 557 1595 556 1578 555 1595 554 1617 553 1597 552 1545 551 1581 550 1552 549 1548 548 1587 547 1554 546 1577 545 1582 544 1594 543 1624 542 1594 541 1580 540 1590 539 1578 538 1582 537 1597 536 1606 535 1566 534 1586 533 1583 532 1650 531 1629 530 1615 529 1605 528 1574 527 1572 526 1593 525 1602 524 1609 523 1569 522 1590 521 1566 520 1534 519 1606 518 1565 517 1589 516 1577 515 1574 514 1566 513 1571 512 1537 511 1544 510 1549 509 1579 508 1560 507 1577 506 1584 505 1566 504 1555 503 1539 502 1543 501 1572 500 1575 499 1602 498 1592 497 1595 496 1580 495 1588 494 1576 493 1585 492 1606 491 1555 490 1605 489 1594 488 1600 487 1596 486 1591 485 1625 484 1614 483 1582 482 1566 481 1598 480 1610 479 1569 478 1632 477 1581 476 1595 475 1605 474 1604 473 1589 472 1627 471 1598 470 1582 469 1597 468 1589 467 1568 466 1582 465 1625 464 1627 463 1610 462 1565 461 1597 460 1592 459 1568 458 1590 457 1569 456 1572 455 1578 454 1579 453 1595 452 1602 451 1617 450 1573 449 1545 448 1564 447 1556 446 1585 445 1576 444 1615 443 1619 442 1575 441 1595 440 1553 439 1563 438 1560 437 1548 436 1560 435 1574 434 1578 433 1642 432 1599 431 1614 430 1618 429 1601 428 1596 427 1609 426 1584 425 1575 424 1594 423 1619 422 1605 421 1560 420 1555 419 1572 418 1568 417 1546 416 1566 415 1597 414 1594 413 1592 412 1580 411 1622 410 1582 409 1574 408 1565 407 1567 406 1568 405 1571 404 1567 403 1559 402 1554 401 1587 400 1571 399 1561 398 1572 397 1566 396 1576 395 1582 394 1606 393 1594 392 1578 391 1575 390 1604 389 1573 388 1582 387 1589 386 1626 385 1610 384 1601 383 1578 382 1566 381 1550 380 1559 379 1554 378 1552 377 1570 376 1561 375 1602 374 1568 373 1561 372 1612 371 1592 370 1579 369 1556 368 1596 367 1618 366 1601 365 1605 364 1669 363 1623 362 1603 361 1571 360 1579 359 1545 358 1553 357 1583 356 1572 355 1570 354 1568 353 1628 352 1591 351 1614 350 1584 349 1581 348 1606 347 1555 346 1559 345 1556 344 1544 343 1565 342 1577 341 1570 340 1552 339 1547 338 1562 337 1590 336 1602 335 1562 334 1567 333 1586 332 1587 331 1605 330 1577 329 1588 328 1539 327 1553 326 1584 325 1578 324 1618 323 1615 322 1593 321 1560 320 1542 319 1577 318 1564 317 1568 316 1583 315 1610 314 1598 313 1585 312 1627 311 1601 310 1618 309 1605 308 1589 307 1617 306 1608 305 1582 304 1592 303 1569 302 1558 301 1556 300 1560 299 1535 298 1549 297 1571 296 1574 295 1591 294 1588 293 1574 292 1565 291 1552 290 1576 289 1613 288 1591 287 1574 286 1567 285 1553 284 1532 283 1524 282 1518 281 1546 280 1536 279 1563 278 1569 277 1590 276 1603 275 1569 274 1580 273 1573 272 1566 271 1574 270 1558 269 1545 268 1575 267 1540 266 1556 265 1553 264 1559 263 1556 262 1566 261 1591 260 1575 259 1584 258 1591 257 1615 256 1572 255 1547 254 1568 253 1582 252 1591 251 1544 250 1589 249 1578 248 1580 247 1588 246 1556 245 1571 244 1542 243 1568 242 1632 241 1604 240 1591 239 1571 238 1587 237 1547 236 1541 235 1539 234 1578 233 1575 232 1608 231 1607 230 1581 229 1598 228 1581 227 1546 226 1564 225 1587 224 1578 223 1560 222 1600 221 1563 220 1590 219 1570 218 1590 217 1600 216 1576 215 1566 214 1561 213 1550 212 1537 211 1583 210 1567 209 1563 208 1582 207 1581 206 1582 205 1582 204 1561 203 1584 202 1559 201 1578 200 1576 199 1576 198 1577 197 1589 196 1573 195 1549 194 1550 193 1563 192 1597 191 1583 190 1597 189 1616 188 1587 187 1584 186 1564 185 1565 184 1567 183 1593 182 1579 181 1579 180 1581 179 1603 178 1583 177 1551 176 1564 175 1557 174 1566 173 1586 172 1588 171 1579 170 1584 169 1558 168 1597 167 1578 166 1593 165 1580 164 1597 163 1609 162 1571 161 1559 160 1600 159 1601 158 1597 157 1589 156 1593 155 1547 154 1545 153 1559 152 1592 151 1582 150 1583 149 1553 148 1529 147 1562 146 1559 145 1558 144 1562 143 1552 142 1546 141 1565 140 1595 139 1569 138 1553 137 1572 136 1578 135 1575 134 1580 133 1552 132 1549 131 1559 130 1564 129 1590 128 1569 127 1585 126 1551 125 1583 124 1549 123 1559 122 1557 121 1588 120 1583 119 1604 118 1592 117 1585 116 1575 115 1592 114 1574 113 1608 112 1569 111 1589 110 1556 109 1588 108 1575 107 1573 106 1579 105 1577 104 1577 103 1567 102 1597 101 1555 100 1550 99 1562 98 1581 97 1566 96 1556 95 1556 94 1583 93 1562 92 1581 91 1581 90 1596 89 1566 88 1544 87 1527 86 1537 85 1553 84 1556 83 1589 82 1620 81 1619 80 1593 79 1604 78 1621 77 1610 76 1586 75 1592 74 1591 73 1570 72 1575 71 1598 70 1584 69 1566 68 1548 67 1557 66 1558 65 1573 64 1572 63 1575 62 1566 61 1575 60 1577 59 1580 58 1576 57 1560 56 1549 55 1591 54 1560 53 1593 52 1580 51 1556 50 1565 49 1556 48 1544 47 1573 46 1567 45 1574 44 1563 43 1572 42 1573 41 1568 40 1553 39 1567 38 1557 37 1570 36 1566 35 1555 34 1538 33 1534 32 1577 31 1584 30 1573 29 1577 28 1613 27 1589 26 1606 25 1612 24 1637 23 1610 22 1597 21 1602 20 1599 19 1575 18 1556 17 1600 16 1610 15 1589 14 1590 13 1574 12 1592 11 1612 10 1613 9 1601 8 1614 7 1606 6 1581 5 1550 4 1557 3 1571 2 1552 1 1564 0 1582Z" fill="#0000ff"/>
<path transform="matrix(0.125 0 0 0.1 43.3 331.25)" d="M0 1519l1 41 1-33 1 72 1-93 1 90 1-61 1 6 1 31 1-151 1 142 1-49 1-26 1 99 1-107 1 60 1-50 1 88 1 9 1-111 1 35 1 18 1-24 1 5 1 81 1 52 1-31 1 7 1 24 1-76 1-6 1-24 1-11 1 27 1-7 1-14 1 46 1-13 1-31 1 32 1-6 1-20 1-65 1 47 1 27 1 11 1-20 1-93 1 192 1-125 1 12 1-24 1 79 1-134 1 47 1 44 1-10 1 40 1-35 1 9 1-56 1 32 1 21 1-37 1 8 1 15 1 87 1-128 1 111 1-12 1-43 1-28 1-40 1 139 1-150 1-8 1 105 1-13 1 19 1 6 1 47 1 27 1-97 1-27 1-98 1 176 1 69 1-140 1 33 1-45 1 41 1 43 1-27 1-81 1 29 1 64 1-90 1 107 1-40 1-35 1 71 1-8 1-54 1 4 1 9 1 15 1 29 1-16 1-165 1 154 1-96 1 93 1-89 1 3 1 39 1 50 1 33 1-107 1 105 1 2 1-129 1 6 1 59 1 12 1 17 1-42 1 35 1 43 1-32 1-41 1 75 1-26 1-44 1-62 1 59 1 6 1-77 1 122 1-13 1-69 1-11 1 27 1 144 1-158 1 1 1 33 1-35 1-39 1 74 1 55 1 58 1-115 1 50 1-11 1 32 1-81 1-27 1 18 1 87 1-116 1 34 1 154 1-166 1 144 1-53 1-122 1 28 1 64 1 10 1-57 1 101 1-102 1 30 1-44 1 37 1 39 1-53 1 23 1 43 1-12 1-6 1-41 1-28 1 31 1 44 1-31 1-36 1-22 1 81 1-48 1 26 1 65 1-33 1-26 1-2 1-4 1 7 1-36 1 53 1 30 1-93 1 51 1-62 1 69 1-91 1 110 1 0 1-85 1-45 1 113 1-105 1-4 1 31 1 52 1 86 1-31 1-33 1-53 1 29 1 21 1-33 1 79 1-93 1 61 1-104 1 53 1 44 1-13 1 45 1-76 1 58 1-45 1-65 1 41 1-7 1-109 1 98 1-24 1 74 1 50 1-76 1 75 1 76 1-170 1 14 1 69 1-111 1 63 1 19 1 20 1-93 1 70 1 2 1-2 1 19 1 42 1-48 1 11 1-78 1 107 1-113 1 71 1 21 1-41 1-12 1-4 1-28 1 20 1 112 1-54 1-135 1 97 1 122 1-137 1-78 1 31 1 53 1-7 1-21 1 38 1 16 1-102 1 98 1-65 1 122 1-39 1 16 1-74 1 51 1-1 1 10 1-46 1-33 1 64 1-48 1 24 1 24 1-38 1-40 1 158 1-131 1-42 1 75 1-36 1-8 1 17 1 10 1-41 1 6 1 38 1-19 1 64 1-31 1-12 1 7 1 24 1-73 1 35 1-14 1 75 1-27 1 8 1-21 1-87 1-40 1 109 1-10 1 29 1 17 1-70 1 64 1 36 1-91 1 43 1-26 1 1 1-28 1 16 1-12 1 44 1 0 1-21 1 6 1-10 1 4 1-76 1 101 1-29 1 14 1-53 1 92 1 19 1-100 1 18 1 22 1 41 1-88 1 36 1 47 1-5 1 6 1-90 1 70 1 37 1-20 1-71 1 20 1 57 1 24 1-25 1-43 1 36 1 7 1-31 1 30 1 29 1 15 1-22 1-13 1-51 1 9 1 57 1-118 1 141 1-136 1 132 1-49 1-70 1 0 1 99 1-55 1 60 1-46 1-33 1 51 1-108 1 54 1-10 1 65 1-23 1-21 1-24 1 6 1 51 1 20 1 12 1-142 1 40 1-12 1 70 1-98 1 70 1 12 1 31 1 38 1-89 1 26 1 4 1 56 1 28 1-32 1-96 1-53 1 127 1-14 1 61 1-25 1-69 1 59 1-48 1-60 1 76 1 51 1-154 1 61 1 21 1-4 1 24 1-40 1 94 1-63 1 53 1-51 1-29 1 34 1-86 1 80 1 30 1-46 1 4 1-5 1 13 1 7 1-48 1 118 1-114 1 71 1-26 1 46 1-131 1 197 1-53 1-44 1-54 1 97 1-89 1-34 1 112 1 100 1-202 1 61 1-6 1-70 1 21 1 75 1-39 1 53 1-68 1 26 1-29 1 61 1-47 1-4 1-10 1 22 1 90 1-108 1 72 1-93 1 43 1 0 1 30 1-110 1 118 1-107 1-13 1-39 1 55 1 69 1 41 1-6 1 39 1-157 1 57 1 84 1-111 1 41 1-48 1 34 1 82 1-72 1-48 1 50 1 0 1 93 1-44 1-45 1-40 1 75 1-13 1-123 1 151 1-34 1 39 1-51 1-40 1 0 1 22 1-38 1 57 1-26 1 66 1-81 1 67 1-75 1 91 1-54 1 1 1 0 1 17 1-64 1 44 1 56 1-22 1-67 1 83 1-110 1 89 1 59 1-110 1 74 1 72 1-110 1 54 1-60 1-19 1-4 1 40 1 60 1-122 1 49 1 2 1 62 1-30 1-36 1 15 1-16 1 48 1 31 1-86 1 21 1-59 1-12 1 71 1 9 1-78 1 18 1 87 1-136 1 80 1 20 1 52 1-42 1-44 1 9 1-46 1 21 1 84 1-32 1 7 1 17 1-1 1 13 1 3 1-43 1-22 1-45 1 108 1-18 1 116 1-133 1-22 1 45 1-36 1 53 1-3 1 43 1-15 1 37 1-184 1 18 1 50 1 13 1-108 1 61 1 83 1-50 1-17 1 3 1-2 1 122 1-56 1 64 1-126 1 37 1 46 1-177 1 47 1 85 1-62 1 67 1-71 1 7 1 58 1-48 1-52 1 31 1 100 1-75 1-22 1 28 1-48 1 97 1 106 1-236 1 158 1-60 1 96 1-163 1 139 1-92 1 10 1-115 1-36 1 92 1-15 1 56 1 2 1 79 1-96 1 167 1-190 1 53 1 9 1-75 1 187 1-56 1-90 1 55 1-58 1 53 1 58 1-101 1 16 1-20 1 1 1-94 1 180 1-22 1-110 1 123 1-51 1-55 1 41 1-6 1 29 1 90 1-130 1-2 1 19 1 40 1-31 1-27 1 60 1 8 1 33 1-90 1 94 1-40 1-101 1 180 1-59 1-100 1 70 1-93 1 153 1-8 1-147 1 141 1-64 1 15 1-83 1 126 1-61 1-46 1-18 1 60 1-32 1 69 1-116 1 63 1-14 1-40 1 62 1 11 1-33 1-32 1 140 1 18 1-124 1 42 1-10 1-91 1 101 1-4 1-62 1 93 1-42 1 17 1-17 1-2 1 60 1-30 1 5 1 33 1-74 1 46 1 27 1 23 1-53 1 35 1-77 1-28 1 70 1 12 1-13 1-56 1 72 1-65 1 59 1 80 1-188 1 35 1 50 1-17 1-1 1-65 1 87 1-27 1 23 1 14 1-44 1-2 1 42 1-128 1 227 1-189 1 120 1-14 1-72 1-22 1-27 1 160 1-207 1 188 1-81 1-54 1 69 1 8 1-52 1 47 1 64 1-124 1 0 1 30 1 12 1-31 1 6 1-10 1 33 1 107 1-124 1 0 1-13 1-31 1 147 1 76 1-191 1 14 1 32 1 59 1-140 1 99 1-124 1 89 1-35 1 178 1-154 1 69 1 32 1-52 1-145 1 161 1 70 1-173 1 124 1-49 1-127 1 45 1 32 1-27 1 75 1 74 1-69 1 20 1-26 1 5 1-35 1-22 1 81 1-14 1-29 1-46 1 77 1 76 1-140 1 111 1-42 1 4 1-53 1 112 1-147 1 80 1-71 1 66 1-127 1 107 1 20 1 15 1 72 1-171 1 128 1-66 1-24 1 4 1 30 1 25 1-49 1 26 1 55 1-21 1-60 1-12 1 131 1-107 1 21 1-47 1 34 1 13 1-50 1-9 1-4 1 51 1-26 1-62 1 93 1 32 1-62 1 71 1-100 1 98 1-28 1-80 1 115 1-34 1-42 1 2 1 108 1-143 1 65 1-18 1-30 1-3 1 30 1-33 1 35 1 74 1 0 1-19 1 4 1-29 1 85 1-103 1-25 1 0 1 29 1 42 1-122 1 109 1-10 1-20 1 61 1-7 1-53 1-41 1 57 1-32 1-4 1 9 1 50 1-86 1 57 1 36 1 8 1-102 1 42 1 38 1-86 1 15 1 38 1 70 1-63 1-23 1 69 1-183 1 136 1 43 1 28 1-129 1 59 1-5 1 36 1-72 1 19 1 68 1-31 1 38 1-79 1 22 1-46 1 18 1-16 1 142 1-63 1 20 1 12 1-29 1-83 1 9 1-30 1 41 1 1 1 38 1-2 1 2 1 20 1 20 1-59 1-45 1 90 1 8 1-88 1 45 1 63 1-59 1 90 1-109 1 27 1 33 1-57 1 27 1-82 1 92 1-52 1 67 1-62 1-16 1-9 1-8 1 105 1-140 1 1 1 85 1-15 1-33 1 124 1-69 1-28 1-5 1 0 1 77 1-97 1 4 1 21 1 44 1 22 1-39 1-23 1 66 1-29 1-44 1 5 1 59 1 48 1-76 1 58 1-8 1-91 1 17 1 67 1-42 1-9 1-22 1-33 1 32 1 131 1-128 1 33 1-7 1-5 1 11 1 13 1-93 1 4 1-16 1 29 1 5 1 21 1 80 1-114 1 68 1-8 1 66 1-45 1-152 1 141 1-52 1-12 1 28 1 40 1-16 1-25 1 36 1 41 1-14 1-107 1 34 1 2 1-9 1 26 1 46 1-120 1 98 1-26 1 4 1-45 1 59 1 50 1 0 1-21 1-68 1-19 1 58 1 9 1-44 1 22 1 32 1 17 1-49 1-39 1-4 1 16 1 55 1-80 1 156 1-108 1-28 1 84 1 29 1-163 1 102 1-3 1-91 1 49 1 85 1-66 1 12 1-62 1-19 1 161 1-48 1-115 1 79 1 2 1 29 1-50 1 49 1-31 1 2 1 37 1 37 1 9 1-45 1-4 1-52 1 20 1-4 1 53 1-21 1 8 1 26 1 12 1-169 1 93 1-46 1 46 1 53 1-114 1 41 1 30 1 58 1-62 1-43 1-22 1 53 1 26 1 7 1-42 1 69 1-47 1 106 1-178 1 31 1 52 1 17 1-54 1 35 1 18 1-6 1-3 1 28 1-80 1 110 1-76 1 9 1 59 1-85 1 94 1-47 1 8 1-22 1 4 1-57 1 44 1 3 1-5 1-13 1 39 1-55 1 20 1-9 1 16 1 0 1-1 1 31 1-39 1-30 1 61 1-22 1-28 1 37 1 5 1-22 1-3 1-58 1 62 1-43 1 53 1-66 1-14 1 6 1 141 1-70 1 56 1-61 1 5 1 46 1 5 1-19 1-27 1-20 1-44 1-19 1 117 1-48 1 18 1-2 1 50 1-77 1 7 1 47 1-38 1 50 1 76 1-78 1-22 1 32 1-53 1-93 1 92 1 14 1 57 1-61 1 0 1-70 1 94 1 13 1-5 1-131 1 17 1 103 1-198 1 232 1-12 1-94 1 67 1 38 1 10 1-64 1 4 1-2 1 55 1-121 1 110 1-86 1-55 1 157 1-42 1-24 1-20 1 27 1 54 1-83 1 36 1-77 1 98 1 38 1-13 1-24 1-53 1-29 1 129 1-102 1 116 1-299 1 189 1 16 1 47 1-122 1-55 1 153 1-36 1 4 1-39 1 113 1-105 1 54 1-183 1 273 1-106 1-41 1-54 1 42 1 62 1-30 1-47 1 159 1-159 1 97 1-105 1-47 1 147 1-14 1-30 1 23 1-89 1 3 1 139 1 8 1-67 1 35 1-90 1-33 1 93 1 56 1-27 1-59 1 13 1 16 1 17 1-80 1 56 1-35 1-64 1 198 1-119 1 42 1 13 1-58 1 80 1 3 1-239 1 47 1 61 1 138 1-30 1 29 1-47 1-31 1-28 1 131 1-161 1 57 1-54 1 74 1-55 1 153 1-150 1 99 1-5 1-48 1 19 1 143 1-254 1 130 1-27 1 2 1 23 1-23 1-20 1 30 1 65 1-44 1-123 1 72 1 33 1-116 1 145 1-155 1 116 1 77 1 75 1 4 1-4 1-183 1-79 1 49 1 77 1-50 1 147 1-60 1-47 1-150 1 104 1-48 1 26 1 104 1-63 1 56 1 46 1-112 1 0 1-17 1-10 1 102 1 10 1-52 1-4 1-87 1 63 1 55 1-76 1 12 1 70 1-133 1 197 1-109 1-57 1 63 1-25 1 142 1-126 1-27 1 90 1-74 1 31 1-16 1-32 1 36 1-47 1 59 1-129 1 78 1 116 1-29 1-104 1-51 1 127 1-42 1 61 1-176 1 87 1 27 1-146 1 254 1-255 1 119 1-107 1 94 1 81 1-46 1 42 1-223 1 223 1-229 1 108 1 117 1 127 1-215 1 32 1 187 1-375 1 185 1 44 1-157 1 32 1 53 1 43 1-35 1 280 1-168 1-23 1-301 1 211 1 66 1-38 1 75 1-112 1 98 1-75 1 6 1 47 1 16 1 36 1 51 1-90 1 15 1-8 1-20 1-31 1 20 1 14 1-109 1-22 1 168 1-68 1-2 1 86 1-105 1 67 1-129 1 158 1-82 1 81 1 8 1-99 1 32 1-58 1 19 1 132 1-159 1 130 1-42 1 32 1-71 1 10 1 12 1-138 1 172 1-7 1 36 1-166 1 158 1-54 1 26 1-12 1-28 1 99 1-58 1-68 1 117 1-117 1 72 1-84 1 60 1 32 1 16 1-161 1 58 1 89 1-182 1 175 1 17 1-125 1 89 1-89 1 108 1-96 1 43 1-2 1-23 1 89 1-13 1-31 1 14 1-20 1-30 1 56 1 10 1-81 1-77 1 86 1-2 1 57 1 16 1-70 1-48 1 83 1-36 1 50 1 37 1-19 1 39 1-82 1 41 1-129 1 17 1 90 1-31 1 37 1-97 1-57 1 125 1 60 1 4 1-40 1-20 1 14 1 9 1-16 1-6 1 20 1 48 1-40 1 54 1-58 1 10 1-57 1 34 1 61 1-9 1-133 1 142 1-89 1 30 1 0 1-39 1 62 1-45 1 33 1-43 1 38 1 27 1-42 1 4 1 14 1 43 1-82 1 87 1-54 1 14 1-54 1 11 1-24 1 122 1-72 1 53 1-80 1-73 1 128 1-68 1 152 1-102 1-56 1 70 1-14 1-2 1-44 1 49 1 5 1 12 1-46 1-17 1 51 1-42 1 15 1-29 1-51 1 62 1 11 1 24 1 21 1 20 1-46 1 15 1-51 1 38 1-59 1 39 1 36 1-5 1 82 1-156 1 69 1 58 1-77 1 55 1-3 1-27 1 29 1-74 1 53 1 27 1-63 1 62 1-24 1-72 1-53 1 191 1-24 1-32 1-65 1 59 1-52 1 66 1-48 1 52 1 38 1-44 1-59 1 21 1-28 1 27 1 66 1-64 1-13 1-53 1 13 1 35 1 41 1-94 1 152 1-33 1 15 1-56 1-60 1 102 1-172 1 166 1-151 1 137 1-69 1 111 1-70 1 39 1-122 1 139 1-112 1-59 1 113 1 21 1-58 1 194 1-160 1-25 1 26 1 64 1-78 1-26 1-7 1 66 1-11 1 9 1 40 1-24 1 10 1-40 1-12 1-103 1 70 1 15 1 48 1-108 1 10 1 76 1 19 1-16 1 0 1 58 1-57 1 8 1-54 1 29 1 24 1-69 1 24 1 29 1 30 1 15 1-74 1 14 1 25 1-25 1 82 1-124 1 36 1-59 1 136 1-69 1 44 1-88 1-64 1 122 1-20 1-50 1 121 1-55 1 27 1-27 1 67 1 22 1-11 1-86 1 5 1-40 1 14 1-25 1 32 1 15 1-24 1 50 1-35 1 12 1-125 1 193 1-109 1 8 1 20 1 14 1 23 1 43 1-50 1-8 1 48 1-77 1 99 1-125 1-52 1 126 1-22 1-101 1 215 1-77 1 30 1-33 1-92 1 7 1 74 1-74 1 118 1-39 1-87 1-37 1 38 1 15 1 44 1-57 1 63 1-76 1 62 1-30 1 121 1-72 1-46 1 110 1-90 1-13 1 46 1 21 1-14 1 95 1-70 1-167 1 185 1-57 1 84 1-216 1 155 1-32 1-35 1 52 1-204 1 139 1 52 1 131 1-164 1 96 1-142 1 96 1 59 1-143 1 55 1 27 1 24 1-17 1 29 1-100 1 137 1-87 1 50 1-106 1 47 1-58 1 133 1 55 1-164 1 54 1 58 1-92 1-32 1 81 1-32 1 62 1-20 1-48 1 14 1 7 1 23 1-77 1 19 1-94 1 142 1 4 1-32 1 43 1 20 1-11 1-25 1-11 1 20 1-66 1-13 1 14 1 21 1 47 1-14 1 55 1-131 1-9 1-15 1 136 1-160 1 87 1-10 1-64 1 68 1 51 1-51 1 54 1-13 1-90 1 156 1 21 1-150 1 25 1 12 1-43 1 99 1-118 1 121 1-7 1-114 1 67 1 1 1 44 1-115 1 8 1 109 1-67 1 4 1 19 1 81 1-142 1 26 1 112 1-36 1-137 1 53 1 116 1-52 1-17 1 16 1 1 1 9 1-18 1-63 1 114 1-141 1 47 1 31 1-94 1 25 1 39 1-13 1 35 1-28 1-32 1 12 1 91 1-20 1-37 1 40 1 19 1-143 1 139 1-57 1 78 1-86 1-41 1 90 1-8 1-45 1 36 1 26 1-66 1 3 1 74 1-108 1 170 1-20 1-161 1-17 1 113 1 85 1-63 1-77 1-18 1 19 1-13 1 138 1-50 1 0 1-18 1-117 1 55 1 91 1-35 1 133 1-190 1 84 1-58 1-3 1 140 1-149 1 64 1-9 1 55 1-72 1-62 1-15 1 42 1 16 1-87 1 109 1-34 1-113 1 228 1-18 1-23 1-34 1 1 1-32 1-98 1 33 1 108 1-81 1 26 1 39 1-82 1-27 1 147 1-125 1 124 1-30 1-45 1 71 1-34 1-16 1-28 1 47 1 1 1 35 1-74 1-14 1 102 1-92 1-73 1 69 1-24 1 28 1 36 1 24 1-8 1-9 1 91 1-22 1-163 1 186 1-13 1 2 1-98 1 32 1-49 1 102 1-156 1 115 1 29 1-131 1-6 1-9 1 195 1-94 1-22 1 36 1 103 1-172 1 15 1 24 1 88 1-10 1-124 1 88 1-40 1-6 1 14 1-71 1 69 1-81 1-51 1 97 1 93 1-47 1-72 1-10 1 109 1-49 1 11 1 53 1-81 1 18 1-97 1 142 1-102 1 50 1-36 1 55 1 9 1-90 1-17 1 98 1-74 1 69 1-24 1-99 1 47 1 34 1-20 1 59 1-20 1-37 1 93 1-38 1-144 1 144 1-15 1-102 1-37 1 146 1-99 1 176 1 12 1-87 1-152 1 193 1-79 1-14 1 164 1-78 1-121 1 20 1 53 1 138 1-156 1-27 1 139 1-117 1 56 1 53 1-145 1-36 1 137 1-96 1 67 1-3 1 27 1-8 1 6 1-63 1 57 1-76 1 63 1 29 1-53 1-89 1 56 1-42 1 188 1-58 1 18 1-59 1-3 1 106 1-70 1-45 1-44 1 194 1-250 1 135 1-69 1 110 1-74 1-51 1-8 1 67 1 79 1-133 1 66 1-15 1-67 1 151 1-215 1 201 1-130 1-41 1 98 1-105 1 165 1-106 1 28 1 53 1-68 1 95 1 18 1-172 1 32 1 117 1 33 1-62 1 9 1-108 1 93 1-64 1 69 1 64 1-189 1 91 1 75 1-64 1-66 1 124 1 30 1-18 1-142 1-79 1 205 1-26 1-16 1-22 1-103 1 69 1 49 1-84 1 59 1 111 1-79 1-155 1 117 1 37 1-46 1 70 1-26 1 21 1-17 1-71 1 53 1-2 1-13 1 30 1-31 1-24 1 49 1 63 1-99 1 126 1-137 1 28 1 72 1-20 1-18 1 105 1-179 1-32 1 97 1-28 1 39 1-58 1-67 1 32 1 143 1-44 1-88 1 127 1 7 1-40 1-65 1-14 1 227 1-140 1-124 1 140 1-60 1-14 1-2 1 13 1 85 1-160 1 40 1 39 1-62 1 79 1 31 1-3 1-64 1-45 1 21 1 61 1 64 1-43 1 11 1-91 1-35 1 211 1-92 1-48 1-77 1 72 1 1 1-60 1 91 1 2 1 40 1-72 1 137 1-106 1 19 1-22 1-20 1-38 1 19 1 49 1-56 1 59 1 15 1-28 1 47 1-109 1 28 1 15 1-52 1-21 1 114 1-24 1-38 1 69 1-62 1 52 1-31 1-41 1 7 1 94 1-74 1-97 1 111 1 9 1-30 1-10 1 111 1-143 1 42 1 4 1 83 1-40 1 71 1-181 1 73 1 191 1-91 1-47 1-29 1 75 1-101 1 7 1-10 1 40 1-116 1 171 1 58 1-102 1-147 1 3 1 164 1 24 1-128 1 156 1-150 1 76 1-15 1 13 1-18 1-20 1 13 1 6 1-15 1 7 1-141 1 54 1 113 1-49 1-63 1 138 1-73 1 45 1-2 1-92 1 31 1 118 1-123 1 115 1-92 1-50 1 81 1-103 1 107 1 42 1-49 1-4 1-68 1 82 1-94 1 66 1 27 1-19 1-15 1 18 1 55 1-61 1-58 1 63 1-61 1 102 1-60 1 9 1-17 1 61 1-63 1 17 1-4 1 34 1 56 1-47 1 102 1-184 1 51 1-33 1 87 1-94 1 31 1-21 1 68 1-104 1 18 1-82 1 56 1 107 1-25 1-97 1 88 1 58 1-71 1-6 1-14 1-19 1 97 1-24 1-24 1-60 1 25 1 49 1-72 1 129 1-56 1 15 1-86 1 124 1-179 1 182 1-126 1 71 1 5 1-37 1 30 1-59 1-20 1 21 1 82 1-53 1-5 1 23 1-51 1 40 1-27 1-21 1-5 1 92 1-2 1-105 1 161 1 1 1 16 1-157 1 40 1 115 1-127 1 110 1-97 1 27 1 5 1-59 1 33 1 61 1 72 1-69 1-15 1 1 1 9 1-45 1-7 1 55 1-53 1 100 1-23 1-67 1 22 1-3 1-7 1 7 1-18 1-8 1-32 1 62 1 14 1-44 1-71 1 54 1 68 1-146 1 139 1-29 1-80 1 77 1-30 1 8 1 33 1-45 1 7 1 22 1 96 1-135 1 32 1 81 1-46 1 3 1-95 1 62 1-15 1-44 1-48 1 236 1-158 1-84 1 74 1 60 1-117 1 76 1 33 1-5 1-40 1-28 1 46 1 88 1-69 1 18 1 18 1-51 1 11 1 24 1-41 1 46 1-77 1 88 1-6 1 54 1-57 1 11 1-72 1 13 1-43 1 6 1 80 1 12 1-14 1-96 1 174 1-148 1 152 1-109 1 72 1-107 1 18 1-59 1 21 1 49 1-54 1 127 1-39 1 19 1-129 1 101 1 26 1 33 1-73 1-42 1-37 1 155 1-17 1-120 1 97 1-86 1 20 1 43 1 6 1-7 1-85 1 14 1 195 1-198 1 18 1-31 1 18 1 35 1 11 1 40 1-70 1 75 1-66 1-4 1 25 1-9 1 87 1-54 1 15 1-30 1 17 1 34 1-7 1-37 1 41 1-73 1-7 1-77 1 42 1 14 1 94 1-42 1 57 1-95 1 28 1-27 1-13 1 67 1-32 1 73 1-35 1-74 1 57 1-50 1 9 1 94 1-75 1 38 1-25 1 20 1-20 1-11 1-40 1 27 1 34 1-29 1 69 1-14 1-67 1-12 1 88 1-77 1 45 1 11 1-10 1-14 1-15 1-32 1 56 1-37 1 52 1-37 1 1 1 30 1-26 1-27 1-58 1 87 1 50 1-2 1-32 1-53 1 90 1-180 1 152 1-76 1 167 1-172 1 74 1 18 1-31 1-62 1 61 1-69 1 33 1-6 1 32 1-65 1 20 1 19 1 25 1-27 1 2 1 44 1-67 1 129 1-76 1-32 1 7 1 32 1 1 1 1 1-74 1 26 1 91 1-100 1 14 1 108 1-90 1 13 1-34 1-53 1 62 1-53 1 100 1-1 1-34 1 18 1 28 1-90 1-50 1 152 1-55 1-25 1 25 1 71 1-95 1 62 1-13 1-12 1-59 1 108 1-11 1 24 1-75 1-59 1 13 1 79 1-12 1-18 1 1 1-13 1-40 1 123 1-28 1 33 1-103 1 31 1 25 1-51 1 57 1-34 1 29 1-116 1 66 1-27 1 67 1 17 1-6 1-52 1 78 1-25 1-64 1-52 1 84 1 18 1 24 1 31 1-66 1 12 1 3 1 52 1-92 1-1 1 49 1-35 1 66 1-122 1 58 1 41 1 23 1-75 1 61 1-77 1 63 1 32 1-22 1-130 1 54 1 78 1-64 1 94 1-73 1 50 1 43 1-61 1 55 1-73 1 28 1-27 1 0 1-81 1 79 1-82 1 93 1 3 1-15 1-54 1 41 1-26 1 14 1 78 1-88 1 97 1-92 1 60 1-98 1 112 1-49 1-23 1 51 1-119 1 107 1 20 1-40 1 17 1-60 1 106 1-58 1 25 1 3 1-45 1 50 1 30 1-106 1-2 1 100 1-31 1-81 1 172 1-168 1 49 1-35 1 40 1-19 1-64 1 55 1 32 1 110 1-117 1-3 1-11 1 61 1-44 1-1 1 28 1-24 1 22 1-30 1 45 1 19 1-43 1-49 1-29 1 96 1-92 1-16 1 196 1-89 1-83 1 91 1-96 1 39 1 61 1-55 1-26 1 37 1-12 1-39 1 64 1-47 1 122 1-15 1-136 1 76 1 36 1-94 1 19 1 38 1-42 1 25 1 113 1-122 1 6 1 8 1 30 1-26 1-17 1-5 1 153 1-133 1 60 1-145 1 130 1-32 1-36 1 35 1 16 1 53 1-115 1 81 1-51 1-96 1 36 1-24 1 114 1 7 1-75 1 97 1-74 1 30 1 10 1-20 1 27 1-37 1 50 1-11 1 5 1-63 1 82 1-47 1-23 1 29 1-29 1-1 1 49 1-76 1 42 1-54 1 6 1 6 1 34 1 52 1-122 1 75 1 99 1-177 1 22 1 67 1 36 1 2 1 6 1-23 1-11 1-7 1 5 1-21 1 43 1-12 1-69 1 24 1 46 1-1 1 25 1-122 1 39 1 48 1 27 1-77 1 15 1 5 1-32 1 49 1 15 1 39 1-35 1 66 1-119 1 55 1-73 1 154 1-96 1-130 1 133 1-17 1-33 1-51 1 180 1-44 1-24 1 3 1-8 1-79 1 120 1-19 1-37 1 24 1 8 1 33 1-65 1-48 1 83 1-19 1 28 1 10 1-32 1-55 1 70 1 11 1-120 1 89 1-26 1 73 1-48 1-75 1 50 1 78 1-5 1-75 1 105 1-61 1-32 1 5 1-43 1-103 1 150 1 0 1 39 1-71 1-78 1 77 1 5 1 19 1-12 1-23 1 22 1-4 1-26 1 20 1 61 1 3 1-69 1 11 1 28 1-66 1-11 1 51 1-58 1 106 1 11 1-14 1-20 1 59 1-80 1 15 1 6 1-26 1 36 1-33 1-20 1-25 1 103 1-73 1 8 1 42 1 1 1-59 1-5 1 7 1 12 1-2 1 38 1 26 1-45 1-106 1 248 1-32 1-72 1-81 1 37 1 87 1-112 1 43 1-44 1 137 1-138 1 24 1 69 1-12 1-49 1-6 1 9 1 82 1-98 1-6 1 23 1-1 1-1 1 7 1 12 1 3 1 7 1 8 1-100 1 25 1 32 1 60 1-141 1 81 1-74 1 129 1-34 1-100 1 169 1-78 1-39 1-44 1 87 1-89 1 79 1-105 1 71 1 122 1-154 1 24 1 12 1-99 1 136 1 0 1 16 1 11 1 7 1-127 1 88 1-3 1 54 1-78 1 18 1-78 1-19 1 47 1 158 1-115 1-20 1-60 1 36 1 106 1 29 1-47 1 17 1-94 1 113 1-159 1 123 1-58 1-42 1 37 1 12 1 29 1-61 1 106 1-72 1 87 1-83 1-5 1 16 1-44 1 91 1-87 1 80 1 32 1-63 1-111 1 142 1-11 1 9 1-116 1 80 1-40 1 73 1 10 1-32 1-4 1-53 1 73 1-23 1 69 1-6 1-22 1-35 1 5 1-2 1 0 1 10 1-55 1-15 1 56 1-19 1-1 1 97 1-62 1-5 1-50 1 54 1 50 1-149 1 81 1 49 1-32 1-14 1 54 1-99 1 49 1 22 1-41 1 12 1-38 1-2 1 21 1 12 1 75 1-81 1 45 1-10 1 8 1-76 1 48 1-34 1-1 1-1 1-20 1 23 1 56 1 41 1-64 1 67 1-86 1 26 1 64 1-129 1 55 1-95 1 80 1 35 1-22 1-9 1 1 1-1 1-6 1 93 1-30 1-36 1-47 1 78 1-36 1-31 1 49 1-83 1 73 1 15 1-45 1 27 1-9 1 16 1 44 1-145 1 58 1 27 1-57 1 60 1 36 1-127 1 80 1-15 1-31 1 43 1 106 1-242 1 30 1 108 1-88 1 31 1 61 1 18 1 21 1 15 1-65 1 80 1-88 1 131 1-196 1 64 1 53 1-74 1-69 1 96 1-17 1 56 1-127 1 43 1 143 1-72 1-36 1-28 1 127 1-65 1 70 1-79 1-20 1 92 1-74 1-8 1 11 1-46 1 46 1-71 1 42 1 60 1-136 1-16 1 195 1-19 1-85 1 49 1-7 1-32 1 4 1-52 1 36 1 12 1 14 1-29 1 18 1 57 1-8 1-17 1-16 1-27 1 24 1 44 1 35 1-67 1 42 1-20 1-62 1 17 1 2 1 3 1-18 1 48 1 7 1 25 1-61 1-14 1-15 1 0 1 50 1-48 1 103 1-105 1 91 1-72 1 38 1-17 1-22 1 115 1-103 1 24 1 37 1-63 1 18 1-22 1-20 1 72 1-36 1-47 1 30 1-3 1-53 1 173 1-169 1-32 1 121 1-90 1 45 1 61 1-23 1-69 1 58 1 22 1-1 1-120 1 156 1-122 1 124 1-130 1 2 1 102 1-58 1-1 1 10 1-69 1 115 1 73 1-72 1 4 1-85 1 76 1-10 1-73 1 92 1 52 1-66 1 3 1-57 1 27 1-9 1 53 1-20 1-15 1-33 1-19 1 38 1-52 1 127 1-33 1-124 1 96 1-95 1 102 1 8 1-8 1-29 1 61 1-84 1 50 1 2 1-22 1 9 1-62 1 58 1-47 1 89 1-86 1 44 1-9 1 1 1 20 1-43 1 51 1 16 1-51 1 9 1 14 1-15 1-18 1 0 1 50 1 6 1 17 1-7 1-34 1 0 1 8 1-38 1-4 1-3 1 17 1 33 1-51 1-11 1 69 1-82 1 70 1 14 1-10 1 2 1-53 1 40 1-62 1 76 1-48 1 62 1 11 1-85 1 18 1-20 1 169 1-48 1-54 1-89 1 60 1 44 1-17 1-26 1-16 1 36 1 3 1 64 1-77 1-95 1 146 1-75 1 100 1-142 1 42 1 40 1-119 1 141 1 14 1-51 1-28 1-46 1 57 1 26 1 3 1-87 1 96 1-57 1 61 1-67 1 23 1 84 1-48 1 12 1-30 1-51 1 83 1-62 1 94 1-128 1 97 1-50 1 20 1 22 1 71 1-84 1-31 1-53 1 33 1-41 1 137 1-25 1 43 1-83 1-13 1-27 1-15 1 16 1 139 1-183 1 206 1-109 1-16 1 43 1-46 1-112 1 174 1-110 1-31 1 40 1-10 1 26 1-25 1 102 1 35 1-217 1 104 1-29 1 62 1-9 1-38 1 114 1-183 1 153 1-80 1 131 1-117 1 153 1-165 1-60 1 129 1 64 1-144 1 19 1-15 1-21 1-11 1-40 1 215 1-234 1 279 1-63 1-20 1-15 1-49 1-43 1-13 1 108 1 79 1-171 1 10 1-75 1 156 1-225 1 120 1-36 1 61 1 144 1-38 1 70 1-135 1 162 1-120 1-13 1 30 1-6 1 41 1-91 1 112 1-186 1 133 1-40 1 181 1-138 1-214 1 143 1-4 1-10 1-65 1 184 1-129 1-71 1 115 1-143 1 135 1-94 1 96 1 4 1-46 1 97 1-99 1 71 1-148 1 163 1-6 1-186 1 61 1 60 1-94 1 138 1-107 1 48 1-75 1 82 1 2 1 164 1-63 1-4 1 35 1-12 1-155 1 164 1-43 1-49 1-42 1-15 1-4 1 109 1-78 1 28 1-50 1 75 1-67 1 91 1 4 1-97 1 24 1-40 1 70 1-126 1 129 1 40 1-76 1-46 1 53 1-46 1 56 1 67 1-26 1-50 1-71 1 91 1-36 1 65 1-43 1-56 1 24 1-108 1 117 1-28 1-34 1 67 1-17 1-54 1 83 1-35 1 59 1-6 1 22 1 9 1-8 1-15 1-67 1 97 1-26 1-20 1-44 1-15 1 4 1-11 1-28 1 85 1-46 1 38 1-76 1 188 1-117 1-39 1 68 1-90 1 54 1 8 1 14 1-51 1 2 1 31 1 54 1-39 1-39 1 10 1 75 1-21 1-49 1 18 1 41 1-74 1-76 1 135 1 54 1-112 1 72 1-30 1-13 1 84 1-20 1-152 1 145 1-177 1 147 1-93 1 46 1 20 1 32 1-59 1 11 1 10 1-96 1 175 1-111 1 57 1-59 1 26 1-15 1 99 1-93 1-12 1-25 1 132 1-117 1 79 1 22 1-29 1 25 1-11 1-129 1 61 1-7 1 46 1 21 1-32 1-19 1 21 1-22 1 73 1-39 1-63 1 114 1-7 1-1 1-99 1 50 1 16 1 36 1-36 1-37 1 33 1 22 1 0 1-53 1-71 1 147 1 39 1-163 1 42 1 60 1-21 1 41 1-67 1 7 1-42 1 70 1 1 1-2 1-18 1-70 1 110 1-32 1-37 1 26 1 46 1-65 1 23 1-8 1-1 1 56 1-111 1 8 1 62 1-42 1-25 1 43 1 79 1-36 1-102 1 88 1-8 1-106 1 30 1 104 1-28 1 37 1-99 1 56 1-5 1-83 1 16 1 187 1-56 1-58 1-8 1-148 1 280 1-159 1 38 1-72 1 101 1 14 1-37 1-49 1 56 1 45 1-123 1-2 1 34 1 113 1-92 1 72 1-26 1-55 1 48 1-85 1 4 1 28 1 7 1 46 1-61 1 34 1-17 1-13 1 64 1-10 1-47 1-27 1 38 1 82 1-43 1-27 1 27 1 6 1-37 1-42 1 78 1-43 1 4 1 115 1-97 1 51 1-137 1 56 1 62 1-120 1 54 1 66 1-52 1-21 1 125 1-166 1 18 1 45 1 88 1 10 1-50 1 21 1 60 1-209 1 170 1-75 1 2 1-5 1-27 1 20 1-39 1-5 1 62 1 13 1 12 1-43 1-38 1-17 1 27 1-14 1 39 1-7 1-89 1 130 1-47 1-24 1 22 1 8 1 19 1-17 1 1 1 17 1 52 1-132 1 52 1 25 1-9 1 27 1-48 1-5 1 29 1-37 1 31 1 60 1-47 1 88 1-54 1-48 1 60 1 6 1-59 1-31 1 42 1-24 1 8 1 119 1-165 1 26 1 9 1 65 1-205 1 264 1-50 1-22 1-24 1 18 1-6 1-46 1 100 1-58 1-9 1-90 1-32 1 61 1 139 1-70 1-66 1 41 1-4 1 45 1-157 1 182 1-113 1 130 1-129 1 49 1 46 1-12 1-30 1-2 1-12 1 21 1 3 1 15 1-4 1 0 1 51 1-66 1 48 1-37 1-65 1 63 1-86 1 32 1-29 1 135 1-23 1-82 1 17 1 44 1-64 1 114 1-122 1 101 1-109 1 67 1 3 1-70 1 42 1-34 1 31 1 43 1 59 1-92 1 67 1-134 1 69 1-59 1 31 1 47 1-22 1 74 1-100 1 2 1 23 1 24 1 13 1-73 1 69 1-2 1-4 1-76 1 55 1 57 1 24 1-23 1 33 1-94 1-135 1 148 1 1 1 65 1-59 1 48 1-68 1-53 1 18 1 142 1-67 1 119 1-198 1 88 1-60 1 19 1-52 1 9 1 5 1-24 1 109 1-53 1 50 1-75 1-45 1 0 1 83 1-15 1 13 1-41 1 6 1 73 1-28 1-148 1 94 1 45 1-95 1 83 1-5 1 57 1-176 1 139 1-41 1 161 1-224 1 20 1-25 1 236 1-171 1 2 1 75 1-42 1 41 1-36 1-1 1 29 1-78 1 39 1 27 1-63 1-49 1 82 1-23 1 40 1-3 1-14 1 32 1 2 1 24 1-67 1 1 1-73 1 94 1 4 1 7 1-4 1 19 1-23 1-69 1 147 1-98 1 45 1-56 1-37 1 6 1 61 1 17 1-141 1 199 1-104 1-20 1 71 1-14 1-28 1 60 1-119 1 105 1-53 1-32 1 122 1-82 1-70 1 122 1 4 1-7 1-33 1-65 1 78 1 72 1-47 1-108 1-47 1 42 1 147 1-82 1-19 1 59 1-164 1 66 1 36 1 61 1-37 1-35 1-47 1 121 1-13 1 65 1-84 1-54 1 36 1-73 1 55 1-51 1 49 1-44 1 98 1-59 1 41 1-37 1-78 1 83 1 25 1 8 1 54 1-31 1-37 1 39 1 53 1-38 1-37 1-15 1 4 1 21 1 66 1-63 1-22 1-16 1-23 1-47 1 40 1 26 1 12 1-16 1 31 1-18 1 31 1-15 1-46 1 17 1 66 1-72 1 54 1-99 1 88 1-5 1 20 1-29 1 25 1-72 1 69 1 7 1-28 1 15 1-39 1 28 1 61 1-64 1-53 1 106 1-77 1 106 1-51 1 7 1-53 1 30 1-42 1 61 1-8 1-50 1 43 1-9 1 58 1-78 1-20 1 11 1 3 1 17 1-21 1 50 1-51 1 52 1-88 1 39 1 76 1-35 1-39 1-37 1 105 1-65 1 24 1-94 1 111 1 26 1-23 1-19 1-11 1 45 1-83 1-60 1 5 1 42 1-14 1 46 1 39 1 18 1-45 1 4 1 9 1 83 1-30 1-65 1-85 1 132 1-69 1 29 1-90 1 141 1 6 1 83 1-120 1 67 1-180 1 138 1-40 1 25 1-11 1-22 1 14 1-25 1 34 1-17 1-39 1 60 1 48 1-41 1-94 1 58 1 12 1 11 1-129 1 96 1-22 1 50 1 3 1 27 1-17 1-88 1 47 1 59 1-62 1-25 1 19 1-62 1 111 1-44 1-28 1 42 1 71 1-80 1-51 1 0 1-13 1 103 1-6 1-90 1-106 1 180 1 11 1 5 1 33 1-24 1 131 1-232 1 30 1 124 1-79 1-107 1 98 1 24 1-9 1-30 1 51 1-36 1-49 1 51 1 53 1-16 1-28 1 18 1-2 1 15 1-9 1-53 1 51 1-80 1 27 1 15 1-5 1 9 1-72 1 162 1-67 1-25 1 47 1-58 1 28 1-133 1 126 1-55 1 111 1 1 1-121 1 93 1-32 1-84 1 130 1-58 1 35 1-9 1-3 1 52 1-119 1 81 1-86 1 78 1-37 1 78 1-34 1-42 1-22 1 31 1 70 1-3 1-115 1 30 1 71 1-71 1 92 1-117 1 27 1 38 1-69 1 63 1 34 1-125 1 48 1-5 1-2 1-11 1 46 1 74 1-35 1-31 1 11 1 23 1-62 1 32 1-52 1-21 1 84 1-31 1 39 1 39 1-58 1 75 1-68 1-61 1 77 1 29 1-12 1-177 1 24 1 128 1-47 1 20 1 92 1-76 1 0 1-24 1 4 1 9 1-51 1-33 1 37 1 93 1-3 1 56 1-119 1 7 1 72 1-65 1 8 1 29 1 6 1-3 1-80 1 32 1 38 1-78 1 23 1 20 1-29 1 62 1-26 1 4 1-15 1 15 1 84 1-74 1 37 1-34 1 37 1-37 1 2 1 124 1-69 1-82 1-21 1 44 1 26 1-24 1-9 1-105 1 133 1-128 1 146 1-61 1 80 1-16 1-38 1 16 1-56 1-53 1 102 1-71 1 39 1 21 1 15 1-25 1 10 1-16 1-40 1 44 1 19 1-61 1 45 1 42 1-78 1 5 1-12 1 40 1 50 1-14 1-30 1 30 1-42 1-53 1 34 1 73 1-30 1-27 1 66 1-63 1-5 1 28 1 49 1-111 1 82 1-111 1 128 1-54 1-22 1 41 1 1 1 3 1 9 1-28 1-25 1-30 1 83 1-58 1 142 1-49 1-67 1 9 1-13 1 30 1-8 1 41 1-47 1 2 1 45 1-131 1 90 1 57 1-106 1 3 1-45 1 47 1 15 1 23 1 8 1 8 1 6 1 18 1-35 1 10 1 37 1 20 1-113 1 32 1-57 1 138 1-29 1-126 1-45 1 127 1-10 1 109 1 15 1-155 1 82 1-89 1 38 1 63 1-38 1-20 1-52 1 27 1-84 1-4 1 104 1 36 1-39 1 91 1-87 1 170 1-286 1 175 1-23 1-8 1-17 1 24 1-89 1 0 1 105 1-109 1 50 1 106 1-102 1-35 1 28 1-14 1 50 1-44 1 103 1-123 1-4 1 67 1 50 1 3 1-81 1 3 1-39 1 17 1 47 1-113 1 130 1-61 1 76 1-64 1 41 1-119 1 37 1 108 1-87 1 35 1 20 1 34 1-111 1 117 1-121 1 18 1 91 1 72 1-111 1-97 1-39 1 78 1 42 1 55 1-90 1-89 1 113 1 3 1 4 1-3 1-18 1 62 1-55 1 58 1-93 1 43 1 104 1-127 1 38 1-30 1-4 1 51 1 43 1-65 1-64 1 169 1-88 1 57 1-100 1 65 1-34 1-70 1 36 1 77 1-66 1 97 1-120 1-7 1 96 1-42 1-105 1 138 1-1 1 13 1 19 1-58 1 126 1-130 1-17 1-82 1 150 1-73 1-17 1 72 1-45 1-24 1 17 1-69 1 49 1 66 1 24 1 23 1-95 1-38 1 111 1-54 1-14 1 8 1 16 1-98 1 75 1-62 1 89 1-25 1 73 1-10 1-13 1-7 1-84 1 57 1-15 1-8 1 17 1-1 1 8 1 72 1-54 1-3 1-37 1-62 1 132 1-137 1 52 1 100 1-44 1-39 1 69 1-44 1 90 1-169 1 47 1 3 1-21 1 75 1-76 1 101 1-28 1-21" fill="none" stroke="#0000ff" stroke-width="0.45" stroke-linejoin="bevel" vector-effect="non-scaling-stroke"/>
<path d="M47.5 473.6V484.8M66.5 472.0V484.8M68.5 475.4V484.8M74.5 475.4V484.8M80.5 476.9V484.8M88.5 478.3V484.8M111.5 472.0V484.8M436.5 465.7V484.8M441.5 476.8V484.8M457.5 476.1V484.8M468.5 475.9V484.8M473.5 475.4V484.8M478.5 477.7V484.8M495.5 468.8V484.8M527.5 478.0V484.8M542.5 468.4V484.8M547.5 463.3V484.8M568.5 474.7V484.8M590.5 472.0V484.8M603.5 475.0V484.8M622.5 476.5V484.8M632.5 472.0V484.8" stroke="#0000ff" stroke-opacity="0.4" stroke-width="1" fill="none"/>
<path d="M96.9 472.3V484.8M124.6 468.4V484.8M145.4 471.1V484.8M429.5 475.0V484.8M561.8 461.2V484.8M494.0 462.8V484.8M612.5 469.0V484.8" stroke="#0000ff" stroke-opacity="0.2" stroke-width="2" fill="none"/>
<path d="M108.3 473.9V484.8M168.8 477.1V484.8M178.7 470.1V484.8M500.1 476.5V484.8M454.5 463.9V484.8M487.0 460.6V484.8M640.5 474.4V484.8" stroke="#0000ff" stroke-opacity="0.2" stroke-width="3" fill="none"/>
<path d="M119.5 377.5V513.5" stroke="#0000ff" stroke-opacity="0.4" stroke-width="1.2" fill="none"/>
<path d="M119.5 431.0V510.0" stroke="#0000ff" stroke-opacity="0.55" stroke-width="1.2" fill="none"/>
<path d="M125.1 434.0V505.0" stroke="#0000ff" stroke-opacity="0.35" stroke-width="1.2" fill="none"/>
<path d="M125.1 443.0V500.0" stroke="#0000ff" stroke-opacity="0.45" stroke-width="1.2" fill="none"/>
<path d="M497.5 462.0V506.0" stroke="#0000ff" stroke-opacity="0.4" stroke-width="1.2" fill="none"/>
<path d="M47.5 464.2V489.6M66.5 460.9V490.9M68.5 465.7V492.2M74.5 457.3V494.6M80.5 460.0V497.8M86.5 451.7V496.9M88.5 460.3V496.0M104.5 459.3V497.2M113.5 462.6V492.7M118.5 464.1V489.3M123.5 461.2V496.2M125.5 455.0V495.0M128.5 462.6V493.6M135.5 459.6V490.3M138.5 464.5V492.9M140.5 462.2V494.1M142.5 461.1V492.5M149.5 457.1V490.5M157.5 455.0V492.1M162.5 465.6V494.2M172.5 462.2V494.1M179.5 455.9V492.8M434.5 452.6V494.4M436.5 465.0V494.6M439.5 457.3V493.4M441.5 457.6V496.6M443.5 468.6V492.3M446.5 457.0V493.5M448.5 464.3V493.5M450.5 458.1V492.9M460.5 460.0V492.2M465.5 468.5V490.8M473.5 458.2V490.4M478.5 463.1V490.6M499.5 462.6V495.9M513.5 454.6V495.0M542.5 463.5V489.9M547.5 464.2V495.1M552.5 460.4V492.9M557.5 456.4V497.8M563.5 460.2V490.8M568.5 457.5V494.6M575.5 458.2V496.4M579.5 467.5V491.6M585.5 460.2V495.4M602.5 464.7V492.5M609.5 459.1V490.4M625.5 457.5V492.0M627.5 465.4V493.4M631.5 469.4V490.7M638.5 461.0V492.3" stroke="#0000ff" stroke-opacity="0.42" stroke-width="1" fill="none"/>
<path d="M44.25 460.6V493.9M50.25 460.1V496.4M52.75 464.0V495.0M55.75 466.8V489.2M60.25 455.4V493.6M64.00 462.4V494.9M71.25 460.7V491.3M77.00 463.9V489.5M83.25 460.0V494.2M91.25 460.5V492.1M93.75 456.8V493.1M97.00 456.1V498.2M99.75 460.7V496.8M102.25 466.6V488.6M106.75 462.7V490.8M108.75 459.0V490.8M111.25 459.5V493.6M116.25 465.3V489.7M119.75 476.5V486.6M120.75 467.5V488.9M144.75 458.7V491.3M146.75 462.4V492.9M151.75 455.8V496.8M154.75 458.0V494.2M160.25 460.3V491.0M164.75 466.2V492.0M167.00 459.8V492.5M168.75 470.2V491.6M170.75 470.3V490.1M174.75 465.3V490.5M178.00 464.2V490.1M428.00 465.2V489.1M453.00 460.6V492.1M454.75 468.0V491.6M457.00 464.1V493.2M463.25 464.9V495.2M468.25 459.6V489.9M471.25 462.3V489.6M476.25 458.6V497.5M480.75 457.4V495.2M485.75 459.9V496.6M488.25 463.4V494.4M490.75 468.0V493.0M493.00 465.3V492.2M495.25 460.1V497.7M502.00 460.1V497.3M506.75 458.9V491.7M516.00 456.9V494.7M518.75 462.9V494.3M521.25 457.4V498.0M523.75 461.3V493.9M527.75 466.0V490.2M530.75 463.1V495.2M536.75 451.7V498.6M539.75 459.1V493.0M544.75 466.5V488.0M549.75 463.8V495.2M554.75 460.2V492.4M560.00 460.6V495.2M561.75 467.9V491.6M566.00 459.8V489.3M571.25 463.0V491.8M573.75 464.2V491.6M577.75 464.8V491.5M581.75 460.3V493.0M587.75 465.0V492.5M589.75 460.5V489.2M593.25 457.8V498.5M595.75 467.0V490.7M598.25 464.5V492.8M600.25 465.0V491.0M606.75 459.7V497.7M612.75 457.2V498.4M614.75 465.3V491.6M618.25 459.0V490.9M629.25 455.5V494.8M633.75 465.9V491.4M635.75 469.5V489.1M643.25 468.9V491.4" stroke="#0000ff" stroke-opacity="0.26" stroke-width="1.5" fill="none"/>
<path transform="matrix(0.5 0 0 0.1 43.3 616.25)" d="M0 1699L1 1703 2 1706 3 1704 4 1699 5 1694 6 1693 7 1687 8 1691 9 1681 10 1692 11 1690 12 1682 13 1697 14 1695 15 1702 16 1708 17 1700 18 1684 19 1680 20 1687 21 1689 22 1691 23 1696 24 1702 25 1703 26 1693 27 1695 28 1699 29 1695 30 1696 31 1700 32 1701 33 1702 34 1697 35 1686 36 1690 37 1692 38 1707 39 1702 40 1689 41 1701 42 1696 43 1694 44 1698 45 1694 46 1690 47 1694 48 1694 49 1689 50 1696 51 1701 52 1697 53 1699 54 1693 55 1695 56 1696 57 1695 58 1685 59 1694 60 1696 61 1702 62 1704 63 1698 64 1689 65 1694 66 1690 67 1678 68 1686 69 1687 70 1695 71 1675 72 1681 73 1701 74 1693 75 1699 76 1692 77 1693 78 1690 79 1698 80 1700 81 1695 82 1701 83 1697 84 1699 85 1704 86 1697 87 1687 88 1686 89 1695 90 1698 91 1693 92 1694 93 1689 94 1689 95 1678 96 1674 97 1686 98 1690 99 1685 100 1676 101 1682 102 1691 103 1691 104 1692 105 1683 106 1684 107 1692 108 1692 109 1699 110 1701 111 1695 112 1690 113 1691 114 1698 115 1687 116 1700 117 1701 118 1698 119 1689 120 1697 121 1697 122 1697 123 1701 124 1694 125 1692 126 1692 127 1687 128 1697 129 1691 130 1687 131 1688 132 1694 133 1688 134 1681 135 1690 136 1697 137 1697 138 1702 139 1700 140 1703 141 1708 142 1709 143 1709 144 1705 145 1700 146 1701 147 1704 148 1698 149 1706 150 1693 151 1700 152 1706 153 1706 154 1694 155 1695 156 1693 157 1701 158 1700 159 1696 160 1698 161 1684 162 1698 163 1689 164 1680 165 1687 166 1695 167 1701 168 1703 169 1692 170 1684 171 1690 172 1695 173 1687 174 1677 175 1681 176 1677 177 1683 178 1689 179 1687 180 1695 181 1687 182 1686 183 1684 184 1680 185 1694 186 1691 187 1695 188 1699 189 1700 190 1708 191 1705 192 1698 193 1695 194 1695 195 1699 196 1697 197 1690 198 1683 199 1688 200 1687 201 1693 202 1693 203 1692 204 1686 205 1699 206 1706 207 1696 208 1705 209 1696 210 1690 211 1686 212 1687 213 1684 214 1671 215 1696 216 1690 217 1678 218 1681 219 1668 220 1674 221 1687 222 1680 223 1692 224 1691 225 1694 226 1693 227 1688 228 1693 229 1688 230 1684 231 1682 232 1692 233 1692 234 1695 235 1686 236 1692 237 1688 238 1689 239 1688 240 1699 241 1695 242 1688 243 1690 244 1686 245 1684 246 1682 247 1681 248 1671 249 1673 250 1683 251 1689 252 1676 253 1671 254 1675 255 1683 256 1688 257 1681 258 1678 259 1683 260 1696 261 1688 262 1699 263 1701 264 1700 265 1697 266 1689 267 1698 268 1690 269 1700 270 1697 271 1697 272 1692 273 1703 274 1700 275 1706 276 1705 277 1702 278 1696 279 1699 280 1703 281 1703 282 1700 283 1700 284 1699 285 1698 286 1701 287 1700 288 1703 289 1705 290 1704 291 1703 292 1703 293 1705 294 1707 295 1704 296 1700 297 1702 298 1705 299 1701 300 1704 301 1701 302 1703 303 1701 304 1697 305 1695 306 1698 307 1695 308 1699 309 1697 310 1703 311 1701 312 1695 313 1701 314 1701 315 1700 316 1700 317 1693 318 1693 319 1698 320 1697 321 1704 322 1701 323 1697 324 1700 325 1699 326 1696 327 1693 328 1695 329 1698 330 1701 331 1702 332 1700 333 1702 334 1702 335 1702 336 1699 337 1695 338 1695 339 1697 340 1702 341 1701 342 1704 343 1700 344 1696 345 1700 346 1703 347 1702 348 1701 349 1700 350 1700 351 1704 352 1703 353 1700 354 1699 355 1703 356 1702 357 1702 358 1703 359 1700 360 1703 361 1699 362 1701 363 1703 364 1704 365 1707 366 1704 367 1702 368 1699 369 1699 370 1699 371 1699 372 1695 373 1695 374 1700 375 1704 376 1701 377 1701 378 1699 379 1700 380 1704 381 1698 382 1698 383 1706 384 1704 385 1697 386 1700 387 1692 388 1702 389 1695 390 1694 391 1694 392 1699 393 1697 394 1698 395 1697 396 1698 397 1697 398 1701 399 1696 400 1701 401 1699 402 1701 403 1701 404 1705 405 1705 406 1705 407 1698 408 1702 409 1701 410 1698 411 1700 412 1699 413 1696 414 1693 415 1698 416 1698 417 1696 418 1701 419 1703 420 1704 421 1701 422 1698 423 1699 424 1698 425 1698 426 1700 427 1700 428 1702 429 1699 430 1700 431 1701 432 1703 433 1702 434 1704 435 1699 436 1699 437 1697 438 1699 439 1705 440 1707 441 1707 442 1704 443 1704 444 1703 445 1702 446 1702 447 1701 448 1702 449 1708 450 1707 451 1706 452 1701 453 1698 454 1704 455 1701 456 1703 457 1704 458 1698 459 1698 460 1699 461 1699 462 1698 463 1698 464 1699 465 1698 466 1700 467 1699 468 1700 469 1701 470 1704 471 1702 472 1700 473 1697 474 1700 475 1704 476 1703 477 1702 478 1700 479 1701 480 1701 481 1698 482 1699 483 1697 484 1696 485 1704 486 1705 487 1706 488 1704 489 1703 490 1704 491 1703 492 1703 493 1704 494 1702 495 1703 496 1706 497 1705 498 1705 499 1699 500 1697 501 1697 502 1699 503 1701 504 1706 505 1705 506 1703 507 1701 508 1699 509 1696 510 1700 511 1700 512 1701 513 1697 514 1695 515 1700 516 1703 517 1705 518 1700 519 1704 520 1700 521 1701 522 1700 523 1698 524 1698 525 1697 526 1701 527 1701 528 1697 529 1694 530 1701 531 1699 532 1699 533 1702 534 1702 535 1701 536 1698 537 1701 538 1703 539 1697 540 1702 541 1699 542 1701 543 1700 544 1697 545 1701 546 1703 547 1696 548 1699 549 1697 550 1704 551 1701 552 1704 553 1703 554 1701 555 1702 556 1699 557 1703 558 1692 559 1696 560 1701 561 1700 562 1702 563 1702 564 1706 565 1703 566 1701 567 1700 568 1699 569 1699 570 1699 571 1698 572 1699 573 1701 574 1698 575 1698 576 1702 577 1696 578 1699 579 1699 580 1705 581 1700 582 1700 583 1701 584 1699 585 1694 586 1701 587 1701 588 1700 589 1702 590 1698 591 1698 592 1696 593 1692 594 1690 595 1696 596 1698 597 1698 598 1697 599 1697 600 1698 601 1704 602 1702 603 1703 604 1702 605 1705 606 1700 607 1699 608 1699 609 1699 610 1699 611 1695 612 1697 613 1696 614 1696 615 1697 616 1697 617 1702 618 1696 619 1703 620 1702 621 1705 622 1706 623 1704 624 1703 625 1703 626 1702 627 1703 628 1705 629 1704 630 1700 631 1698 632 1701 633 1701 634 1700 635 1700 636 1705 637 1706 638 1702 639 1707 640 1702 641 1703 642 1700 643 1701 644 1703 645 1704 646 1700 647 1700 648 1702 649 1699 650 1701 651 1697 652 1695 653 1697 654 1695 655 1699 656 1697 657 1698 658 1699 659 1697 660 1703 661 1697 662 1700 663 1702 664 1699 665 1698 666 1702 667 1700 668 1700 669 1703 670 1700 671 1705 672 1701 673 1696 674 1696 675 1696 676 1699 677 1700 678 1703 679 1700 680 1704 681 1701 682 1703 683 1700 684 1702 685 1703 686 1704 687 1704 688 1705 689 1703 690 1699 691 1692 692 1694 693 1695 694 1696 695 1700 696 1702 697 1699 698 1699 699 1698 700 1698 701 1697 702 1691 703 1696 704 1694 705 1694 706 1694 707 1698 708 1695 709 1701 710 1701 711 1699 712 1698 713 1698 714 1697 715 1697 716 1699 717 1697 718 1693 719 1701 720 1700 721 1700 722 1697 723 1697 724 1695 725 1698 726 1696 727 1699 728 1699 729 1698 730 1698 731 1696 732 1698 733 1696 734 1702 735 1701 736 1701 737 1702 738 1701 739 1697 740 1696 741 1691 742 1693 743 1696 744 1693 745 1699 746 1701 747 1699 748 1697 749 1696 750 1702 751 1697 752 1700 753 1703 754 1704 755 1705 756 1704 757 1702 758 1706 759 1700 760 1695 761 1698 762 1698 763 1698 764 1695 765 1696 766 1695 767 1699 768 1687 769 1686 770 1689 771 1700 772 1688 773 1704 774 1703 775 1708 776 1698 777 1710 778 1709 779 1694 780 1700 781 1699 782 1693 783 1701 784 1693 785 1689 786 1691 787 1685 788 1692 789 1688 790 1687 791 1686 792 1692 793 1683 794 1687 795 1688 796 1687 797 1690 798 1691 799 1702 800 1699 801 1701 802 1696 803 1701 804 1699 805 1704 806 1699 807 1692 808 1684 809 1690 810 1690 811 1692 812 1708 813 1694 814 1693 815 1688 816 1703 817 1697 818 1690 819 1699 820 1690 821 1698 822 1696 823 1687 824 1697 825 1705 826 1704 827 1700 828 1693 829 1698 830 1693 831 1691 832 1691 833 1686 834 1695 835 1694 836 1693 837 1685 838 1683 839 1689 840 1684 841 1690 842 1693 843 1698 844 1702 845 1692 846 1690 847 1696 848 1695 849 1683 850 1683 851 1684 852 1693 853 1695 854 1690 855 1698 856 1704 857 1700 858 1692 859 1684 860 1681 861 1676 862 1679 863 1687 864 1676 865 1691 866 1694 867 1710 868 1701 869 1700 870 1695 871 1694 872 1695 873 1698 874 1695 875 1691 876 1698 877 1690 878 1700 879 1699 880 1701 881 1698 882 1695 883 1693 884 1696 885 1694 886 1704 887 1704 888 1709 889 1697 890 1693 891 1689 892 1692 893 1683 894 1689 895 1687 896 1689 897 1693 898 1686 899 1690 900 1702 901 1696 902 1701 903 1694 904 1702 905 1697 906 1691 907 1692 908 1685 909 1682 910 1683 911 1696 912 1694 913 1696 914 1688 915 1693 916 1688 917 1689 918 1694 919 1700 920 1697 921 1687 922 1690 923 1692 924 1694 925 1690 926 1691 927 1690 928 1694 929 1695 930 1691 931 1690 932 1680 933 1703 934 1693 935 1691 936 1689 937 1683 938 1683 939 1688 940 1684 941 1690 942 1696 943 1688 944 1699 945 1705 946 1700 947 1706 948 1710 949 1693 950 1695 951 1688 952 1681 953 1678 954 1688 955 1692 956 1693 957 1688 958 1687 959 1691 960 1689 961 1689 962 1683 963 1682 964 1700 965 1692 966 1697 967 1702 968 1691 969 1690 970 1693 971 1693 972 1703 973 1699 974 1693 975 1689 976 1685 977 1683 978 1690 979 1691 980 1695 981 1689 982 1685 983 1685 984 1691 985 1687 986 1686 987 1688 988 1690 989 1701 990 1691 991 1695 992 1706 993 1695 994 1694 995 1692 996 1691 997 1687 998 1697 999 1698 1000 1700 1001 1695 1002 1699 1003 1708 1004 1694 1005 1686 1006 1681 1007 1690 1008 1691 1009 1687 1010 1683 1011 1693 1012 1691 1013 1699 1014 1690 1015 1694 1016 1686 1017 1692 1018 1687 1019 1696 1020 1695 1021 1694 1022 1689 1023 1698 1024 1702 1025 1688 1026 1685 1027 1691 1028 1696 1029 1696 1030 1702 1031 1702 1032 1701 1033 1698 1034 1697 1035 1699 1036 1695 1037 1698 1038 1698 1039 1690 1040 1689 1041 1694 1042 1694 1043 1688 1044 1680 1045 1692 1046 1687 1047 1686 1048 1701 1049 1695 1050 1680 1051 1684 1052 1698 1053 1690 1054 1694 1055 1697 1056 1691 1057 1695 1058 1688 1059 1702 1060 1709 1061 1690 1062 1697 1063 1698 1064 1702 1065 1688 1066 1696 1067 1704 1068 1705 1069 1689 1070 1692 1071 1691 1072 1691 1073 1704 1074 1691 1075 1701 1076 1690 1077 1695 1078 1685 1079 1689 1080 1697 1081 1698 1082 1695 1083 1684 1084 1684 1085 1681 1086 1685 1087 1691 1088 1697 1089 1688 1090 1685 1091 1689 1092 1688 1093 1694 1094 1691 1095 1698 1096 1696 1097 1689 1098 1701 1099 1711 1100 1689 1101 1698 1102 1697 1103 1697 1104 1694 1105 1684 1106 1690 1107 1689 1108 1700 1109 1699 1110 1700 1111 1680 1112 1701 1113 1686 1114 1689 1115 1689 1116 1676 1117 1678 1118 1680 1119 1697 1120 1688 1121 1692 1122 1690 1123 1694 1124 1687 1125 1684 1126 1684 1127 1690 1128 1681 1129 1688 1130 1690 1131 1688 1132 1691 1133 1695 1134 1690 1135 1690 1136 1694 1137 1698 1138 1704 1139 1704 1140 1697 1141 1698 1142 1696 1143 1700 1144 1693 1145 1694 1146 1694 1147 1683 1148 1689 1149 1690 1150 1705 1151 1696 1152 1694 1153 1696 1154 1700 1155 1697 1156 1694 1157 1694 1158 1705 1159 1701 1160 1704 1161 1692 1162 1685 1163 1679 1164 1684 1165 1687 1166 1691 1167 1698 1168 1705 1169 1699 1170 1692 1171 1694 1172 1681 1173 1692 1174 1683 1175 1690 1176 1695 1177 1706 1178 1709 1179 1682 1180 1698 1181 1690 1182 1688 1183 1693 1184 1691 1185 1685 1186 1687 1187 1680 1188 1681 1189 1679 1190 1678 1191 1693 1192 1698 1193 1683 1194 1700 1195 1700 1196 1684 1197 1679 1198 1688 1199 1692 1200 1685 1201 1678 1202 1691 1203 1683 1204 1688L1204 1725 1203 1727 1202 1719 1201 1721 1200 1714 1199 1718 1198 1709 1197 1708 1196 1725 1195 1728 1194 1730 1193 1727 1192 1723 1191 1719 1190 1712 1189 1715 1188 1715 1187 1710 1186 1715 1185 1719 1184 1722 1183 1725 1182 1724 1181 1731 1180 1721 1179 1719 1178 1731 1177 1725 1176 1724 1175 1726 1174 1723 1173 1715 1172 1712 1171 1718 1170 1724 1169 1720 1168 1730 1167 1715 1166 1716 1165 1723 1164 1722 1163 1720 1162 1719 1161 1731 1160 1740 1159 1727 1158 1732 1157 1731 1156 1719 1155 1725 1154 1726 1153 1727 1152 1720 1151 1731 1150 1725 1149 1723 1148 1727 1147 1720 1146 1726 1145 1730 1144 1732 1143 1723 1142 1724 1141 1723 1140 1728 1139 1720 1138 1729 1137 1732 1136 1725 1135 1732 1134 1723 1133 1733 1132 1735 1131 1728 1130 1726 1129 1719 1128 1716 1127 1712 1126 1720 1125 1725 1124 1729 1123 1724 1122 1726 1121 1727 1120 1731 1119 1729 1118 1716 1117 1716 1116 1708 1115 1719 1114 1729 1113 1722 1112 1729 1111 1710 1110 1717 1109 1725 1108 1728 1107 1714 1106 1706 1105 1714 1104 1722 1103 1718 1102 1726 1101 1725 1100 1728 1099 1727 1098 1730 1097 1719 1096 1727 1095 1718 1094 1722 1093 1723 1092 1725 1091 1713 1090 1715 1089 1717 1088 1723 1087 1727 1086 1725 1085 1725 1084 1725 1083 1724 1082 1719 1081 1726 1080 1732 1079 1723 1078 1711 1077 1724 1076 1717 1075 1727 1074 1722 1073 1725 1072 1722 1071 1716 1070 1718 1069 1725 1068 1727 1067 1730 1066 1731 1065 1727 1064 1725 1063 1724 1062 1722 1061 1726 1060 1734 1059 1726 1058 1726 1057 1722 1056 1723 1055 1721 1054 1720 1053 1721 1052 1717 1051 1714 1050 1721 1049 1727 1048 1723 1047 1715 1046 1725 1045 1716 1044 1706 1043 1713 1042 1720 1041 1720 1040 1716 1039 1715 1038 1719 1037 1714 1036 1721 1035 1727 1034 1716 1033 1720 1032 1718 1031 1719 1030 1728 1029 1727 1028 1722 1027 1721 1026 1722 1025 1730 1024 1735 1023 1738 1022 1726 1021 1719 1020 1724 1019 1719 1018 1723 1017 1722 1016 1725 1015 1735 1014 1726 1013 1729 1012 1725 1011 1725 1010 1719 1009 1718 1008 1726 1007 1720 1006 1715 1005 1714 1004 1728 1003 1723 1002 1732 1001 1722 1000 1725 999 1723 998 1718 997 1722 996 1726 995 1712 994 1717 993 1728 992 1724 991 1724 990 1723 989 1711 988 1715 987 1716 986 1719 985 1715 984 1713 983 1727 982 1716 981 1737 980 1734 979 1727 978 1726 977 1721 976 1717 975 1723 974 1735 973 1735 972 1721 971 1730 970 1717 969 1720 968 1720 967 1722 966 1734 965 1720 964 1712 963 1707 962 1717 961 1716 960 1716 959 1723 958 1733 957 1720 956 1726 955 1729 954 1730 953 1727 952 1732 951 1719 950 1725 949 1727 948 1730 947 1728 946 1724 945 1724 944 1730 943 1711 942 1719 941 1713 940 1722 939 1716 938 1713 937 1717 936 1713 935 1728 934 1725 933 1724 932 1710 931 1718 930 1721 929 1712 928 1718 927 1725 926 1719 925 1724 924 1723 923 1725 922 1725 921 1722 920 1717 919 1722 918 1721 917 1721 916 1724 915 1735 914 1726 913 1735 912 1734 911 1737 910 1735 909 1722 908 1728 907 1720 906 1724 905 1730 904 1728 903 1716 902 1723 901 1726 900 1727 899 1724 898 1712 897 1718 896 1717 895 1721 894 1720 893 1719 892 1729 891 1718 890 1727 889 1729 888 1729 887 1732 886 1737 885 1725 884 1724 883 1726 882 1732 881 1724 880 1722 879 1735 878 1728 877 1720 876 1719 875 1717 874 1720 873 1721 872 1716 871 1718 870 1715 869 1720 868 1730 867 1741 866 1735 865 1746 864 1728 863 1743 862 1723 861 1732 860 1721 859 1728 858 1724 857 1725 856 1725 855 1727 854 1716 853 1722 852 1731 851 1715 850 1729 849 1721 848 1731 847 1733 846 1726 845 1729 844 1718 843 1718 842 1719 841 1729 840 1728 839 1719 838 1715 837 1727 836 1729 835 1738 834 1744 833 1733 832 1732 831 1723 830 1710 829 1717 828 1720 827 1722 826 1730 825 1736 824 1731 823 1722 822 1727 821 1715 820 1715 819 1719 818 1721 817 1720 816 1728 815 1730 814 1728 813 1739 812 1724 811 1726 810 1723 809 1718 808 1720 807 1737 806 1735 805 1741 804 1732 803 1734 802 1725 801 1725 800 1726 799 1726 798 1720 797 1731 796 1716 795 1716 794 1727 793 1734 792 1724 791 1729 790 1722 789 1725 788 1720 787 1727 786 1726 785 1726 784 1726 783 1728 782 1737 781 1727 780 1729 779 1723 778 1729 777 1737 776 1731 775 1721 774 1714 773 1717 772 1716 771 1717 770 1713 769 1722 768 1721 767 1721 766 1716 765 1717 764 1713 763 1717 762 1714 761 1716 760 1715 759 1715 758 1716 757 1719 756 1715 755 1713 754 1713 753 1715 752 1710 751 1712 750 1711 749 1711 748 1717 747 1721 746 1719 745 1718 744 1715 743 1715 742 1714 741 1714 740 1714 739 1711 738 1717 737 1718 736 1720 735 1717 734 1715 733 1715 732 1714 731 1715 730 1720 729 1722 728 1715 727 1722 726 1713 725 1720 724 1714 723 1717 722 1712 721 1715 720 1717 719 1715 718 1715 717 1716 716 1715 715 1710 714 1710 713 1711 712 1712 711 1713 710 1715 709 1712 708 1714 707 1714 706 1711 705 1717 704 1710 703 1714 702 1718 701 1719 700 1714 699 1713 698 1714 697 1713 696 1717 695 1715 694 1719 693 1712 692 1717 691 1713 690 1717 689 1715 688 1719 687 1716 686 1713 685 1715 684 1712 683 1715 682 1713 681 1718 680 1719 679 1718 678 1721 677 1718 676 1716 675 1709 674 1714 673 1713 672 1718 671 1715 670 1718 669 1713 668 1716 667 1713 666 1717 665 1716 664 1716 663 1714 662 1717 661 1712 660 1715 659 1716 658 1716 657 1715 656 1716 655 1717 654 1713 653 1714 652 1712 651 1715 650 1717 649 1719 648 1713 647 1711 646 1715 645 1714 644 1715 643 1715 642 1710 641 1711 640 1714 639 1717 638 1719 637 1716 636 1720 635 1721 634 1723 633 1715 632 1715 631 1716 630 1714 629 1720 628 1718 627 1715 626 1715 625 1717 624 1718 623 1721 622 1723 621 1724 620 1719 619 1722 618 1715 617 1717 616 1708 615 1714 614 1713 613 1709 612 1712 611 1710 610 1712 609 1712 608 1714 607 1715 606 1719 605 1715 604 1721 603 1721 602 1717 601 1715 600 1717 599 1717 598 1716 597 1717 596 1717 595 1712 594 1712 593 1713 592 1711 591 1717 590 1715 589 1713 588 1715 587 1712 586 1711 585 1714 584 1715 583 1715 582 1715 581 1714 580 1713 579 1714 578 1715 577 1715 576 1710 575 1711 574 1714 573 1711 572 1718 571 1718 570 1716 569 1718 568 1721 567 1715 566 1713 565 1719 564 1721 563 1715 562 1715 561 1714 560 1713 559 1711 558 1710 557 1715 556 1715 555 1716 554 1710 553 1712 552 1713 551 1713 550 1712 549 1712 548 1712 547 1711 546 1711 545 1713 544 1712 543 1719 542 1717 541 1721 540 1715 539 1718 538 1712 537 1715 536 1716 535 1710 534 1712 533 1717 532 1711 531 1715 530 1714 529 1712 528 1712 527 1712 526 1712 525 1712 524 1711 523 1711 522 1718 521 1719 520 1714 519 1717 518 1716 517 1717 516 1717 515 1718 514 1714 513 1711 512 1711 511 1713 510 1712 509 1715 508 1720 507 1719 506 1723 505 1722 504 1723 503 1717 502 1717 501 1714 500 1713 499 1713 498 1719 497 1714 496 1714 495 1716 494 1720 493 1716 492 1716 491 1717 490 1717 489 1718 488 1720 487 1717 486 1720 485 1719 484 1713 483 1717 482 1712 481 1712 480 1715 479 1709 478 1711 477 1715 476 1716 475 1714 474 1711 473 1712 472 1715 471 1711 470 1723 469 1718 468 1718 467 1715 466 1716 465 1714 464 1712 463 1713 462 1716 461 1717 460 1714 459 1716 458 1715 457 1720 456 1716 455 1717 454 1715 453 1714 452 1718 451 1717 450 1715 449 1717 448 1716 447 1713 446 1711 445 1711 444 1711 443 1714 442 1713 441 1715 440 1715 439 1714 438 1715 437 1714 436 1713 435 1717 434 1718 433 1720 432 1721 431 1716 430 1715 429 1718 428 1720 427 1717 426 1714 425 1713 424 1715 423 1712 422 1715 421 1715 420 1717 419 1714 418 1716 417 1715 416 1719 415 1715 414 1713 413 1719 412 1724 411 1714 410 1713 409 1709 408 1715 407 1716 406 1718 405 1719 404 1713 403 1715 402 1713 401 1715 400 1715 399 1720 398 1720 397 1715 396 1717 395 1718 394 1716 393 1716 392 1714 391 1716 390 1718 389 1722 388 1717 387 1719 386 1721 385 1723 384 1718 383 1718 382 1718 381 1716 380 1720 379 1717 378 1713 377 1714 376 1720 375 1720 374 1715 373 1715 372 1712 371 1718 370 1713 369 1715 368 1714 367 1713 366 1715 365 1715 364 1715 363 1713 362 1712 361 1713 360 1720 359 1720 358 1714 357 1716 356 1717 355 1715 354 1712 353 1722 352 1724 351 1721 350 1722 349 1721 348 1718 347 1716 346 1722 345 1720 344 1721 343 1719 342 1719 341 1725 340 1723 339 1714 338 1716 337 1715 336 1717 335 1712 334 1711 333 1711 332 1714 331 1719 330 1718 329 1725 328 1717 327 1715 326 1715 325 1712 324 1711 323 1710 322 1712 321 1714 320 1719 319 1710 318 1714 317 1713 316 1713 315 1713 314 1714 313 1712 312 1716 311 1713 310 1715 309 1711 308 1711 307 1709 306 1710 305 1710 304 1717 303 1717 302 1712 301 1716 300 1717 299 1716 298 1718 297 1715 296 1715 295 1715 294 1719 293 1721 292 1724 291 1719 290 1716 289 1718 288 1717 287 1719 286 1718 285 1721 284 1718 283 1720 282 1718 281 1723 280 1715 279 1721 278 1715 277 1721 276 1720 275 1716 274 1713 273 1715 272 1713 271 1718 270 1715 269 1709 268 1721 267 1728 266 1728 265 1724 264 1725 263 1726 262 1723 261 1714 260 1724 259 1707 258 1709 257 1706 256 1719 255 1715 254 1718 253 1709 252 1725 251 1721 250 1724 249 1724 248 1716 247 1726 246 1713 245 1722 244 1716 243 1722 242 1710 241 1715 240 1725 239 1726 238 1737 237 1734 236 1734 235 1729 234 1728 233 1709 232 1716 231 1716 230 1712 229 1717 228 1719 227 1719 226 1720 225 1719 224 1725 223 1726 222 1709 221 1710 220 1713 219 1706 218 1705 217 1711 216 1714 215 1720 214 1719 213 1713 212 1722 211 1731 210 1718 209 1717 208 1730 207 1730 206 1729 205 1724 204 1721 203 1722 202 1723 201 1727 200 1730 199 1726 198 1724 197 1734 196 1732 195 1725 194 1730 193 1724 192 1729 191 1728 190 1728 189 1735 188 1727 187 1712 186 1715 185 1720 184 1708 183 1712 182 1718 181 1724 180 1719 179 1725 178 1727 177 1722 176 1715 175 1721 174 1714 173 1726 172 1720 171 1732 170 1723 169 1714 168 1723 167 1725 166 1723 165 1717 164 1717 163 1725 162 1720 161 1713 160 1721 159 1722 158 1721 157 1724 156 1717 155 1712 154 1724 153 1731 152 1734 151 1731 150 1725 149 1723 148 1722 147 1729 146 1735 145 1717 144 1724 143 1734 142 1730 141 1730 140 1724 139 1727 138 1720 137 1726 136 1732 135 1723 134 1725 133 1729 132 1719 131 1720 130 1723 129 1721 128 1738 127 1729 126 1718 125 1718 124 1711 123 1725 122 1722 121 1713 120 1721 119 1730 118 1726 117 1736 116 1730 115 1729 114 1725 113 1725 112 1725 111 1718 110 1730 109 1723 108 1719 107 1710 106 1714 105 1714 104 1717 103 1718 102 1720 101 1714 100 1715 99 1729 98 1724 97 1720 96 1713 95 1726 94 1713 93 1713 92 1723 91 1725 90 1733 89 1734 88 1729 87 1740 86 1729 85 1729 84 1734 83 1742 82 1735 81 1736 80 1734 79 1734 78 1720 77 1727 76 1718 75 1719 74 1716 73 1725 72 1716 71 1725 70 1722 69 1716 68 1720 67 1727 66 1725 65 1725 64 1726 63 1729 62 1725 61 1726 60 1734 59 1720 58 1718 57 1729 56 1732 55 1727 54 1726 53 1733 52 1735 51 1734 50 1720 49 1727 48 1723 47 1714 46 1726 45 1725 44 1719 43 1722 42 1724 41 1722 40 1721 39 1717 38 1720 37 1718 36 1716 35 1724 34 1716 33 1720 32 1725 31 1730 30 1724 29 1720 28 1712 27 1710 26 1712 25 1715 24 1720 23 1713 22 1729 21 1730 20 1739 19 1728 18 1721 17 1729 16 1726 15 1719 14 1722 13 1722 12 1720 11 1724 10 1717 9 1716 8 1719 7 1719 6 1721 5 1714 4 1729 3 1721 2 1728 1 1722 0 1725Z" fill="#0000ff"/>
<path transform="matrix(0.125 0 0 0.1 43.3 616.25)" d="M0 1727l1-40 1 22 1-14 1-26 1 23 1-28 1 15 1-26 1 94 1-9 1 19 1-73 1 34 1-50 1 26 1 8 1-80 1 60 1 27 1 37 1-87 1 12 1 78 1-36 1-14 1 65 1-47 1-55 1 101 1-73 1-50 1 91 1-4 1-29 1-13 1 1 1 95 1-38 1-40 1 20 1-68 1 67 1 4 1-109 1 94 1 41 1-44 1 10 1-39 1 10 1 32 1 0 1 6 1-71 1-29 1 83 1-25 1 8 1 33 1 1 1-1 1 58 1-46 1-48 1-20 1 46 1 6 1-37 1-52 1 106 1-5 1-12 1-32 1 45 1-42 1 39 1-42 1 27 1 3 1-36 1 57 1-12 1-42 1-2 1 16 1 71 1-85 1 10 1 21 1 52 1-89 1-27 1 39 1-26 1 62 1-28 1 28 1 17 1-26 1 21 1-6 1 2 1-14 1-5 1-15 1 43 1-49 1 72 1-64 1-1 1 90 1-74 1-51 1 23 1 33 1 1 1-28 1 5 1-22 1 22 1-28 1 18 1 43 1 6 1-18 1-29 1 39 1-54 1 76 1-40 1 20 1-39 1 6 1 10 1 37 1-12 1-9 1-54 1 53 1-38 1-15 1 60 1-8 1 61 1-66 1-39 1 58 1-45 1-18 1 16 1 32 1-28 1 37 1-11 1-108 1 110 1 5 1-29 1-4 1-15 1 49 1 10 1-3 1-56 1-8 1 54 1-7 1-14 1 29 1-13 1-48 1 74 1-55 1-28 1 78 1-75 1 37 1 19 1-48 1 27 1 11 1 13 1 9 1-11 1-12 1-34 1 35 1-19 1 27 1-37 1 24 1-64 1 47 1 96 1-77 1 14 1-65 1 44 1-48 1 3 1 88 1-26 1-18 1 53 1-171 1 96 1 76 1 5 1-61 1 19 1 53 1 7 1-75 1 22 1-38 1 21 1-47 1 118 1-100 1 60 1 2 1-76 1 117 1-75 1 11 1-65 1 109 1-74 1-5 1 21 1-5 1 11 1 56 1-40 1 69 1-133 1-4 1 111 1-122 1 65 1 62 1-32 1-65 1 31 1 42 1-79 1 45 1 13 1 35 1-88 1-13 1 91 1-36 1-1 1-20 1 56 1-147 1 85 1-28 1 57 1-109 1 75 1 90 1-114 1 44 1 39 1-39 1 34 1-63 1 2 1 80 1-84 1-16 1 147 1-155 1 28 1-6 1-24 1 56 1 30 1-44 1 18 1-19 1 89 1-62 1-103 1 77 1-19 1 21 1 22 1-40 1 2 1 39 1-6 1-29 1 48 1 1 1-65 1 1 1 44 1-59 1 26 1 14 1 29 1-42 1 42 1-14 1 17 1-58 1 34 1 4 1-22 1-59 1 48 1 81 1-48 1-3 1 20 1 12 1-79 1 28 1-7 1 17 1-16 1 11 1 11 1 12 1 25 1-6 1-23 1 31 1-45 1 45 1-62 1 84 1-67 1-37 1 19 1 48 1-58 1 39 1-9 1 12 1 54 1-72 1 4 1-10 1 53 1-56 1 45 1 15 1-4 1-37 1 20 1-63 1 23 1-12 1 44 1 28 1 17 1-43 1-49 1 1 1 92 1-60 1-13 1 52 1-31 1 22 1-26 1-2 1 17 1-7 1 21 1-29 1 106 1-121 1-21 1 93 1-44 1-38 1 64 1 1 1-32 1-39 1 98 1-74 1-14 1 89 1-69 1-49 1 55 1 5 1-58 1 74 1-16 1-46 1-16 1 93 1-30 1-22 1-25 1 27 1 31 1-41 1 90 1-71 1-18 1-11 1 20 1 56 1-71 1 46 1-2 1-52 1 100 1-135 1 41 1-3 1 39 1-33 1 3 1 15 1 71 1-80 1 8 1-30 1 24 1 6 1 5 1 58 1 11 1-60 1 20 1-39 1 57 1-23 1-41 1 22 1 27 1-43 1 7 1 47 1-14 1-31 1 14 1 2 1 10 1 70 1-105 1 6 1 15 1 56 1-46 1-13 1 7 1-4 1 63 1-85 1 1 1-5 1-24 1 38 1-47 1 111 1-83 1 38 1-68 1 79 1 2 1 6 1-50 1 57 1-75 1 4 1 34 1-4 1 30 1-95 1 41 1 68 1-73 1 74 1-50 1-12 1 35 1 9 1-32 1-6 1 11 1-5 1 53 1-40 1 31 1-35 1 36 1-6 1 5 1-17 1-4 1-5 1-23 1 53 1-90 1 70 1 16 1-39 1 28 1 2 1-26 1 58 1-92 1 95 1-27 1-70 1-2 1 32 1 71 1-44 1 9 1 2 1-12 1-27 1-18 1 23 1 42 1-34 1-9 1-23 1 56 1-7 1 6 1 19 1-56 1 34 1-56 1 3 1 32 1-8 1 23 1-23 1 4 1-39 1 59 1-59 1 15 1 11 1 72 1-9 1-46 1-7 1 56 1-119 1 61 1 13 1-32 1 65 1 67 1-99 1 32 1-40 1-8 1 68 1-29 1-67 1-24 1 63 1-10 1-10 1 2 1-115 1 44 1 113 1-16 1-64 1 25 1-15 1 8 1 72 1 22 1 11 1-39 1-53 1 42 1-116 1 158 1-55 1-49 1-30 1 103 1-46 1-15 1 105 1-107 1 23 1 20 1-47 1 30 1 29 1-73 1 70 1-68 1 129 1-114 1 40 1-19 1 3 1-27 1 59 1-20 1 4 1-26 1 16 1-9 1-2 1 62 1-45 1-10 1-3 1-72 1 53 1-20 1 60 1-45 1-39 1 86 1 5 1 34 1-3 1-130 1 143 1-62 1-42 1 28 1-4 1 17 1-54 1 114 1-47 1-14 1 81 1-52 1-23 1-78 1 97 1-75 1 78 1-98 1 85 1-58 1-62 1 63 1-15 1 95 1-61 1-6 1 34 1-17 1 51 1-23 1 29 1 10 1-82 1 54 1-39 1-49 1 24 1 57 1-13 1 14 1-22 1-55 1 1 1 70 1 27 1-74 1 99 1-85 1 89 1-86 1 7 1 22 1 24 1-57 1 3 1 10 1-73 1 86 1 10 1-68 1-40 1 112 1-16 1 10 1-27 1-16 1 52 1-17 1 24 1-40 1 18 1-27 1 26 1-16 1 70 1-38 1-8 1-25 1 50 1-22 1-56 1 21 1 38 1-22 1 10 1-18 1 16 1 18 1-30 1 48 1-64 1-9 1 4 1 63 1-35 1-29 1 18 1-3 1 5 1-22 1 32 1 56 1-73 1-78 1 61 1 1 1-58 1 118 1 14 1-28 1-40 1-63 1 35 1 50 1-67 1 49 1 2 1 21 1 36 1-34 1 38 1 45 1-56 1-95 1 70 1 48 1-66 1-90 1 101 1-98 1 75 1 83 1-75 1-57 1 53 1 57 1-56 1-31 1 102 1-63 1-8 1-28 1 55 1 18 1-56 1 12 1 14 1 16 1-48 1 48 1-100 1 94 1-60 1 3 1 28 1 22 1-48 1 39 1 44 1-44 1-14 1 97 1-128 1 135 1-97 1 16 1 83 1-76 1 31 1-55 1 38 1-32 1-4 1-27 1 68 1-83 1 123 1-33 1-20 1 39 1 0 1-62 1 59 1-28 1-45 1-9 1 42 1-31 1-1 1 6 1 24 1 22 1 13 1-86 1 28 1 19 1-2 1-27 1-5 1 32 1 34 1-64 1 43 1 37 1-98 1-15 1 50 1 12 1 3 1 8 1 4 1 12 1 1 1-10 1-14 1-7 1-14 1 53 1-57 1 56 1 1 1-52 1 81 1-59 1 69 1-56 1-42 1-7 1 74 1 0 1-105 1 45 1-34 1 106 1-111 1 42 1 57 1-47 1-48 1 30 1 63 1 20 1-106 1 55 1 21 1-12 1 9 1 26 1-45 1-21 1 68 1-97 1 72 1-42 1-22 1-4 1-24 1 133 1 11 1-23 1-40 1-36 1 58 1-1 1-23 1 5 1-103 1 120 1-113 1-21 1 99 1 2 1-2 1 17 1-1 1 26 1-61 1-19 1 62 1-58 1 45 1 8 1-28 1 16 1-68 1 9 1 0 1 18 1 78 1-29 1-16 1-73 1 100 1-80 1 127 1-61 1-4 1-57 1 5 1 33 1-13 1 70 1 14 1-106 1-47 1 50 1 50 1-31 1 75 1-53 1 4 1-50 1 31 1-23 1 79 1-38 1 18 1-53 1 17 1 4 1 74 1-134 1 78 1-14 1-94 1 39 1 49 1-19 1 70 1-19 1-49 1 42 1-9 1 38 1-26 1 1 1-4 1-71 1 57 1-6 1-31 1 43 1-31 1 80 1-48 1-28 1 41 1-39 1 26 1-31 1-16 1 44 1 30 1-4 1-36 1 4 1 58 1-94 1-8 1 43 1-12 1 0 1 50 1-37 1-14 1 19 1 44 1 4 1-30 1 1 1 2 1 48 1-63 1 8 1-13 1 38 1-59 1 16 1-25 1 47 1-44 1 13 1 24 1-19 1 33 1-24 1-3 1 2 1-12 1-16 1 67 1-58 1 100 1-39 1-140 1 61 1 35 1-106 1 142 1-28 1 37 1-62 1 50 1 48 1-21 1-31 1-54 1 9 1-12 1 16 1 32 1-79 1 80 1-36 1 35 1-8 1-4 1 22 1-58 1 29 1-32 1-10 1 20 1 14 1-10 1 33 1-30 1 73 1-35 1-47 1 71 1-57 1-14 1 22 1 27 1-53 1-34 1 19 1 88 1-108 1 81 1-71 1 50 1-22 1-29 1 85 1-82 1 46 1-25 1 30 1 5 1 44 1-43 1-42 1 64 1-77 1 23 1 73 1-50 1-15 1 19 1-19 1-21 1 48 1-28 1 15 1 5 1-9 1 6 1-2 1-7 1 22 1-21 1 2 1 2 1-4 1 3 1-1 1 15 1-8 1-6 1 4 1-3 1 9 1-24 1 16 1-6 1-1 1 10 1 0 1 4 1-10 1-6 1 4 1 13 1-15 1 0 1 5 1 11 1 2 1-7 1 5 1-11 1-6 1-1 1 3 1 0 1-1 1 5 1 7 1-19 1 1 1 26 1-22 1 6 1 6 1-15 1 17 1-4 1-2 1-12 1 18 1-8 1 7 1-9 1-11 1 3 1 11 1 0 1 14 1-27 1 11 1-10 1 9 1 2 1 2 1 12 1-20 1 0 1 12 1-9 1 3 1 6 1 2 1 5 1-3 1-18 1 2 1 7 1-8 1 7 1 4 1-6 1 5 1 0 1-5 1 11 1-17 1 7 1 6 1-8 1 12 1 2 1-7 1-4 1 6 1 3 1-21 1 11 1 10 1-5 1-9 1 7 1 8 1-26 1 6 1 22 1-17 1 1 1 12 1-4 1 3 1-10 1-12 1 14 1 5 1-15 1 12 1 7 1-2 1-1 1-9 1-2 1-1 1 0 1 24 1-22 1 17 1-13 1 1 1 7 1-2 1 0 1-6 1 1 1-12 1 11 1-2 1 1 1 4 1-6 1 10 1-6 1 5 1-2 1 9 1-2 1-13 1 3 1-2 1 5 1 4 1-9 1-3 1 13 1 7 1-10 1-3 1 10 1-2 1-11 1-4 1-3 1 12 1-5 1 4 1 5 1-3 1-7 1 11 1-2 1-4 1 5 1 3 1-6 1-12 1 7 1 9 1-9 1 6 1-7 1 3 1 11 1-6 1-6 1 0 1 4 1-5 1 9 1-3 1-1 1 13 1-19 1 9 1-5 1 6 1-12 1 7 1 2 1-11 1 11 1 8 1-20 1 12 1 4 1-5 1-11 1 6 1 8 1-6 1-16 1 10 1-1 1 10 1-2 1-14 1 15 1-5 1-3 1 1 1 6 1-7 1 9 1 5 1-11 1 3 1 4 1-4 1 10 1-13 1-5 1 22 1-7 1-2 1 3 1-9 1-9 1 9 1-8 1 8 1-2 1 7 1-6 1 9 1-16 1 17 1 0 1-10 1 9 1-11 1-1 1 4 1 17 1-15 1-2 1 2 1 0 1 5 1-2 1-6 1 0 1 7 1-8 1-4 1-1 1 9 1-16 1 25 1-14 1 3 1 2 1 0 1 4 1-6 1 3 1 1 1-1 1 1 1-7 1-4 1 9 1-3 1-7 1 15 1-9 1 6 1-5 1-2 1-5 1 13 1-9 1 7 1-9 1 15 1-16 1-5 1-2 1 6 1 9 1 5 1-12 1 3 1 16 1-3 1-14 1 6 1 11 1-4 1-3 1-10 1 0 1 1 1 4 1 0 1 1 1-12 1 19 1-12 1-2 1 4 1 14 1-12 1 0 1 5 1-1 1-2 1-5 1 7 1-6 1 9 1-21 1 26 1-11 1 8 1-1 1-10 1-8 1 16 1-8 1 7 1-10 1 25 1-23 1 7 1-1 1 1 1 7 1-15 1 2 1 8 1-3 1 0 1 9 1-11 1-3 1 3 1 0 1 9 1-5 1 5 1-5 1-5 1-15 1 17 1-1 1 3 1-1 1-9 1 11 1-4 1-5 1 12 1-24 1 20 1-5 1-8 1 13 1 16 1-21 1-4 1 5 1-7 1 6 1-12 1 1 1 11 1-8 1 12 1-7 1-3 1 15 1-10 1 17 1-6 1 1 1-16 1 12 1-16 1 17 1-3 1 5 1-9 1 4 1-2 1-5 1 4 1 5 1 3 1-9 1-12 1 4 1 7 1 6 1-11 1 5 1 5 1 0 1 1 1 2 1-6 1 3 1-5 1 4 1 8 1-12 1-12 1 23 1-12 1 8 1-8 1-17 1 10 1 13 1 2 1-1 1-9 1 7 1 5 1-9 1 15 1-9 1-13 1 11 1-2 1 5 1 0 1 2 1-2 1 3 1 5 1-13 1 6 1-12 1 1 1 0 1-3 1-1 1 11 1-12 1-4 1 9 1 13 1-7 1-2 1 5 1 2 1-16 1 11 1 0 1-6 1 9 1-17 1 11 1-1 1 12 1-6 1-10 1 5 1 2 1 1 1-5 1 15 1-23 1 5 1 0 1 17 1-13 1-8 1 12 1 4 1 6 1-8 1-7 1 15 1-4 1-13 1 13 1-8 1 1 1-7 1 13 1-6 1 6 1-17 1 13 1-16 1 19 1-5 1-14 1 10 1-3 1 9 1-2 1 4 1-6 1-6 1-1 1 4 1 17 1-20 1 2 1 6 1 1 1 12 1-8 1-10 1-5 1 9 1 6 1-4 1-4 1 11 1-8 1-4 1-5 1 13 1 5 1-9 1 3 1-1 1 2 1-5 1 6 1-10 1 6 1 4 1-17 1 7 1 4 1 4 1 10 1-17 1-1 1 9 1-7 1 7 1-5 1-1 1 7 1-2 1-7 1 8 1 7 1 1 1-11 1-13 1 10 1-3 1-2 1 6 1-9 1 23 1-13 1-11 1 8 1-7 1-3 1 11 1 14 1-5 1-11 1-16 1 17 1 19 1-16 1 0 1-1 1-4 1 26 1-42 1 12 1 3 1 2 1 10 1-6 1-14 1 8 1 0 1 5 1 2 1-4 1-8 1-1 1 3 1 16 1-6 1-2 1 7 1-13 1 13 1-27 1 16 1 3 1 8 1-5 1-13 1 25 1-10 1-13 1 29 1-19 1 7 1-14 1 14 1 2 1-8 1-13 1 14 1-3 1-1 1 7 1-4 1-1 1-4 1 3 1 2 1 8 1-21 1 12 1 1 1-7 1-5 1 9 1-1 1 8 1-7 1-1 1 6 1-7 1 10 1-16 1 17 1-13 1 11 1-9 1-5 1 18 1-9 1-1 1 8 1-4 1-12 1 16 1-5 1 7 1-2 1-10 1-5 1 17 1-14 1 0 1 21 1-20 1 15 1-1 1-1 1-1 1-7 1-5 1-4 1 19 1-25 1 21 1 7 1-18 1 0 1-4 1 1 1-2 1 15 1-3 1 1 1-7 1 7 1-15 1 7 1-3 1 11 1 0 1-1 1-3 1 24 1-13 1-18 1 5 1-4 1 7 1 5 1-7 1 5 1-9 1 5 1-2 1-2 1 9 1 0 1-1 1-3 1-9 1 10 1 0 1-8 1-4 1 6 1-5 1 8 1-1 1 1 1-7 1 7 1 0 1 9 1-1 1-7 1 2 1-11 1 12 1-8 1 6 1 6 1 1 1-6 1-3 1 8 1-14 1 3 1-2 1 5 1-4 1 1 1 15 1-7 1-16 1 16 1-7 1-2 1 3 1-2 1-12 1 26 1-3 1-18 1 4 1 10 1-14 1 15 1 0 1-4 1 2 1-2 1 4 1 2 1-4 1-7 1 10 1 1 1-10 1 6 1-15 1 1 1 16 1 9 1-6 1-9 1 7 1-13 1 17 1-5 1-5 1-10 1 18 1-10 1 3 1-2 1 5 1-1 1-2 1-1 1 9 1-8 1-1 1-5 1 8 1-12 1 21 1-2 1-4 1-5 1-8 1 5 1 0 1 2 1 7 1-19 1 7 1 10 1-4 1 0 1-6 1 0 1-1 1 9 1-8 1 4 1 6 1-6 1 3 1 0 1-5 1 10 1-26 1 13 1 3 1-7 1 11 1-13 1 34 1-23 1 7 1 9 1-25 1 1 1 12 1-14 1-6 1 21 1-8 1 1 1 11 1 0 1-12 1 19 1-10 1-6 1-1 1 7 1-4 1-6 1 3 1-5 1 2 1 1 1 12 1-5 1-1 1-7 1 10 1 5 1-7 1 9 1-9 1-17 1 27 1-24 1 21 1-5 1-4 1 1 1-1 1-3 1-3 1-3 1 11 1 4 1 4 1-9 1 4 1-4 1 11 1-18 1 0 1 4 1-2 1 12 1-10 1 0 1 7 1-12 1 12 1-3 1-9 1 9 1-8 1 6 1 8 1-4 1 4 1-4 1-3 1-5 1-4 1 20 1-10 1-1 1-10 1 3 1 5 1 7 1-6 1 7 1 3 1-15 1 8 1 2 1-11 1 5 1-17 1 6 1 5 1 7 1 3 1-19 1 16 1 12 1-12 1-2 1-2 1 15 1-26 1 12 1-2 1-1 1 2 1-4 1 5 1-8 1 13 1 2 1-1 1-9 1 0 1 9 1 1 1-4 1-2 1 3 1-11 1 12 1-3 1 4 1-4 1-2 1 3 1-1 1 8 1-13 1 7 1-1 1 2 1-9 1-1 1 3 1 9 1-10 1 10 1-3 1 5 1-3 1-13 1 10 1 3 1-14 1 11 1-5 1 16 1 1 1 3 1-16 1 15 1-18 1-6 1 8 1 3 1-7 1 12 1-21 1 12 1-4 1 8 1-15 1 4 1 11 1-11 1 6 1 5 1 9 1-11 1 11 1-22 1 16 1-20 1 28 1 2 1-2 1-21 1 17 1-16 1 8 1 4 1-5 1-3 1-3 1-3 1 14 1-13 1 6 1-2 1-5 1 8 1-4 1-5 1 22 1-7 1 5 1 6 1-15 1-12 1 7 1 8 1-15 1 2 1-7 1-1 1 15 1 5 1-2 1-8 1 25 1-15 1-9 1 10 1 0 1-3 1 3 1 5 1-7 1-4 1-7 1-2 1 10 1 5 1 9 1-22 1 9 1-3 1-2 1 2 1 4 1-1 1-7 1 22 1-17 1-1 1-18 1 26 1 2 1-7 1-7 1 22 1-27 1 4 1 30 1-3 1-32 1 13 1-18 1 21 1 17 1-16 1 5 1-15 1 9 1 18 1-3 1-16 1-17 1 14 1-8 1 32 1-25 1 1 1-5 1 8 1 19 1-16 1-2 1-9 1 6 1-3 1 8 1-9 1 3 1-1 1 4 1-2 1-2 1 1 1 20 1-17 1-8 1 1 1 10 1-8 1 7 1-7 1 9 1-7 1 9 1-7 1-2 1 0 1-1 1-8 1 13 1-6 1 6 1-7 1 1 1 8 1-8 1 2 1 3 1 0 1-9 1 7 1 1 1-5 1 2 1-1 1-1 1 13 1-10 1-6 1 4 1-3 1 1 1-6 1 11 1 0 1 18 1-24 1-3 1 10 1 1 1-9 1 16 1-5 1 6 1-23 1 9 1 11 1-12 1 5 1-2 1-13 1 20 1-20 1 25 1-8 1-2 1 5 1-1 1-11 1 10 1-6 1 4 1-4 1 2 1 6 1-7 1-3 1 3 1-9 1 2 1 20 1-1 1 8 1-10 1-8 1 11 1 3 1-6 1-16 1 14 1-4 1-8 1 13 1 1 1 1 1-17 1 2 1 3 1 8 1-10 1 3 1 9 1-26 1 17 1 0 1-5 1 2 1-4 1 13 1-8 1 14 1-11 1-13 1 8 1-10 1 20 1 2 1-8 1 12 1-12 1-3 1 6 1-3 1 7 1-7 1 1 1-2 1 13 1 3 1-1 1-10 1-1 1-8 1 9 1 2 1-19 1 25 1-6 1-6 1-3 1-3 1 5 1 5 1 4 1-19 1 14 1-8 1 16 1-3 1-5 1-17 1 6 1 3 1 19 1-20 1 8 1-2 1-5 1 15 1-8 1 3 1 5 1-6 1-3 1 12 1-6 1-12 1 10 1-8 1 0 1 4 1-1 1 0 1 3 1-9 1 7 1 12 1-6 1 13 1-16 1 6 1-10 1 16 1-23 1 13 1 12 1-28 1 15 1 5 1-7 1 18 1-14 1 2 1-2 1-14 1-1 1-7 1 20 1-1 1 3 1-6 1-3 1 10 1-21 1 16 1-3 1 11 1-11 1-1 1 9 1-18 1 13 1 12 1-1 1-12 1-1 1 2 1-8 1 1 1-3 1 15 1-2 1-18 1 13 1 7 1-5 1-9 1 14 1-10 1 16 1-11 1 5 1-3 1 2 1-5 1 10 1-9 1 2 1-6 1-6 1-10 1 26 1-5 1 8 1-8 1 1 1 6 1-12 1-2 1 15 1-14 1-11 1 17 1 12 1-2 1-15 1-4 1 5 1 0 1 0 1 0 1 9 1-17 1-10 1 13 1 11 1-8 1 10 1-5 1-9 1 7 1-3 1 19 1-5 1-17 1 6 1 22 1-35 1 14 1 5 1-16 1 2 1 17 1 4 1-23 1 5 1-2 1 8 1 7 1 7 1-7 1-17 1-2 1 14 1 9 1 3 1-35 1 20 1 15 1-17 1-8 1 18 1 2 1-9 1-11 1 10 1 13 1-12 1 4 1-3 1-2 1-6 1-1 1-8 1 15 1-1 1-1 1 4 1-15 1 5 1 16 1-12 1 7 1-13 1 8 1 14 1-16 1-14 1 20 1 17 1-34 1 23 1-17 1 11 1 7 1-6 1 7 1-7 1-5 1 11 1-16 1-4 1 21 1-16 1 8 1 7 1-7 1-2 1 7 1-4 1 0 1-8 1 8 1-3 1-2 1 0 1 7 1 5 1-9 1 5 1-7 1 11 1-8 1 1 1-7 1 4 1 1 1-6 1 8 1 0 1-2 1-7 1 0 1 4 1 4 1-9 1 17 1 0 1-7 1-12 1 0 1 10 1 13 1-11 1-5 1 12 1-3 1-15 1 13 1-10 1 14 1-2 1-4 1-6 1 6 1 0 1 4 1-12 1 16 1-12 1 14 1-21 1 20 1-7 1 6 1-12 1-9 1 14 1-13 1 14 1-26 1 19 1 2 1 1 1-4 1-12 1 9 1 14 1 4 1 7 1-24 1 13 1 10 1-13 1-14 1 19 1-7 1 10 1-19 1 9 1-4 1 7 1 0 1-5 1 10 1-23 1 2 1 9 1 6 1-8 1-3 1 13 1 0 1-5 1 0 1 5 1-8 1-4 1-2 1 5 1-5 1 13 1 0 1-5 1 8 1 8 1-26 1 19 1 10 1-16 1-2 1 2 1 2 1-2 1-2 1-4 1 3 1 3 1-4 1 5 1 3 1-9 1 10 1-6 1 6 1-5 1-15 1 16 1-4 1-6 1 10 1-10 1 9 1-3 1 15 1-16 1 2 1-6 1 12 1 1 1-11 1-8 1 19 1-4 1-15 1 13 1-1 1-6 1 3 1 0 1 12 1-11 1 1 1 7 1 8 1-25 1 6 1 14 1-8 1-1 1 4 1-2 1-8 1 6 1 5 1 1 1-6 1-6 1 4 1 0 1 7 1-4 1-8 1 5 1-7 1 3 1 5 1 0 1-15 1 21 1-17 1 12 1-3 1 1 1-4 1 5 1-14 1 14 1 0 1 1 1 2 1-3 1-4 1 1 1 11 1-9 1-4 1 12 1-6 1 2 1 8 1 0 1-19 1 3 1-4 1 16 1-7 1 1 1 5 1 0 1-14 1 16 1-5 1-1 1 2 1-11 1 7 1 19 1-28 1 12 1 11 1-6 1-29 1 23 1 14 1-38 1 29 1 6 1-3 1-8 1-11 1 7 1 10 1 4 1 4 1-13 1-12 1 6 1-7 1 11 1 12 1-8 1-2 1 4 1-9 1 2 1 1 1 7 1-7 1-12 1 13 1 3 1-12 1 14 1-8 1 4 1-5 1 5 1 2 1-3 1 12 1-22 1 10 1-11 1 13 1-1 1-10 1 2 1 2 1-10 1 14 1-4 1 4 1 6 1-14 1 9 1-6 1 4 1-4 1 4 1-2 1 2 1 0 1-4 1 7 1-5 1 7 1-3 1 9 1-7 1 1 1-5 1-6 1 0 1 2 1 2 1-11 1 13 1 3 1-5 1 5 1-8 1 11 1 5 1-17 1 15 1 0 1-15 1 7 1-13 1 11 1 4 1 1 1 2 1-18 1 10 1 2 1-2 1 9 1-4 1-11 1-4 1 8 1-4 1-6 1 19 1 2 1-1 1-1 1-21 1 16 1 8 1-4 1-16 1 18 1-7 1 2 1 2 1-7 1-1 1 2 1 2 1 10 1-4 1-6 1 6 1-1 1-1 1 4 1-10 1-7 1 1 1 7 1-1 1 6 1 12 1-18 1-1 1-6 1 13 1-4 1-2 1 4 1 4 1-9 1 15 1-7 1 0 1 4 1 5 1-5 1 2 1-13 1-2 1 3 1 2 1 9 1 0 1-8 1 3 1 11 1-16 1 11 1 0 1 4 1-29 1 21 1-9 1 13 1-25 1 12 1-2 1 2 1 3 1 4 1 12 1-17 1-9 1 13 1 7 1-5 1-4 1 1 1 6 1-6 1-6 1 16 1-10 1 6 1-5 1-6 1-3 1 19 1-15 1 7 1-6 1-13 1 35 1 3 1-28 1 11 1-3 1-8 1 9 1 4 1-34 1 34 1-1 1-6 1 1 1 6 1-18 1 4 1 3 1 12 1-8 1 3 1 8 1-9 1-11 1 7 1 10 1 0 1-15 1 13 1-7 1 3 1-10 1 0 1 5 1-1 1 5 1-3 1-2 1 2 1-5 1 2 1 4 1-1 1-6 1-5 1 12 1-5 1 7 1 1 1-4 1 4 1 2 1-5 1-3 1-1 1 1 1 10 1 12 1-23 1-6 1 11 1-1 1-9 1 14 1-5 1-7 1-6 1 15 1 6 1-13 1-6 1 6 1 7 1-8 1 13 1-5 1-13 1 12 1-6 1-4 1 22 1-12 1 7 1-9 1 12 1-73 1 61 1-21 1 47 1 34 1-38 1-51 1 59 1-22 1-59 1 37 1 9 1 49 1-36 1 52 1-88 1 8 1 34 1-72 1 69 1 6 1-9 1-29 1-4 1 18 1 55 1-25 1 19 1 17 1-59 1-22 1-16 1 46 1-56 1 104 1-78 1 2 1 7 1-19 1 50 1 41 1-87 1 9 1 105 1-130 1 5 1 21 1-5 1 22 1-10 1 5 1-37 1 21 1-33 1 69 1-16 1-25 1 46 1-86 1 107 1-49 1 22 1 8 1-1 1-6 1 27 1-49 1-45 1 15 1 90 1-23 1-32 1-32 1 11 1 29 1-81 1 32 1 13 1 10 1 8 1-1 1 71 1-63 1 19 1 14 1-30 1-2 1-48 1-11 1 95 1-6 1 49 1-77 1 7 1 38 1 29 1-149 1 56 1 2 1 69 1-14 1-13 1-41 1-7 1 47 1-113 1 34 1 90 1-64 1 51 1-35 1 27 1-6 1-30 1 35 1-12 1 9 1-53 1 4 1 72 1-36 1 0 1 97 1-94 1-63 1 76 1 5 1-30 1-16 1 24 1 35 1-10 1 9 1-90 1 74 1 15 1-15 1-64 1 63 1 3 1-17 1-8 1 28 1 1 1 22 1-13 1-91 1 105 1-22 1-51 1 89 1-52 1-32 1-23 1-1 1 136 1-108 1 58 1-66 1 74 1-13 1 2 1-16 1 14 1 11 1-66 1-3 1 85 1-38 1-34 1-16 1-60 1 23 1 68 1 8 1-38 1 2 1 75 1-71 1-32 1 51 1 34 1 23 1-40 1-57 1 67 1 3 1-37 1-22 1 69 1 7 1-3 1 11 1-40 1 41 1-90 1 94 1-34 1 11 1-21 1-71 1 136 1-139 1 111 1-90 1 112 1-96 1 126 1-70 1-26 1 33 1-3 1-73 1 37 1 29 1-6 1-9 1 10 1-21 1 64 1-17 1-73 1 61 1-16 1 29 1 16 1-109 1 49 1-8 1-45 1 75 1 0 1 6 1-59 1 15 1 54 1-24 1-38 1 100 1-58 1-63 1 20 1 14 1 34 1-34 1 9 1 43 1-55 1 2 1 2 1 14 1-48 1 32 1 21 1 4 1-53 1 72 1-86 1 58 1-28 1 8 1 39 1 9 1-36 1-18 1-31 1 39 1 18 1-63 1 50 1-3 1-15 1-9 1 9 1 26 1-15 1 13 1 7 1-11 1 16 1 19 1-79 1 34 1 11 1-25 1 25 1 35 1-20 1-74 1 37 1 53 1-19 1 40 1-49 1 11 1 53 1-25 1-44 1 16 1-123 1 176 1-93 1 11 1 80 1-47 1 0 1 36 1-92 1 44 1-12 1-35 1 59 1-66 1 95 1-37 1-10 1 40 1 0 1-43 1 59 1-35 1 35 1-95 1 2 1 44 1 16 1 25 1-70 1-4 1 132 1-47 1-62 1-51 1 105 1-94 1-17 1-25 1 89 1-55 1 100 1-59 1 41 1-19 1-27 1 43 1-62 1 28 1-14 1 23 1-14 1-37 1 47 1 25 1-60 1 66 1-36 1-18 1 6 1 4 1 24 1-17 1 19 1 0 1-42 1 65 1-76 1 39 1-51 1 110 1-7 1-44 1-20 1 38 1-4 1 4 1-57 1 64 1 51 1-64 1-10 1-22 1 14 1 5 1 15 1-26 1 22 1 28 1-32 1-2 1-72 1 34 1 16 1 27 1-43 1 11 1 53 1-21 1-51 1 88 1 15 1 10 1-126 1 83 1-23 1 1 1-49 1 50 1-23 1-51 1 52 1-73 1 52 1 58 1-6 1-28 1 54 1 1 1-75 1 36 1-6 1-26 1 15 1-11 1-46 1 87 1-88 1 58 1 7 1 9 1-33 1 62 1-81 1 13 1 73 1-19 1-28 1 6 1-37 1 28 1-71 1 86 1 9 1-14 1-2 1 12 1 25 1 13 1-66 1 10 1 50 1-48 1-77 1 25 1 74 1-34 1 17 1-2 1 36 1-21 1-71 1 17 1 91 1-96 1 46 1-8 1 9 1 75 1-85 1-13 1 3 1 79 1-96 1 66 1-30 1 31 1-8 1 6 1-46 1 4 1 51 1-11 1-44 1 63 1-22 1-25 1-9 1 34 1-28 1 5 1-43 1 9 1 27 1 24 1-10 1 6 1 2 1-66 1 38 1-8 1-31 1 69 1-23 1 36 1-69 1 74 1-50 1 40 1-2 1-35 1-25 1-11 1 48 1-27 1 83 1-79 1 23 1 5 1-19 1 58 1-44 1 74 1-66 1 47 1-71 1 19 1 69 1-42 1-12 1-12 1-13 1 23 1-36 1-5 1 8 1 0 1 28 1 20 1-6 1 25 1 4 1-120 1 20 1 65 1-34 1 58 1-84 1 51 1 87 1-53 1-61 1 98 1-80 1-13 1 4 1 4 1 79 1-68 1 18 1-81 1-19 1 53 1 39 1-32 1-1 1 25 1-30 1-45 1 40 1-24 1 21 1 38 1-95 1 121 1-61 1 30 1 23 1 16 1 17 1-75 1 10 1 43 1-85 1 55 1-16 1-4 1 20 1 12 1-44 1-57 1 77 1-36 1 39 1 48 1-103 1 38 1 3 1-33 1 76 1-22 1 14 1-53 1 57 1 68 1-74 1 73 1-55 1-25 1 28 1-70 1 87 1-48 1-10 1-11 1 18 1-61 1 73 1-50 1 58 1-43 1 9 1-16 1 23 1 18 1-20 1 13 1-9 1 2 1-4 1-24 1 40 1 23 1-21 1-64 1 46 1 43 1-25 1-23 1-38 1 34 1-29 1-1 1 73 1-57 1 90 1-33 1-11 1-16 1-17 1-77 1 85 1 37 1-58 1 32 1-44 1 48 1-30 1 18 1-25 1 12 1 38 1-87 1 124 1-122 1 46 1-11 1 49 1-48 1 31 1-48 1 25 1 49 1-6 1 17 1-94 1 56 1-7 1-59 1 45 1 61 1-44 1-54 1 39 1 4 1 18 1-21 1 36 1-3 1-146 1 147 1-7 1-29 1 16 1-23 1 35 1-4 1-28 1-44 1 101 1-34 1 8 1-46 1 4 1 20 1-25 1 86 1-11 1-1 1 16 1-40 1-42 1 24 1-14 1-6 1-26 1 65 1-49 1 84 1-118 1 90 1 25 1-34 1 14 1-21 1 5 1 16 1-44 1 44 1-30 1-16 1 26 1-13 1 16 1-19 1-19 1 44 1-71 1 36 1-6 1-6 1 2 1-13 1 39 1 54 1-62 1-27 1-14 1 68 1-99 1 68 1-2 1 61 1-107 1 119 1-94 1 2 1 0 1 16 1 98 1-123 1 63 1 38 1-40 1-33 1 37 1-57 1-20 1-19 1 98 1 12 1-32 1-10 1-46 1 20 1 84 1 16 1-57 1 17 1-14 1 10 1-7 1-55 1 64 1-14 1 26 1-64 1 34 1 11 1-36 1 1 1 44 1-46 1 79 1-46 1-32 1 29 1-72 1 91 1 19 1-13 1-126 1 118 1-33 1 35 1 50 1-26 1-40 1 24 1-73 1 19 1-53 1 43 1 43 1-35 1 89 1-87 1 30 1-17 1 14 1 41 1-112 1 3 1-39 1 61 1 78 1-40 1 64 1-46 1-28 1 20 1-25 1 80 1-93 1 31 1-39 1 80 1 53 1-113 1 14 1 95 1-102 1 15 1-56 1 28 1-19 1-8 1 7 1 34 1-43 1 34 1-19 1 2 1 14 1-13 1 72 1-51 1 8 1 25 1 58 1 0 1-118 1 30 1-49 1 129 1-64 1-26 1-7 1 5 1 23 1-23 1 6 1-7 1-58 1 28 1-12 1 110 1-66 1 22 1-22 1 95 1-70 1-35 1 15 1-26 1-12 1 51 1-12 1 7 1-7 1-70 1 89 1 18 1-29 1 16 1-14 1 15 1-10 1-8 1 8 1 8 1-2 1-32 1 54 1 2 1-54 1 25 1 42 1-17 1-101 1 134 1-10 1-104 1 86 1-13 1-15 1 8 1 58 1-104 1 50 1-36 1-26 1 15 1 71 1-86 1 60 1 31 1-103 1 137 1-64 1-11 1-18 1 9 1 60 1-105 1-24 1 87 1 6 1-68 1-2 1 37 1-2 1-31 1 83 1-2 1-42 1 6 1 44 1-95 1-16 1 44 1-27 1 45 1-1 1-7 1-10 1-20 1-20 1 43 1-19 1 0 1 38 1 20 1-34 1 4 1 48 1-17 1 15 1-57 1-20 1 103 1-54 1 4 1-39 1-3 1 84 1-24 1 9 1-7 1-47 1 46 1-35 1 16 1-7 1 29 1-58 1-27 1 73 1-29 1-10 1 2 1-6 1 49 1-28 1 29 1-75 1 70 1-12 1-29 1 87 1-75 1 12 1-68 1 53 1-22 1 6 1-4 1 66 1-71 1 25 1 29 1-30 1 20 1-36 1 46 1-52 1 49 1-2 1 32 1-59 1-4 1 43 1-47 1 24 1-2 1-9 1 97 1-107 1 126 1-70 1 8 1-39 1-24 1 12 1-4 1 59 1-66 1-6 1 17 1 9 1-19 1 37 1-8 1-40 1-32 1 34 1 14 1 71 1-70 1 0 1-81 1 88 1 73 1-54 1 39 1-59 1-48 1 23 1 33 1-8 1-37 1 59 1-18 1-61 1 112 1-131 1 45 1 108 1-107 1 23 1-16 1 26 1-53 1 52 1-42 1 44 1-6 1-38 1 17 1-1 1 11 1 90 1-125 1 85 1-81 1 83 1-92 1 100 1-48 1-34 1-23 1 45 1 60 1-64 1-47 1 107 1-69 1-6 1 7 1 15 1-5 1 100 1-58 1 21 1-24 1-64 1 95 1-65 1 40 1 56 1-58 1-56 1-13 1-48 1 116 1-21 1-32 1 70 1-44 1-4 1 6 1-10 1-10 1-44 1 114 1-51 1-1 1 14 1-59 1 72 1 20 1-109 1 99 1-63 1 98 1-71 1 26 1-22 1-13 1 3 1 7 1 28 1-34 1-1 1 11 1-60 1 43 1 21 1 17 1-48 1 59 1 9 1-25 1 3 1 6 1-90 1 6 1 15 1 116 1-65 1-45 1 54 1-56 1 36 1 5 1-11 1 67 1-60 1-10 1-27 1 19 1 21 1 0 1 74 1-79 1 29 1-112 1 68 1 41 1-77 1 43 1 47 1-78 1 31 1-38 1 12 1 64 1-100 1 77 1 17 1-55 1 86 1-41 1 15 1-44 1-30 1 73 1-31 1-49 1 95 1-51 1 10 1 10 1-55 1 16 1 36 1 18 1-1 1 21 1-5 1-51 1 22 1 22 1-10 1 2 1-65 1 16 1 73 1-3 1-47 1-33 1 62 1-56 1 38 1-74 1 93 1-98 1 101 1-16 1 12 1 3 1-79 1 16 1-36 1 103 1-68 1 12 1-20 1 59 1-36 1-11 1 1 1 69 1-54 1 20 1-41 1 33 1 9 1-43 1 5 1 0 1 19 1 51 1-84 1 11 1 29 1-1 1-41 1-12 1 101 1-48 1-44 1 58 1-17 1 38 1 16 1 7 1-6 1-22 1-81 1 100 1 10 1-106 1 141 1-19 1-16 1-84 1-15 1 26 1-2 1 32 1-5 1 38 1-80 1 97 1-88 1 46 1-34 1 58 1-33 1-18 1-8 1 10 1 23 1-31 1 18 1-11 1 73 1-62 1 19 1-45 1 6 1 16 1-55 1 62 1 28 1 28 1-59 1-93 1 102 1-62 1 55 1 11 1-65 1 47 1 24 1-29 1 47 1 15 1-82 1 43 1-21 1 39 1-21 1 12 1-10 1 22 1-120 1 38 1 51 1 1 1 9 1-59 1 62 1-50 1 47 1-18 1 66 1-21 1-12 1-35 1-93 1 26 1 102 1-51 1 21 1-44 1-17 1 47 1 58 1-58 1-2 1-13 1-45 1 153 1-73 1-19 1 49 1-100 1 125 1-95 1 35 1 2 1-51 1-51 1 84 1-6 1 89 1-104 1 13 1-37 1 76 1-28 1 32 1-30 1 25 1-36 1 61 1-42 1 60 1-74 1 28 1 1 1 21 1 39 1-133 1 68 1-34 1 53 1-6 1-54 1 12 1 48 1-24 1-32 1 43 1-45 1 27 1 18 1-37 1 49 1-59 1 35 1-7 1-12 1 1 1-15 1 9 1 38 1 13 1-10 1-92 1 120 1-34 1 21 1-86 1 72 1-34 1-33 1 12 1 89 1-55 1-58 1 58 1 15 1-65 1 47 1 13 1-41 1 42 1 60 1-139 1 52 1-21 1 12 1 0 1 8 1 36 1-32 1-5 1 25 1 33 1-92 1-7 1 39 1 40 1 16 1-23 1-36 1 43 1-43 1 10 1 100 1-63 1 12 1-5 1-26 1 23 1-125 1 93 1 15 1 64 1-76 1-3 1-15 1 4 1-37 1 14 1 4 1 80 1-26 1-37 1 39 1-14 1-5 1 74 1-63 1 27 1-55 1 46 1-84 1 115 1-28 1-7 1-28 1-14 1-10 1 25 1-4 1-16 1-8 1 6 1-53 1 106 1-39 1-61 1 71 1 18 1 50 1-40 1 2 1-26 1 14 1-10 1-28 1 28 1-19 1-35 1 17 1 7 1 53 1-118 1 91 1-7 1 44 1-35 1-10 1-41 1 10 1 71 1-35 1-59 1 24 1-1 1 11 1-9 1 24 1-11 1-67 1 31 1 22 1 16 1 31 1 1 1-65 1 69 1-34 1 36 1-50 1 2 1 72 1-67 1-8 1 75 1-76 1 21 1 44 1-51 1 45 1-31 1-56 1 62 1-14 1 25 1-105 1 84 1-44 1 39 1-70 1 28 1 54 1-42 1 18 1 32 1-14 1 17 1-31 1 79 1-56 1-82 1 80 1-24 1 30 1-30 1 69 1-33 1-116 1 63 1-15 1 67 1-48 1 2 1 47 1-24 1-70 1 81 1-20 1 48 1-5 1 6 1 3 1-107 1 47 1 36 1-5 1 38 1 10 1-88 1 39 1-10 1-42 1 50 1-16 1-53 1 50 1 37 1-56 1 45 1 24 1-30 1-47 1-25 1 55 1 7 1-13 1-12 1 55 1-19 1-50 1 41 1-30 1-2 1 87 1-41 1-25 1 9 1-40 1 46 1-21 1 40 1-69 1 48 1-14 1-28 1 50 1-31 1-21 1 47 1 40 1-103 1 14 1 47 1 12 1-33 1 35 1 6 1 27 1-71 1 11 1 27 1-14 1-53 1 27 1 52 1-25 1 29 1 1 1-61 1 16 1 14 1 36 1-8 1-70 1 42 1-41 1 57 1-23 1 12 1-16 1 12 1 8 1 5 1-2 1 13 1-28 1-41 1 50 1 15 1-44 1 35 1-46 1 59 1-39 1 19 1-24 1 46 1-6 1-54 1-13 1 43 1 1 1-1 1-30 1 96 1-70 1-2 1 15 1 48 1-38 1-21 1 55 1-80 1 58 1-6 1-73 1 30 1 92 1-87 1-6 1-7 1-28 1 17 1 71 1-23 1 26 1-32 1-27 1 34 1-26 1-15 1 27 1 10 1 3 1 13 1 5 1-14 1-32 1 8 1 57 1-48 1 6 1 1 1-40 1 33 1 7 1-57 1 83 1-59 1 78 1-58 1 39 1-65 1 52 1-69 1 36 1 10 1-18 1 27 1 26 1-37 1-30 1 50 1-6" fill="none" stroke="#0000ff" stroke-width="0.45" stroke-linejoin="bevel" vector-effect="non-scaling-stroke"/>
<path d="M47.5 745.0V787.0M66.5 739.0V787.0M68.5 758.0V787.0M74.5 757.0V787.0M80.5 762.0V787.0M88.5 769.3V787.0M111.5 737.0V787.0M436.5 706.3V787.0M441.5 761.8V787.0M457.5 758.5V787.0M468.5 757.3V787.0M473.5 755.2V787.0M478.5 766.3V787.0M495.5 722.1V787.0M527.5 767.8V787.0M542.5 719.8V787.0M547.5 694.3V787.0M568.5 751.3V787.0M590.5 737.8V787.0M603.5 752.8V787.0M622.5 760.3V787.0M632.5 737.8V787.0" stroke="#0000ff" stroke-opacity="0.4" stroke-width="1" fill="none"/>
<path d="M96.9 739.0V787.0M124.6 773.0V787.0M145.4 738.5V787.0M429.5 752.8V787.0M561.8 683.8V787.0M494.0 692.1V787.0M612.5 722.8V787.0" stroke="#0000ff" stroke-opacity="0.2" stroke-width="2" fill="none"/>
<path d="M108.3 749.0V787.0M168.8 764.0V787.0M178.7 731.0V787.0M500.1 760.3V787.0M454.5 697.3V787.0M487.0 680.8V787.0M640.5 749.8V787.0" stroke="#0000ff" stroke-opacity="0.2" stroke-width="3" fill="none"/>
<path d="M47.5 659.0V802.2M66.5 692.2V794.4M68.5 675.0V796.3M74.5 660.6V799.4M80.5 642.1V796.3M86.5 633.9V807.4M88.5 687.2V795.0M104.5 672.2V792.4M113.5 688.8V793.5M118.5 692.2V800.6M123.5 668.2V799.0M125.5 663.2V805.2M128.5 677.7V802.0M135.5 650.0V795.7M138.5 663.7V799.5M140.5 692.2V796.4M142.5 679.0V795.9M149.5 663.2V797.9M157.5 664.3V794.2M162.5 671.6V796.5M172.5 687.8V800.3M179.5 668.2V804.8M434.5 651.3V799.8M436.5 703.8V798.7M439.5 661.3V802.2M441.5 675.1V795.9M443.5 704.3V793.9M446.5 663.0V802.5M448.5 673.0V799.8M450.5 673.0V794.8M460.5 655.8V797.2M465.5 692.2V795.1M473.5 662.2V797.3M478.5 691.9V795.3M499.5 649.8V803.2M513.5 643.2V805.5M542.5 664.8V793.5M547.5 673.8V799.5M552.5 673.0V796.0M557.5 653.2V805.0M563.5 663.0V793.8M568.5 669.5V800.9M575.5 680.1V792.7M579.5 686.9V802.2M585.5 675.9V797.8M602.5 682.0V799.2M609.5 679.8V799.4M625.5 638.2V801.6M627.5 682.2V796.4M631.5 699.1V791.5M638.5 688.2V793.1" stroke="#0000ff" stroke-opacity="0.42" stroke-width="1" fill="none"/>
<path d="M44.25 669.0V799.9M50.25 675.3V795.6M52.75 677.4V800.6M55.75 712.7V795.0M60.25 641.8V806.3M64.00 657.9V795.1M71.25 680.9V797.4M77.00 658.5V805.3M83.25 666.1V797.1M91.25 661.3V799.7M93.75 671.9V795.4M97.00 664.1V794.2M99.75 670.9V793.7M102.25 682.2V798.0M106.75 659.0V801.1M108.75 669.0V801.9M111.25 673.0V795.1M116.25 668.7V799.7M119.75 762.0V789.5M120.75 686.1V795.9M144.75 666.7V793.2M146.75 686.9V797.7M151.75 658.5V805.5M154.75 664.8V803.3M160.25 652.9V803.4M164.75 678.0V799.2M167.00 670.9V795.8M168.75 704.8V799.5M170.75 721.4V791.9M174.75 704.1V796.1M178.00 685.0V799.6M428.00 675.9V793.0M453.00 664.3V805.7M454.75 700.1V794.6M457.00 683.0V799.8M463.25 676.4V799.8M468.25 665.8V797.2M471.25 696.1V791.3M476.25 669.0V798.5M480.75 672.7V796.6M485.75 654.8V800.0M488.25 670.1V792.6M490.75 689.2V793.7M493.00 684.1V793.1M495.25 685.9V800.4M502.00 666.2V794.1M506.75 661.3V799.9M516.00 654.8V797.2M518.75 664.8V797.9M521.25 667.2V797.3M523.75 659.8V806.3M527.75 676.9V798.4M530.75 697.2V800.0M536.75 643.7V796.2M539.75 681.1V794.9M544.75 689.2V792.5M549.75 697.5V797.9M554.75 653.2V803.6M560.00 641.4V800.3M561.75 686.2V793.4M566.00 670.8V800.3M571.25 675.3V798.6M573.75 676.2V796.3M577.75 693.8V793.0M581.75 678.2V792.1M587.75 674.1V792.7M589.75 685.9V798.9M593.25 669.2V795.1M595.75 686.2V802.3M598.25 688.0V795.6M600.25 687.2V802.1M606.75 639.7V805.1M612.75 660.1V793.0M614.75 700.3V798.1M618.25 675.0V800.7M629.25 665.3V800.0M633.75 691.7V799.9M635.75 700.1V800.0M643.25 719.8V792.4" stroke="#0000ff" stroke-opacity="0.26" stroke-width="1.5" fill="none"/>
<path d="M911.80 46.45v6M911.80 250.95v-6M987.20 46.45v6M987.20 250.95v-6M1062.60 46.45v6M1062.60 250.95v-6M1138.00 46.45v6M1138.00 250.95v-6M1213.40 46.45v6M1213.40 250.95v-6M1288.80 46.45v6M1288.80 250.95v-6M1364.20 46.45v6M1364.20 250.95v-6M836.40 48.50h6M1439.60 48.50h-6M836.40 64.75h6M1439.60 64.75h-6M836.40 83.25h6M1439.60 83.25h-6M836.40 103.75h6M1439.60 103.75h-6M836.40 127.75h6M1439.60 127.75h-6M836.40 154.55h6M1439.60 154.55h-6M836.40 186.55h6M1439.60 186.55h-6M836.40 204.85h6M1439.60 204.85h-6M836.40 225.45h6M1439.60 225.45h-6M836.40 248.65h6M1439.60 248.65h-6" stroke="#000" stroke-opacity="0.3" stroke-width="1" fill="none"/>
<text x="836.10" y="265.65" text-anchor="middle" textLength="30.7" lengthAdjust="spacingAndGlyphs">00:00</text>
<text x="911.50" y="265.65" text-anchor="middle" textLength="30.7" lengthAdjust="spacingAndGlyphs">03:00</text>
<text x="986.90" y="265.65" text-anchor="middle" textLength="30.7" lengthAdjust="spacingAndGlyphs">06:00</text>
<text x="1062.30" y="265.65" text-anchor="middle" textLength="30.7" lengthAdjust="spacingAndGlyphs">09:00</text>
<text x="1137.70" y="265.65" text-anchor="middle" textLength="30.7" lengthAdjust="spacingAndGlyphs">12:00</text>
<text x="1213.10" y="265.65" text-anchor="middle" textLength="30.7" lengthAdjust="spacingAndGlyphs">15:00</text>
<text x="1288.50" y="265.65" text-anchor="middle" textLength="30.7" lengthAdjust="spacingAndGlyphs">18:00</text>
<text x="1363.90" y="265.65" text-anchor="middle" textLength="30.7" lengthAdjust="spacingAndGlyphs">21:00</text>
<text x="1439.30" y="265.65" text-anchor="middle" textLength="30.7" lengthAdjust="spacingAndGlyphs">00:00</text>
<text x="832.80" y="52.10" text-anchor="end">22</text>
<text x="832.80" y="68.35" text-anchor="end">20</text>
<text x="832.80" y="86.85" text-anchor="end">18</text>
<text x="832.80" y="107.35" text-anchor="end">16</text>
<text x="832.80" y="131.35" text-anchor="end">14</text>
<text x="832.80" y="158.15" text-anchor="end">12</text>
<text x="832.80" y="190.15" text-anchor="end">10</text>
<text x="832.80" y="208.45" text-anchor="end">9</text>
<text x="832.80" y="229.05" text-anchor="end">8</text>
<text x="832.80" y="252.25" text-anchor="end">7</text>
<text x="809.50" y="148.70" text-anchor="middle" font-weight="bold" transform="rotate(-90 809.50 148.70)">freq (mHz)</text>
<linearGradient id="cb0" x1="0" y1="0" x2="0" y2="1"><stop offset="0.0000" stop-color="#800000"/><stop offset="0.0156" stop-color="#800000"/><stop offset="0.0156" stop-color="#8f0000"/><stop offset="0.0312" stop-color="#8f0000"/><stop offset="0.0312" stop-color="#9f0000"/><stop offset="0.0469" stop-color="#9f0000"/><stop offset="0.0469" stop-color="#af0000"/><stop offset="0.0625" stop-color="#af0000"/><stop offset="0.0625" stop-color="#bf0000"/><stop offset="0.0781" stop-color="#bf0000"/><stop offset="0.0781" stop-color="#cf0000"/><stop offset="0.0938" stop-color="#cf0000"/><stop offset="0.0938" stop-color="#df0000"/><stop offset="0.1094" stop-color="#df0000"/><stop offset="0.1094" stop-color="#ef0000"/><stop offset="0.1250" stop-color="#ef0000"/><stop offset="0.1250" stop-color="#ff0000"/><stop offset="0.1406" stop-color="#ff0000"/><stop offset="0.1406" stop-color="#ff1000"/><stop offset="0.1562" stop-color="#ff1000"/><stop offset="0.1562" stop-color="#ff2000"/><stop offset="0.1719" stop-color="#ff2000"/><stop offset="0.1719" stop-color="#ff3000"/><stop offset="0.1875" stop-color="#ff3000"/><stop offset="0.1875" stop-color="#ff4000"/><stop offset="0.2031" stop-color="#ff4000"/><stop offset="0.2031" stop-color="#ff5000"/><stop offset="0.2188" stop-color="#ff5000"/><stop offset="0.2188" stop-color="#ff6000"/><stop offset="0.2344" stop-color="#ff6000"/><stop offset="0.2344" stop-color="#ff7000"/><stop offset="0.2500" stop-color="#ff7000"/><stop offset="0.2500" stop-color="#ff8000"/><stop offset="0.2656" stop-color="#ff8000"/><stop offset="0.2656" stop-color="#ff8f00"/><stop offset="0.2812" stop-color="#ff8f00"/><stop offset="0.2812" stop-color="#ff9f00"/><stop offset="0.2969" stop-color="#ff9f00"/><stop offset="0.2969" stop-color="#ffaf00"/><stop offset="0.3125" stop-color="#ffaf00"/><stop offset="0.3125" stop-color="#ffbf00"/><stop offset="0.3281" stop-color="#ffbf00"/><stop offset="0.3281" stop-color="#ffcf00"/><stop offset="0.3438" stop-color="#ffcf00"/><stop offset="0.3438" stop-color="#ffdf00"/><stop offset="0.3594" stop-color="#ffdf00"/><stop offset="0.3594" stop-color="#ffef00"/><stop offset="0.3750" stop-color="#ffef00"/><stop offset="0.3750" stop-color="#ffff00"/><stop offset="0.3906" stop-color="#ffff00"/><stop offset="0.3906" stop-color="#efff10"/><stop offset="0.4062" stop-color="#efff10"/><stop offset="0.4062" stop-color="#dfff20"/><stop offset="0.4219" stop-color="#dfff20"/><stop offset="0.4219" stop-color="#cfff30"/><stop offset="0.4375" stop-color="#cfff30"/><stop offset="0.4375" stop-color="#bfff40"/><stop offset="0.4531" stop-color="#bfff40"/><stop offset="0.4531" stop-color="#afff50"/><stop offset="0.4688" stop-color="#afff50"/><stop offset="0.4688" stop-color="#9fff60"/><stop offset="0.4844" stop-color="#9fff60"/><stop offset="0.4844" stop-color="#8fff70"/><stop offset="0.5000" stop-color="#8fff70"/><stop offset="0.5000" stop-color="#80ff80"/><stop offset="0.5156" stop-color="#80ff80"/><stop offset="0.5156" stop-color="#70ff8f"/><stop offset="0.5312" stop-color="#70ff8f"/><stop offset="0.5312" stop-color="#60ff9f"/><stop offset="0.5469" stop-color="#60ff9f"/><stop offset="0.5469" stop-color="#50ffaf"/><stop offset="0.5625" stop-color="#50ffaf"/><stop offset="0.5625" stop-color="#40ffbf"/><stop offset="0.5781" stop-color="#40ffbf"/><stop offset="0.5781" stop-color="#30ffcf"/><stop offset="0.5938" stop-color="#30ffcf"/><stop offset="0.5938" stop-color="#20ffdf"/><stop offset="0.6094" stop-color="#20ffdf"/><stop offset="0.6094" stop-color="#10ffef"/><stop offset="0.6250" stop-color="#10ffef"/><stop offset="0.6250" stop-color="#00ffff"/><stop offset="0.6406" stop-color="#00ffff"/><stop offset="0.6406" stop-color="#00efff"/><stop offset="0.6562" stop-color="#00efff"/><stop offset="0.6562" stop-color="#00dfff"/><stop offset="0.6719" stop-color="#00dfff"/><stop offset="0.6719" stop-color="#00cfff"/><stop offset="0.6875" stop-color="#00cfff"/><stop offset="0.6875" stop-color="#00bfff"/><stop offset="0.7031" stop-color="#00bfff"/><stop offset="0.7031" stop-color="#00afff"/><stop offset="0.7188" stop-color="#00afff"/><stop offset="0.7188" stop-color="#009fff"/><stop offset="0.7344" stop-color="#009fff"/><stop offset="0.7344" stop-color="#008fff"/><stop offset="0.7500" stop-color="#008fff"/><stop offset="0.7500" stop-color="#0080ff"/><stop offset="0.7656" stop-color="#0080ff"/><stop offset="0.7656" stop-color="#0070ff"/><stop offset="0.7812" stop-color="#0070ff"/><stop offset="0.7812" stop-color="#0060ff"/><stop offset="0.7969" stop-color="#0060ff"/><stop offset="0.7969" stop-color="#0050ff"/><stop offset="0.8125" stop-color="#0050ff"/><stop offset="0.8125" stop-color="#0040ff"/><stop offset="0.8281" stop-color="#0040ff"/><stop offset="0.8281" stop-color="#0030ff"/><stop offset="0.8438" stop-color="#0030ff"/><stop offset="0.8438" stop-color="#0020ff"/><stop offset="0.8594" stop-color="#0020ff"/><stop offset="0.8594" stop-color="#0010ff"/><stop offset="0.8750" stop-color="#0010ff"/><stop offset="0.8750" stop-color="#0000ff"/><stop offset="0.8906" stop-color="#0000ff"/><stop offset="0.8906" stop-color="#0000ef"/><stop offset="0.9062" stop-color="#0000ef"/><stop offset="0.9062" stop-color="#0000df"/><stop offset="0.9219" stop-color="#0000df"/><stop offset="0.9219" stop-color="#0000cf"/><stop offset="0.9375" stop-color="#0000cf"/><stop offset="0.9375" stop-color="#0000bf"/><stop offset="0.9531" stop-color="#0000bf"/><stop offset="0.9531" stop-color="#0000af"/><stop offset="0.9688" stop-color="#0000af"/><stop offset="0.9688" stop-color="#00009f"/><stop offset="0.9844" stop-color="#00009f"/><stop offset="0.9844" stop-color="#00008f"/><stop offset="1.0000" stop-color="#00008f"/></linearGradient>
<rect x="1458.3" y="46.15" width="25.30" height="205.30" fill="url(#cb0)"/>
<rect x="1458.55" y="46.70" width="24.80" height="204.20" fill="none" stroke="#000" stroke-opacity="0.3" stroke-width="0.8"/>
<text x="1486.70" y="50.35" text-anchor="start">4</text>
<text x="1486.70" y="84.47" text-anchor="start">3</text>
<text x="1486.70" y="118.58" text-anchor="start">2</text>
<text x="1486.70" y="152.70" text-anchor="start">1</text>
<text x="1486.70" y="186.82" text-anchor="start">0</text>
<text x="1486.70" y="220.93" text-anchor="start">-1</text>
<text x="1486.70" y="255.05" text-anchor="start">-2</text>
<path d="M1458.30 80.57h2.5M1483.60 80.57h-2.5M1458.30 114.68h2.5M1483.60 114.68h-2.5M1458.30 148.80h2.5M1483.60 148.80h-2.5M1458.30 182.92h2.5M1483.60 182.92h-2.5M1458.30 217.03h2.5M1483.60 217.03h-2.5" stroke="#000" stroke-opacity="0.4" stroke-width="1" fill="none"/>
<text x="1518.6" y="148.70" text-anchor="middle" font-weight="bold" textLength="72.2" lengthAdjust="spacingAndGlyphs" transform="rotate(-90 1518.6 148.70)">log<tspan font-size="10.6" dy="4.4">2</tspan><tspan dy="-4.4">(nT</tspan><tspan font-size="10.6" dy="-5.6">2</tspan><tspan dy="5.6">/Hz)</tspan></text>
<path d="M911.80 331.25v6M911.80 536.00v-6M987.20 331.25v6M987.20 536.00v-6M1062.60 331.25v6M1062.60 536.00v-6M1138.00 331.25v6M1138.00 536.00v-6M1213.40 331.25v6M1213.40 536.00v-6M1288.80 331.25v6M1288.80 536.00v-6M1364.20 331.25v6M1364.20 536.00v-6M836.40 333.30h6M1439.60 333.30h-6M836.40 349.55h6M1439.60 349.55h-6M836.40 368.05h6M1439.60 368.05h-6M836.40 388.55h6M1439.60 388.55h-6M836.40 412.55h6M1439.60 412.55h-6M836.40 439.35h6M1439.60 439.35h-6M836.40 471.35h6M1439.60 471.35h-6M836.40 489.65h6M1439.60 489.65h-6M836.40 510.25h6M1439.60 510.25h-6M836.40 533.45h6M1439.60 533.45h-6" stroke="#000" stroke-opacity="0.3" stroke-width="1" fill="none"/>
<text x="836.10" y="550.70" text-anchor="middle" textLength="30.7" lengthAdjust="spacingAndGlyphs">00:00</text>
<text x="911.50" y="550.70" text-anchor="middle" textLength="30.7" lengthAdjust="spacingAndGlyphs">03:00</text>
<text x="986.90" y="550.70" text-anchor="middle" textLength="30.7" lengthAdjust="spacingAndGlyphs">06:00</text>
<text x="1062.30" y="550.70" text-anchor="middle" textLength="30.7" lengthAdjust="spacingAndGlyphs">09:00</text>
<text x="1137.70" y="550.70" text-anchor="middle" textLength="30.7" lengthAdjust="spacingAndGlyphs">12:00</text>
<text x="1213.10" y="550.70" text-anchor="middle" textLength="30.7" lengthAdjust="spacingAndGlyphs">15:00</text>
<text x="1288.50" y="550.70" text-anchor="middle" textLength="30.7" lengthAdjust="spacingAndGlyphs">18:00</text>
<text x="1363.90" y="550.70" text-anchor="middle" textLength="30.7" lengthAdjust="spacingAndGlyphs">21:00</text>
<text x="1439.30" y="550.70" text-anchor="middle" textLength="30.7" lengthAdjust="spacingAndGlyphs">00:00</text>
<text x="832.80" y="336.90" text-anchor="end">22</text>
<text x="832.80" y="353.15" text-anchor="end">20</text>
<text x="832.80" y="371.65" text-anchor="end">18</text>
<text x="832.80" y="392.15" text-anchor="end">16</text>
<text x="832.80" y="416.15" text-anchor="end">14</text>
<text x="832.80" y="442.95" text-anchor="end">12</text>
<text x="832.80" y="474.95" text-anchor="end">10</text>
<text x="832.80" y="493.25" text-anchor="end">9</text>
<text x="832.80" y="513.85" text-anchor="end">8</text>
<text x="832.80" y="537.05" text-anchor="end">7</text>
<text x="809.50" y="433.62" text-anchor="middle" font-weight="bold" transform="rotate(-90 809.50 433.62)">freq (mHz)</text>
<linearGradient id="cb1" x1="0" y1="0" x2="0" y2="1"><stop offset="0.0000" stop-color="#800000"/><stop offset="0.0156" stop-color="#800000"/><stop offset="0.0156" stop-color="#8f0000"/><stop offset="0.0312" stop-color="#8f0000"/><stop offset="0.0312" stop-color="#9f0000"/><stop offset="0.0469" stop-color="#9f0000"/><stop offset="0.0469" stop-color="#af0000"/><stop offset="0.0625" stop-color="#af0000"/><stop offset="0.0625" stop-color="#bf0000"/><stop offset="0.0781" stop-color="#bf0000"/><stop offset="0.0781" stop-color="#cf0000"/><stop offset="0.0938" stop-color="#cf0000"/><stop offset="0.0938" stop-color="#df0000"/><stop offset="0.1094" stop-color="#df0000"/><stop offset="0.1094" stop-color="#ef0000"/><stop offset="0.1250" stop-color="#ef0000"/><stop offset="0.1250" stop-color="#ff0000"/><stop offset="0.1406" stop-color="#ff0000"/><stop offset="0.1406" stop-color="#ff1000"/><stop offset="0.1562" stop-color="#ff1000"/><stop offset="0.1562" stop-color="#ff2000"/><stop offset="0.1719" stop-color="#ff2000"/><stop offset="0.1719" stop-color="#ff3000"/><stop offset="0.1875" stop-color="#ff3000"/><stop offset="0.1875" stop-color="#ff4000"/><stop offset="0.2031" stop-color="#ff4000"/><stop offset="0.2031" stop-color="#ff5000"/><stop offset="0.2188" stop-color="#ff5000"/><stop offset="0.2188" stop-color="#ff6000"/><stop offset="0.2344" stop-color="#ff6000"/><stop offset="0.2344" stop-color="#ff7000"/><stop offset="0.2500" stop-color="#ff7000"/><stop offset="0.2500" stop-color="#ff8000"/><stop offset="0.2656" stop-color="#ff8000"/><stop offset="0.2656" stop-color="#ff8f00"/><stop offset="0.2812" stop-color="#ff8f00"/><stop offset="0.2812" stop-color="#ff9f00"/><stop offset="0.2969" stop-color="#ff9f00"/><stop offset="0.2969" stop-color="#ffaf00"/><stop offset="0.3125" stop-color="#ffaf00"/><stop offset="0.3125" stop-color="#ffbf00"/><stop offset="0.3281" stop-color="#ffbf00"/><stop offset="0.3281" stop-color="#ffcf00"/><stop offset="0.3438" stop-color="#ffcf00"/><stop offset="0.3438" stop-color="#ffdf00"/><stop offset="0.3594" stop-color="#ffdf00"/><stop offset="0.3594" stop-color="#ffef00"/><stop offset="0.3750" stop-color="#ffef00"/><stop offset="0.3750" stop-color="#ffff00"/><stop offset="0.3906" stop-color="#ffff00"/><stop offset="0.3906" stop-color="#efff10"/><stop offset="0.4062" stop-color="#efff10"/><stop offset="0.4062" stop-color="#dfff20"/><stop offset="0.4219" stop-color="#dfff20"/><stop offset="0.4219" stop-color="#cfff30"/><stop offset="0.4375" stop-color="#cfff30"/><stop offset="0.4375" stop-color="#bfff40"/><stop offset="0.4531" stop-color="#bfff40"/><stop offset="0.4531" stop-color="#afff50"/><stop offset="0.4688" stop-color="#afff50"/><stop offset="0.4688" stop-color="#9fff60"/><stop offset="0.4844" stop-color="#9fff60"/><stop offset="0.4844" stop-color="#8fff70"/><stop offset="0.5000" stop-color="#8fff70"/><stop offset="0.5000" stop-color="#80ff80"/><stop offset="0.5156" stop-color="#80ff80"/><stop offset="0.5156" stop-color="#70ff8f"/><stop offset="0.5312" stop-color="#70ff8f"/><stop offset="0.5312" stop-color="#60ff9f"/><stop offset="0.5469" stop-color="#60ff9f"/><stop offset="0.5469" stop-color="#50ffaf"/><stop offset="0.5625" stop-color="#50ffaf"/><stop offset="0.5625" stop-color="#40ffbf"/><stop offset="0.5781" stop-color="#40ffbf"/><stop offset="0.5781" stop-color="#30ffcf"/><stop offset="0.5938" stop-color="#30ffcf"/><stop offset="0.5938" stop-color="#20ffdf"/><stop offset="0.6094" stop-color="#20ffdf"/><stop offset="0.6094" stop-color="#10ffef"/><stop offset="0.6250" stop-color="#10ffef"/><stop offset="0.6250" stop-color="#00ffff"/><stop offset="0.6406" stop-color="#00ffff"/><stop offset="0.6406" stop-color="#00efff"/><stop offset="0.6562" stop-color="#00efff"/><stop offset="0.6562" stop-color="#00dfff"/><stop offset="0.6719" stop-color="#00dfff"/><stop offset="0.6719" stop-color="#00cfff"/><stop offset="0.6875" stop-color="#00cfff"/><stop offset="0.6875" stop-color="#00bfff"/><stop offset="0.7031" stop-color="#00bfff"/><stop offset="0.7031" stop-color="#00afff"/><stop offset="0.7188" stop-color="#00afff"/><stop offset="0.7188" stop-color="#009fff"/><stop offset="0.7344" stop-color="#009fff"/><stop offset="0.7344" stop-color="#008fff"/><stop offset="0.7500" stop-color="#008fff"/><stop offset="0.7500" stop-color="#0080ff"/><stop offset="0.7656" stop-color="#0080ff"/><stop offset="0.7656" stop-color="#0070ff"/><stop offset="0.7812" stop-color="#0070ff"/><stop offset="0.7812" stop-color="#0060ff"/><stop offset="0.7969" stop-color="#0060ff"/><stop offset="0.7969" stop-color="#0050ff"/><stop offset="0.8125" stop-color="#0050ff"/><stop offset="0.8125" stop-color="#0040ff"/><stop offset="0.8281" stop-color="#0040ff"/><stop offset="0.8281" stop-color="#0030ff"/><stop offset="0.8438" stop-color="#0030ff"/><stop offset="0.8438" stop-color="#0020ff"/><stop offset="0.8594" stop-color="#0020ff"/><stop offset="0.8594" stop-color="#0010ff"/><stop offset="0.8750" stop-color="#0010ff"/><stop offset="0.8750" stop-color="#0000ff"/><stop offset="0.8906" stop-color="#0000ff"/><stop offset="0.8906" stop-color="#0000ef"/><stop offset="0.9062" stop-color="#0000ef"/><stop offset="0.9062" stop-color="#0000df"/><stop offset="0.9219" stop-color="#0000df"/><stop offset="0.9219" stop-color="#0000cf"/><stop offset="0.9375" stop-color="#0000cf"/><stop offset="0.9375" stop-color="#0000bf"/><stop offset="0.9531" stop-color="#0000bf"/><stop offset="0.9531" stop-color="#0000af"/><stop offset="0.9688" stop-color="#0000af"/><stop offset="0.9688" stop-color="#00009f"/><stop offset="0.9844" stop-color="#00009f"/><stop offset="0.9844" stop-color="#00008f"/><stop offset="1.0000" stop-color="#00008f"/></linearGradient>
<rect x="1458.3" y="330.95" width="25.30" height="205.30" fill="url(#cb1)"/>
<rect x="1458.55" y="331.50" width="24.80" height="204.20" fill="none" stroke="#000" stroke-opacity="0.3" stroke-width="0.8"/>
<text x="1486.70" y="335.15" text-anchor="start">4</text>
<text x="1486.70" y="369.27" text-anchor="start">3</text>
<text x="1486.70" y="403.38" text-anchor="start">2</text>
<text x="1486.70" y="437.50" text-anchor="start">1</text>
<text x="1486.70" y="471.62" text-anchor="start">0</text>
<text x="1486.70" y="505.73" text-anchor="start">-1</text>
<text x="1486.70" y="539.85" text-anchor="start">-2</text>
<path d="M1458.30 365.37h2.5M1483.60 365.37h-2.5M1458.30 399.48h2.5M1483.60 399.48h-2.5M1458.30 433.60h2.5M1483.60 433.60h-2.5M1458.30 467.72h2.5M1483.60 467.72h-2.5M1458.30 501.83h2.5M1483.60 501.83h-2.5" stroke="#000" stroke-opacity="0.4" stroke-width="1" fill="none"/>
<text x="1518.6" y="433.62" text-anchor="middle" font-weight="bold" textLength="72.2" lengthAdjust="spacingAndGlyphs" transform="rotate(-90 1518.6 433.62)">log<tspan font-size="10.6" dy="4.4">2</tspan><tspan dy="-4.4">(nT</tspan><tspan font-size="10.6" dy="-5.6">2</tspan><tspan dy="5.6">/Hz)</tspan></text>
<path d="M911.80 616.25v6M911.80 821.15v-6M987.20 616.25v6M987.20 821.15v-6M1062.60 616.25v6M1062.60 821.15v-6M1138.00 616.25v6M1138.00 821.15v-6M1213.40 616.25v6M1213.40 821.15v-6M1288.80 616.25v6M1288.80 821.15v-6M1364.20 616.25v6M1364.20 821.15v-6M836.40 618.30h6M1439.60 618.30h-6M836.40 634.55h6M1439.60 634.55h-6M836.40 653.05h6M1439.60 653.05h-6M836.40 673.55h6M1439.60 673.55h-6M836.40 697.55h6M1439.60 697.55h-6M836.40 724.35h6M1439.60 724.35h-6M836.40 756.35h6M1439.60 756.35h-6M836.40 774.65h6M1439.60 774.65h-6M836.40 795.25h6M1439.60 795.25h-6M836.40 818.45h6M1439.60 818.45h-6" stroke="#000" stroke-opacity="0.3" stroke-width="1" fill="none"/>
<text x="836.10" y="835.85" text-anchor="middle" textLength="30.7" lengthAdjust="spacingAndGlyphs">00:00</text>
<text x="911.50" y="835.85" text-anchor="middle" textLength="30.7" lengthAdjust="spacingAndGlyphs">03:00</text>
<text x="986.90" y="835.85" text-anchor="middle" textLength="30.7" lengthAdjust="spacingAndGlyphs">06:00</text>
<text x="1062.30" y="835.85" text-anchor="middle" textLength="30.7" lengthAdjust="spacingAndGlyphs">09:00</text>
<text x="1137.70" y="835.85" text-anchor="middle" textLength="30.7" lengthAdjust="spacingAndGlyphs">12:00</text>
<text x="1213.10" y="835.85" text-anchor="middle" textLength="30.7" lengthAdjust="spacingAndGlyphs">15:00</text>
<text x="1288.50" y="835.85" text-anchor="middle" textLength="30.7" lengthAdjust="spacingAndGlyphs">18:00</text>
<text x="1363.90" y="835.85" text-anchor="middle" textLength="30.7" lengthAdjust="spacingAndGlyphs">21:00</text>
<text x="1439.30" y="835.85" text-anchor="middle" textLength="30.7" lengthAdjust="spacingAndGlyphs">00:00</text>
<text x="832.80" y="621.90" text-anchor="end">22</text>
<text x="832.80" y="638.15" text-anchor="end">20</text>
<text x="832.80" y="656.65" text-anchor="end">18</text>
<text x="832.80" y="677.15" text-anchor="end">16</text>
<text x="832.80" y="701.15" text-anchor="end">14</text>
<text x="832.80" y="727.95" text-anchor="end">12</text>
<text x="832.80" y="759.95" text-anchor="end">10</text>
<text x="832.80" y="778.25" text-anchor="end">9</text>
<text x="832.80" y="798.85" text-anchor="end">8</text>
<text x="832.80" y="822.05" text-anchor="end">7</text>
<text x="809.50" y="718.70" text-anchor="middle" font-weight="bold" transform="rotate(-90 809.50 718.70)">freq (mHz)</text>
<linearGradient id="cb2" x1="0" y1="0" x2="0" y2="1"><stop offset="0.0000" stop-color="#800000"/><stop offset="0.0156" stop-color="#800000"/><stop offset="0.0156" stop-color="#8f0000"/><stop offset="0.0312" stop-color="#8f0000"/><stop offset="0.0312" stop-color="#9f0000"/><stop offset="0.0469" stop-color="#9f0000"/><stop offset="0.0469" stop-color="#af0000"/><stop offset="0.0625" stop-color="#af0000"/><stop offset="0.0625" stop-color="#bf0000"/><stop offset="0.0781" stop-color="#bf0000"/><stop offset="0.0781" stop-color="#cf0000"/><stop offset="0.0938" stop-color="#cf0000"/><stop offset="0.0938" stop-color="#df0000"/><stop offset="0.1094" stop-color="#df0000"/><stop offset="0.1094" stop-color="#ef0000"/><stop offset="0.1250" stop-color="#ef0000"/><stop offset="0.1250" stop-color="#ff0000"/><stop offset="0.1406" stop-color="#ff0000"/><stop offset="0.1406" stop-color="#ff1000"/><stop offset="0.1562" stop-color="#ff1000"/><stop offset="0.1562" stop-color="#ff2000"/><stop offset="0.1719" stop-color="#ff2000"/><stop offset="0.1719" stop-color="#ff3000"/><stop offset="0.1875" stop-color="#ff3000"/><stop offset="0.1875" stop-color="#ff4000"/><stop offset="0.2031" stop-color="#ff4000"/><stop offset="0.2031" stop-color="#ff5000"/><stop offset="0.2188" stop-color="#ff5000"/><stop offset="0.2188" stop-color="#ff6000"/><stop offset="0.2344" stop-color="#ff6000"/><stop offset="0.2344" stop-color="#ff7000"/><stop offset="0.2500" stop-color="#ff7000"/><stop offset="0.2500" stop-color="#ff8000"/><stop offset="0.2656" stop-color="#ff8000"/><stop offset="0.2656" stop-color="#ff8f00"/><stop offset="0.2812" stop-color="#ff8f00"/><stop offset="0.2812" stop-color="#ff9f00"/><stop offset="0.2969" stop-color="#ff9f00"/><stop offset="0.2969" stop-color="#ffaf00"/><stop offset="0.3125" stop-color="#ffaf00"/><stop offset="0.3125" stop-color="#ffbf00"/><stop offset="0.3281" stop-color="#ffbf00"/><stop offset="0.3281" stop-color="#ffcf00"/><stop offset="0.3438" stop-color="#ffcf00"/><stop offset="0.3438" stop-color="#ffdf00"/><stop offset="0.3594" stop-color="#ffdf00"/><stop offset="0.3594" stop-color="#ffef00"/><stop offset="0.3750" stop-color="#ffef00"/><stop offset="0.3750" stop-color="#ffff00"/><stop offset="0.3906" stop-color="#ffff00"/><stop offset="0.3906" stop-color="#efff10"/><stop offset="0.4062" stop-color="#efff10"/><stop offset="0.4062" stop-color="#dfff20"/><stop offset="0.4219" stop-color="#dfff20"/><stop offset="0.4219" stop-color="#cfff30"/><stop offset="0.4375" stop-color="#cfff30"/><stop offset="0.4375" stop-color="#bfff40"/><stop offset="0.4531" stop-color="#bfff40"/><stop offset="0.4531" stop-color="#afff50"/><stop offset="0.4688" stop-color="#afff50"/><stop offset="0.4688" stop-color="#9fff60"/><stop offset="0.4844" stop-color="#9fff60"/><stop offset="0.4844" stop-color="#8fff70"/><stop offset="0.5000" stop-color="#8fff70"/><stop offset="0.5000" stop-color="#80ff80"/><stop offset="0.5156" stop-color="#80ff80"/><stop offset="0.5156" stop-color="#70ff8f"/><stop offset="0.5312" stop-color="#70ff8f"/><stop offset="0.5312" stop-color="#60ff9f"/><stop offset="0.5469" stop-color="#60ff9f"/><stop offset="0.5469" stop-color="#50ffaf"/><stop offset="0.5625" stop-color="#50ffaf"/><stop offset="0.5625" stop-color="#40ffbf"/><stop offset="0.5781" stop-color="#40ffbf"/><stop offset="0.5781" stop-color="#30ffcf"/><stop offset="0.5938" stop-color="#30ffcf"/><stop offset="0.5938" stop-color="#20ffdf"/><stop offset="0.6094" stop-color="#20ffdf"/><stop offset="0.6094" stop-color="#10ffef"/><stop offset="0.6250" stop-color="#10ffef"/><stop offset="0.6250" stop-color="#00ffff"/><stop offset="0.6406" stop-color="#00ffff"/><stop offset="0.6406" stop-color="#00efff"/><stop offset="0.6562" stop-color="#00efff"/><stop offset="0.6562" stop-color="#00dfff"/><stop offset="0.6719" stop-color="#00dfff"/><stop offset="0.6719" stop-color="#00cfff"/><stop offset="0.6875" stop-color="#00cfff"/><stop offset="0.6875" stop-color="#00bfff"/><stop offset="0.7031" stop-color="#00bfff"/><stop offset="0.7031" stop-color="#00afff"/><stop offset="0.7188" stop-color="#00afff"/><stop offset="0.7188" stop-color="#009fff"/><stop offset="0.7344" stop-color="#009fff"/><stop offset="0.7344" stop-color="#008fff"/><stop offset="0.7500" stop-color="#008fff"/><stop offset="0.7500" stop-color="#0080ff"/><stop offset="0.7656" stop-color="#0080ff"/><stop offset="0.7656" stop-color="#0070ff"/><stop offset="0.7812" stop-color="#0070ff"/><stop offset="0.7812" stop-color="#0060ff"/><stop offset="0.7969" stop-color="#0060ff"/><stop offset="0.7969" stop-color="#0050ff"/><stop offset="0.8125" stop-color="#0050ff"/><stop offset="0.8125" stop-color="#0040ff"/><stop offset="0.8281" stop-color="#0040ff"/><stop offset="0.8281" stop-color="#0030ff"/><stop offset="0.8438" stop-color="#0030ff"/><stop offset="0.8438" stop-color="#0020ff"/><stop offset="0.8594" stop-color="#0020ff"/><stop offset="0.8594" stop-color="#0010ff"/><stop offset="0.8750" stop-color="#0010ff"/><stop offset="0.8750" stop-color="#0000ff"/><stop offset="0.8906" stop-color="#0000ff"/><stop offset="0.8906" stop-color="#0000ef"/><stop offset="0.9062" stop-color="#0000ef"/><stop offset="0.9062" stop-color="#0000df"/><stop offset="0.9219" stop-color="#0000df"/><stop offset="0.9219" stop-color="#0000cf"/><stop offset="0.9375" stop-color="#0000cf"/><stop offset="0.9375" stop-color="#0000bf"/><stop offset="0.9531" stop-color="#0000bf"/><stop offset="0.9531" stop-color="#0000af"/><stop offset="0.9688" stop-color="#0000af"/><stop offset="0.9688" stop-color="#00009f"/><stop offset="0.9844" stop-color="#00009f"/><stop offset="0.9844" stop-color="#00008f"/><stop offset="1.0000" stop-color="#00008f"/></linearGradient>
<rect x="1458.3" y="615.95" width="25.30" height="205.30" fill="url(#cb2)"/>
<rect x="1458.55" y="616.50" width="24.80" height="204.20" fill="none" stroke="#000" stroke-opacity="0.3" stroke-width="0.8"/>
<text x="1486.70" y="620.15" text-anchor="start">4</text>
<text x="1486.70" y="654.27" text-anchor="start">3</text>
<text x="1486.70" y="688.38" text-anchor="start">2</text>
<text x="1486.70" y="722.50" text-anchor="start">1</text>
<text x="1486.70" y="756.62" text-anchor="start">0</text>
<text x="1486.70" y="790.73" text-anchor="start">-1</text>
<text x="1486.70" y="824.85" text-anchor="start">-2</text>
<path d="M1458.30 650.37h2.5M1483.60 650.37h-2.5M1458.30 684.48h2.5M1483.60 684.48h-2.5M1458.30 718.60h2.5M1483.60 718.60h-2.5M1458.30 752.72h2.5M1483.60 752.72h-2.5M1458.30 786.83h2.5M1483.60 786.83h-2.5" stroke="#000" stroke-opacity="0.4" stroke-width="1" fill="none"/>
<text x="1518.6" y="718.70" text-anchor="middle" font-weight="bold" textLength="72.2" lengthAdjust="spacingAndGlyphs" transform="rotate(-90 1518.6 718.70)">log<tspan font-size="10.6" dy="4.4">2</tspan><tspan dy="-4.4">(nT</tspan><tspan font-size="10.6" dy="-5.6">2</tspan><tspan dy="5.6">/Hz)</tspan></text>
<text x="720.60" y="9.20" text-anchor="middle" font-weight="bold" textLength="293.5" lengthAdjust="spacingAndGlyphs" xml:space="preserve">DIONISOS Wavelet Spectra on 16 December  2012</text>
<text x="344.30" y="35.80" text-anchor="middle" font-weight="bold" textLength="195" lengthAdjust="spacingAndGlyphs">Filtered Series (cutoff at 7.5 mHz)</text>
<text x="1137.70" y="35.80" text-anchor="middle" font-weight="bold" textLength="112.6" lengthAdjust="spacingAndGlyphs">Pc4 Wavelet Power</text>
<text x="344.40" y="850.50" text-anchor="middle" font-weight="bold" textLength="62.3" lengthAdjust="spacingAndGlyphs">UT (hours)</text>
<text x="1137.80" y="850.50" text-anchor="middle" font-weight="bold" textLength="62.3" lengthAdjust="spacingAndGlyphs">UT (hours)</text>
</svg>
</body></html>
